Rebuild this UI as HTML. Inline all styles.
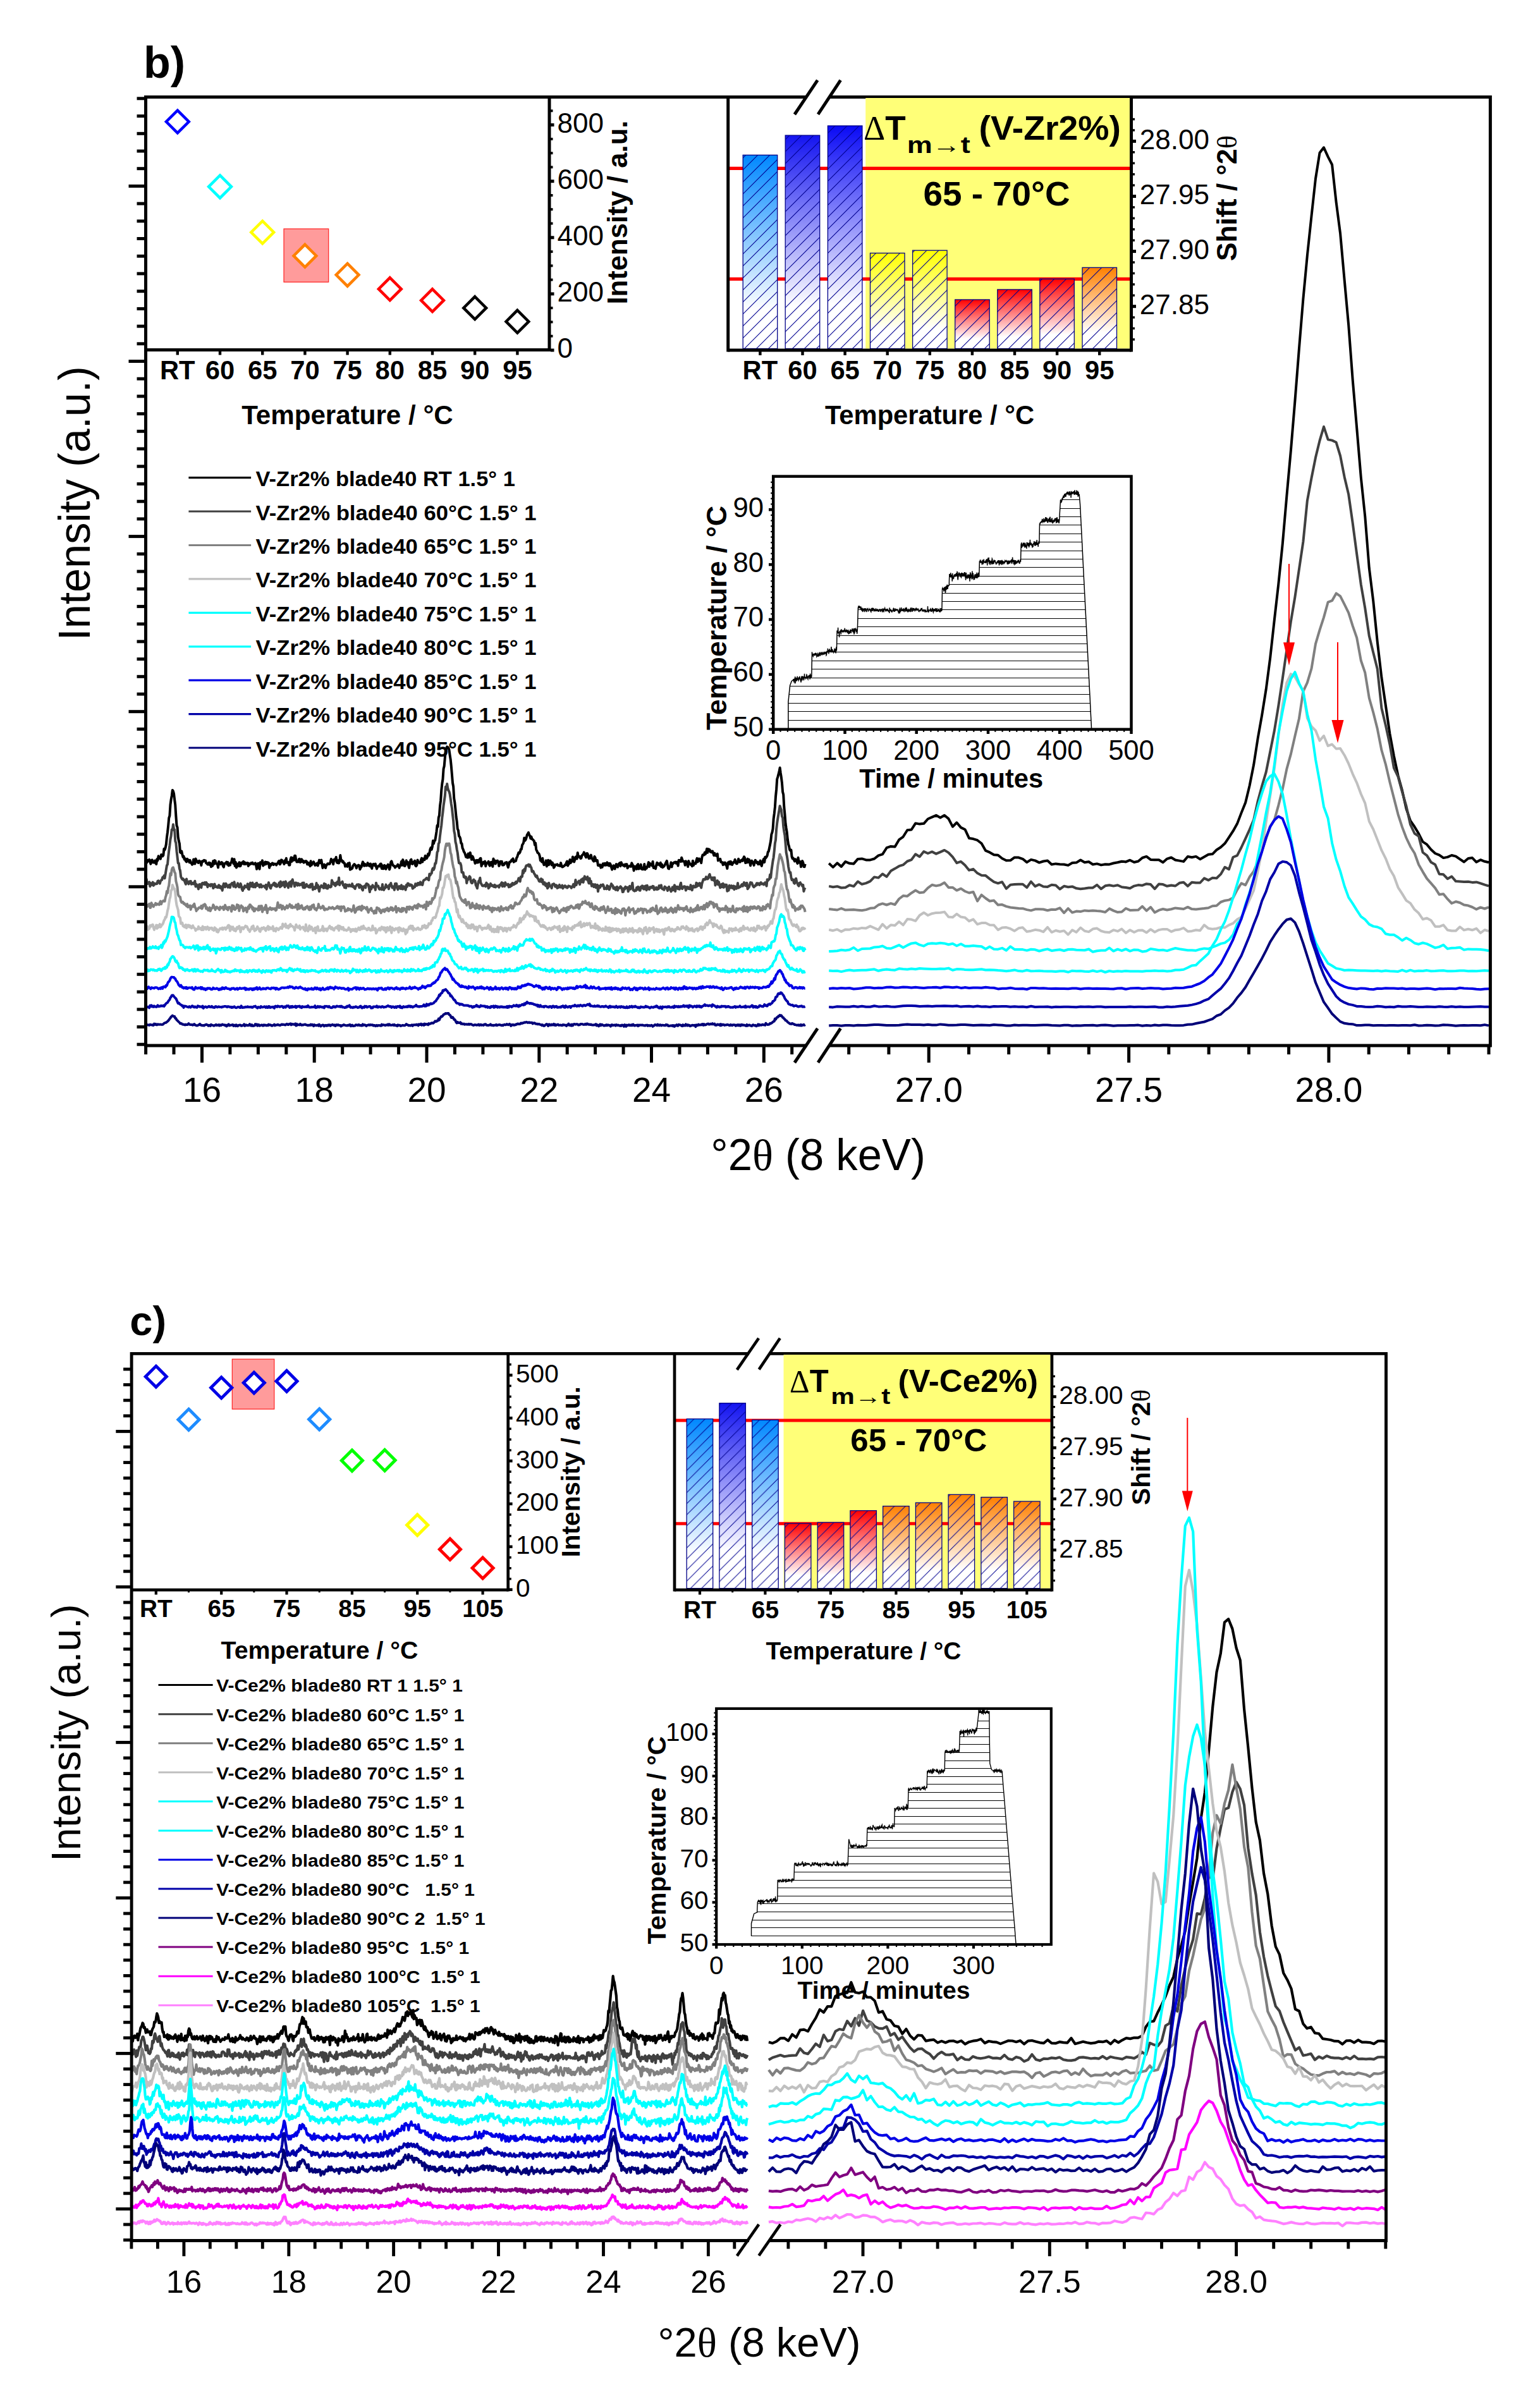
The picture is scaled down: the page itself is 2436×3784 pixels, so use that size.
<!DOCTYPE html>
<html><head><meta charset="utf-8"><title>XRD figure</title>
<style>html,body{margin:0;padding:0;background:#fff}svg text{white-space:pre}</style></head>
<body>
<svg width="2436" height="3784" viewBox="0 0 2436 3784" style="display:block">
<rect width="2436" height="3784" fill="#fff"/>
<path d="M0 13650l1 2 1-17 1-26 1 13 1-24 1 29 1 39 1-53 1-10 1 39 1 1 1 3 1-31 1 25 1 30 1-80 1 23 1-70 1 36 1-15 1 22 1-66 1 20 1 5 1-17 1-100 1 15 1-33 1-53 1-111 1-81 1-104 1-122 1-33 1-175 1-82 1-61 1-89 1 17 1 39 1 94 1 84 1 177 1 149 1 30 1 152 1 62 1 42 1 139 1 8 1-27 1 52 1 40 1-11 1 49 1-15 1 42 1 11 1-46 1 30 1-11 1 36 1-33 1 40 1 4 1 24 1-10 1-72 1 23 1 47 1-79 1 27 1 9 1 22 1 5 1-32 1 14 1-1 1 60 1-61 1-9 1 7 1-18 1 5 1 0 1 40 1 3 1 19 1-1 1-28 1 32 1-25 1 58 1-26 1 12 1-77 1 50 1-60 1 7 1 43 1 2 1 5 1 56 1-94 1 21 1 19 1-2 1-28 1 8 1 51 1 18 1-55 1-3 1-11 1-11 1 38 1-34 1 51 1-7 1 1 1-38 1-8 1-56 1 15 1 63 1-69 1 108 1-62 1 87 1-60 1 37 1-19 1-42 1 61 1-6 1-50 1 17 1-18 1-18 1 42 1-26 1 26 1-16 1 5 1-9 1 49 1-38 1 15 1-6 1-18 1 9 1-14 1 22 1 1 1 1 1-18 1 34 1 61 1-81 1-9 1 60 1 29 1-105 1 23 1-16 1-35 1 82 1-23 1 3 1-41 1 37 1-32 1 20 1-17 1 8 1 77 1-58 1 19 1-16 1-18 1 3 1 22 1-12 1-4 1 6 1 14 1-22 1-3 1-31 1-9 1 54 1-17 1-52 1 5 1 23 1 14 1 23 1-55 1 34 1-71 1 71 1-7 1 0 1 45 1-1 1-84 1-36 1 64 1-58 1 16 1 21 1-70 1-1 1 71 1 27 1-11 1 10 1-43 1-3 1 53 1-21 1-27 1 40 1-16 1 29 1-21 1 11 1-15 1 6 1 46 1-27 1 31 1-20 1 44 1-78 1 62 1-19 1-10 1-23 1 24 1 32 1-19 1 12 1-27 1 39 1-40 1-48 1 45 1-22 1-23 1 70 1 54 1-34 1-20 1 10 1 44 1-41 1-11 1-16 1 2 1 5 1-3 1-33 1-44 1 40 1-17 1 60 1-74 1 16 1-19 1-35 1 83 1 7 1-38 1 42 1-24 1-101 1 75 1 2 1 31 1-11 1 26 1 2 1 52 1-10 1-18 1 31 1-50 1 18 1-25 1 105 1-11 1 1 1-11 1-40 1-11 1-15 1 12 1 17 1 35 1-32 1-12 1-5 1 9 1 58 1-26 1-12 1-42 1-37 1 22 1 40 1-28 1 20 1 5 1-3 1-40 1 38 1-18 1 32 1-38 1 43 1 31 1-60 1-10 1 17 1 6 1-26 1 42 1 36 1-32 1-8 1-11 1 12 1-39 1-2 1 76 1-49 1 52 1-2 1-52 1 10 1 49 1-42 1-13 1-17 1 40 1 38 1-39 1-78 1-13 1 38 1 25 1 10 1 2 1 25 1-19 1 0 1-11 1-18 1 19 1 34 1-37 1-3 1-61 1 60 1-89 1 31 1 68 1 2 1-19 1-68 1 47 1-22 1 55 1 36 1-77 1-43 1-12 1 67 1 4 1-29 1 6 1-28 1 75 1 9 1-17 1-79 1 32 1 5 1 10 1 1 1-52 1-24 1 58 1-50 1 12 1 5 1-65 1 23 1 19 1-20 1-50 1 23 1-38 1-58 1-25 1 28 1-42 1-97 1 45 1-42 1-9 1-66 1-71 1-99 1 20 1-144 1-36 1-150 1-81 1-167 1-104 1-70 1-163 1-43 1-130 1-119 1-27 1-30 1 6 1 10 1 32 1 81 1 70 1 108 1 130 1 134 1 58 1 187 1 68 1 106 1 117 1 74 1 119 1 23 1 87 1 14 1 30 1 71 1 4 1 73 1 23 1 35 1 15 1 30 1 39 1-15 1 23 1-61 1 60 1-59 1-17 1 59 1 50 1-53 1 16 1 42 1 7 1 47 1-36 1-12 1 37 1-37 1 32 1-36 1-24 1-3 1 124 1-54 1 19 1-29 1 3 1-15 1 76 1-50 1 3 1-3 1-24 1 52 1 17 1-53 1-5 1 28 1 41 1-124 1 73 1-43 1 50 1-44 1 17 1-20 1 20 1 62 1-24 1-47 1 6 1-6 1 58 1-1 1-4 1-23 1-13 1 9 1-13 1 46 1 35 1-43 1-43 1 0 1-9 1-24 1 10 1-30 1 54 1-11 1-3 1-4 1-46 1-19 1-35 1-32 1 12 1-20 1-45 1 1 1-67 1-16 1-24 1-74 1 43 1-14 1-34 1-42 1-16 1-21 1 36 1 19 1 39 1-28 1 37 1 7 1 12 1 13 1 61 1-29 1 104 1 20 1 28 1 8 1 11 1 36 1 70 1 2 1 17 1-55 1 67 1 38 1-5 1-11 1-53 1 90 1-30 1-67 1 75 1-53 1-12 1 21 1 46 1-38 1 27 1 53 1-15 1-30 1 4 1-8 1-5 1 20 1-2 1-1 1 10 1-48 1 44 1 20 1-2 1-11 1-4 1-18 1 3 1-38 1-19 1 69 1-27 1-6 1-63 1 51 1-21 1-1 1-72 1 61 1 17 1-35 1-43 1-3 1 32 1-95 1 63 1 3 1-8 1 31 1-1 1-41 1-16 1-7 1-31 1 30 1 29 1 21 1-64 1 5 1 33 1 43 1-33 1 30 1-51 1 49 1 14 1 25 1 11 1-76 1 19 1 51 1-9 1-1 1 82 1 1 1 2 1-14 1 46 1-35 1 27 1-56 1 0 1 25 1-29 1 30 1-12 1-33 1 43 1-25 1 36 1-39 1 23 1 39 1 36 1-19 1-45 1 11 1 42 1-48 1-26 1 34 1 12 1-44 1-9 1-12 1 49 1-59 1 28 1 10 1 13 1-13 1 23 1-30 1 16 1-17 1 61 1-21 1-10 1 4 1-12 1 14 1-56 1 25 1 19 1 77 1-42 1-26 1 26 1 18 1-67 1-10 1 74 1-17 1 5 1-58 1 71 1 4 1-25 1 24 1-80 1 86 1-40 1 21 1-19 1-33 1-44 1 69 1-50 1 20 1-9 1 23 1-65 1 100 1-19 1 14 1 18 1-56 1-39 1 31 1-17 1 11 1 19 1-43 1 64 1-38 1 47 1-6 1-13 1-15 1-25 1-22 1-21 1 59 1 59 1 7 1-36 1-9 1-55 1 71 1-53 1-1 1-17 1 1 1-10 1 22 1-20 1 4 1 54 1-87 1 1 1 3 1 19 1-64 1 35 1 24 1-2 1 10 1 53 1-65 1 36 1-8 1 60 1-89 1 31 1 10 1 15 1-4 1 30 1-86 1 73 1-35 1 2 1 5 1-49 1-34 1 55 1-37 1-13 1 33 1-20 1 54 1-87 1-39 1-4 1 4 1-40 1 27 1-33 1-52 1 61 1-56 1 4 1 7 1 33 1-9 1 15 1-17 1 29 1 39 1-36 1 34 1 4 1 6 1-34 1 108 1-23 1 8 1-12 1 50 1 0 1 5 1 39 1-35 1 25 1-25 1 29 1 20 1 43 1-94 1 12 1-23 1 37 1-42 1 22 1 29 1-25 1-16 1 4 1-46 1 34 1 31 1 0 1-26 1-49 1 29 1 21 1-10 1-17 1-9 1 18 1-41 1-25 1 19 1 79 1-44 1 37 1-58 1 53 1-42 1 24 1 72 1-36 1-41 1 30 1-3 1 46 1-53 1-28 1 21 1 21 1-15 1 36 1-23 1 20 1-53 1 55 1 29 1-51 1-35 1-25 1 53 1-83 1 14 1-17 1-22 1-54 1-13 1-52 1-54 1-58 1-103 1-30 1-57 1-160 1-83 1-100 1-169 1-110 1-165 1-35 1-43 1-42 1-60 1 83 1 71 1 89 1 140 1 41 1 199 1 111 1 145 1 77 1 65 1 113 1 75 1 34 1 56 1 10 1-7 1 105 1 30 1-7 1 26 1 23 1-32 1 11 1 21 1 36 1-92 1 78 1-15 1 0 1 81 1-63 1-29 1 27 1 64 1 1 1-44" transform="translate(230.60,0) scale(1.1108,0.1)" vector-effect="non-scaling-stroke" fill="none" stroke="#000000" stroke-width="4.0" stroke-linejoin="round"/>
<path d="M0 13974l1-68 1 76 1-5 1-3 1-21 1 70 1-52 1 11 1 15 1-41 1 53 1-34 1 13 1-11 1 5 1-2 1-42 1-5 1 22 1 22 1-38 1-15 1-5 1-40 1 5 1-30 1 40 1-68 1-68 1-67 1-17 1-118 1-100 1-79 1-98 1-52 1-105 1 10 1-90 1 77 1 4 1 182 1 31 1 128 1 96 1 95 1 0 1 86 1 33 1 94 1 24 1 19 1-11 1 24 1-4 1 42 1 26 1-84 1 57 1 1 1 23 1-41 1 26 1-30 1 48 1-6 1-14 1 15 1-22 1-22 1 85 1-36 1 18 1 21 1 37 1-72 1-2 1 44 1 7 1-67 1-6 1 17 1 4 1-28 1 34 1-35 1 16 1 56 1-41 1 5 1 8 1 13 1-28 1 11 1-8 1 59 1-13 1-53 1 42 1 5 1-9 1 17 1-2 1-36 1 41 1-24 1 33 1-23 1 58 1-69 1-41 1 41 1 14 1-54 1 14 1 23 1 22 1-14 1-25 1 43 1-49 1-12 1-12 1 8 1 49 1-72 1 57 1 25 1-21 1-6 1-34 1 48 1 13 1-18 1-38 1 34 1 53 1 24 1-53 1 18 1-44 1 19 1-4 1 11 1-55 1 83 1 5 1-79 1-24 1 56 1-12 1-46 1 68 1-22 1-20 1 43 1-61 1-4 1 41 1-17 1 7 1 35 1-40 1-3 1 42 1-13 1-4 1-1 1 8 1 16 1-41 1 68 1-68 1 7 1-45 1 41 1 41 1 11 1-51 1 5 1-10 1-24 1-7 1 47 1-36 1 47 1-2 1-23 1-3 1-32 1 67 1-86 1 72 1-15 1-35 1-15 1 52 1 28 1-89 1 25 1 40 1 2 1 32 1-81 1 43 1-58 1 79 1-90 1-22 1 55 1 8 1 46 1-57 1-1 1 16 1 26 1-34 1 26 1 5 1-18 1 11 1-3 1-27 1 73 1-74 1 77 1-7 1-30 1-17 1 31 1 5 1 8 1-24 1 29 1-51 1 36 1-39 1 90 1-29 1-11 1 27 1-11 1-80 1 73 1-42 1 55 1 45 1-71 1 4 1-26 1 11 1 10 1 19 1-71 1 68 1-58 1 46 1 23 1 0 1-54 1 30 1-8 1 11 1-8 1-102 1 33 1 3 1 34 1-19 1 38 1-49 1 27 1-45 1 37 1-99 1 116 1-34 1-1 1-8 1-12 1 59 1-2 1 39 1-52 1 57 1-49 1 1 1 9 1 12 1-23 1 10 1 14 1-3 1-37 1 48 1-10 1 28 1 13 1-40 1-12 1-15 1 10 1-13 1 52 1-45 1 32 1-12 1 50 1 16 1-58 1-5 1-8 1 32 1-64 1 0 1 9 1 7 1 56 1 59 1-87 1 41 1-29 1-33 1 29 1 4 1-13 1 56 1-111 1 45 1 9 1-7 1 41 1 12 1-15 1 4 1 15 1-82 1 76 1 12 1-36 1 6 1-54 1 37 1-5 1-6 1 42 1-65 1 13 1-40 1 46 1 27 1-19 1 4 1 49 1-97 1-2 1 0 1 71 1 23 1-23 1-29 1 14 1 25 1-56 1 58 1 4 1-43 1 12 1 17 1 25 1-75 1 27 1-53 1 2 1 27 1 6 1-16 1 5 1 4 1 53 1-6 1-24 1 6 1-51 1 19 1 8 1-34 1-4 1 27 1-13 1-31 1 41 1-21 1 25 1-55 1-20 1-4 1-6 1-14 1-11 1 20 1-10 1 24 1-97 1 23 1-25 1-7 1-60 1-21 1 23 1-29 1-71 1 1 1-74 1-105 1-17 1-118 1-18 1-108 1-87 1-77 1-120 1-84 1-106 1-76 1-76 1-147 1 45 1-92 1 68 1 36 1 20 1 40 1 72 1 85 1 65 1 105 1 95 1 159 1 52 1 121 1 43 1 76 1 56 1 90 1 70 1 5 1-1 1 35 1 109 1-3 1 6 1 71 1-10 1 25 1-16 1 97 1-57 1 2 1-29 1-23 1 12 1 71 1 23 1 0 1-38 1-16 1 24 1-3 1 68 1 20 1 29 1-67 1-46 1-11 1-42 1 82 1 16 1 24 1 6 1 0 1-13 1-3 1 24 1-59 1 24 1-1 1 65 1-12 1-28 1-34 1 35 1-13 1 18 1-9 1 21 1-32 1 37 1-16 1-4 1 4 1-5 1 22 1-36 1 5 1-26 1-18 1 62 1-50 1 44 1 4 1-60 1 30 1 6 1 5 1-16 1 48 1-32 1 24 1-34 1 20 1-42 1 14 1 10 1-24 1 11 1-31 1 19 1-21 1-18 1-36 1 17 1 34 1-74 1 5 1-11 1-95 1 40 1-60 1 28 1-62 1-24 1 2 1-9 1-8 1 30 1-25 1 28 1 17 1 61 1-13 1 12 1 31 1 14 1 28 1 13 1-19 1 41 1 10 1 34 1 7 1-5 1-40 1 52 1-37 1 71 1 0 1-27 1 46 1 11 1-37 1 72 1-12 1-72 1 34 1 19 1-2 1 31 1-61 1 0 1-9 1 14 1 32 1-23 1 2 1 44 1-28 1 18 1-41 1 35 1 5 1-8 1-25 1 49 1-30 1 0 1-14 1 23 1-6 1 19 1-11 1-21 1 6 1 1 1 7 1 19 1-20 1-10 1-29 1 45 1-26 1-86 1 80 1-36 1-10 1 5 1-25 1 56 1-34 1-42 1 34 1-49 1 59 1-62 1-34 1 44 1-6 1 13 1-44 1 69 1 34 1-77 1 80 1-36 1 77 1-23 1-4 1 40 1-16 1-22 1 49 1-27 1-16 1 104 1-62 1-23 1 23 1-41 1 11 1 3 1-20 1 21 1 48 1-17 1 12 1 6 1-54 1 49 1-35 1 50 1-24 1-33 1-35 1 27 1 0 1 47 1 3 1-18 1 38 1-10 1-40 1 56 1-37 1-5 1 6 1-25 1 14 1 16 1 58 1-2 1-55 1 13 1-40 1 10 1 14 1-12 1 64 1-43 1-42 1 50 1-31 1-7 1-63 1 113 1 9 1 7 1-14 1 7 1-48 1 30 1-42 1 13 1 44 1 1 1-60 1 23 1-37 1 7 1 46 1-1 1-47 1-4 1 68 1-75 1 47 1 11 1 5 1-38 1 13 1-13 1 13 1-26 1 3 1 53 1-5 1-10 1-21 1 33 1-23 1 14 1-53 1 34 1-12 1-29 1 53 1 8 1 4 1 9 1-51 1 10 1 8 1 11 1 35 1-47 1-14 1 41 1-4 1 37 1-33 1-34 1 45 1-48 1-30 1 96 1-71 1 23 1-23 1 34 1-30 1 36 1-68 1-33 1 84 1 9 1-19 1-17 1-1 1 3 1 59 1-21 1-33 1 2 1 27 1 0 1 5 1-64 1 41 1 39 1-59 1-8 1 22 1-4 1 2 1-68 1 57 1-46 1 7 1 24 1-37 1 38 1 35 1-65 1-34 1-34 1 6 1-13 1 7 1-40 1 23 1 10 1-10 1-45 1-19 1 47 1 3 1 37 1 2 1-36 1 46 1-46 1 122 1-30 1-20 1-25 1 64 1-43 1 50 1 42 1-15 1-41 1 44 1-54 1 62 1-27 1-17 1 30 1-28 1 100 1-64 1 53 1-79 1 41 1-20 1-17 1 38 1 2 1-36 1 56 1-47 1 4 1 30 1-14 1-74 1 76 1-18 1 5 1-7 1-21 1-14 1 27 1-32 1-26 1 17 1 33 1-39 1-3 1 95 1-16 1-14 1-33 1-40 1 9 1-3 1 31 1 26 1 11 1-21 1 3 1-18 1-26 1 25 1-23 1 3 1 23 1-29 1-11 1 24 1 0 1-5 1 15 1-9 1-23 1 21 1 34 1-104 1 17 1-18 1-3 1-74 1 47 1-108 1-77 1-77 1-57 1-103 1-118 1-56 1-165 1-100 1-73 1-68 1-65 1-66 1 35 1 28 1 103 1 19 1 143 1 78 1 59 1 125 1 148 1 53 1 71 1 94 1 59 1 42 1-6 1 80 1 41 1-9 1 4 1 51 1 9 1-63 1-15 1 55 1 23 1 28 1 12 1-49 1-5 1 26 1 2 1 26 1-16 1 100 1-38 1-20" transform="translate(230.60,0) scale(1.1108,0.1)" vector-effect="non-scaling-stroke" fill="none" stroke="#404040" stroke-width="4.0" stroke-linejoin="round"/>
<path d="M0 14333l1-26 1 36 1-20 1-4 1-21 1 62 1-3 1-75 1 32 1 0 1 29 1-27 1-2 1-26 1 25 1-15 1 8 1-6 1 12 1-37 1-18 1 46 1-35 1-6 1-13 1 8 1 1 1-62 1-32 1-66 1 28 1-79 1-40 1-98 1-91 1 27 1-84 1-32 1-6 1 35 1 39 1 19 1 124 1 42 1 54 1 114 1 23 1 11 1 6 1 64 1 22 1-10 1 3 1 29 1-8 1 22 1 6 1 16 1-33 1 49 1-4 1-16 1-4 1 63 1-52 1 10 1-23 1 21 1-47 1 50 1 18 1 45 1-27 1 2 1-21 1-9 1 1 1 8 1-35 1 45 1-20 1-39 1 11 1-23 1 13 1 58 1-22 1 31 1 17 1-3 1-42 1 55 1-29 1-16 1-3 1-49 1 18 1 24 1 36 1-31 1-14 1 8 1 15 1 7 1 15 1-46 1 11 1 9 1-2 1-19 1 46 1-37 1-35 1 36 1 24 1-24 1 40 1-43 1-1 1 6 1 12 1 48 1-94 1 60 1-54 1 31 1 30 1-15 1-7 1-57 1 49 1-39 1 89 1-60 1 6 1-30 1 29 1-8 1 68 1-42 1 21 1-32 1 14 1 52 1-60 1-26 1 32 1-62 1 3 1 32 1-7 1 46 1-27 1 55 1-2 1-39 1 9 1-7 1 5 1 20 1-65 1 59 1-62 1 8 1-10 1 95 1-33 1 0 1-33 1 29 1-71 1 52 1 74 1-68 1 8 1 1 1-27 1 24 1 10 1-20 1 10 1-9 1 9 1-10 1 32 1-9 1-51 1-65 1 59 1 23 1-32 1-12 1 25 1 43 1-54 1 21 1 10 1 23 1-31 1 4 1-31 1 39 1-20 1-13 1-25 1 20 1 29 1-31 1 37 1-8 1-6 1 8 1-5 1-36 1 12 1 59 1-86 1 29 1 43 1-17 1-24 1-8 1 45 1 14 1 4 1-22 1 18 1-32 1 6 1-21 1 20 1 28 1 11 1-51 1 45 1-33 1-33 1 25 1-35 1 56 1 17 1-12 1 25 1-31 1-2 1-64 1 51 1-5 1 23 1-10 1-1 1-27 1 7 1 52 1 5 1-21 1 4 1 8 1-3 1-7 1-24 1 12 1-4 1 11 1-8 1-12 1 10 1 19 1-7 1-4 1-4 1-23 1-8 1 30 1 7 1-27 1 1 1 63 1-66 1 10 1 6 1-18 1 28 1 48 1-12 1 3 1-17 1-21 1 26 1-15 1 2 1 9 1 25 1-24 1-1 1-67 1 77 1 34 1-17 1-41 1-16 1 26 1-39 1 33 1-38 1 45 1 13 1-73 1 48 1-15 1-12 1 12 1 4 1 18 1-33 1 56 1 28 1-46 1 1 1-10 1-15 1 43 1 3 1 5 1 33 1-36 1-10 1 41 1-87 1 6 1 13 1-4 1 43 1-22 1 49 1-22 1-14 1-16 1 26 1 7 1-41 1 18 1-5 1-30 1 41 1 7 1-34 1 12 1-36 1 36 1-30 1 43 1-19 1 3 1-19 1-30 1 93 1-59 1 27 1-32 1 15 1 33 1-29 1 36 1-57 1 47 1-45 1 5 1 6 1 23 1 29 1-83 1 29 1-30 1 40 1-43 1 16 1-7 1 27 1 8 1-43 1 1 1-21 1 23 1 17 1-42 1 44 1-65 1 9 1 12 1 16 1-10 1 6 1-4 1 26 1-25 1-19 1 6 1 66 1-121 1 36 1 29 1-32 1-30 1 6 1 23 1-22 1-63 1 21 1-26 1-3 1-37 1-55 1-66 1 6 1-26 1-67 1-37 1-2 1-126 1-27 1-70 1-47 1-38 1-52 1-108 1-59 1-44 1 29 1-30 1 19 1-21 1 58 1 86 1 31 1 80 1 67 1 53 1 34 1 110 1 31 1 77 1-24 1 55 1 35 1 73 1 66 1 24 1 17 1 23 1 15 1-13 1 26 1 10 1-52 1 51 1 43 1-46 1 13 1-19 1 38 1 58 1-3 1-29 1-48 1 61 1-23 1 5 1 45 1-4 1-70 1 64 1-20 1-19 1 54 1-54 1 21 1-1 1 17 1 29 1-62 1 16 1 6 1 19 1-16 1 15 1-26 1-6 1 37 1 18 1-27 1 32 1 31 1-66 1 8 1 28 1-29 1 10 1-2 1 19 1-16 1-20 1 21 1 37 1-9 1-69 1 36 1 5 1 19 1-28 1 1 1 2 1-18 1 36 1-13 1 17 1-47 1 5 1-23 1-11 1 49 1-28 1 29 1-38 1-2 1-49 1 1 1 17 1 7 1-4 1-9 1 4 1-27 1-18 1-11 1-32 1-21 1 8 1-45 1 26 1 2 1-29 1-73 1-29 1 35 1 4 1 26 1-19 1 11 1 33 1-23 1 25 1 77 1 23 1-2 1 2 1-14 1 68 1-2 1 18 1-16 1 20 1 3 1 15 1 37 1-15 1-34 1 33 1-16 1 15 1 44 1-8 1-20 1 10 1-12 1-10 1-4 1 19 1 58 1-65 1 55 1-8 1-35 1 2 1-21 1 23 1 30 1 7 1 28 1-17 1-21 1-16 1-1 1 11 1-36 1 41 1-17 1-18 1 55 1-72 1-1 1 40 1-46 1 17 1-31 1-2 1 18 1 2 1 18 1-3 1 0 1-22 1-23 1 35 1-45 1 0 1 65 1-28 1-41 1 1 1 3 1-46 1 20 1-12 1 11 1-31 1 34 1 11 1-10 1 18 1-27 1 41 1 28 1-8 1-47 1 53 1 28 1 1 1 14 1-55 1 34 1-21 1 23 1 13 1 15 1-20 1 28 1-49 1-3 1 35 1-6 1-46 1 33 1 34 1 37 1-30 1-11 1-57 1 62 1 2 1-13 1-14 1-3 1 62 1 2 1-20 1-24 1 60 1-90 1 45 1 28 1-54 1 36 1-21 1 34 1-11 1 29 1-48 1-28 1 21 1-25 1 17 1 89 1-73 1-1 1-12 1-17 1-19 1 77 1-45 1 8 1-7 1-13 1-5 1 40 1 42 1-25 1 15 1-34 1 11 1-43 1 37 1-23 1 6 1-25 1 13 1-7 1 66 1-58 1-7 1 14 1-7 1 20 1 30 1-26 1-2 1-4 1 22 1-51 1 38 1-47 1-7 1 21 1 18 1 5 1 8 1-85 1 68 1 62 1-37 1 17 1-44 1-29 1-6 1 51 1 16 1-38 1 18 1 11 1-55 1 18 1 37 1 21 1-41 1 32 1-44 1-4 1-19 1 56 1-37 1 58 1-32 1-5 1-38 1 66 1-33 1-21 1-54 1 61 1 6 1-26 1 1 1 18 1 0 1-14 1 39 1-37 1-7 1 21 1-44 1 37 1 34 1-9 1-6 1 35 1-67 1 39 1 14 1 11 1-41 1 5 1 17 1-42 1 34 1-55 1-24 1 75 1 0 1-17 1-27 1-5 1 22 1 14 1-43 1-20 1 64 1-58 1-17 1-20 1 62 1-56 1 28 1-55 1 22 1-23 1 18 1 19 1-22 1 73 1-53 1 13 1 16 1-25 1 55 1 18 1-13 1 52 1-44 1 18 1-4 1-16 1 18 1-9 1-12 1 27 1-64 1 45 1-20 1 74 1-51 1 5 1-10 1 49 1-28 1-6 1-59 1 78 1 9 1 10 1 2 1-58 1 0 1 26 1-10 1-16 1 3 1 1 1 13 1 4 1-38 1 63 1-82 1 32 1 44 1-41 1-22 1 76 1-35 1-32 1 39 1-51 1-1 1 19 1 11 1-30 1 20 1-23 1 25 1-8 1 17 1-9 1-28 1 3 1 9 1 50 1-6 1-27 1 31 1-61 1 41 1-28 1 31 1-14 1-50 1 17 1-31 1 29 1-3 1 39 1-111 1-47 1-56 1 11 1-116 1-33 1-22 1-92 1-2 1-101 1-105 1-65 1-64 1-51 1 31 1 15 1 40 1 40 1 53 1 82 1 20 1 97 1 100 1 74 1 10 1 50 1 83 1 57 1-36 1 50 1 31 1 39 1-35 1 45 1-18 1 64 1-23 1-8 1-3 1 15 1-6 1-33 1 27 1-49 1 16 1-14 1 19 1 15 1 17 1 47" transform="translate(230.60,0) scale(1.1108,0.1)" vector-effect="non-scaling-stroke" fill="none" stroke="#808080" stroke-width="4.0" stroke-linejoin="round"/>
<path d="M0 14669l1 17 1-31 1 52 1-12 1-4 1-50 1 17 1-22 1 11 1-20 1 50 1 32 1-39 1-3 1-32 1 54 1-50 1 33 1-33 1-20 1 47 1-16 1-21 1-7 1-26 1-36 1-14 1-37 1 4 1-43 1-64 1-37 1-81 1-66 1-38 1-99 1-5 1-79 1 25 1 33 1 0 1 63 1 124 1 73 1 38 1 36 1 101 1 12 1 15 1 91 1-4 1-9 1 50 1-8 1 25 1 1 1-37 1 51 1-22 1-25 1 0 1 33 1-23 1 12 1 27 1-8 1-33 1 27 1 11 1 8 1 34 1-23 1-3 1 4 1-43 1 37 1-1 1-12 1 26 1 3 1-55 1 54 1-39 1 14 1-16 1 35 1-19 1-22 1 29 1 18 1-31 1 9 1-9 1-1 1 31 1-3 1 14 1-46 1 11 1 7 1 47 1-31 1 39 1-27 1-16 1-17 1 2 1 10 1-22 1 28 1-24 1-5 1 4 1 24 1-29 1 6 1-37 1-7 1 14 1 76 1-69 1 32 1 13 1-40 1 43 1 15 1-26 1 36 1-34 1-29 1 27 1-31 1-13 1 29 1 65 1-61 1-12 1 10 1 15 1-25 1-1 1-23 1 15 1-7 1 23 1 34 1-4 1 31 1-29 1-15 1-35 1 33 1-48 1 47 1 35 1-29 1 14 1-27 1-26 1 31 1-3 1 46 1 5 1-45 1-14 1 18 1-15 1-12 1 14 1 25 1 14 1-45 1 2 1-28 1 55 1-39 1 3 1 24 1-4 1 2 1-38 1 70 1-34 1 9 1 31 1-50 1 13 1-3 1 20 1-19 1-4 1-20 1 3 1 19 1-76 1 44 1-17 1 11 1-37 1 59 1-29 1 27 1 11 1-43 1 20 1-39 1 28 1-1 1 5 1 13 1 6 1 46 1-50 1-41 1 22 1 20 1 8 1-12 1-21 1 58 1-29 1 1 1-2 1-9 1 41 1-5 1 28 1-102 1 69 1 16 1 20 1-46 1-40 1 61 1-24 1-17 1 24 1 37 1-4 1-16 1-26 1 81 1-87 1 8 1-26 1 69 1-4 1 4 1-6 1-16 1 11 1-62 1 76 1 0 1-33 1 6 1-7 1 35 1-28 1-15 1-19 1-17 1 32 1 15 1-26 1 16 1 25 1 5 1-31 1-6 1-12 1-5 1 28 1-46 1 75 1-72 1 40 1-24 1 36 1-16 1-15 1 46 1-14 1 14 1-3 1 11 1-15 1 1 1-33 1 25 1-3 1 44 1-28 1-13 1 22 1-22 1 17 1 13 1-36 1 41 1-21 1-14 1-25 1 31 1 4 1-37 1-14 1 37 1-36 1-13 1 44 1-11 1 8 1 8 1 17 1-4 1-29 1 3 1 19 1 15 1-2 1-1 1-70 1 52 1 12 1-4 1-18 1 78 1-17 1-33 1-1 1-17 1-12 1 33 1-26 1-28 1 20 1 20 1-31 1 46 1-42 1 71 1-17 1-60 1 34 1 12 1-28 1-30 1 54 1 45 1-82 1 29 1-5 1 19 1-19 1-13 1 14 1 3 1-20 1 65 1-75 1 32 1-20 1 39 1-8 1 12 1-37 1 23 1-3 1 66 1-69 1 45 1-46 1-10 1-34 1 27 1-44 1 2 1 47 1-46 1 71 1-37 1 13 1 1 1 10 1-16 1-14 1 1 1 27 1-6 1 9 1-14 1 1 1-47 1 23 1-11 1-25 1 41 1 8 1-33 1 20 1-25 1-39 1 15 1-12 1 4 1-51 1-1 1-41 1-5 1-5 1 9 1-14 1-51 1-28 1-41 1-41 1-20 1-125 1 15 1-34 1-39 1-96 1-1 1-45 1-73 1-67 1 12 1-27 1 1 1-11 1 69 1 4 1 18 1 63 1 63 1 87 1 68 1 0 1 60 1 5 1 78 1 80 1-43 1 91 1 33 1-22 1 41 1 18 1 36 1-41 1 18 1 39 1 0 1 11 1-10 1 51 1-29 1 57 1-38 1 1 1 41 1-1 1-59 1 47 1-43 1 30 1 41 1-36 1 30 1-29 1 67 1-50 1-19 1-15 1 2 1 29 1 2 1 28 1-27 1 6 1 1 1-13 1 12 1 2 1-5 1-34 1-18 1 47 1 25 1-46 1 47 1 32 1-22 1-20 1 49 1-13 1-30 1 39 1-7 1-71 1 84 1-72 1 16 1-22 1 27 1-20 1 32 1 23 1-29 1-19 1 36 1-35 1 52 1-46 1 2 1-10 1 24 1 8 1-30 1-11 1-2 1-2 1-33 1 22 1-4 1 21 1-27 1-22 1-23 1 10 1-37 1-50 1 65 1-44 1 3 1-31 1 22 1-58 1 25 1-32 1-20 1-36 1 46 1-15 1 29 1 17 1-19 1 12 1-1 1 13 1-8 1 10 1 64 1-66 1 56 1 25 1 7 1-21 1 45 1 9 1 23 1 13 1-13 1-9 1 26 1-22 1 29 1-8 1 25 1 1 1 23 1-21 1-4 1-7 1 8 1 24 1-9 1-29 1 23 1-30 1-11 1 15 1 7 1-3 1-9 1 42 1-34 1-22 1 92 1-42 1 2 1 20 1-45 1 43 1-68 1 11 1 41 1-3 1 40 1-80 1 15 1 9 1 7 1-1 1-11 1 32 1-54 1 6 1 11 1-37 1 10 1-12 1 5 1-18 1 15 1-37 1 33 1-52 1 85 1-5 1-9 1-31 1-17 1 44 1-29 1 8 1-23 1 29 1-23 1 11 1-19 1 33 1 41 1-23 1-5 1 23 1-17 1 24 1-70 1 80 1-3 1-41 1 8 1 63 1-45 1 15 1 18 1-5 1 23 1-34 1 23 1 8 1 2 1-60 1 56 1-25 1-13 1 56 1-60 1 69 1-61 1 52 1-26 1-24 1 31 1-6 1-15 1 15 1-20 1 40 1-5 1-30 1 5 1 9 1 44 1-6 1-36 1-18 1 52 1-53 1 38 1-10 1-32 1 43 1-22 1 41 1-10 1-52 1 28 1 17 1-24 1-25 1 68 1-39 1 20 1-15 1 2 1 1 1 27 1-3 1-47 1-13 1 46 1-34 1 13 1 36 1 31 1-58 1-38 1 39 1-53 1 42 1 57 1-17 1-46 1-25 1 51 1-22 1-18 1 10 1-10 1-18 1 82 1-40 1-6 1-10 1 38 1-33 1 34 1-31 1 39 1-21 1 2 1-17 1-3 1 42 1 37 1-85 1-7 1 21 1 3 1-30 1 16 1-34 1 35 1 24 1 2 1-33 1 1 1 24 1 10 1 2 1-32 1 7 1-2 1-35 1 1 1 23 1 3 1 9 1-8 1-38 1 8 1-13 1 25 1 3 1-6 1 27 1-51 1 40 1-19 1 52 1-30 1-4 1 23 1-19 1-12 1 42 1-10 1 19 1-26 1-11 1-2 1-9 1 40 1-23 1 3 1-33 1-16 1-1 1 45 1 4 1-45 1 4 1 12 1-57 1 6 1-31 1 38 1-22 1-14 1-40 1 28 1 12 1 9 1 6 1 51 1-53 1 20 1 12 1-17 1 8 1 32 1 3 1 13 1 6 1-17 1-25 1 12 1 46 1 29 1 24 1-46 1 38 1-6 1-17 1 5 1 2 1 19 1-65 1 23 1-16 1-3 1 39 1-10 1-24 1 17 1 3 1-38 1 34 1-2 1-1 1 5 1 24 1-47 1-7 1 41 1-46 1-1 1-29 1 57 1-29 1 16 1-6 1 8 1-21 1 20 1 20 1 0 1 5 1-37 1 2 1 3 1 33 1-48 1 32 1 29 1-38 1 15 1-64 1 29 1-28 1 40 1-9 1-5 1 26 1-7 1-25 1 6 1-21 1 21 1 45 1-54 1 19 1-39 1 7 1-22 1-16 1-37 1 14 1 19 1-65 1-18 1-74 1-55 1-12 1-49 1-85 1-36 1-26 1-63 1-15 1-62 1-60 1 48 1 24 1 34 1 75 1 41 1 89 1 77 1 29 1-14 1 60 1 78 1 21 1 4 1 35 1 27 1 20 1 9 1-21 1 14 1 5 1 18 1-35 1 44 1-12 1 52 1 20 1 0 1-15 1-33 1 18 1-24 1 16 1-5 1 20" transform="translate(230.60,0) scale(1.1108,0.1)" vector-effect="non-scaling-stroke" fill="none" stroke="#c0c0c0" stroke-width="4.0" stroke-linejoin="round"/>
<path d="M0 14993l1 19 1 2 1-15 1 0 1 5 1-23 1 23 1-3 1-16 1-13 1 15 1 8 1-5 1-18 1 28 1-12 1 5 1 17 1-31 1 6 1-18 1-18 1 45 1-29 1-57 1 17 1-44 1 13 1-28 1-26 1-28 1-47 1-45 1-61 1-48 1-36 1-71 1 3 1 0 1 15 1 60 1 13 1 81 1 39 1 67 1 17 1 39 1 34 1 10 1 67 1-5 1 5 1 2 1 29 1 3 1 14 1-15 1 3 1-1 1 0 1 7 1-9 1 0 1 18 1-10 1-4 1-6 1-20 1 30 1 27 1-13 1-44 1 35 1-37 1 76 1-27 1-21 1 29 1-21 1 16 1-10 1-18 1 35 1-34 1 28 1-13 1-31 1-14 1 55 1 12 1-33 1 54 1-18 1-5 1 5 1-16 1 24 1-7 1-14 1 71 1-34 1-40 1 5 1-2 1 8 1 8 1-1 1-24 1 0 1 5 1-8 1 37 1-43 1 32 1-17 1-11 1 27 1-18 1-24 1 20 1 17 1-25 1 37 1-5 1-14 1 31 1-3 1-23 1-25 1 41 1-11 1-31 1 11 1 0 1 17 1-21 1 53 1-17 1-1 1 6 1-33 1 11 1 12 1-21 1-1 1 11 1-17 1 21 1-34 1 32 1-9 1 23 1-19 1 28 1-2 1-3 1 17 1-17 1-7 1-6 1-14 1 5 1-16 1-1 1 19 1-21 1 54 1-53 1-11 1 20 1-36 1 56 1-7 1-16 1-23 1 15 1-24 1 67 1-13 1-12 1-12 1 29 1 18 1-38 1 3 1-14 1 43 1-10 1 31 1-52 1-14 1-11 1 31 1-39 1 41 1-10 1-17 1-19 1 37 1 18 1-36 1 13 1 19 1-36 1-8 1-26 1 13 1 22 1-4 1-3 1-30 1 7 1 12 1 23 1-32 1-3 1 40 1 13 1-19 1 9 1 14 1-10 1-18 1 28 1-5 1 20 1-30 1 25 1-16 1-30 1 46 1-8 1-24 1 44 1-42 1-11 1 19 1 25 1 12 1-2 1 19 1-22 1 10 1 29 1-48 1-42 1 35 1-1 1 16 1 2 1-34 1-4 1 4 1 3 1-40 1 74 1-22 1 19 1-1 1-8 1 2 1 4 1-10 1-9 1-14 1-4 1 21 1-4 1-21 1-37 1 26 1-24 1 62 1-14 1 9 1 16 1 51 1-43 1-49 1 21 1-9 1-2 1 38 1 30 1 0 1-41 1-2 1-1 1 27 1-54 1-17 1 63 1-20 1 23 1-29 1 25 1-24 1 23 1 11 1-20 1-7 1 30 1-23 1-22 1 45 1 23 1-24 1-51 1 28 1 3 1-27 1-35 1 57 1 7 1-4 1-42 1-7 1 41 1 8 1 8 1-11 1-12 1-22 1 0 1 8 1 15 1-10 1 22 1 20 1-21 1 50 1-69 1 23 1 14 1 1 1-61 1 61 1 12 1 5 1-63 1 24 1 3 1-25 1 26 1-30 1 46 1-1 1-39 1 1 1 7 1 21 1 17 1-23 1 20 1-39 1-29 1 27 1 20 1-10 1 1 1 15 1 15 1-38 1-9 1 12 1 43 1-27 1 5 1 25 1-18 1-34 1 34 1 4 1-18 1-1 1-26 1 9 1-15 1 20 1-23 1 31 1-36 1 11 1-14 1 20 1 9 1-2 1-10 1-34 1 61 1-32 1 13 1-28 1 19 1-55 1 31 1 19 1 26 1-1 1-14 1-42 1 34 1 4 1-15 1-6 1-31 1-16 1 20 1-11 1-58 1 19 1-24 1-2 1-36 1-6 1-27 1-26 1-71 1 17 1-46 1-54 1-15 1-81 1-4 1 0 1-69 1 11 1-30 1-7 1-38 1 39 1 17 1 37 1 20 1 69 1 34 1 48 1 41 1-1 1 51 1 19 1 36 1 4 1 42 1 31 1-12 1 29 1 5 1-6 1 42 1 34 1-27 1-20 1 51 1-19 1 59 1-40 1 16 1-18 1 15 1-19 1-9 1 18 1-14 1 53 1-35 1 10 1-23 1-16 1 77 1-55 1 64 1-46 1 32 1 47 1-81 1 14 1 28 1-20 1-25 1 28 1-1 1 30 1 8 1-47 1 7 1 28 1 21 1-39 1-1 1-13 1-10 1 17 1-4 1-17 1-10 1 6 1 17 1 33 1-14 1 5 1 7 1 2 1-17 1 12 1 26 1-35 1-13 1-20 1 32 1-15 1 35 1-41 1 26 1 2 1 14 1-55 1 47 1-16 1-2 1-8 1-15 1 3 1-35 1 48 1-17 1-19 1 14 1 41 1-50 1-28 1 11 1-36 1 16 1 7 1-7 1 7 1-20 1-34 1-15 1-10 1-19 1 14 1-2 1-3 1 10 1-25 1 28 1-17 1-11 1 10 1 20 1 19 1 22 1 5 1 2 1 45 1 5 1-19 1 28 1-7 1 1 1 1 1 51 1-24 1 19 1-21 1 24 1 26 1-28 1 15 1-1 1-14 1 18 1-15 1 5 1-22 1 55 1-46 1-11 1 30 1-30 1 18 1-28 1 19 1-13 1 42 1-18 1-9 1-6 1 16 1-14 1 21 1-6 1-4 1-21 1 21 1-30 1 19 1-3 1-13 1 10 1 2 1 50 1-49 1 2 1 31 1-18 1 12 1-49 1 3 1 71 1-61 1 2 1 2 1 10 1-52 1 30 1-2 1 17 1-21 1-15 1-13 1-22 1 58 1-52 1 23 1 36 1-31 1 18 1-4 1 25 1-5 1-17 1 32 1-34 1-17 1 32 1 27 1-28 1 33 1-4 1 25 1-49 1 19 1-44 1 28 1 5 1 18 1-24 1 11 1-13 1 10 1 1 1 5 1 4 1 14 1 4 1-45 1 23 1 9 1-21 1 36 1-3 1 7 1 7 1 18 1-34 1-10 1 25 1-19 1 19 1-18 1 11 1-11 1-21 1 16 1-56 1 59 1-3 1-6 1-3 1 28 1-32 1 11 1 35 1-18 1 7 1-13 1-4 1 4 1-2 1 19 1-42 1 12 1 14 1-33 1 21 1-11 1 18 1 4 1 16 1-15 1-27 1 15 1 14 1 20 1-63 1 32 1-37 1 49 1 5 1 3 1-1 1-23 1-16 1 21 1 30 1-12 1 2 1-22 1 22 1-23 1-5 1 19 1-10 1 8 1 27 1-16 1 12 1-2 1-41 1 13 1 14 1 18 1-53 1 1 1 27 1-15 1-8 1 25 1-23 1-39 1 45 1 15 1 7 1 5 1-20 1-2 1-15 1-29 1 19 1 26 1 3 1 28 1-35 1-32 1 35 1 5 1-33 1-7 1 31 1 4 1-26 1 14 1-24 1-16 1-8 1 39 1-4 1 1 1-27 1 73 1-57 1 16 1 1 1 19 1-36 1 15 1-4 1 15 1-42 1 13 1 16 1 50 1-56 1 22 1-21 1 14 1-8 1-18 1-4 1-2 1-21 1 2 1-18 1 15 1-25 1-2 1 17 1-10 1-1 1 11 1-55 1 64 1 0 1 7 1-27 1 47 1 18 1-6 1-28 1 13 1 11 1 20 1-4 1-11 1-1 1 8 1-4 1-3 1 20 1-13 1-18 1 30 1-26 1 15 1-36 1 55 1-10 1-19 1 11 1-1 1 1 1 47 1-42 1 22 1 11 1-48 1 20 1-17 1 42 1-35 1-1 1 29 1-5 1-39 1 37 1-19 1 36 1-17 1-43 1 14 1-10 1 11 1-7 1 12 1-8 1-16 1 15 1 49 1-16 1-26 1 2 1-4 1 8 1-34 1 49 1-28 1 7 1-42 1 39 1 17 1-54 1 66 1-24 1-24 1-17 1 37 1-23 1 13 1 5 1-1 1 19 1-34 1 10 1-48 1 11 1-10 1 36 1-86 1-11 1 2 1-15 1 3 1-28 1-68 1-24 1-96 1-24 1-34 1-35 1-67 1-36 1-13 1 38 1-15 1 8 1 19 1 76 1 29 1 64 1 14 1 86 1 40 1 30 1 29 1 21 1 49 1-2 1 7 1 12 1 27 1 12 1 10 1 17 1-2 1-40 1 18 1-20 1 23 1-30 1 17 1 7 1-17 1 50 1 1 1-38 1 29" transform="translate(230.60,0) scale(1.1108,0.1)" vector-effect="non-scaling-stroke" fill="none" stroke="#00ffff" stroke-width="4.0" stroke-linejoin="round"/>
<path d="M0 15359l1-7 1 11 1-22 1 20 1-12 1 3 1-16 1 2 1 0 1 10 1-10 1 6 1 12 1-3 1-3 1 7 1-12 1-15 1 11 1-14 1 9 1 21 1-13 1-20 1-4 1 6 1-23 1 19 1-27 1 10 1-46 1 10 1-39 1-14 1-49 1-5 1-23 1-11 1 3 1 13 1 19 1 40 1 13 1-16 1 34 1 5 1 46 1 29 1-8 1-4 1 15 1-4 1 25 1-6 1 16 1 9 1-19 1 6 1-10 1 15 1-2 1 13 1-11 1 0 1-1 1-13 1 16 1 16 1-35 1 0 1 35 1-27 1 15 1-18 1 16 1 8 1-3 1 11 1-5 1-2 1 11 1-16 1-14 1 1 1 8 1-4 1 3 1-8 1 19 1-7 1 9 1-4 1 0 1-23 1 23 1-3 1 7 1 7 1 3 1-14 1-13 1-7 1-11 1 22 1-3 1 2 1 35 1-38 1 21 1 8 1-7 1 2 1-28 1 7 1 18 1-7 1 14 1-5 1 3 1 8 1-14 1 5 1-11 1 3 1-11 1 9 1-25 1 4 1 19 1-2 1-7 1 2 1 1 1 23 1-32 1 27 1-15 1 15 1 2 1-7 1 12 1-7 1-15 1-6 1 30 1-6 1-20 1-6 1 9 1 1 1 13 1-24 1 8 1-13 1 19 1 8 1-17 1 13 1 6 1-24 1-8 1 23 1 1 1-1 1 24 1-10 1-26 1 17 1-3 1 14 1-22 1-7 1 14 1 6 1-17 1 14 1-11 1 23 1 5 1-32 1-3 1 1 1-2 1 1 1 6 1 5 1-19 1-3 1-5 1 16 1-7 1-26 1 11 1 22 1 10 1-13 1 0 1 6 1 3 1-9 1 29 1-18 1-18 1-5 1-19 1 12 1 21 1-21 1 31 1 5 1-10 1-17 1 7 1 0 1-7 1-10 1 13 1 0 1 14 1-20 1 36 1-2 1-4 1-15 1 22 1-18 1 25 1-9 1-16 1 0 1 20 1-12 1-5 1 7 1-2 1-15 1 9 1-3 1 5 1 2 1-8 1 18 1-3 1 6 1 1 1 12 1-15 1 5 1-14 1 4 1-18 1 6 1 13 1-11 1-1 1-10 1 25 1-14 1 12 1-4 1 8 1-22 1-7 1-4 1 17 1-14 1 17 1 11 1-35 1 13 1 12 1 10 1-23 1 4 1 3 1 12 1 8 1-9 1-19 1 13 1 13 1-12 1 3 1-9 1-8 1 23 1-9 1-1 1 0 1 7 1 29 1-23 1 6 1-24 1-26 1 25 1-6 1-2 1 6 1 27 1-32 1 11 1 23 1-6 1-29 1 13 1 1 1 7 1 10 1-24 1 1 1 18 1-34 1 17 1 13 1-15 1 1 1-13 1 16 1-3 1 24 1 1 1-14 1-7 1 2 1 4 1-11 1 35 1-10 1 4 1-29 1 26 1 1 1-17 1-23 1 25 1-2 1 5 1-3 1 11 1-14 1 2 1-9 1 13 1 15 1-17 1 4 1-24 1 10 1 6 1 19 1-23 1 21 1-29 1 8 1 7 1-1 1-13 1-1 1 19 1-19 1 19 1-9 1-1 1 22 1-14 1-8 1-23 1 25 1-5 1 0 1 13 1-28 1 24 1-2 1-14 1 22 1-38 1 23 1 2 1-19 1 8 1 4 1 16 1-4 1-4 1 0 1-25 1 29 1-13 1 12 1-4 1 7 1-22 1 2 1-16 1 15 1-19 1 17 1-23 1 10 1-3 1-4 1 5 1-20 1 6 1-21 1 11 1-32 1 11 1 9 1-60 1 1 1-11 1 4 1-36 1-10 1-32 1-13 1-40 1-9 1-62 1-9 1 25 1-19 1-10 1 36 1-8 1 6 1-1 1 29 1 21 1-3 1 41 1 10 1 40 1 20 1 5 1 13 1 29 1 10 1-1 1 11 1 23 1 9 1 20 1-4 1-4 1-14 1 37 1-6 1 7 1-8 1-13 1 12 1-14 1 26 1-4 1 29 1-13 1-2 1 3 1 0 1-17 1 3 1 6 1 33 1-24 1-24 1 25 1 12 1-32 1 55 1-30 1 4 1-19 1 7 1-10 1 0 1-11 1 36 1-21 1 16 1-1 1-11 1 3 1 6 1-10 1 12 1-4 1-4 1-1 1 8 1 5 1 12 1-3 1-10 1 5 1-5 1 10 1-10 1-3 1-5 1 5 1 20 1-30 1 12 1-4 1 20 1 5 1-18 1-33 1 41 1-5 1-25 1 6 1 7 1-26 1 35 1-5 1 0 1-6 1 5 1 2 1 4 1-20 1 17 1-14 1-32 1 41 1-19 1-17 1 8 1-21 1 17 1-36 1 11 1 26 1-10 1-31 1-10 1 26 1-14 1-3 1-6 1-15 1 21 1-26 1 40 1-22 1 14 1 7 1 16 1 6 1 1 1 7 1 0 1 2 1-15 1 5 1 1 1 23 1-7 1 4 1 7 1 5 1-5 1-6 1-9 1 34 1-1 1-16 1 12 1 6 1 9 1-25 1 10 1 3 1-34 1 8 1 16 1-2 1 35 1-10 1-11 1-8 1 17 1-2 1-11 1-5 1-12 1 9 1 16 1 5 1-12 1 1 1-15 1 17 1 23 1-8 1-26 1 10 1-1 1 2 1-7 1-4 1 9 1 10 1-18 1-5 1 12 1-17 1 6 1-8 1 15 1-5 1 13 1 11 1-35 1-6 1 15 1 0 1 0 1-18 1 9 1-12 1-14 1 19 1 7 1 12 1-11 1-1 1 23 1-24 1 12 1-1 1 10 1-9 1-12 1 23 1-18 1 5 1 26 1-4 1-23 1 6 1 1 1 1 1-16 1 28 1-2 1-3 1-10 1 7 1 7 1-17 1 11 1-2 1 12 1-18 1-17 1 7 1 38 1-21 1 12 1-7 1 18 1-10 1-8 1-9 1 8 1 3 1-6 1-18 1 35 1-19 1-5 1 10 1-2 1-5 1 4 1-1 1-3 1-16 1 22 1-11 1 21 1 1 1 2 1-8 1 7 1-26 1-8 1 21 1-19 1 31 1 3 1-10 1 17 1-13 1-11 1-3 1 26 1-15 1-2 1 7 1-5 1 14 1-29 1-16 1 29 1 12 1-10 1 22 1 1 1-30 1-5 1-2 1 17 1 7 1-3 1-15 1 4 1-13 1 1 1 4 1 6 1 5 1 8 1-5 1-3 1-9 1 7 1 9 1-7 1-1 1-10 1-6 1 8 1-13 1 24 1-23 1 20 1-23 1 28 1-2 1-16 1 8 1-9 1 14 1 4 1 18 1-42 1 22 1-15 1 14 1 7 1-2 1-14 1-8 1-7 1 15 1 11 1-22 1-3 1-5 1 3 1 9 1 11 1 10 1-4 1-13 1 15 1-21 1 12 1 11 1-4 1 5 1-15 1-16 1 0 1 19 1 16 1 4 1-14 1-9 1 1 1 5 1-16 1-18 1 23 1-4 1-7 1-28 1 10 1-11 1 3 1 13 1-2 1 6 1 10 1-19 1 23 1-22 1 19 1-26 1 13 1-9 1 4 1 10 1-21 1 28 1-5 1 17 1 3 1-4 1-1 1-3 1 17 1-9 1 9 1-25 1 23 1-18 1 29 1-10 1 3 1-9 1 17 1-11 1 15 1-16 1 0 1 6 1-28 1 24 1-11 1-11 1 17 1-5 1 22 1-16 1-1 1-13 1-24 1 31 1-8 1 26 1-1 1-16 1-24 1 20 1-2 1 8 1-8 1-7 1 8 1-10 1 31 1-23 1-3 1 4 1-10 1 10 1 5 1-4 1 9 1 11 1-9 1-19 1 20 1 13 1-22 1-5 1 2 1 6 1-7 1-4 1-4 1 16 1-9 1 24 1-22 1-13 1 5 1-12 1-1 1-8 1-19 1-14 1-10 1 2 1-43 1-16 1-20 1-9 1-17 1-58 1-13 1-27 1-24 1 6 1-19 1 38 1 7 1 10 1 45 1 17 1 22 1 2 1 36 1 21 1 28 1 21 1-21 1 32 1 14 1 21 1-10 1-14 1 23 1-3 1 12 1 4 1 2 1 5 1-22 1 38 1-3 1 1 1-17 1-17 1 15 1 6 1 29 1-1 1-19 1 16 1-9" transform="translate(230.60,0) scale(1.1108,0.1)" vector-effect="non-scaling-stroke" fill="none" stroke="#00ffff" stroke-width="4.0" stroke-linejoin="round"/>
<path d="M0 15620l1 29 1-7 1-17 1-14 1 15 1 6 1 11 1-20 1 1 1 6 1-1 1 5 1-11 1 0 1-1 1 4 1 6 1 12 1-6 1-8 1 12 1-20 1-1 1 17 1-29 1 2 1-4 1 10 1-29 1 3 1-33 1-23 1-7 1-16 1-30 1-18 1-8 1 2 1 1 1 0 1 17 1 5 1 29 1 11 1 14 1 24 1 24 1 11 1 11 1-20 1 19 1 18 1-4 1 16 1-7 1-6 1 14 1-16 1 21 1-6 1-8 1 0 1-2 1 2 1 6 1-13 1 27 1 7 1 2 1-22 1-16 1 15 1 4 1 0 1-10 1 3 1 4 1-14 1 26 1-24 1 17 1 10 1-13 1 8 1 17 1-20 1 8 1-15 1-1 1 7 1-6 1 7 1 12 1-3 1 0 1-22 1 8 1 7 1 1 1-2 1-9 1 5 1 11 1 11 1-15 1 10 1-15 1 9 1-24 1 16 1-12 1 15 1-8 1-15 1 13 1 6 1 0 1 3 1 1 1 12 1-2 1-17 1-2 1 6 1-8 1 8 1 11 1-3 1-11 1-5 1 21 1-13 1 0 1-11 1 7 1 4 1-4 1 0 1 2 1-9 1-2 1 29 1-20 1 18 1-7 1-2 1 10 1-15 1-1 1-1 1 15 1 7 1-21 1 15 1-19 1 8 1-15 1-8 1 32 1-5 1-5 1-19 1 20 1 9 1-8 1 2 1-13 1 11 1-7 1 7 1 1 1-16 1 1 1-2 1 6 1 6 1 1 1 4 1-18 1 1 1 5 1-8 1 9 1-4 1 21 1-20 1 4 1 13 1 5 1-7 1-1 1-9 1-9 1-3 1 0 1 1 1 6 1-6 1-1 1 2 1-2 1-10 1 10 1-10 1-11 1 13 1-6 1 2 1 3 1 17 1-4 1 9 1-11 1-10 1 9 1 2 1 6 1-12 1 2 1-12 1 15 1-1 1 12 1 4 1 4 1 2 1-12 1 23 1-5 1 10 1-24 1 2 1 6 1-2 1 0 1-12 1 18 1-9 1 9 1-15 1-12 1 17 1 6 1-20 1 8 1 13 1 4 1-17 1 28 1-9 1-8 1-18 1 21 1 7 1-3 1-3 1-14 1 6 1-19 1 24 1-13 1-18 1-2 1 17 1-6 1 1 1 11 1 11 1-18 1-19 1 15 1-3 1 2 1 13 1-9 1-5 1 8 1-2 1 9 1-6 1 2 1-3 1 12 1 4 1 2 1-4 1-2 1-13 1 37 1-25 1 4 1 1 1 1 1 1 1-13 1-3 1-10 1 1 1-4 1 30 1-24 1-2 1 15 1 13 1-21 1-2 1 12 1 0 1-11 1-2 1 15 1 10 1-4 1-1 1-7 1-6 1 8 1-6 1 8 1-7 1 3 1 8 1-8 1-4 1 9 1-2 1-3 1-3 1 15 1 11 1-30 1-5 1 7 1-1 1-8 1 2 1 21 1 3 1 2 1-11 1-10 1 19 1-19 1-1 1-11 1 20 1 4 1-19 1 4 1-5 1 5 1 10 1 0 1 7 1-17 1 3 1-15 1 23 1 1 1-8 1 7 1 10 1-10 1-15 1 12 1-13 1 10 1-3 1 7 1 6 1-17 1 7 1-1 1-2 1-1 1-21 1 19 1 12 1-3 1-16 1 5 1-2 1-14 1 15 1 0 1 4 1 5 1 14 1-16 1-5 1 9 1-18 1 2 1-27 1 19 1 2 1-9 1 22 1-19 1-5 1-12 1-6 1 9 1-9 1 7 1-3 1-18 1-14 1 1 1-18 1 6 1-9 1-19 1-12 1-6 1-9 1-33 1-10 1-32 1-35 1-1 1-24 1-14 1-11 1-8 1-12 1 27 1-9 1 0 1 18 1 21 1 9 1 25 1 10 1 31 1 14 1 38 1-14 1 20 1 20 1 8 1 18 1 2 1 6 1 19 1-1 1 27 1-1 1 10 1-20 1 18 1-8 1 8 1 8 1-8 1 3 1 16 1-1 1 9 1-33 1 20 1-5 1-5 1 9 1-10 1-4 1 14 1 7 1 19 1-21 1-1 1-9 1 16 1-11 1 6 1-16 1 15 1-20 1 26 1-11 1 1 1 21 1-8 1-5 1 0 1-16 1 17 1-5 1 25 1-13 1-22 1 27 1 8 1-17 1 14 1-14 1-3 1-21 1 35 1-14 1 9 1-10 1 1 1 19 1-16 1-6 1-7 1 16 1 9 1-13 1 2 1-10 1 19 1-19 1 5 1 22 1-20 1-16 1 4 1 6 1 19 1-12 1-2 1 13 1 1 1-15 1 15 1 0 1-11 1-29 1 16 1 5 1-18 1 16 1-20 1-16 1 10 1-9 1 5 1-14 1 10 1-16 1 4 1-14 1 0 1 10 1-4 1 7 1 1 1 6 1 10 1 4 1 11 1-7 1-3 1-14 1 14 1-1 1-4 1 26 1-22 1 24 1 9 1-7 1 26 1-21 1-5 1 22 1-29 1-4 1 6 1 12 1 9 1-3 1-24 1 16 1 22 1-21 1-1 1 8 1 6 1-13 1 2 1 7 1 17 1-7 1-33 1 0 1 6 1-2 1 12 1 5 1 18 1-9 1-13 1 13 1-10 1-5 1 8 1 5 1-21 1 17 1-6 1-12 1 7 1-6 1 2 1 10 1-10 1 15 1 0 1-5 1-26 1-10 1 25 1-12 1-4 1-6 1-1 1 15 1-3 1-3 1 3 1-18 1 14 1-27 1 43 1-27 1 23 1 8 1-1 1 4 1-9 1-19 1 19 1 8 1-14 1-9 1 13 1 12 1 0 1 1 1-7 1 0 1-14 1 36 1-14 1 10 1-6 1 0 1-4 1 4 1-6 1-6 1 19 1-16 1 9 1-13 1 12 1-14 1 15 1 5 1-26 1 33 1-9 1-7 1-9 1 16 1-20 1 16 1-7 1 17 1-14 1 13 1 3 1 7 1-21 1 12 1-26 1 5 1 6 1 5 1-13 1 8 1 11 1-13 1-4 1-3 1 23 1 11 1-12 1-1 1 13 1-17 1-10 1-10 1 11 1 22 1-23 1 29 1-20 1-8 1 8 1-17 1 11 1-7 1 1 1 11 1 10 1-7 1-18 1 21 1-5 1 2 1-5 1-15 1 36 1-20 1 1 1 5 1 2 1-2 1-5 1 8 1 4 1-5 1-18 1 11 1 1 1 3 1-5 1 11 1-9 1 5 1-9 1-6 1-7 1 13 1 3 1 9 1-20 1-2 1-3 1 25 1-9 1-1 1 2 1-22 1 10 1 0 1 6 1-10 1 22 1 3 1-26 1 14 1 1 1 14 1-23 1-3 1 7 1 13 1-18 1 3 1 13 1-39 1-1 1 28 1 6 1-19 1 22 1-8 1-1 1-11 1 4 1 1 1 6 1-5 1 18 1-6 1-13 1 11 1 7 1-14 1 10 1-11 1 6 1-20 1 13 1-18 1 24 1-28 1-5 1 24 1-7 1-4 1 2 1-4 1-8 1 3 1-1 1-1 1 17 1-20 1 12 1 7 1-10 1-9 1 6 1 15 1-10 1 6 1-9 1 13 1-1 1 2 1 9 1-2 1 10 1-22 1 19 1 20 1-8 1-17 1-10 1 5 1 10 1-4 1-1 1 1 1-9 1-2 1-6 1-1 1 16 1 11 1 13 1-21 1-7 1 15 1-19 1 8 1 7 1-3 1-6 1-11 1-9 1 11 1-3 1 11 1-4 1 7 1-19 1 22 1-18 1-5 1-2 1 7 1 14 1-3 1-18 1 11 1-1 1-8 1 7 1-3 1 11 1-16 1 9 1-3 1 2 1-1 1 21 1-18 1 7 1 1 1 0 1-3 1-12 1-4 1 5 1 1 1 3 1-12 1 3 1-14 1 13 1-16 1-25 1 0 1-42 1 25 1-24 1-16 1-34 1 17 1-55 1-25 1-9 1-25 1-19 1 4 1-19 1 15 1 9 1 30 1 9 1 41 1 16 1 39 1-5 1 40 1 0 1 19 1 0 1 26 1 10 1-11 1 2 1 10 1 30 1-3 1 9 1-9 1-7 1 1 1 2 1 14 1-6 1 0 1-12 1 14 1-11 1 4 1 12 1-15 1 5 1 9 1-1" transform="translate(230.60,0) scale(1.1108,0.1)" vector-effect="non-scaling-stroke" fill="none" stroke="#0000e6" stroke-width="4.0" stroke-linejoin="round"/>
<path d="M0 15932l1-6 1-1 1 8 1-4 1 14 1-36 1 13 1-16 1 21 1-8 1 12 1-15 1 11 1-1 1 5 1-10 1-16 1 20 1-5 1 3 1-8 1-5 1 8 1-1 1-8 1 13 1-17 1-17 1-12 1-8 1-6 1-19 1-17 1-11 1-31 1-10 1-24 1-3 1 1 1 16 1 13 1 13 1 8 1 25 1 27 1 24 1-7 1 15 1 7 1 9 1 4 1 17 1-6 1 28 1-24 1 2 1 0 1 5 1 6 1 2 1 4 1-12 1 9 1 5 1-14 1-10 1 4 1 15 1 3 1-10 1 9 1 2 1 3 1-26 1 5 1 3 1 7 1-2 1 1 1 7 1-18 1 35 1-18 1 1 1-9 1 4 1 10 1-6 1-8 1-6 1 12 1-3 1 5 1-14 1 12 1 7 1-3 1 5 1-16 1-2 1 8 1 5 1-7 1-4 1 8 1 0 1-2 1 6 1-10 1 2 1-3 1-4 1 0 1 0 1 7 1 5 1-11 1 4 1 0 1 8 1-6 1 12 1-9 1 7 1-6 1-8 1 10 1 8 1 1 1-5 1-6 1-1 1 3 1 7 1 0 1-26 1 22 1 4 1-3 1-5 1 5 1-9 1 2 1 3 1-10 1 7 1 2 1-3 1 3 1-5 1 10 1 1 1-10 1-7 1 2 1-7 1 16 1 6 1 9 1-16 1 2 1 3 1 5 1-20 1 10 1 3 1-2 1-4 1-6 1 8 1 10 1-16 1 15 1 1 1-21 1 2 1 19 1-4 1-3 1-5 1 6 1-6 1 21 1-28 1-5 1 7 1 6 1-16 1 9 1-1 1 9 1-8 1-1 1-4 1 8 1 15 1-16 1 0 1 13 1-20 1-6 1 7 1-7 1 18 1 11 1-16 1-4 1 17 1-18 1 10 1 1 1-6 1-8 1 23 1-19 1 7 1-9 1 4 1-7 1 20 1-8 1 14 1-20 1 3 1 6 1-1 1-4 1 5 1-10 1 10 1-21 1 15 1 10 1 0 1 2 1-6 1 3 1-2 1-1 1 3 1-22 1 31 1-4 1-2 1-18 1 12 1 5 1-14 1 3 1 9 1-5 1 8 1-7 1 15 1-27 1 4 1-2 1-1 1 8 1 5 1-12 1 13 1 7 1 1 1 3 1-9 1-13 1 10 1-7 1 10 1-8 1-11 1 4 1 3 1 0 1-4 1 11 1-13 1 2 1 16 1-2 1 2 1 7 1-1 1-12 1 7 1-20 1 7 1-2 1-16 1 27 1 8 1-7 1 4 1 5 1-10 1 4 1-2 1-10 1 7 1 3 1 8 1-7 1 1 1-15 1-5 1 21 1 11 1-14 1-4 1 9 1-21 1 10 1-9 1 17 1-4 1-6 1-3 1-3 1 9 1 19 1-8 1 6 1-20 1 1 1 0 1-2 1 6 1-16 1 21 1-1 1-11 1 5 1 0 1 7 1-10 1-4 1 7 1 8 1-6 1 0 1-1 1-9 1-4 1-8 1 8 1 9 1-5 1 3 1 16 1-15 1 1 1 3 1 12 1-6 1-11 1 15 1-14 1-5 1 2 1 10 1-17 1 26 1-9 1 13 1-14 1-9 1 11 1-1 1-7 1 6 1-10 1 10 1-17 1 10 1-10 1 15 1-11 1 5 1 13 1-10 1-1 1-9 1 1 1-17 1 18 1 3 1 5 1-6 1 7 1-7 1 2 1-1 1-4 1-8 1-14 1 22 1-9 1 10 1-34 1 22 1-13 1 10 1-19 1 3 1-13 1 10 1-6 1-4 1-6 1-15 1-9 1-6 1-21 1-13 1-15 1-19 1-32 1 11 1-29 1-7 1-7 1-36 1 7 1-17 1 1 1-9 1 14 1 10 1 15 1 19 1 2 1 14 1 33 1-8 1 18 1 16 1 18 1 15 1 3 1 20 1 21 1 10 1-1 1 5 1 3 1 15 1-11 1 8 1-4 1 4 1 10 1 6 1-1 1-1 1 2 1-1 1 2 1-2 1 8 1 7 1-2 1-2 1 4 1 17 1-2 1-15 1 7 1-10 1-2 1-15 1 21 1-7 1 10 1 7 1-6 1-19 1 7 1 3 1 0 1-2 1 5 1-4 1 16 1-4 1-6 1 17 1-7 1-1 1 13 1-6 1-18 1 8 1-6 1-7 1 24 1-6 1-18 1 12 1-8 1 19 1-9 1-3 1 11 1-10 1-3 1 9 1-6 1 9 1-5 1 4 1-4 1 5 1-13 1 18 1-21 1 16 1-19 1 5 1 0 1 11 1-15 1 0 1-13 1 6 1 6 1-5 1-13 1 19 1-8 1 15 1-21 1 11 1-11 1-4 1-10 1 5 1 5 1-22 1 14 1-22 1 4 1-23 1 17 1 1 1 2 1 7 1-7 1 3 1 6 1-3 1 8 1 9 1-5 1 11 1 3 1-6 1 22 1-16 1 22 1 1 1-22 1 16 1 6 1 1 1-6 1 12 1-15 1 1 1 0 1 6 1 7 1-3 1 6 1-12 1-2 1 6 1 14 1-20 1-6 1 11 1 10 1-15 1 8 1-9 1 19 1-4 1-1 1 1 1-4 1 6 1-17 1 2 1-9 1 20 1-10 1 16 1-28 1 18 1-2 1 9 1-10 1-5 1 1 1 19 1-19 1-4 1-5 1 2 1 1 1-16 1 9 1 7 1 5 1-13 1-3 1 13 1-11 1-7 1 8 1 6 1 4 1-14 1 2 1-4 1 10 1-6 1-5 1-12 1 5 1 6 1-18 1 34 1-5 1 3 1 4 1 2 1 2 1-11 1 11 1 0 1-4 1-8 1 11 1-9 1 11 1 4 1 2 1-7 1 1 1-2 1 8 1-7 1 4 1-12 1 11 1 2 1 5 1 11 1-22 1-5 1 19 1-12 1 5 1-1 1 4 1-5 1 11 1-2 1-17 1 10 1 12 1-7 1-9 1 4 1 10 1-16 1 5 1 6 1-6 1 14 1-6 1 8 1-2 1-16 1 19 1-6 1 2 1-19 1 12 1-4 1-11 1 18 1-9 1-4 1 8 1-13 1 10 1 1 1 8 1 6 1-8 1 10 1-4 1-15 1 6 1 2 1-2 1 5 1 0 1-6 1-15 1 15 1-6 1 4 1 7 1 2 1 9 1-10 1-7 1 7 1-1 1 3 1-9 1-5 1 4 1-16 1 4 1 18 1-2 1 15 1 0 1-20 1 14 1 16 1-32 1 8 1-3 1 0 1-3 1 2 1 6 1-11 1 8 1-12 1 13 1 2 1-1 1 2 1-9 1-3 1 16 1-26 1 15 1-4 1-6 1 9 1 4 1-14 1 13 1-2 1-10 1 7 1-3 1-11 1-7 1 20 1-7 1-6 1 10 1-12 1 17 1 12 1-34 1 18 1-13 1 10 1 0 1 14 1-10 1-6 1-3 1 9 1 8 1-20 1 14 1-2 1-14 1 20 1-12 1 17 1-8 1-12 1-2 1-11 1-10 1 18 1-7 1 4 1-1 1 6 1 0 1-8 1 2 1 2 1 16 1-32 1 6 1 10 1 1 1 12 1 7 1 8 1-19 1 11 1-5 1 10 1-8 1 5 1-14 1 6 1-4 1 3 1-1 1-3 1 16 1-10 1 6 1-9 1 0 1 12 1-1 1 7 1-2 1 0 1 1 1-7 1-3 1-7 1 18 1-11 1-1 1 4 1-2 1-3 1-12 1 17 1 2 1-1 1-1 1-3 1-5 1 13 1-22 1 22 1-8 1-2 1-1 1 3 1 6 1-10 1-2 1-15 1 1 1 29 1-14 1-3 1 15 1-15 1 16 1 4 1-12 1 2 1-22 1 1 1 6 1 6 1 0 1 4 1-13 1-20 1 16 1-5 1 14 1 0 1-24 1-1 1-11 1 12 1-12 1-6 1-9 1-26 1-1 1-11 1-9 1-44 1-6 1-3 1-35 1-14 1 7 1 0 1-21 1 3 1 10 1 18 1 11 1 22 1 27 1 17 1 15 1 11 1 8 1 32 1 11 1 2 1 5 1 6 1 1 1-3 1 14 1 5 1-6 1-1 1-5 1 8 1 7 1 4 1 0 1-4 1-3 1 2 1-7 1 13 1 3 1-6 1 6 1-5" transform="translate(230.60,0) scale(1.1108,0.1)" vector-effect="non-scaling-stroke" fill="none" stroke="#0000a8" stroke-width="4.0" stroke-linejoin="round"/>
<path d="M0 16212l1 0 1-1 1 2 1 3 1 3 1-12 1 4 1 3 1-3 1 8 1 1 1-24 1 11 1-9 1 14 1 0 1-10 1 4 1 2 1-2 1 0 1 3 1-2 1 1 1-8 1-12 1-5 1-5 1-1 1-11 1-9 1-10 1-14 1-16 1-13 1-18 1-9 1-12 1 8 1 8 1-2 1 30 1 1 1 25 1 9 1 11 1 12 1 8 1 17 1-2 1 2 1 11 1 4 1-1 1 4 1 5 1-9 1 5 1 0 1-9 1-10 1 13 1 3 1 3 1 0 1-1 1 7 1-8 1-9 1 15 1 0 1 8 1 1 1-2 1-9 1-4 1-11 1 18 1-1 1 7 1 0 1-3 1 6 1-10 1-2 1-7 1 4 1 5 1 13 1-11 1 7 1 5 1-21 1 9 1 0 1 5 1 5 1-6 1-5 1-7 1 11 1-3 1 2 1-9 1 15 1-11 1 8 1-6 1-11 1 6 1 3 1-1 1 11 1-9 1 20 1-9 1-13 1-10 1 21 1-3 1-3 1-2 1-3 1-3 1 20 1-5 1-9 1 16 1-19 1 17 1 2 1-12 1-2 1-4 1 3 1 11 1-3 1-4 1 0 1-18 1 25 1-8 1-7 1 9 1-3 1 3 1-4 1-17 1 21 1 4 1-15 1 17 1 1 1-5 1 1 1-23 1 11 1-10 1 23 1-16 1 0 1 18 1-5 1-4 1-5 1 3 1 10 1-13 1 5 1-5 1 7 1 3 1-8 1 6 1-15 1 9 1-3 1 2 1 10 1 2 1-9 1 0 1-11 1 17 1-9 1 0 1-1 1-7 1 8 1 1 1 4 1-4 1-8 1-4 1 7 1-4 1 2 1 4 1 2 1-12 1-5 1 9 1 3 1-10 1 2 1-9 1 20 1-15 1 8 1-4 1 3 1 4 1-15 1 31 1-26 1 17 1-7 1 1 1 4 1-16 1 12 1 7 1-5 1 3 1-6 1-1 1-3 1 7 1 4 1 1 1 6 1-7 1 2 1 2 1-15 1 12 1-10 1 8 1 17 1-21 1 9 1-1 1 4 1-4 1-4 1 13 1-21 1 11 1 17 1-7 1-10 1-4 1 3 1 16 1-10 1-5 1 9 1-9 1 7 1-11 1 5 1-6 1 14 1-10 1-4 1-6 1 10 1 4 1-7 1 16 1-13 1-7 1 8 1-7 1 8 1 0 1 0 1 16 1-12 1 2 1-8 1-7 1 5 1 6 1 1 1 0 1 3 1-8 1 5 1-12 1 1 1 21 1-7 1-9 1 14 1 1 1-4 1-1 1-13 1 2 1 0 1 6 1-10 1 1 1 10 1-3 1 5 1 1 1-21 1 15 1-7 1 0 1 9 1 10 1-11 1-2 1-3 1-5 1 8 1-8 1 4 1 0 1-2 1 14 1-6 1-1 1 13 1-4 1-10 1 11 1-8 1-2 1 4 1 3 1 2 1-21 1 12 1-7 1 1 1 5 1 5 1-9 1-2 1 6 1-14 1 14 1-14 1 11 1 3 1-1 1-1 1-6 1 10 1-11 1 12 1 1 1-2 1 11 1-18 1 9 1-4 1 2 1 10 1-6 1-1 1-5 1 4 1 1 1 0 1-9 1-14 1 11 1 1 1 11 1-4 1 4 1 1 1-5 1-5 1 14 1-14 1-2 1 2 1-3 1 3 1-8 1 7 1 10 1-20 1 6 1 0 1-12 1 21 1-14 1-1 1 15 1-23 1 14 1-8 1 5 1-6 1 13 1-21 1 8 1-6 1-4 1-7 1 0 1 4 1-7 1-12 1-14 1 5 1-1 1-12 1 1 1-31 1 20 1-30 1-15 1-14 1 4 1-14 1-16 1-6 1-4 1-10 1 4 1-3 1-3 1 1 1 21 1 5 1 12 1 31 1 2 1-9 1 14 1 21 1 3 1 16 1 25 1 12 1-15 1 9 1 3 1-1 1-6 1 23 1-5 1 9 1 1 1-6 1 13 1-6 1 2 1-1 1 3 1 1 1-9 1 10 1-6 1-2 1 6 1 7 1 4 1 3 1-8 1-1 1 2 1 4 1-1 1-4 1-7 1 15 1-5 1-8 1 11 1-3 1-1 1 5 1-13 1 0 1-3 1 14 1 1 1 3 1-1 1-6 1 2 1-12 1 14 1 3 1-4 1 8 1-8 1 2 1-2 1-8 1 13 1-4 1-5 1-1 1-2 1 5 1 4 1 3 1-6 1 5 1-10 1-3 1 5 1-1 1-11 1 5 1 6 1-6 1-7 1 13 1 17 1-19 1 6 1-7 1 9 1 0 1-9 1 3 1-13 1 3 1-8 1 7 1-1 1-1 1-13 1 0 1 4 1-8 1 0 1-9 1 1 1 0 1-7 1 5 1 7 1-5 1-1 1 6 1-2 1 0 1 1 1 16 1-8 1-3 1 2 1 11 1 2 1-2 1 6 1 0 1-4 1 8 1 3 1 1 1 12 1-11 1 12 1 6 1-4 1-11 1-8 1-6 1 9 1 21 1-25 1 1 1 12 1 0 1-12 1 9 1-1 1-15 1 19 1-13 1 17 1-10 1-1 1-5 1 12 1-2 1 2 1-4 1 6 1 3 1-13 1 2 1 3 1-1 1 6 1 9 1-16 1 3 1-20 1 21 1 4 1-11 1 16 1-19 1 16 1-17 1-6 1 3 1 4 1-4 1-2 1 3 1 11 1-4 1 2 1-14 1 0 1 1 1 3 1 4 1 2 1-5 1-6 1 11 1-15 1 0 1 12 1 1 1-3 1 7 1-5 1 6 1 3 1 0 1 0 1-4 1 2 1-12 1 24 1-13 1 10 1 12 1-19 1-11 1 19 1-16 1 3 1 7 1 8 1 1 1-9 1 6 1-11 1 9 1-9 1 6 1 0 1 6 1 12 1-21 1-4 1 11 1-4 1-2 1 0 1 10 1-16 1 6 1 4 1-4 1 7 1 5 1-8 1 10 1-15 1 3 1 5 1 16 1-29 1 14 1 14 1-22 1 7 1-4 1-8 1 11 1-6 1 6 1-10 1 10 1-17 1 13 1 8 1-5 1-1 1-1 1-4 1 16 1-16 1 7 1-8 1 2 1 1 1-2 1 3 1 4 1 0 1 4 1-9 1 2 1-3 1 13 1-7 1-2 1 8 1-3 1-8 1 7 1 14 1-13 1 1 1-15 1 1 1 2 1 9 1-16 1 7 1 9 1-11 1 0 1 12 1-5 1-3 1 3 1 0 1 3 1 1 1-15 1 10 1-5 1 17 1-2 1 1 1-3 1 0 1 1 1-6 1 12 1-12 1 18 1-16 1 0 1-11 1 15 1 0 1-18 1 4 1 1 1 2 1 12 1 4 1-20 1 14 1-6 1 6 1-23 1 11 1 11 1-13 1 11 1-6 1 15 1-3 1-5 1-6 1 0 1 5 1-5 1 2 1 22 1-28 1 3 1 5 1-16 1 10 1-1 1-4 1 3 1-12 1-1 1 17 1-16 1 12 1-1 1-4 1-10 1-2 1-3 1 11 1 1 1-8 1-1 1 6 1-11 1 10 1 0 1-6 1 22 1-2 1 1 1-12 1 2 1 6 1-8 1 18 1-21 1 18 1-12 1 0 1 2 1 9 1-5 1 2 1-3 1-5 1 5 1 0 1 8 1 1 1-13 1 7 1 7 1-10 1-1 1 1 1 2 1 13 1-12 1 7 1-13 1 13 1-11 1 13 1 2 1-18 1 9 1-8 1 8 1-2 1 4 1 3 1 7 1-21 1 18 1-6 1-6 1-1 1 10 1 3 1 4 1-15 1-4 1 8 1 3 1-4 1 13 1 0 1-11 1-17 1 20 1-15 1 5 1 4 1-3 1-7 1 2 1 4 1-2 1 6 1-31 1 13 1 6 1 4 1-5 1 0 1-17 1 3 1-4 1-11 1-9 1-8 1-3 1-41 1 11 1-18 1-16 1-1 1-18 1 2 1-17 1 11 1-5 1 15 1 16 1 4 1 19 1 5 1 19 1 2 1 9 1 16 1 8 1 5 1 13 1 0 1 5 1-10 1 1 1 9 1 1 1 10 1 0 1 3 1 3 1 1 1-5 1 9 1-6 1 8 1-15 1 15 1-9 1 2 1-8 1 9 1-8" transform="translate(230.60,0) scale(1.1108,0.1)" vector-effect="non-scaling-stroke" fill="none" stroke="#000078" stroke-width="4.0" stroke-linejoin="round"/>
<polyline points="1311.2,1365.8 1317.7,1371.9 1324.3,1365.4 1330.8,1370.9 1337.3,1363.1 1343.8,1365.8 1350.4,1366.4 1356.9,1358.9 1363.4,1358.4 1369.9,1360.4 1376.5,1360.4 1383.0,1358.5 1389.5,1353.4 1396.0,1351.4 1402.5,1341.2 1409.1,1338.9 1415.6,1339.6 1422.1,1328.4 1428.6,1323.8 1435.2,1313.3 1441.7,1312.5 1448.2,1302.4 1454.7,1303.6 1461.3,1302.8 1467.8,1295.5 1474.3,1292.7 1480.8,1289.8 1487.4,1293.5 1493.9,1289.8 1500.4,1295.1 1506.9,1307.7 1513.4,1301.3 1520.0,1309.1 1526.5,1312.2 1533.0,1326.1 1539.5,1327.1 1546.1,1329.2 1552.6,1334.3 1559.1,1345.7 1565.6,1348.4 1572.2,1352.2 1578.7,1352.8 1585.2,1358.0 1591.7,1361.2 1598.3,1361.1 1604.8,1356.4 1611.3,1356.6 1617.8,1358.8 1624.3,1364.1 1630.9,1359.9 1637.4,1361.4 1643.9,1364.6 1650.4,1362.5 1657.0,1361.6 1663.5,1367.5 1670.0,1366.4 1676.5,1367.2 1683.1,1367.5 1689.6,1368.9 1696.1,1365.0 1702.6,1364.6 1709.2,1360.5 1715.7,1364.3 1722.2,1363.3 1728.7,1367.5 1735.2,1366.4 1741.8,1368.4 1748.3,1367.3 1754.8,1367.4 1761.3,1365.5 1767.9,1364.3 1774.4,1362.7 1780.9,1363.4 1787.4,1360.7 1794.0,1364.0 1800.5,1362.5 1807.0,1357.0 1813.5,1354.9 1820.1,1359.9 1826.6,1360.2 1833.1,1360.3 1839.6,1364.2 1846.1,1358.6 1852.7,1356.5 1859.2,1360.5 1865.7,1361.6 1872.2,1362.9 1878.8,1355.0 1885.3,1356.3 1891.8,1354.9 1898.3,1359.2 1904.9,1355.5 1911.4,1351.7 1917.9,1351.1 1924.4,1344.5 1931.0,1340.2 1937.5,1334.3 1944.0,1324.6 1950.5,1314.7 1957.0,1303.1 1963.6,1285.9 1970.1,1269.7 1976.6,1242.9 1983.1,1210.2 1989.7,1167.8 1996.2,1131.1 2002.7,1090.4 2009.2,1040.8 2015.8,981.0 2022.3,924.1 2028.8,860.2 2035.3,785.3 2041.9,712.5 2048.4,634.5 2054.9,551.8 2061.4,472.9 2067.9,403.9 2074.5,341.9 2081.0,282.6 2087.5,241.8 2094.0,233.3 2100.6,247.8 2107.1,260.5 2113.6,319.8 2120.1,369.6 2126.7,443.3 2133.2,514.4 2139.7,600.9 2146.2,677.0 2152.8,755.4 2159.3,817.1 2165.8,898.8 2172.3,951.2 2178.8,1015.6 2185.4,1071.9 2191.9,1116.1 2198.4,1160.6 2204.9,1195.8 2211.5,1227.0 2218.0,1250.6 2224.5,1279.4 2231.0,1298.3 2237.6,1307.9 2244.1,1318.8 2250.6,1331.6 2257.1,1335.9 2263.7,1344.0 2270.2,1350.0 2276.7,1352.6 2283.2,1357.1 2289.7,1355.9 2296.3,1353.0 2302.8,1354.6 2309.3,1359.2 2315.8,1363.5 2322.4,1358.0 2328.9,1357.1 2335.4,1363.8 2341.9,1360.2 2348.5,1362.8 2355.0,1364.2" fill="none" stroke="#000000" stroke-width="4.0" stroke-linejoin="round"/>
<polyline points="1311.2,1401.9 1317.7,1403.2 1324.3,1402.2 1330.8,1404.5 1337.3,1404.1 1343.8,1400.3 1350.4,1402.1 1356.9,1394.5 1363.4,1398.8 1369.9,1397.1 1376.5,1394.1 1383.0,1387.4 1389.5,1388.6 1396.0,1382.5 1402.5,1386.9 1409.1,1377.8 1415.6,1374.1 1422.1,1370.2 1428.6,1368.2 1435.2,1362.5 1441.7,1360.1 1448.2,1351.3 1454.7,1355.3 1461.3,1347.1 1467.8,1350.0 1474.3,1347.4 1480.8,1350.7 1487.4,1347.8 1493.9,1344.9 1500.4,1348.9 1506.9,1355.7 1513.4,1365.1 1520.0,1362.9 1526.5,1368.7 1533.0,1376.7 1539.5,1374.8 1546.1,1381.3 1552.6,1384.7 1559.1,1385.1 1565.6,1390.4 1572.2,1395.2 1578.7,1397.3 1585.2,1395.2 1591.7,1405.7 1598.3,1399.8 1604.8,1399.1 1611.3,1398.7 1617.8,1398.7 1624.3,1404.0 1630.9,1394.7 1637.4,1402.1 1643.9,1399.2 1650.4,1402.5 1657.0,1402.9 1663.5,1399.8 1670.0,1400.6 1676.5,1406.5 1683.1,1401.8 1689.6,1403.2 1696.1,1402.4 1702.6,1405.3 1709.2,1406.3 1715.7,1405.5 1722.2,1404.5 1728.7,1404.4 1735.2,1399.9 1741.8,1406.2 1748.3,1401.3 1754.8,1400.3 1761.3,1401.6 1767.9,1400.3 1774.4,1403.3 1780.9,1404.0 1787.4,1405.3 1794.0,1401.6 1800.5,1400.1 1807.0,1400.7 1813.5,1398.2 1820.1,1399.1 1826.6,1406.1 1833.1,1398.6 1839.6,1399.1 1846.1,1401.8 1852.7,1400.5 1859.2,1401.5 1865.7,1396.8 1872.2,1395.8 1878.8,1401.8 1885.3,1395.8 1891.8,1396.6 1898.3,1396.5 1904.9,1389.4 1911.4,1392.4 1917.9,1388.8 1924.4,1389.3 1931.0,1382.9 1937.5,1371.8 1944.0,1375.1 1950.5,1356.0 1957.0,1353.4 1963.6,1340.5 1970.1,1326.6 1976.6,1312.3 1983.1,1297.1 1989.7,1267.2 1996.2,1243.2 2002.7,1221.4 2009.2,1189.1 2015.8,1156.0 2022.3,1116.7 2028.8,1073.2 2035.3,1028.6 2041.9,983.2 2048.4,944.6 2054.9,900.8 2061.4,857.0 2067.9,791.8 2074.5,756.4 2081.0,723.8 2087.5,697.1 2094.0,675.0 2100.6,695.2 2107.1,696.6 2113.6,699.8 2120.1,721.2 2126.7,754.7 2133.2,782.1 2139.7,827.5 2146.2,876.5 2152.8,924.6 2159.3,962.1 2165.8,1006.1 2172.3,1032.4 2178.8,1058.6 2185.4,1120.3 2191.9,1147.6 2198.4,1177.5 2204.9,1214.9 2211.5,1228.7 2218.0,1252.8 2224.5,1275.4 2231.0,1304.5 2237.6,1318.5 2244.1,1322.7 2250.6,1348.5 2257.1,1353.4 2263.7,1364.1 2270.2,1367.8 2276.7,1382.8 2283.2,1383.3 2289.7,1390.2 2296.3,1386.5 2302.8,1394.1 2309.3,1394.4 2315.8,1395.1 2322.4,1394.7 2328.9,1395.9 2335.4,1395.4 2341.9,1397.4 2348.5,1399.6 2355.0,1401.6" fill="none" stroke="#404040" stroke-width="4.0" stroke-linejoin="round"/>
<polyline points="1311.2,1437.9 1317.7,1438.8 1324.3,1439.5 1330.8,1437.0 1337.3,1439.6 1343.8,1439.3 1350.4,1439.0 1356.9,1439.7 1363.4,1440.3 1369.9,1439.1 1376.5,1436.8 1383.0,1436.3 1389.5,1431.5 1396.0,1429.4 1402.5,1431.5 1409.1,1429.1 1415.6,1431.0 1422.1,1422.0 1428.6,1417.1 1435.2,1417.7 1441.7,1412.7 1448.2,1408.5 1454.7,1412.2 1461.3,1411.4 1467.8,1404.6 1474.3,1399.8 1480.8,1401.4 1487.4,1400.0 1493.9,1396.2 1500.4,1403.9 1506.9,1403.9 1513.4,1408.6 1520.0,1405.7 1526.5,1410.0 1533.0,1412.5 1539.5,1410.9 1546.1,1425.5 1552.6,1415.7 1559.1,1421.0 1565.6,1425.5 1572.2,1424.6 1578.7,1431.6 1585.2,1431.1 1591.7,1433.9 1598.3,1435.5 1604.8,1436.2 1611.3,1437.1 1617.8,1437.2 1624.3,1439.1 1630.9,1440.4 1637.4,1438.3 1643.9,1438.2 1650.4,1438.5 1657.0,1440.2 1663.5,1438.8 1670.0,1438.9 1676.5,1436.4 1683.1,1444.1 1689.6,1437.1 1696.1,1443.6 1702.6,1441.6 1709.2,1442.1 1715.7,1440.4 1722.2,1440.9 1728.7,1440.4 1735.2,1441.1 1741.8,1441.6 1748.3,1443.0 1754.8,1437.4 1761.3,1440.6 1767.9,1443.1 1774.4,1442.5 1780.9,1437.0 1787.4,1439.9 1794.0,1439.7 1800.5,1439.6 1807.0,1433.8 1813.5,1440.7 1820.1,1435.0 1826.6,1443.5 1833.1,1439.9 1839.6,1438.0 1846.1,1439.5 1852.7,1438.2 1859.2,1436.4 1865.7,1437.2 1872.2,1438.0 1878.8,1434.9 1885.3,1438.1 1891.8,1438.5 1898.3,1437.7 1904.9,1437.1 1911.4,1436.2 1917.9,1433.2 1924.4,1432.8 1931.0,1427.0 1937.5,1424.7 1944.0,1423.6 1950.5,1420.3 1957.0,1407.7 1963.6,1397.3 1970.1,1400.1 1976.6,1387.3 1983.1,1378.5 1989.7,1362.7 1996.2,1345.9 2002.7,1326.5 2009.2,1307.2 2015.8,1297.3 2022.3,1274.1 2028.8,1248.1 2035.3,1216.8 2041.9,1192.9 2048.4,1164.4 2054.9,1136.9 2061.4,1093.8 2067.9,1079.9 2074.5,1057.8 2081.0,1018.6 2087.5,996.6 2094.0,976.6 2100.6,952.7 2107.1,950.2 2113.6,938.7 2120.1,943.2 2126.7,956.1 2133.2,969.3 2139.7,990.2 2146.2,1008.8 2152.8,1045.0 2159.3,1064.2 2165.8,1104.2 2172.3,1127.2 2178.8,1153.1 2185.4,1186.8 2191.9,1209.2 2198.4,1237.1 2204.9,1262.5 2211.5,1288.3 2218.0,1308.4 2224.5,1325.5 2231.0,1339.2 2237.6,1349.7 2244.1,1367.7 2250.6,1379.1 2257.1,1389.9 2263.7,1397.4 2270.2,1404.9 2276.7,1415.1 2283.2,1414.2 2289.7,1422.2 2296.3,1429.0 2302.8,1426.3 2309.3,1428.0 2315.8,1431.6 2322.4,1432.6 2328.9,1435.0 2335.4,1438.4 2341.9,1435.4 2348.5,1437.5 2355.0,1435.2" fill="none" stroke="#808080" stroke-width="4.0" stroke-linejoin="round"/>
<polyline points="1311.2,1470.8 1317.7,1472.2 1324.3,1470.2 1330.8,1473.7 1337.3,1470.4 1343.8,1470.7 1350.4,1468.7 1356.9,1469.5 1363.4,1467.9 1369.9,1468.4 1376.5,1465.1 1383.0,1468.0 1389.5,1470.8 1396.0,1462.0 1402.5,1468.6 1409.1,1463.2 1415.6,1463.9 1422.1,1458.0 1428.6,1463.3 1435.2,1454.1 1441.7,1454.6 1448.2,1456.8 1454.7,1448.0 1461.3,1443.7 1467.8,1448.0 1474.3,1445.2 1480.8,1443.9 1487.4,1443.8 1493.9,1442.6 1500.4,1450.6 1506.9,1451.1 1513.4,1445.8 1520.0,1450.6 1526.5,1451.5 1533.0,1457.2 1539.5,1454.4 1546.1,1462.2 1552.6,1460.1 1559.1,1460.0 1565.6,1463.2 1572.2,1463.5 1578.7,1471.0 1585.2,1467.5 1591.7,1467.1 1598.3,1469.2 1604.8,1472.7 1611.3,1468.3 1617.8,1467.3 1624.3,1473.8 1630.9,1472.7 1637.4,1470.8 1643.9,1471.7 1650.4,1474.2 1657.0,1466.8 1663.5,1474.8 1670.0,1472.0 1676.5,1473.7 1683.1,1472.4 1689.6,1478.5 1696.1,1471.3 1702.6,1474.7 1709.2,1467.5 1715.7,1472.7 1722.2,1474.1 1728.7,1469.6 1735.2,1468.6 1741.8,1472.8 1748.3,1474.6 1754.8,1474.9 1761.3,1471.2 1767.9,1473.2 1774.4,1469.6 1780.9,1475.9 1787.4,1471.2 1794.0,1474.8 1800.5,1471.7 1807.0,1471.5 1813.5,1475.3 1820.1,1470.2 1826.6,1474.5 1833.1,1471.1 1839.6,1469.9 1846.1,1469.9 1852.7,1473.8 1859.2,1471.2 1865.7,1470.5 1872.2,1468.0 1878.8,1473.4 1885.3,1472.9 1891.8,1471.3 1898.3,1472.0 1904.9,1463.3 1911.4,1468.6 1917.9,1469.7 1924.4,1469.0 1931.0,1466.8 1937.5,1467.4 1944.0,1463.4 1950.5,1460.6 1957.0,1454.5 1963.6,1450.7 1970.1,1437.7 1976.6,1423.2 1983.1,1408.8 1989.7,1377.9 1996.2,1345.3 2002.7,1300.1 2009.2,1258.8 2015.8,1215.8 2022.3,1163.0 2028.8,1114.7 2035.3,1080.2 2041.9,1066.2 2048.4,1070.7 2054.9,1082.5 2061.4,1092.6 2067.9,1136.2 2074.5,1149.2 2081.0,1155.6 2087.5,1171.8 2094.0,1164.0 2100.6,1179.9 2107.1,1177.5 2113.6,1184.5 2120.1,1184.1 2126.7,1194.7 2133.2,1208.0 2139.7,1224.3 2146.2,1238.3 2152.8,1256.0 2159.3,1270.6 2165.8,1299.4 2172.3,1312.0 2178.8,1328.4 2185.4,1345.2 2191.9,1358.1 2198.4,1374.7 2204.9,1385.8 2211.5,1403.8 2218.0,1413.9 2224.5,1424.6 2231.0,1428.9 2237.6,1438.8 2244.1,1444.6 2250.6,1454.2 2257.1,1452.4 2263.7,1456.1 2270.2,1465.7 2276.7,1465.8 2283.2,1463.3 2289.7,1471.2 2296.3,1472.5 2302.8,1472.5 2309.3,1466.3 2315.8,1471.4 2322.4,1469.7 2328.9,1471.3 2335.4,1468.8 2341.9,1475.8 2348.5,1471.0 2355.0,1473.1" fill="none" stroke="#c0c0c0" stroke-width="4.0" stroke-linejoin="round"/>
<polyline points="1311.2,1505.1 1317.7,1504.7 1324.3,1504.2 1330.8,1502.8 1337.3,1503.5 1343.8,1502.6 1350.4,1499.0 1356.9,1504.0 1363.4,1501.0 1369.9,1500.7 1376.5,1500.5 1383.0,1498.4 1389.5,1498.1 1396.0,1496.5 1402.5,1499.9 1409.1,1500.5 1415.6,1497.9 1422.1,1495.1 1428.6,1498.9 1435.2,1495.4 1441.7,1492.4 1448.2,1491.4 1454.7,1494.7 1461.3,1496.6 1467.8,1492.9 1474.3,1492.2 1480.8,1492.8 1487.4,1491.7 1493.9,1492.4 1500.4,1494.2 1506.9,1492.7 1513.4,1496.2 1520.0,1493.2 1526.5,1496.8 1533.0,1496.7 1539.5,1496.0 1546.1,1496.7 1552.6,1497.3 1559.1,1501.3 1565.6,1497.6 1572.2,1501.5 1578.7,1501.7 1585.2,1499.8 1591.7,1503.5 1598.3,1497.3 1604.8,1501.9 1611.3,1502.0 1617.8,1502.1 1624.3,1503.6 1630.9,1501.8 1637.4,1502.3 1643.9,1504.5 1650.4,1502.7 1657.0,1501.4 1663.5,1503.9 1670.0,1503.0 1676.5,1502.3 1683.1,1504.0 1689.6,1502.0 1696.1,1501.8 1702.6,1502.8 1709.2,1503.0 1715.7,1503.3 1722.2,1501.5 1728.7,1505.8 1735.2,1504.2 1741.8,1503.5 1748.3,1503.6 1754.8,1499.5 1761.3,1504.6 1767.9,1501.7 1774.4,1503.9 1780.9,1501.4 1787.4,1504.6 1794.0,1502.4 1800.5,1502.8 1807.0,1505.4 1813.5,1504.6 1820.1,1501.1 1826.6,1502.0 1833.1,1503.3 1839.6,1502.7 1846.1,1504.1 1852.7,1501.9 1859.2,1500.0 1865.7,1501.3 1872.2,1502.2 1878.8,1503.2 1885.3,1503.2 1891.8,1503.7 1898.3,1501.7 1904.9,1500.4 1911.4,1501.0 1917.9,1498.4 1924.4,1495.8 1931.0,1492.9 1937.5,1491.4 1944.0,1486.7 1950.5,1478.5 1957.0,1461.3 1963.6,1453.8 1970.1,1431.1 1976.6,1412.0 1983.1,1389.7 1989.7,1354.8 1996.2,1321.7 2002.7,1286.1 2009.2,1254.4 2015.8,1210.0 2022.3,1160.0 2028.8,1125.1 2035.3,1093.4 2041.9,1073.9 2048.4,1063.2 2054.9,1080.8 2061.4,1094.2 2067.9,1129.7 2074.5,1155.5 2081.0,1201.3 2087.5,1237.2 2094.0,1276.2 2100.6,1294.5 2107.1,1333.7 2113.6,1359.7 2120.1,1378.4 2126.7,1401.8 2133.2,1419.6 2139.7,1429.4 2146.2,1439.9 2152.8,1449.8 2159.3,1454.6 2165.8,1462.1 2172.3,1465.4 2178.8,1466.5 2185.4,1469.3 2191.9,1477.2 2198.4,1478.8 2204.9,1478.8 2211.5,1482.7 2218.0,1487.8 2224.5,1483.7 2231.0,1487.2 2237.6,1492.0 2244.1,1493.7 2250.6,1491.5 2257.1,1493.1 2263.7,1496.3 2270.2,1499.4 2276.7,1497.9 2283.2,1494.8 2289.7,1500.9 2296.3,1499.7 2302.8,1499.5 2309.3,1498.7 2315.8,1502.6 2322.4,1501.4 2328.9,1501.8 2335.4,1501.8 2341.9,1502.1 2348.5,1502.7 2355.0,1504.0" fill="none" stroke="#00ffff" stroke-width="4.0" stroke-linejoin="round"/>
<polyline points="1311.2,1535.6 1317.7,1536.1 1324.3,1535.8 1330.8,1537.1 1337.3,1535.6 1343.8,1534.6 1350.4,1535.5 1356.9,1534.9 1363.4,1534.7 1369.9,1534.7 1376.5,1534.0 1383.0,1533.3 1389.5,1535.8 1396.0,1534.2 1402.5,1533.4 1409.1,1534.3 1415.6,1534.7 1422.1,1532.3 1428.6,1533.1 1435.2,1533.4 1441.7,1532.5 1448.2,1533.3 1454.7,1532.0 1461.3,1532.4 1467.8,1532.7 1474.3,1533.1 1480.8,1532.9 1487.4,1532.4 1493.9,1532.7 1500.4,1531.6 1506.9,1534.8 1513.4,1533.1 1520.0,1533.3 1526.5,1533.9 1533.0,1534.3 1539.5,1534.3 1546.1,1533.8 1552.6,1533.3 1559.1,1534.5 1565.6,1534.2 1572.2,1534.5 1578.7,1535.1 1585.2,1535.4 1591.7,1536.2 1598.3,1535.4 1604.8,1534.4 1611.3,1536.1 1617.8,1536.4 1624.3,1534.8 1630.9,1536.3 1637.4,1536.1 1643.9,1535.7 1650.4,1536.2 1657.0,1536.4 1663.5,1536.6 1670.0,1537.0 1676.5,1536.3 1683.1,1536.3 1689.6,1537.8 1696.1,1535.7 1702.6,1536.2 1709.2,1536.1 1715.7,1536.8 1722.2,1537.1 1728.7,1535.5 1735.2,1537.1 1741.8,1535.6 1748.3,1538.0 1754.8,1536.0 1761.3,1537.1 1767.9,1536.2 1774.4,1536.8 1780.9,1535.9 1787.4,1536.4 1794.0,1536.4 1800.5,1536.4 1807.0,1536.8 1813.5,1536.0 1820.1,1536.1 1826.6,1535.4 1833.1,1536.1 1839.6,1535.8 1846.1,1536.4 1852.7,1536.0 1859.2,1534.5 1865.7,1534.4 1872.2,1533.8 1878.8,1530.8 1885.3,1527.4 1891.8,1526.7 1898.3,1520.4 1904.9,1514.4 1911.4,1508.5 1917.9,1496.0 1924.4,1485.9 1931.0,1470.4 1937.5,1457.9 1944.0,1440.5 1950.5,1419.8 1957.0,1398.3 1963.6,1376.0 1970.1,1351.3 1976.6,1328.4 1983.1,1300.1 1989.7,1276.0 1996.2,1254.8 2002.7,1236.0 2009.2,1227.9 2015.8,1224.1 2022.3,1236.6 2028.8,1256.0 2035.3,1289.5 2041.9,1327.1 2048.4,1359.3 2054.9,1393.4 2061.4,1426.5 2067.9,1449.5 2074.5,1472.7 2081.0,1490.8 2087.5,1503.5 2094.0,1513.6 2100.6,1524.0 2107.1,1527.7 2113.6,1531.9 2120.1,1533.1 2126.7,1535.0 2133.2,1534.5 2139.7,1534.8 2146.2,1535.2 2152.8,1535.5 2159.3,1535.5 2165.8,1535.7 2172.3,1536.1 2178.8,1535.5 2185.4,1536.4 2191.9,1535.4 2198.4,1536.2 2204.9,1536.6 2211.5,1536.9 2218.0,1534.6 2224.5,1536.8 2231.0,1534.7 2237.6,1536.6 2244.1,1535.7 2250.6,1535.9 2257.1,1535.1 2263.7,1536.3 2270.2,1536.1 2276.7,1535.4 2283.2,1535.3 2289.7,1536.2 2296.3,1536.3 2302.8,1536.1 2309.3,1535.4 2315.8,1535.6 2322.4,1536.2 2328.9,1536.1 2335.4,1536.3 2341.9,1535.7 2348.5,1535.2 2355.0,1535.8" fill="none" stroke="#00ffff" stroke-width="4.0" stroke-linejoin="round"/>
<polyline points="1311.2,1563.9 1317.7,1563.3 1324.3,1563.8 1330.8,1563.0 1337.3,1563.6 1343.8,1563.0 1350.4,1564.5 1356.9,1563.9 1363.4,1563.3 1369.9,1562.3 1376.5,1562.3 1383.0,1563.3 1389.5,1562.7 1396.0,1562.9 1402.5,1561.7 1409.1,1561.6 1415.6,1562.5 1422.1,1562.2 1428.6,1561.5 1435.2,1561.7 1441.7,1562.6 1448.2,1561.8 1454.7,1562.4 1461.3,1563.0 1467.8,1562.2 1474.3,1562.1 1480.8,1561.7 1487.4,1562.8 1493.9,1561.3 1500.4,1561.5 1506.9,1562.2 1513.4,1561.4 1520.0,1562.9 1526.5,1562.1 1533.0,1562.9 1539.5,1562.5 1546.1,1562.6 1552.6,1562.8 1559.1,1561.8 1565.6,1562.4 1572.2,1562.8 1578.7,1564.4 1585.2,1563.7 1591.7,1563.7 1598.3,1562.8 1604.8,1563.9 1611.3,1564.2 1617.8,1564.0 1624.3,1565.0 1630.9,1562.9 1637.4,1563.1 1643.9,1563.6 1650.4,1563.2 1657.0,1563.8 1663.5,1564.1 1670.0,1563.8 1676.5,1563.9 1683.1,1564.1 1689.6,1564.3 1696.1,1563.5 1702.6,1563.5 1709.2,1564.5 1715.7,1563.7 1722.2,1563.5 1728.7,1564.1 1735.2,1563.7 1741.8,1564.0 1748.3,1563.9 1754.8,1564.3 1761.3,1564.4 1767.9,1563.5 1774.4,1563.3 1780.9,1564.8 1787.4,1563.6 1794.0,1563.2 1800.5,1563.0 1807.0,1563.9 1813.5,1563.6 1820.1,1563.0 1826.6,1563.5 1833.1,1563.4 1839.6,1564.4 1846.1,1563.9 1852.7,1563.7 1859.2,1562.8 1865.7,1562.9 1872.2,1562.8 1878.8,1561.5 1885.3,1560.7 1891.8,1558.0 1898.3,1555.6 1904.9,1551.8 1911.4,1546.2 1917.9,1541.6 1924.4,1533.3 1931.0,1524.6 1937.5,1512.2 1944.0,1499.7 1950.5,1486.4 1957.0,1469.6 1963.6,1453.4 1970.1,1433.7 1976.6,1413.8 1983.1,1391.0 1989.7,1366.3 1996.2,1347.3 2002.7,1324.9 2009.2,1308.0 2015.8,1297.3 2022.3,1291.5 2028.8,1295.1 2035.3,1311.9 2041.9,1332.3 2048.4,1363.3 2054.9,1392.4 2061.4,1423.5 2067.9,1450.4 2074.5,1475.2 2081.0,1498.1 2087.5,1514.9 2094.0,1529.1 2100.6,1539.3 2107.1,1549.5 2113.6,1554.1 2120.1,1557.9 2126.7,1560.8 2133.2,1562.8 2139.7,1563.7 2146.2,1564.5 2152.8,1563.4 2159.3,1563.8 2165.8,1564.8 2172.3,1565.2 2178.8,1563.7 2185.4,1564.0 2191.9,1563.3 2198.4,1563.6 2204.9,1563.6 2211.5,1564.0 2218.0,1563.5 2224.5,1564.5 2231.0,1564.0 2237.6,1563.9 2244.1,1564.5 2250.6,1563.9 2257.1,1563.4 2263.7,1564.1 2270.2,1565.2 2276.7,1564.1 2283.2,1564.3 2289.7,1564.0 2296.3,1564.0 2302.8,1564.3 2309.3,1562.7 2315.8,1563.5 2322.4,1563.8 2328.9,1563.9 2335.4,1564.8 2341.9,1565.3 2348.5,1564.4 2355.0,1564.3" fill="none" stroke="#0000e6" stroke-width="4.0" stroke-linejoin="round"/>
<polyline points="1311.2,1593.1 1317.7,1593.4 1324.3,1592.3 1330.8,1592.5 1337.3,1592.7 1343.8,1592.7 1350.4,1591.7 1356.9,1592.7 1363.4,1591.7 1369.9,1592.7 1376.5,1592.7 1383.0,1591.2 1389.5,1592.4 1396.0,1592.2 1402.5,1591.7 1409.1,1592.4 1415.6,1592.8 1422.1,1592.0 1428.6,1591.3 1435.2,1591.0 1441.7,1591.1 1448.2,1591.2 1454.7,1592.1 1461.3,1591.7 1467.8,1591.5 1474.3,1592.0 1480.8,1591.6 1487.4,1591.6 1493.9,1591.2 1500.4,1591.4 1506.9,1591.7 1513.4,1591.2 1520.0,1592.6 1526.5,1592.0 1533.0,1591.7 1539.5,1592.5 1546.1,1591.6 1552.6,1592.6 1559.1,1592.3 1565.6,1593.1 1572.2,1592.1 1578.7,1592.2 1585.2,1592.1 1591.7,1592.0 1598.3,1592.7 1604.8,1592.2 1611.3,1592.8 1617.8,1592.4 1624.3,1593.2 1630.9,1591.7 1637.4,1593.0 1643.9,1592.8 1650.4,1592.8 1657.0,1592.6 1663.5,1593.6 1670.0,1592.7 1676.5,1593.1 1683.1,1592.8 1689.6,1592.8 1696.1,1593.0 1702.6,1593.2 1709.2,1592.5 1715.7,1592.7 1722.2,1592.4 1728.7,1593.1 1735.2,1592.6 1741.8,1592.6 1748.3,1593.2 1754.8,1592.9 1761.3,1593.1 1767.9,1592.9 1774.4,1593.1 1780.9,1593.0 1787.4,1592.5 1794.0,1593.0 1800.5,1592.8 1807.0,1592.8 1813.5,1593.0 1820.1,1592.7 1826.6,1592.5 1833.1,1593.4 1839.6,1593.6 1846.1,1592.6 1852.7,1593.1 1859.2,1592.6 1865.7,1591.8 1872.2,1591.3 1878.8,1590.8 1885.3,1589.6 1891.8,1588.1 1898.3,1586.1 1904.9,1582.8 1911.4,1580.4 1917.9,1574.8 1924.4,1569.3 1931.0,1563.9 1937.5,1556.0 1944.0,1547.4 1950.5,1536.0 1957.0,1523.5 1963.6,1511.7 1970.1,1496.1 1976.6,1480.2 1983.1,1462.5 1989.7,1445.9 1996.2,1425.0 2002.7,1410.2 2009.2,1390.9 2015.8,1380.0 2022.3,1366.6 2028.8,1362.9 2035.3,1364.0 2041.9,1369.0 2048.4,1385.3 2054.9,1411.9 2061.4,1435.3 2067.9,1460.6 2074.5,1487.2 2081.0,1505.6 2087.5,1525.9 2094.0,1542.4 2100.6,1556.2 2107.1,1566.1 2113.6,1576.1 2120.1,1582.3 2126.7,1585.9 2133.2,1588.6 2139.7,1589.9 2146.2,1591.9 2152.8,1591.9 2159.3,1592.8 2165.8,1593.0 2172.3,1592.7 2178.8,1591.8 2185.4,1592.3 2191.9,1593.2 2198.4,1592.8 2204.9,1593.3 2211.5,1591.8 2218.0,1592.6 2224.5,1592.6 2231.0,1592.0 2237.6,1592.4 2244.1,1593.1 2250.6,1592.9 2257.1,1592.4 2263.7,1592.8 2270.2,1593.1 2276.7,1592.2 2283.2,1592.8 2289.7,1593.1 2296.3,1592.3 2302.8,1593.1 2309.3,1592.6 2315.8,1593.1 2322.4,1593.0 2328.9,1592.7 2335.4,1592.5 2341.9,1592.3 2348.5,1592.7 2355.0,1592.7" fill="none" stroke="#0000a8" stroke-width="4.0" stroke-linejoin="round"/>
<polyline points="1311.2,1622.6 1317.7,1622.0 1324.3,1622.1 1330.8,1622.7 1337.3,1622.0 1343.8,1622.1 1350.4,1622.5 1356.9,1621.8 1363.4,1621.9 1369.9,1622.1 1376.5,1621.6 1383.0,1621.1 1389.5,1620.9 1396.0,1621.5 1402.5,1622.0 1409.1,1621.9 1415.6,1622.1 1422.1,1621.8 1428.6,1621.0 1435.2,1620.6 1441.7,1621.0 1448.2,1621.1 1454.7,1620.9 1461.3,1621.6 1467.8,1620.8 1474.3,1621.5 1480.8,1621.6 1487.4,1620.4 1493.9,1621.1 1500.4,1621.8 1506.9,1621.7 1513.4,1621.4 1520.0,1620.9 1526.5,1621.1 1533.0,1621.5 1539.5,1622.1 1546.1,1621.8 1552.6,1621.6 1559.1,1621.8 1565.6,1622.0 1572.2,1621.0 1578.7,1621.4 1585.2,1621.8 1591.7,1622.4 1598.3,1622.4 1604.8,1621.6 1611.3,1622.0 1617.8,1621.7 1624.3,1621.8 1630.9,1622.1 1637.4,1621.9 1643.9,1621.8 1650.4,1621.6 1657.0,1621.4 1663.5,1622.0 1670.0,1622.2 1676.5,1622.4 1683.1,1621.8 1689.6,1621.8 1696.1,1622.7 1702.6,1622.3 1709.2,1622.5 1715.7,1621.9 1722.2,1621.9 1728.7,1621.7 1735.2,1622.6 1741.8,1621.7 1748.3,1621.5 1754.8,1621.9 1761.3,1622.7 1767.9,1622.2 1774.4,1622.3 1780.9,1622.2 1787.4,1622.1 1794.0,1622.1 1800.5,1621.6 1807.0,1622.8 1813.5,1622.1 1820.1,1622.6 1826.6,1621.5 1833.1,1622.3 1839.6,1621.6 1846.1,1621.5 1852.7,1622.1 1859.2,1622.3 1865.7,1622.3 1872.2,1621.9 1878.8,1620.8 1885.3,1620.6 1891.8,1619.0 1898.3,1617.8 1904.9,1616.5 1911.4,1614.1 1917.9,1611.9 1924.4,1607.0 1931.0,1604.6 1937.5,1598.6 1944.0,1594.2 1950.5,1587.4 1957.0,1578.3 1963.6,1570.6 1970.1,1561.8 1976.6,1550.3 1983.1,1539.2 1989.7,1527.7 1996.2,1516.2 2002.7,1503.7 2009.2,1490.1 2015.8,1479.7 2022.3,1470.2 2028.8,1461.7 2035.3,1455.0 2041.9,1453.2 2048.4,1459.4 2054.9,1473.6 2061.4,1492.4 2067.9,1512.9 2074.5,1533.4 2081.0,1554.3 2087.5,1569.8 2094.0,1585.2 2100.6,1594.4 2107.1,1603.8 2113.6,1610.1 2120.1,1616.1 2126.7,1618.8 2133.2,1619.8 2139.7,1620.2 2146.2,1622.1 2152.8,1621.9 2159.3,1621.5 2165.8,1621.4 2172.3,1622.2 2178.8,1622.0 2185.4,1622.1 2191.9,1622.2 2198.4,1621.9 2204.9,1621.9 2211.5,1622.3 2218.0,1622.0 2224.5,1621.9 2231.0,1622.3 2237.6,1621.2 2244.1,1622.5 2250.6,1622.2 2257.1,1621.7 2263.7,1622.0 2270.2,1622.5 2276.7,1622.2 2283.2,1621.3 2289.7,1621.6 2296.3,1622.1 2302.8,1622.7 2309.3,1622.3 2315.8,1621.9 2322.4,1622.2 2328.9,1622.0 2335.4,1621.9 2341.9,1622.2 2348.5,1621.1 2355.0,1622.4" fill="none" stroke="#000078" stroke-width="4.0" stroke-linejoin="round"/>
<line x1="230.5" y1="151.0" x2="230.5" y2="1656.5" stroke="#000" stroke-width="5"/>
<line x1="2357.4" y1="151.0" x2="2357.4" y2="1656.5" stroke="#000" stroke-width="5"/>
<line x1="230.5" y1="153.5" x2="1276.5" y2="153.5" stroke="#000" stroke-width="5"/>
<line x1="1312.5" y1="153.5" x2="2357.4" y2="153.5" stroke="#000" stroke-width="5"/>
<line x1="230.5" y1="1654.0" x2="1276.5" y2="1654.0" stroke="#000" stroke-width="5"/>
<line x1="1312.5" y1="1654.0" x2="2357.4" y2="1654.0" stroke="#000" stroke-width="5"/>
<line x1="1256.9" y1="1681.0" x2="1293.2" y2="1626.8" stroke="#000" stroke-width="5.0"/>
<line x1="1294.0" y1="1680.8" x2="1329.6" y2="1626.8" stroke="#000" stroke-width="5.0"/>
<line x1="1256.9" y1="181.0" x2="1293.2" y2="126.8" stroke="#000" stroke-width="5.0"/>
<line x1="1294.0" y1="180.8" x2="1329.6" y2="126.8" stroke="#000" stroke-width="5.0"/>
<line x1="216.5" y1="155.8" x2="228.5" y2="155.8" stroke="#000" stroke-width="5"/>
<line x1="216.5" y1="183.6" x2="228.5" y2="183.6" stroke="#000" stroke-width="5"/>
<line x1="216.5" y1="211.3" x2="228.5" y2="211.3" stroke="#000" stroke-width="5"/>
<line x1="216.5" y1="239.0" x2="228.5" y2="239.0" stroke="#000" stroke-width="5"/>
<line x1="216.5" y1="266.7" x2="228.5" y2="266.7" stroke="#000" stroke-width="5"/>
<line x1="203.5" y1="294.4" x2="228.5" y2="294.4" stroke="#000" stroke-width="5"/>
<line x1="216.5" y1="322.1" x2="228.5" y2="322.1" stroke="#000" stroke-width="5"/>
<line x1="216.5" y1="349.8" x2="228.5" y2="349.8" stroke="#000" stroke-width="5"/>
<line x1="216.5" y1="377.5" x2="228.5" y2="377.5" stroke="#000" stroke-width="5"/>
<line x1="216.5" y1="405.2" x2="228.5" y2="405.2" stroke="#000" stroke-width="5"/>
<line x1="216.5" y1="432.9" x2="228.5" y2="432.9" stroke="#000" stroke-width="5"/>
<line x1="216.5" y1="460.7" x2="228.5" y2="460.7" stroke="#000" stroke-width="5"/>
<line x1="216.5" y1="488.4" x2="228.5" y2="488.4" stroke="#000" stroke-width="5"/>
<line x1="216.5" y1="516.1" x2="228.5" y2="516.1" stroke="#000" stroke-width="5"/>
<line x1="216.5" y1="543.8" x2="228.5" y2="543.8" stroke="#000" stroke-width="5"/>
<line x1="203.5" y1="571.5" x2="228.5" y2="571.5" stroke="#000" stroke-width="5"/>
<line x1="216.5" y1="599.2" x2="228.5" y2="599.2" stroke="#000" stroke-width="5"/>
<line x1="216.5" y1="626.9" x2="228.5" y2="626.9" stroke="#000" stroke-width="5"/>
<line x1="216.5" y1="654.6" x2="228.5" y2="654.6" stroke="#000" stroke-width="5"/>
<line x1="216.5" y1="682.3" x2="228.5" y2="682.3" stroke="#000" stroke-width="5"/>
<line x1="216.5" y1="710.0" x2="228.5" y2="710.0" stroke="#000" stroke-width="5"/>
<line x1="216.5" y1="737.8" x2="228.5" y2="737.8" stroke="#000" stroke-width="5"/>
<line x1="216.5" y1="765.5" x2="228.5" y2="765.5" stroke="#000" stroke-width="5"/>
<line x1="216.5" y1="793.2" x2="228.5" y2="793.2" stroke="#000" stroke-width="5"/>
<line x1="216.5" y1="820.9" x2="228.5" y2="820.9" stroke="#000" stroke-width="5"/>
<line x1="203.5" y1="848.6" x2="228.5" y2="848.6" stroke="#000" stroke-width="5"/>
<line x1="216.5" y1="876.3" x2="228.5" y2="876.3" stroke="#000" stroke-width="5"/>
<line x1="216.5" y1="904.0" x2="228.5" y2="904.0" stroke="#000" stroke-width="5"/>
<line x1="216.5" y1="931.7" x2="228.5" y2="931.7" stroke="#000" stroke-width="5"/>
<line x1="216.5" y1="959.4" x2="228.5" y2="959.4" stroke="#000" stroke-width="5"/>
<line x1="216.5" y1="987.1" x2="228.5" y2="987.1" stroke="#000" stroke-width="5"/>
<line x1="216.5" y1="1014.9" x2="228.5" y2="1014.9" stroke="#000" stroke-width="5"/>
<line x1="216.5" y1="1042.6" x2="228.5" y2="1042.6" stroke="#000" stroke-width="5"/>
<line x1="216.5" y1="1070.3" x2="228.5" y2="1070.3" stroke="#000" stroke-width="5"/>
<line x1="216.5" y1="1098.0" x2="228.5" y2="1098.0" stroke="#000" stroke-width="5"/>
<line x1="203.5" y1="1125.7" x2="228.5" y2="1125.7" stroke="#000" stroke-width="5"/>
<line x1="216.5" y1="1153.4" x2="228.5" y2="1153.4" stroke="#000" stroke-width="5"/>
<line x1="216.5" y1="1181.1" x2="228.5" y2="1181.1" stroke="#000" stroke-width="5"/>
<line x1="216.5" y1="1208.8" x2="228.5" y2="1208.8" stroke="#000" stroke-width="5"/>
<line x1="216.5" y1="1236.5" x2="228.5" y2="1236.5" stroke="#000" stroke-width="5"/>
<line x1="216.5" y1="1264.2" x2="228.5" y2="1264.2" stroke="#000" stroke-width="5"/>
<line x1="216.5" y1="1292.0" x2="228.5" y2="1292.0" stroke="#000" stroke-width="5"/>
<line x1="216.5" y1="1319.7" x2="228.5" y2="1319.7" stroke="#000" stroke-width="5"/>
<line x1="216.5" y1="1347.4" x2="228.5" y2="1347.4" stroke="#000" stroke-width="5"/>
<line x1="216.5" y1="1375.1" x2="228.5" y2="1375.1" stroke="#000" stroke-width="5"/>
<line x1="203.5" y1="1402.8" x2="228.5" y2="1402.8" stroke="#000" stroke-width="5"/>
<line x1="216.5" y1="1430.5" x2="228.5" y2="1430.5" stroke="#000" stroke-width="5"/>
<line x1="216.5" y1="1458.2" x2="228.5" y2="1458.2" stroke="#000" stroke-width="5"/>
<line x1="216.5" y1="1485.9" x2="228.5" y2="1485.9" stroke="#000" stroke-width="5"/>
<line x1="216.5" y1="1513.6" x2="228.5" y2="1513.6" stroke="#000" stroke-width="5"/>
<line x1="216.5" y1="1541.3" x2="228.5" y2="1541.3" stroke="#000" stroke-width="5"/>
<line x1="216.5" y1="1569.1" x2="228.5" y2="1569.1" stroke="#000" stroke-width="5"/>
<line x1="216.5" y1="1596.8" x2="228.5" y2="1596.8" stroke="#000" stroke-width="5"/>
<line x1="216.5" y1="1624.5" x2="228.5" y2="1624.5" stroke="#000" stroke-width="5"/>
<line x1="216.5" y1="1652.2" x2="228.5" y2="1652.2" stroke="#000" stroke-width="5"/>
<line x1="230.6" y1="1656.0" x2="230.6" y2="1668.0" stroke="#000" stroke-width="5"/>
<line x1="275.0" y1="1656.0" x2="275.0" y2="1668.0" stroke="#000" stroke-width="5"/>
<line x1="319.5" y1="1656.0" x2="319.5" y2="1681.0" stroke="#000" stroke-width="5"/>
<line x1="363.9" y1="1656.0" x2="363.9" y2="1668.0" stroke="#000" stroke-width="5"/>
<line x1="408.4" y1="1656.0" x2="408.4" y2="1668.0" stroke="#000" stroke-width="5"/>
<line x1="452.8" y1="1656.0" x2="452.8" y2="1668.0" stroke="#000" stroke-width="5"/>
<line x1="497.2" y1="1656.0" x2="497.2" y2="1681.0" stroke="#000" stroke-width="5"/>
<line x1="541.7" y1="1656.0" x2="541.7" y2="1668.0" stroke="#000" stroke-width="5"/>
<line x1="586.1" y1="1656.0" x2="586.1" y2="1668.0" stroke="#000" stroke-width="5"/>
<line x1="630.6" y1="1656.0" x2="630.6" y2="1668.0" stroke="#000" stroke-width="5"/>
<line x1="675.0" y1="1656.0" x2="675.0" y2="1681.0" stroke="#000" stroke-width="5"/>
<line x1="719.4" y1="1656.0" x2="719.4" y2="1668.0" stroke="#000" stroke-width="5"/>
<line x1="763.9" y1="1656.0" x2="763.9" y2="1668.0" stroke="#000" stroke-width="5"/>
<line x1="808.3" y1="1656.0" x2="808.3" y2="1668.0" stroke="#000" stroke-width="5"/>
<line x1="852.8" y1="1656.0" x2="852.8" y2="1681.0" stroke="#000" stroke-width="5"/>
<line x1="897.2" y1="1656.0" x2="897.2" y2="1668.0" stroke="#000" stroke-width="5"/>
<line x1="941.6" y1="1656.0" x2="941.6" y2="1668.0" stroke="#000" stroke-width="5"/>
<line x1="986.1" y1="1656.0" x2="986.1" y2="1668.0" stroke="#000" stroke-width="5"/>
<line x1="1030.5" y1="1656.0" x2="1030.5" y2="1681.0" stroke="#000" stroke-width="5"/>
<line x1="1075.0" y1="1656.0" x2="1075.0" y2="1668.0" stroke="#000" stroke-width="5"/>
<line x1="1119.4" y1="1656.0" x2="1119.4" y2="1668.0" stroke="#000" stroke-width="5"/>
<line x1="1163.8" y1="1656.0" x2="1163.8" y2="1668.0" stroke="#000" stroke-width="5"/>
<line x1="1208.3" y1="1656.0" x2="1208.3" y2="1681.0" stroke="#000" stroke-width="5"/>
<line x1="1252.7" y1="1656.0" x2="1252.7" y2="1668.0" stroke="#000" stroke-width="5"/>
<line x1="1342.7" y1="1656.0" x2="1342.7" y2="1668.0" stroke="#000" stroke-width="5"/>
<line x1="1405.9" y1="1656.0" x2="1405.9" y2="1668.0" stroke="#000" stroke-width="5"/>
<line x1="1469.2" y1="1656.0" x2="1469.2" y2="1681.0" stroke="#000" stroke-width="5"/>
<line x1="1532.5" y1="1656.0" x2="1532.5" y2="1668.0" stroke="#000" stroke-width="5"/>
<line x1="1595.7" y1="1656.0" x2="1595.7" y2="1668.0" stroke="#000" stroke-width="5"/>
<line x1="1659.0" y1="1656.0" x2="1659.0" y2="1668.0" stroke="#000" stroke-width="5"/>
<line x1="1722.3" y1="1656.0" x2="1722.3" y2="1668.0" stroke="#000" stroke-width="5"/>
<line x1="1785.6" y1="1656.0" x2="1785.6" y2="1681.0" stroke="#000" stroke-width="5"/>
<line x1="1848.8" y1="1656.0" x2="1848.8" y2="1668.0" stroke="#000" stroke-width="5"/>
<line x1="1912.1" y1="1656.0" x2="1912.1" y2="1668.0" stroke="#000" stroke-width="5"/>
<line x1="1975.4" y1="1656.0" x2="1975.4" y2="1668.0" stroke="#000" stroke-width="5"/>
<line x1="2038.6" y1="1656.0" x2="2038.6" y2="1668.0" stroke="#000" stroke-width="5"/>
<line x1="2101.9" y1="1656.0" x2="2101.9" y2="1681.0" stroke="#000" stroke-width="5"/>
<line x1="2165.2" y1="1656.0" x2="2165.2" y2="1668.0" stroke="#000" stroke-width="5"/>
<line x1="2228.4" y1="1656.0" x2="2228.4" y2="1668.0" stroke="#000" stroke-width="5"/>
<line x1="2291.7" y1="1656.0" x2="2291.7" y2="1668.0" stroke="#000" stroke-width="5"/>
<line x1="2355.0" y1="1656.0" x2="2355.0" y2="1668.0" stroke="#000" stroke-width="5"/>
<text x="319.5" y="1743.3" font-size="55.0" font-family='"Liberation Sans", sans-serif' text-anchor="middle">16</text>
<text x="497.2" y="1743.3" font-size="55.0" font-family='"Liberation Sans", sans-serif' text-anchor="middle">18</text>
<text x="675.0" y="1743.3" font-size="55.0" font-family='"Liberation Sans", sans-serif' text-anchor="middle">20</text>
<text x="852.8" y="1743.3" font-size="55.0" font-family='"Liberation Sans", sans-serif' text-anchor="middle">22</text>
<text x="1030.5" y="1743.3" font-size="55.0" font-family='"Liberation Sans", sans-serif' text-anchor="middle">24</text>
<text x="1208.3" y="1743.3" font-size="55.0" font-family='"Liberation Sans", sans-serif' text-anchor="middle">26</text>
<text x="1469.2" y="1743.3" font-size="55.0" font-family='"Liberation Sans", sans-serif' text-anchor="middle">27.0</text>
<text x="1785.6" y="1743.3" font-size="55.0" font-family='"Liberation Sans", sans-serif' text-anchor="middle">27.5</text>
<text x="2101.9" y="1743.3" font-size="55.0" font-family='"Liberation Sans", sans-serif' text-anchor="middle">28.0</text>
<text x="227.0" y="123.4" font-size="70.0" font-family='"Liberation Sans", sans-serif' font-weight="bold">b)</text>
<text x="142.3" y="1013.2" font-size="69.5" font-family='"Liberation Sans", sans-serif' transform="rotate(-90 142.3 1013.2)" textLength="434.0" lengthAdjust="spacingAndGlyphs">Intensity (a.u.)</text>
<text x="1124.2" y="1850.6" font-size="70.0" font-family='"Liberation Sans", sans-serif' textLength="339.6" lengthAdjust="spacingAndGlyphs">°2<tspan font-family='"Liberation Serif", serif' font-size="70.0">θ</tspan> (8 keV)</text>
<line x1="2039.0" y1="892.1" x2="2039.0" y2="1018.2" stroke="#ff0000" stroke-width="2.0"/>
<path d="M2030.0,1016.2 L2048.0,1016.2 L2039.0,1052.8 Z" fill="#ff0000"/>
<line x1="2116.0" y1="1015.9" x2="2116.0" y2="1141.0" stroke="#ff0000" stroke-width="2.0"/>
<path d="M2106.5,1139.0 L2125.5,1139.0 L2116.0,1175.5 Z" fill="#ff0000"/>
<line x1="298.4" y1="755.6" x2="397.1" y2="755.6" stroke="#000000" stroke-width="3.2"/>
<text x="404.5" y="769.1" font-size="32.5" font-family='"Liberation Sans", sans-serif' font-weight="bold" textLength="410.4" lengthAdjust="spacingAndGlyphs">V-Zr2% blade40 RT 1.5° 1</text>
<line x1="298.4" y1="809.0" x2="397.1" y2="809.0" stroke="#404040" stroke-width="3.2"/>
<text x="404.5" y="822.5" font-size="32.5" font-family='"Liberation Sans", sans-serif' font-weight="bold" textLength="444.0" lengthAdjust="spacingAndGlyphs">V-Zr2% blade40 60°C 1.5° 1</text>
<line x1="298.4" y1="862.5" x2="397.1" y2="862.5" stroke="#808080" stroke-width="3.2"/>
<text x="404.5" y="876.0" font-size="32.5" font-family='"Liberation Sans", sans-serif' font-weight="bold" textLength="444.0" lengthAdjust="spacingAndGlyphs">V-Zr2% blade40 65°C 1.5° 1</text>
<line x1="298.4" y1="915.9" x2="397.1" y2="915.9" stroke="#c0c0c0" stroke-width="3.2"/>
<text x="404.5" y="929.4" font-size="32.5" font-family='"Liberation Sans", sans-serif' font-weight="bold" textLength="444.0" lengthAdjust="spacingAndGlyphs">V-Zr2% blade40 70°C 1.5° 1</text>
<line x1="298.4" y1="969.3" x2="397.1" y2="969.3" stroke="#00ffff" stroke-width="3.2"/>
<text x="404.5" y="982.8" font-size="32.5" font-family='"Liberation Sans", sans-serif' font-weight="bold" textLength="444.0" lengthAdjust="spacingAndGlyphs">V-Zr2% blade40 75°C 1.5° 1</text>
<line x1="298.4" y1="1022.8" x2="397.1" y2="1022.8" stroke="#00ffff" stroke-width="3.2"/>
<text x="404.5" y="1036.2" font-size="32.5" font-family='"Liberation Sans", sans-serif' font-weight="bold" textLength="444.0" lengthAdjust="spacingAndGlyphs">V-Zr2% blade40 80°C 1.5° 1</text>
<line x1="298.4" y1="1076.2" x2="397.1" y2="1076.2" stroke="#0000e6" stroke-width="3.2"/>
<text x="404.5" y="1089.7" font-size="32.5" font-family='"Liberation Sans", sans-serif' font-weight="bold" textLength="444.0" lengthAdjust="spacingAndGlyphs">V-Zr2% blade40 85°C 1.5° 1</text>
<line x1="298.4" y1="1129.6" x2="397.1" y2="1129.6" stroke="#0000a8" stroke-width="3.2"/>
<text x="404.5" y="1143.1" font-size="32.5" font-family='"Liberation Sans", sans-serif' font-weight="bold" textLength="444.0" lengthAdjust="spacingAndGlyphs">V-Zr2% blade40 90°C 1.5° 1</text>
<line x1="298.4" y1="1183.0" x2="397.1" y2="1183.0" stroke="#000078" stroke-width="3.2"/>
<text x="404.5" y="1196.5" font-size="32.5" font-family='"Liberation Sans", sans-serif' font-weight="bold" textLength="444.0" lengthAdjust="spacingAndGlyphs">V-Zr2% blade40 95°C 1.5° 1</text>
<line x1="869.0" y1="153.5" x2="869.0" y2="556.0" stroke="#000" stroke-width="5"/>
<line x1="230.5" y1="553.5" x2="869.0" y2="553.5" stroke="#000" stroke-width="5"/>
<rect x="449.0" y="362.0" width="70.7" height="84.2" fill="#ff9b9b" stroke="#ff2020" stroke-width="1.2"/>
<path d="M280.8,174.6 L298.7,192.5 L280.8,210.4 L262.9,192.5 Z" fill="#fff" stroke="#0000ff" stroke-width="4.5" stroke-linejoin="miter"/>
<path d="M348.0,277.4 L365.9,295.3 L348.0,313.2 L330.1,295.3 Z" fill="#fff" stroke="#00ffff" stroke-width="4.5" stroke-linejoin="miter"/>
<path d="M415.2,349.6 L433.1,367.5 L415.2,385.4 L397.3,367.5 Z" fill="#fff" stroke="#ffff00" stroke-width="4.5" stroke-linejoin="miter"/>
<path d="M482.4,386.8 L500.3,404.7 L482.4,422.6 L464.5,404.7 Z" fill="#fff" stroke="#ff8000" stroke-width="4.5" stroke-linejoin="miter"/>
<path d="M549.6,416.9 L567.5,434.8 L549.6,452.7 L531.7,434.8 Z" fill="#fff" stroke="#ff8000" stroke-width="4.5" stroke-linejoin="miter"/>
<path d="M616.8,439.3 L634.7,457.2 L616.8,475.1 L598.9,457.2 Z" fill="#fff" stroke="#ff0000" stroke-width="4.5" stroke-linejoin="miter"/>
<path d="M684.0,457.3 L701.9,475.2 L684.0,493.1 L666.1,475.2 Z" fill="#fff" stroke="#ff0000" stroke-width="4.5" stroke-linejoin="miter"/>
<path d="M751.2,469.3 L769.1,487.2 L751.2,505.1 L733.3,487.2 Z" fill="#fff" stroke="#000000" stroke-width="4.5" stroke-linejoin="miter"/>
<path d="M818.4,490.8 L836.3,508.7 L818.4,526.6 L800.5,508.7 Z" fill="#fff" stroke="#000000" stroke-width="4.5" stroke-linejoin="miter"/>
<line x1="871.0" y1="554.0" x2="876.5" y2="554.0" stroke="#000" stroke-width="5"/>
<text x="881.6" y="566.4" font-size="44.0" font-family='"Liberation Sans", sans-serif'>0</text>
<line x1="871.0" y1="464.9" x2="876.5" y2="464.9" stroke="#000" stroke-width="5"/>
<text x="881.6" y="477.3" font-size="44.0" font-family='"Liberation Sans", sans-serif'>200</text>
<line x1="871.0" y1="375.8" x2="876.5" y2="375.8" stroke="#000" stroke-width="5"/>
<text x="881.6" y="388.2" font-size="44.0" font-family='"Liberation Sans", sans-serif'>400</text>
<line x1="871.0" y1="286.7" x2="876.5" y2="286.7" stroke="#000" stroke-width="5"/>
<text x="881.6" y="299.1" font-size="44.0" font-family='"Liberation Sans", sans-serif'>600</text>
<line x1="871.0" y1="197.6" x2="876.5" y2="197.6" stroke="#000" stroke-width="5"/>
<text x="881.6" y="210.0" font-size="44.0" font-family='"Liberation Sans", sans-serif'>800</text>
<line x1="871.0" y1="531.7" x2="874.5" y2="531.7" stroke="#000" stroke-width="4.0"/>
<line x1="871.0" y1="509.4" x2="874.5" y2="509.4" stroke="#000" stroke-width="4.0"/>
<line x1="871.0" y1="487.2" x2="874.5" y2="487.2" stroke="#000" stroke-width="4.0"/>
<line x1="871.0" y1="442.6" x2="874.5" y2="442.6" stroke="#000" stroke-width="4.0"/>
<line x1="871.0" y1="420.4" x2="874.5" y2="420.4" stroke="#000" stroke-width="4.0"/>
<line x1="871.0" y1="398.1" x2="874.5" y2="398.1" stroke="#000" stroke-width="4.0"/>
<line x1="871.0" y1="353.5" x2="874.5" y2="353.5" stroke="#000" stroke-width="4.0"/>
<line x1="871.0" y1="331.2" x2="874.5" y2="331.2" stroke="#000" stroke-width="4.0"/>
<line x1="871.0" y1="309.0" x2="874.5" y2="309.0" stroke="#000" stroke-width="4.0"/>
<line x1="871.0" y1="264.4" x2="874.5" y2="264.4" stroke="#000" stroke-width="4.0"/>
<line x1="871.0" y1="242.2" x2="874.5" y2="242.2" stroke="#000" stroke-width="4.0"/>
<line x1="871.0" y1="219.9" x2="874.5" y2="219.9" stroke="#000" stroke-width="4.0"/>
<line x1="871.0" y1="175.3" x2="874.5" y2="175.3" stroke="#000" stroke-width="4.0"/>
<line x1="280.8" y1="555.5" x2="280.8" y2="561.5" stroke="#000" stroke-width="4.4"/>
<text x="280.8" y="600.3" font-size="41.7" font-family='"Liberation Sans", sans-serif' font-weight="bold" text-anchor="middle">RT</text>
<line x1="348.0" y1="555.5" x2="348.0" y2="561.5" stroke="#000" stroke-width="4.4"/>
<text x="348.0" y="600.3" font-size="41.7" font-family='"Liberation Sans", sans-serif' font-weight="bold" text-anchor="middle">60</text>
<line x1="415.2" y1="555.5" x2="415.2" y2="561.5" stroke="#000" stroke-width="4.4"/>
<text x="415.2" y="600.3" font-size="41.7" font-family='"Liberation Sans", sans-serif' font-weight="bold" text-anchor="middle">65</text>
<line x1="482.4" y1="555.5" x2="482.4" y2="561.5" stroke="#000" stroke-width="4.4"/>
<text x="482.4" y="600.3" font-size="41.7" font-family='"Liberation Sans", sans-serif' font-weight="bold" text-anchor="middle">70</text>
<line x1="549.6" y1="555.5" x2="549.6" y2="561.5" stroke="#000" stroke-width="4.4"/>
<text x="549.6" y="600.3" font-size="41.7" font-family='"Liberation Sans", sans-serif' font-weight="bold" text-anchor="middle">75</text>
<line x1="616.8" y1="555.5" x2="616.8" y2="561.5" stroke="#000" stroke-width="4.4"/>
<text x="616.8" y="600.3" font-size="41.7" font-family='"Liberation Sans", sans-serif' font-weight="bold" text-anchor="middle">80</text>
<line x1="684.0" y1="555.5" x2="684.0" y2="561.5" stroke="#000" stroke-width="4.4"/>
<text x="684.0" y="600.3" font-size="41.7" font-family='"Liberation Sans", sans-serif' font-weight="bold" text-anchor="middle">85</text>
<line x1="751.2" y1="555.5" x2="751.2" y2="561.5" stroke="#000" stroke-width="4.4"/>
<text x="751.2" y="600.3" font-size="41.7" font-family='"Liberation Sans", sans-serif' font-weight="bold" text-anchor="middle">90</text>
<line x1="818.4" y1="555.5" x2="818.4" y2="561.5" stroke="#000" stroke-width="4.4"/>
<text x="818.4" y="600.3" font-size="41.7" font-family='"Liberation Sans", sans-serif' font-weight="bold" text-anchor="middle">95</text>
<text x="382.2" y="671.0" font-size="41.7" font-family='"Liberation Sans", sans-serif' font-weight="bold" textLength="334.5" lengthAdjust="spacingAndGlyphs">Temperature / °C</text>
<text x="992.4" y="481.5" font-size="44.5" font-family='"Liberation Sans", sans-serif' font-weight="bold" transform="rotate(-90 992.4 481.5)" textLength="291.0" lengthAdjust="spacingAndGlyphs">Intensity / a.u.</text>
<rect x="1369.2" y="155.0" width="417.8" height="396.5" fill="#ffff78"/>
<line x1="1151.7" y1="266.3" x2="1789.5" y2="266.3" stroke="#ff0000" stroke-width="5.2"/>
<line x1="1151.7" y1="441.4" x2="1789.5" y2="441.4" stroke="#ff0000" stroke-width="5.2"/>
<defs><pattern id="h1" width="19.0" height="19.0" patternUnits="userSpaceOnUse"><path d="M-4.75,4.75 L4.75,-4.75 M0,19.0 L19.0,0 M14.25,23.75 L23.75,14.25" stroke="#000090" stroke-width="1.1" fill="none"/></pattern></defs>
<defs><linearGradient id="g1_0" x1="0" y1="0" x2="0" y2="1"><stop offset="0" stop-color="#0088ff"/><stop offset="0.8" stop-color="#ffffff"/><stop offset="1" stop-color="#ffffff"/></linearGradient></defs>
<rect x="1175.2" y="245.3" width="54.5" height="306.2" fill="url(#g1_0)"/>
<rect x="1175.2" y="245.3" width="54.5" height="306.2" fill="url(#h1)" stroke="#000088" stroke-width="1.3"/>
<defs><linearGradient id="g1_1" x1="0" y1="0" x2="0" y2="1"><stop offset="0" stop-color="#1414f0"/><stop offset="0.8" stop-color="#ffffff"/><stop offset="1" stop-color="#ffffff"/></linearGradient></defs>
<rect x="1242.2" y="214.1" width="54.5" height="337.4" fill="url(#g1_1)"/>
<rect x="1242.2" y="214.1" width="54.5" height="337.4" fill="url(#h1)" stroke="#000088" stroke-width="1.3"/>
<defs><linearGradient id="g1_2" x1="0" y1="0" x2="0" y2="1"><stop offset="0" stop-color="#0a0af5"/><stop offset="0.8" stop-color="#ffffff"/><stop offset="1" stop-color="#ffffff"/></linearGradient></defs>
<rect x="1309.4" y="199.0" width="54.5" height="352.5" fill="url(#g1_2)"/>
<rect x="1309.4" y="199.0" width="54.5" height="352.5" fill="url(#h1)" stroke="#000088" stroke-width="1.3"/>
<defs><linearGradient id="g1_3" x1="0" y1="0" x2="0" y2="1"><stop offset="0" stop-color="#ffff00"/><stop offset="0.8" stop-color="#ffffff"/><stop offset="1" stop-color="#ffffff"/></linearGradient></defs>
<rect x="1376.5" y="400.4" width="54.5" height="151.1" fill="url(#g1_3)"/>
<rect x="1376.5" y="400.4" width="54.5" height="151.1" fill="url(#h1)" stroke="#000088" stroke-width="1.3"/>
<defs><linearGradient id="g1_4" x1="0" y1="0" x2="0" y2="1"><stop offset="0" stop-color="#ffff00"/><stop offset="0.8" stop-color="#ffffff"/><stop offset="1" stop-color="#ffffff"/></linearGradient></defs>
<rect x="1443.6" y="396.1" width="54.5" height="155.4" fill="url(#g1_4)"/>
<rect x="1443.6" y="396.1" width="54.5" height="155.4" fill="url(#h1)" stroke="#000088" stroke-width="1.3"/>
<defs><linearGradient id="g1_5" x1="0" y1="0" x2="0" y2="1"><stop offset="0" stop-color="#ff0000"/><stop offset="0.8" stop-color="#ffffff"/><stop offset="1" stop-color="#ffffff"/></linearGradient></defs>
<rect x="1510.7" y="474.0" width="54.5" height="77.5" fill="url(#g1_5)"/>
<rect x="1510.7" y="474.0" width="54.5" height="77.5" fill="url(#h1)" stroke="#000088" stroke-width="1.3"/>
<defs><linearGradient id="g1_6" x1="0" y1="0" x2="0" y2="1"><stop offset="0" stop-color="#ff0000"/><stop offset="0.8" stop-color="#ffffff"/><stop offset="1" stop-color="#ffffff"/></linearGradient></defs>
<rect x="1577.8" y="458.0" width="54.5" height="93.5" fill="url(#g1_6)"/>
<rect x="1577.8" y="458.0" width="54.5" height="93.5" fill="url(#h1)" stroke="#000088" stroke-width="1.3"/>
<defs><linearGradient id="g1_7" x1="0" y1="0" x2="0" y2="1"><stop offset="0" stop-color="#ff0000"/><stop offset="0.8" stop-color="#ffffff"/><stop offset="1" stop-color="#ffffff"/></linearGradient></defs>
<rect x="1644.8" y="441.3" width="54.5" height="110.2" fill="url(#g1_7)"/>
<rect x="1644.8" y="441.3" width="54.5" height="110.2" fill="url(#h1)" stroke="#000088" stroke-width="1.3"/>
<defs><linearGradient id="g1_8" x1="0" y1="0" x2="0" y2="1"><stop offset="0" stop-color="#ff8000"/><stop offset="0.8" stop-color="#ffffff"/><stop offset="1" stop-color="#ffffff"/></linearGradient></defs>
<rect x="1712.0" y="423.3" width="54.5" height="128.2" fill="url(#g1_8)"/>
<rect x="1712.0" y="423.3" width="54.5" height="128.2" fill="url(#h1)" stroke="#000088" stroke-width="1.3"/>
<line x1="1151.7" y1="153.5" x2="1151.7" y2="556.5" stroke="#000" stroke-width="5"/>
<line x1="1789.5" y1="153.5" x2="1789.5" y2="556.5" stroke="#000" stroke-width="5"/>
<line x1="1151.7" y1="554.0" x2="1789.5" y2="554.0" stroke="#000" stroke-width="5"/>
<line x1="1791.5" y1="223.4" x2="1797.0" y2="223.4" stroke="#000" stroke-width="5"/>
<text x="1802.8" y="236.1" font-size="44.0" font-family='"Liberation Sans", sans-serif'>28.00</text>
<line x1="1791.5" y1="310.5" x2="1797.0" y2="310.5" stroke="#000" stroke-width="5"/>
<text x="1802.8" y="323.2" font-size="44.0" font-family='"Liberation Sans", sans-serif'>27.95</text>
<line x1="1791.5" y1="397.6" x2="1797.0" y2="397.6" stroke="#000" stroke-width="5"/>
<text x="1802.8" y="410.3" font-size="44.0" font-family='"Liberation Sans", sans-serif'>27.90</text>
<line x1="1791.5" y1="484.7" x2="1797.0" y2="484.7" stroke="#000" stroke-width="5"/>
<text x="1802.8" y="497.4" font-size="44.0" font-family='"Liberation Sans", sans-serif'>27.85</text>
<line x1="1791.5" y1="188.6" x2="1795.0" y2="188.6" stroke="#000" stroke-width="3.5"/>
<line x1="1791.5" y1="206.0" x2="1795.0" y2="206.0" stroke="#000" stroke-width="3.5"/>
<line x1="1791.5" y1="223.4" x2="1795.0" y2="223.4" stroke="#000" stroke-width="3.5"/>
<line x1="1791.5" y1="240.8" x2="1795.0" y2="240.8" stroke="#000" stroke-width="3.5"/>
<line x1="1791.5" y1="258.2" x2="1795.0" y2="258.2" stroke="#000" stroke-width="3.5"/>
<line x1="1791.5" y1="275.7" x2="1795.0" y2="275.7" stroke="#000" stroke-width="3.5"/>
<line x1="1791.5" y1="293.1" x2="1795.0" y2="293.1" stroke="#000" stroke-width="3.5"/>
<line x1="1791.5" y1="310.5" x2="1795.0" y2="310.5" stroke="#000" stroke-width="3.5"/>
<line x1="1791.5" y1="327.9" x2="1795.0" y2="327.9" stroke="#000" stroke-width="3.5"/>
<line x1="1791.5" y1="345.3" x2="1795.0" y2="345.3" stroke="#000" stroke-width="3.5"/>
<line x1="1791.5" y1="362.8" x2="1795.0" y2="362.8" stroke="#000" stroke-width="3.5"/>
<line x1="1791.5" y1="380.2" x2="1795.0" y2="380.2" stroke="#000" stroke-width="3.5"/>
<line x1="1791.5" y1="397.6" x2="1795.0" y2="397.6" stroke="#000" stroke-width="3.5"/>
<line x1="1791.5" y1="415.0" x2="1795.0" y2="415.0" stroke="#000" stroke-width="3.5"/>
<line x1="1791.5" y1="432.4" x2="1795.0" y2="432.4" stroke="#000" stroke-width="3.5"/>
<line x1="1791.5" y1="449.9" x2="1795.0" y2="449.9" stroke="#000" stroke-width="3.5"/>
<line x1="1791.5" y1="467.3" x2="1795.0" y2="467.3" stroke="#000" stroke-width="3.5"/>
<line x1="1791.5" y1="484.7" x2="1795.0" y2="484.7" stroke="#000" stroke-width="3.5"/>
<line x1="1791.5" y1="502.1" x2="1795.0" y2="502.1" stroke="#000" stroke-width="3.5"/>
<line x1="1791.5" y1="519.5" x2="1795.0" y2="519.5" stroke="#000" stroke-width="3.5"/>
<line x1="1791.5" y1="537.0" x2="1795.0" y2="537.0" stroke="#000" stroke-width="3.5"/>
<line x1="1202.4" y1="556.0" x2="1202.4" y2="562.0" stroke="#000" stroke-width="4.4"/>
<text x="1202.4" y="600.3" font-size="41.7" font-family='"Liberation Sans", sans-serif' font-weight="bold" text-anchor="middle">RT</text>
<line x1="1269.5" y1="556.0" x2="1269.5" y2="562.0" stroke="#000" stroke-width="4.4"/>
<text x="1269.5" y="600.3" font-size="41.7" font-family='"Liberation Sans", sans-serif' font-weight="bold" text-anchor="middle">60</text>
<line x1="1336.6" y1="556.0" x2="1336.6" y2="562.0" stroke="#000" stroke-width="4.4"/>
<text x="1336.6" y="600.3" font-size="41.7" font-family='"Liberation Sans", sans-serif' font-weight="bold" text-anchor="middle">65</text>
<line x1="1403.7" y1="556.0" x2="1403.7" y2="562.0" stroke="#000" stroke-width="4.4"/>
<text x="1403.7" y="600.3" font-size="41.7" font-family='"Liberation Sans", sans-serif' font-weight="bold" text-anchor="middle">70</text>
<line x1="1470.8" y1="556.0" x2="1470.8" y2="562.0" stroke="#000" stroke-width="4.4"/>
<text x="1470.8" y="600.3" font-size="41.7" font-family='"Liberation Sans", sans-serif' font-weight="bold" text-anchor="middle">75</text>
<line x1="1537.9" y1="556.0" x2="1537.9" y2="562.0" stroke="#000" stroke-width="4.4"/>
<text x="1537.9" y="600.3" font-size="41.7" font-family='"Liberation Sans", sans-serif' font-weight="bold" text-anchor="middle">80</text>
<line x1="1605.0" y1="556.0" x2="1605.0" y2="562.0" stroke="#000" stroke-width="4.4"/>
<text x="1605.0" y="600.3" font-size="41.7" font-family='"Liberation Sans", sans-serif' font-weight="bold" text-anchor="middle">85</text>
<line x1="1672.1" y1="556.0" x2="1672.1" y2="562.0" stroke="#000" stroke-width="4.4"/>
<text x="1672.1" y="600.3" font-size="41.7" font-family='"Liberation Sans", sans-serif' font-weight="bold" text-anchor="middle">90</text>
<line x1="1739.2" y1="556.0" x2="1739.2" y2="562.0" stroke="#000" stroke-width="4.4"/>
<text x="1739.2" y="600.3" font-size="41.7" font-family='"Liberation Sans", sans-serif' font-weight="bold" text-anchor="middle">95</text>
<text x="1305.0" y="671.0" font-size="41.7" font-family='"Liberation Sans", sans-serif' font-weight="bold" textLength="331.0" lengthAdjust="spacingAndGlyphs">Temperature / °C</text>
<text x="1955.6" y="413.0" font-size="44.5" font-family='"Liberation Sans", sans-serif' font-weight="bold" transform="rotate(-90 1955.6 413.0)" textLength="199.0" lengthAdjust="spacingAndGlyphs">Shift / °2<tspan font-family='"Liberation Serif", serif' font-weight="normal">θ</tspan></text>
<text x="1366.1" y="221.4" font-size="54.0" font-family='"Liberation Sans", sans-serif' font-weight="bold" textLength="66.6" lengthAdjust="spacingAndGlyphs"><tspan font-family='"Liberation Serif", serif' font-weight="normal">Δ</tspan>T</text>
<text x="1434.7" y="241.8" font-size="36.7" font-family='"Liberation Sans", sans-serif' font-weight="bold" textLength="100.0" lengthAdjust="spacingAndGlyphs">m→t</text>
<text x="1548.5" y="221.4" font-size="54.0" font-family='"Liberation Sans", sans-serif' font-weight="bold" textLength="224.5" lengthAdjust="spacingAndGlyphs">(V-Zr2%)</text>
<text x="1460.5" y="325.1" font-size="54.0" font-family='"Liberation Sans", sans-serif' font-weight="bold" textLength="232.0" lengthAdjust="spacingAndGlyphs">65 - 70°C</text>
<defs><clipPath id="c2"><path d="M1246.9,1153.8 L1246.9,1142.9 L1246.9,1132.1 L1246.9,1121.2 L1246.9,1110.3 L1246.9,1110.3 L1249.6,1084.3 L1252.2,1077.4 L1254.9,1075.6 L1254.9,1074.1 L1255.3,1076.8 L1255.7,1077.9 L1256.1,1078.8 L1256.5,1074.5 L1256.9,1074.8 L1257.3,1074.6 L1257.7,1070.2 L1258.1,1081.3 L1258.5,1077.0 L1258.9,1077.1 L1259.3,1072.1 L1259.7,1075.4 L1260.1,1077.3 L1260.5,1074.0 L1260.9,1073.3 L1261.3,1069.8 L1261.7,1073.6 L1262.1,1075.5 L1262.5,1075.6 L1262.9,1076.4 L1263.3,1072.7 L1263.7,1071.6 L1264.1,1074.5 L1264.5,1074.2 L1264.9,1069.8 L1265.3,1073.4 L1265.7,1072.2 L1266.1,1076.6 L1266.5,1075.2 L1266.9,1079.5 L1267.3,1077.2 L1267.7,1072.2 L1268.1,1069.6 L1268.5,1073.9 L1268.9,1076.4 L1269.3,1072.7 L1269.7,1069.6 L1270.1,1073.3 L1270.5,1070.1 L1270.9,1072.8 L1271.3,1076.1 L1271.7,1075.1 L1272.1,1073.2 L1272.5,1065.9 L1272.9,1070.6 L1273.3,1072.9 L1273.7,1071.3 L1274.1,1071.5 L1274.5,1073.2 L1274.9,1072.2 L1275.3,1072.6 L1275.7,1069.7 L1276.0,1067.3 L1276.4,1067.8 L1276.8,1072.5 L1277.2,1069.9 L1277.6,1073.5 L1278.0,1074.4 L1278.4,1071.0 L1278.8,1069.4 L1279.2,1071.3 L1279.6,1068.7 L1280.0,1068.6 L1280.4,1068.7 L1280.8,1071.2 L1281.2,1074.6 L1281.6,1065.5 L1282.0,1071.9 L1282.4,1068.4 L1282.8,1069.1 L1283.2,1071.4 L1283.8,1070.4 L1284.0,1059.1 L1284.2,1047.8 L1284.4,1036.5 L1284.4,1031.4 L1284.8,1034.0 L1285.2,1035.6 L1285.5,1036.5 L1285.9,1037.7 L1286.3,1038.3 L1286.7,1034.0 L1287.1,1036.3 L1287.5,1036.3 L1287.9,1034.0 L1288.3,1036.0 L1288.7,1033.6 L1289.1,1036.6 L1289.5,1036.3 L1289.9,1032.9 L1290.3,1036.5 L1290.7,1033.5 L1291.1,1033.7 L1291.5,1034.8 L1291.9,1038.6 L1292.3,1037.8 L1292.7,1037.2 L1293.1,1037.6 L1293.5,1032.6 L1293.9,1036.6 L1294.3,1037.4 L1294.7,1035.7 L1295.1,1034.7 L1295.5,1038.3 L1295.9,1033.0 L1296.3,1032.6 L1296.6,1035.6 L1297.0,1032.4 L1297.4,1037.8 L1297.8,1035.4 L1298.2,1034.5 L1298.6,1033.9 L1299.0,1031.3 L1299.4,1034.7 L1299.8,1036.3 L1300.2,1033.4 L1300.6,1033.5 L1301.0,1032.8 L1301.4,1034.5 L1301.8,1033.3 L1302.2,1035.0 L1302.6,1032.3 L1303.0,1035.1 L1303.4,1035.0 L1303.8,1030.8 L1304.2,1035.2 L1304.6,1033.4 L1305.0,1032.0 L1305.4,1034.1 L1305.8,1031.2 L1306.2,1034.6 L1306.6,1030.8 L1307.0,1036.7 L1307.4,1036.2 L1307.7,1032.9 L1308.1,1029.7 L1308.1,1033.0 L1309.3,1029.5 L1309.3,1025.8 L1309.7,1031.5 L1310.1,1029.6 L1310.5,1030.7 L1310.9,1034.5 L1311.3,1027.9 L1311.7,1030.4 L1312.1,1026.4 L1312.5,1028.9 L1312.9,1030.8 L1313.3,1031.1 L1313.7,1030.0 L1314.1,1028.5 L1314.5,1030.7 L1314.9,1023.1 L1315.3,1029.1 L1315.7,1032.2 L1316.1,1029.4 L1316.5,1026.9 L1316.9,1028.5 L1317.3,1030.3 L1317.7,1031.1 L1318.1,1031.4 L1318.5,1032.3 L1318.9,1030.7 L1319.3,1028.9 L1319.7,1030.8 L1320.1,1025.8 L1320.5,1028.7 L1320.9,1030.6 L1321.3,1029.6 L1321.7,1026.2 L1322.1,1033.5 L1322.5,1029.0 L1322.9,1023.4 L1323.4,1029.5 L1323.6,1020.0 L1323.8,1010.4 L1324.0,1000.9 L1324.0,997.4 L1324.4,1002.3 L1324.8,999.6 L1325.2,1000.5 L1325.6,992.7 L1326.0,1001.5 L1326.4,1000.4 L1326.8,1000.5 L1327.2,1003.3 L1327.6,1008.1 L1328.0,1000.2 L1328.4,998.2 L1328.8,1000.6 L1329.2,998.2 L1329.6,997.5 L1329.9,997.6 L1330.3,1003.7 L1330.7,995.4 L1331.1,997.0 L1331.5,997.1 L1331.9,999.1 L1332.3,999.1 L1332.7,1000.4 L1333.1,997.9 L1333.5,996.6 L1333.9,1000.4 L1334.3,996.8 L1334.7,1000.0 L1335.1,997.3 L1335.5,999.1 L1335.9,996.5 L1336.3,993.7 L1336.7,998.0 L1337.1,999.8 L1337.5,999.6 L1337.9,996.9 L1338.3,999.7 L1338.7,995.9 L1339.1,997.6 L1339.5,996.0 L1339.9,999.7 L1340.3,1000.7 L1340.7,1000.1 L1341.0,997.1 L1341.4,1000.1 L1341.8,996.2 L1342.2,1003.3 L1342.6,999.7 L1343.0,998.3 L1343.4,1002.6 L1343.8,999.4 L1344.2,1001.6 L1344.6,997.9 L1345.0,998.3 L1345.4,995.7 L1345.8,999.8 L1346.2,1001.7 L1346.6,998.9 L1347.0,997.1 L1347.4,997.2 L1347.8,996.9 L1348.2,994.2 L1348.6,998.2 L1349.0,997.8 L1349.4,999.4 L1349.8,998.7 L1350.2,994.4 L1350.6,996.1 L1351.0,1003.7 L1351.4,993.9 L1351.8,1002.0 L1352.1,997.9 L1352.5,994.4 L1352.9,996.5 L1353.3,995.3 L1353.7,994.5 L1354.1,995.9 L1354.5,999.9 L1354.9,995.6 L1355.3,998.3 L1355.7,1002.7 L1356.3,996.5 L1356.7,984.6 L1357.0,972.8 L1357.4,960.9 L1357.4,961.4 L1357.8,960.0 L1358.2,961.1 L1358.6,961.5 L1359.0,958.3 L1359.4,961.4 L1359.8,960.3 L1360.2,961.7 L1360.6,959.4 L1361.1,963.4 L1361.5,960.7 L1361.9,959.6 L1362.3,964.1 L1362.7,961.5 L1363.1,966.4 L1363.5,963.4 L1363.9,962.8 L1364.3,966.0 L1364.7,968.0 L1365.1,964.7 L1365.5,965.6 L1365.9,964.8 L1365.9,964.6 L1366.3,963.6 L1366.7,962.2 L1367.1,964.4 L1367.5,968.1 L1367.9,963.9 L1368.3,964.4 L1368.7,964.9 L1369.1,962.1 L1369.5,964.7 L1369.9,965.9 L1370.3,964.3 L1370.7,968.3 L1371.1,963.3 L1371.5,965.1 L1371.9,961.9 L1372.3,963.9 L1372.7,964.5 L1373.1,964.8 L1373.4,967.5 L1373.8,965.3 L1374.2,964.6 L1374.6,963.3 L1375.0,964.3 L1375.4,963.8 L1375.8,963.8 L1376.2,966.2 L1376.6,964.6 L1377.0,965.6 L1377.4,967.6 L1377.8,968.1 L1378.2,963.6 L1378.6,962.4 L1379.0,962.4 L1379.4,966.8 L1379.8,962.3 L1380.2,962.2 L1380.6,966.6 L1381.0,964.2 L1381.4,961.9 L1381.8,965.0 L1382.2,962.9 L1382.6,966.3 L1383.0,965.8 L1383.4,963.5 L1383.8,965.5 L1384.2,964.9 L1384.6,965.0 L1385.0,967.1 L1385.4,962.3 L1385.8,965.4 L1386.2,965.8 L1386.5,966.0 L1386.9,965.0 L1387.3,966.9 L1387.7,963.5 L1388.1,965.8 L1388.5,963.6 L1388.9,966.8 L1389.3,967.1 L1389.7,966.9 L1390.1,964.7 L1390.5,967.7 L1390.9,963.5 L1391.3,965.8 L1391.7,963.4 L1392.1,965.9 L1392.5,963.6 L1392.9,967.1 L1393.3,967.3 L1393.7,964.0 L1394.1,966.2 L1394.5,963.1 L1394.9,966.5 L1395.3,964.2 L1395.7,966.7 L1396.1,968.5 L1396.5,962.4 L1396.9,965.6 L1397.3,963.3 L1397.7,964.8 L1398.1,968.5 L1398.5,964.4 L1398.9,963.1 L1399.3,962.7 L1399.6,962.0 L1400.0,964.4 L1400.4,965.4 L1400.8,965.0 L1401.2,967.4 L1401.6,963.8 L1402.0,963.8 L1402.4,964.5 L1402.8,966.7 L1403.2,963.9 L1403.6,966.2 L1404.0,962.8 L1404.4,966.3 L1404.8,966.2 L1405.2,965.8 L1405.6,967.2 L1406.0,966.9 L1406.4,965.7 L1406.8,969.9 L1407.2,961.3 L1407.6,964.5 L1408.0,964.6 L1408.4,966.9 L1408.8,964.8 L1409.2,965.2 L1409.6,965.0 L1410.0,968.0 L1410.4,965.4 L1410.8,968.8 L1411.2,965.6 L1411.6,966.9 L1412.0,966.4 L1412.4,965.8 L1412.7,963.6 L1413.1,962.8 L1413.5,965.1 L1413.9,967.3 L1414.3,962.3 L1414.7,967.9 L1415.1,966.3 L1415.5,965.6 L1415.9,966.6 L1416.3,962.6 L1416.7,964.4 L1417.1,963.1 L1417.5,965.8 L1417.9,963.5 L1418.3,965.5 L1418.7,965.5 L1419.1,964.6 L1419.5,964.5 L1419.9,964.1 L1420.3,965.6 L1420.7,968.1 L1421.1,965.8 L1421.5,970.4 L1421.9,965.8 L1422.3,966.8 L1422.7,963.6 L1423.1,970.5 L1423.5,961.3 L1423.9,965.9 L1424.3,968.3 L1424.7,964.4 L1425.1,964.3 L1425.5,964.4 L1425.8,961.0 L1426.2,966.8 L1426.6,964.7 L1427.0,964.9 L1427.4,966.5 L1427.8,964.7 L1428.2,962.8 L1428.6,966.9 L1429.0,964.4 L1429.4,963.3 L1429.8,964.0 L1430.2,968.3 L1430.6,964.7 L1431.0,966.0 L1431.4,962.8 L1431.8,965.5 L1432.2,961.4 L1432.6,967.6 L1433.0,964.3 L1433.4,966.9 L1433.8,961.8 L1434.2,962.2 L1434.6,967.0 L1435.0,963.8 L1435.4,965.3 L1435.8,968.4 L1436.2,967.2 L1436.6,965.0 L1437.0,964.2 L1437.4,966.0 L1437.8,964.7 L1438.2,964.6 L1438.6,964.7 L1438.9,967.5 L1439.3,965.0 L1439.7,964.2 L1440.1,968.1 L1440.5,962.2 L1440.9,962.4 L1441.3,964.9 L1441.7,961.2 L1442.1,966.8 L1442.5,967.1 L1442.9,966.4 L1443.3,966.6 L1443.7,961.6 L1444.1,965.1 L1444.5,965.3 L1444.9,964.5 L1445.3,962.1 L1445.7,964.9 L1446.1,966.0 L1446.5,964.7 L1446.9,962.8 L1447.3,965.6 L1447.7,962.5 L1448.1,964.6 L1448.5,965.6 L1448.9,964.3 L1449.3,961.4 L1449.7,965.7 L1450.1,962.6 L1450.5,964.1 L1450.9,964.9 L1451.3,965.1 L1451.7,963.6 L1452.0,964.0 L1452.4,964.5 L1452.8,963.9 L1453.2,966.9 L1453.6,966.5 L1454.0,967.2 L1454.4,965.9 L1454.8,965.6 L1455.2,965.9 L1455.6,964.2 L1456.0,967.0 L1456.4,965.7 L1456.8,963.5 L1457.2,962.0 L1457.6,965.1 L1458.0,962.9 L1458.4,962.6 L1458.8,967.2 L1459.2,964.7 L1459.6,967.2 L1460.0,966.0 L1460.4,964.4 L1460.8,967.7 L1461.2,964.2 L1461.6,965.5 L1462.0,965.7 L1462.4,964.2 L1462.8,966.8 L1463.2,968.5 L1463.6,965.2 L1464.0,966.6 L1464.4,965.6 L1464.7,967.3 L1465.1,967.0 L1465.5,967.2 L1465.9,967.7 L1466.3,966.8 L1466.7,966.7 L1467.1,965.2 L1467.5,959.1 L1467.9,966.4 L1468.3,968.3 L1468.7,964.1 L1469.1,967.6 L1469.5,966.9 L1469.9,965.9 L1470.3,965.2 L1470.7,965.1 L1471.1,964.8 L1471.5,965.5 L1471.9,963.1 L1472.3,963.6 L1472.7,966.3 L1473.1,965.7 L1473.5,967.8 L1473.9,964.0 L1474.3,965.6 L1474.7,961.6 L1475.1,966.6 L1475.5,962.3 L1475.9,967.0 L1476.3,968.5 L1476.7,966.9 L1477.1,964.6 L1477.5,963.3 L1477.8,966.9 L1478.2,963.4 L1478.6,966.3 L1479.0,966.2 L1479.4,965.8 L1479.8,962.1 L1480.2,964.9 L1480.6,964.7 L1481.0,968.1 L1481.4,964.9 L1481.8,964.7 L1482.2,962.1 L1482.6,966.9 L1483.0,966.6 L1483.4,967.0 L1483.8,966.5 L1484.2,964.0 L1484.6,966.8 L1485.0,962.8 L1485.4,965.2 L1485.8,967.0 L1486.2,966.5 L1486.6,967.9 L1487.0,968.0 L1487.4,963.1 L1487.8,963.6 L1488.2,967.1 L1488.6,966.1 L1489.0,962.2 L1489.4,966.7 L1489.9,965.2 L1490.1,954.5 L1490.3,943.8 L1490.5,933.1 L1490.5,931.6 L1490.9,930.4 L1491.3,932.4 L1491.7,932.2 L1492.1,932.4 L1492.5,930.7 L1492.9,935.8 L1493.3,930.4 L1493.8,929.8 L1494.2,934.3 L1494.6,928.4 L1495.0,932.6 L1495.4,937.8 L1495.8,935.3 L1496.2,928.6 L1496.6,926.9 L1497.0,929.8 L1497.4,932.8 L1497.8,928.5 L1498.2,924.8 L1498.6,927.6 L1499.1,931.9 L1499.5,925.5 L1499.9,927.4 L1500.3,927.0 L1500.7,926.1 L1501.3,926.1 L1501.5,918.3 L1501.8,910.5 L1501.8,907.9 L1502.2,910.1 L1502.6,912.8 L1503.0,910.1 L1503.4,909.4 L1503.8,906.0 L1504.2,913.7 L1504.6,910.3 L1505.0,912.7 L1505.4,909.0 L1505.8,911.6 L1506.2,919.7 L1506.6,906.9 L1507.0,912.1 L1507.4,913.4 L1507.8,914.8 L1508.2,913.4 L1508.6,914.1 L1509.0,910.5 L1509.4,909.6 L1509.8,910.3 L1510.2,908.9 L1510.6,912.7 L1510.9,908.2 L1511.3,910.4 L1511.7,908.7 L1512.1,908.2 L1512.5,911.3 L1512.9,906.2 L1513.3,907.6 L1513.7,911.5 L1514.1,904.6 L1514.5,904.9 L1514.9,915.1 L1515.3,917.4 L1515.7,912.2 L1516.1,908.8 L1516.5,907.3 L1516.9,908.2 L1517.3,910.4 L1517.7,907.2 L1518.1,908.1 L1518.5,911.7 L1518.9,909.8 L1519.3,907.0 L1519.7,912.4 L1520.1,912.4 L1520.5,913.1 L1520.9,905.8 L1521.3,908.3 L1521.7,907.8 L1522.1,911.7 L1522.5,910.6 L1522.9,906.6 L1523.3,911.4 L1523.6,906.8 L1524.0,910.6 L1524.4,910.6 L1524.8,908.8 L1525.2,907.8 L1525.6,905.0 L1526.0,911.7 L1526.4,905.3 L1526.8,913.0 L1527.2,913.4 L1527.6,917.8 L1528.0,908.0 L1528.4,906.0 L1528.8,914.5 L1529.2,911.7 L1529.6,911.5 L1530.0,915.7 L1530.4,910.5 L1530.8,909.8 L1531.2,912.4 L1531.6,914.0 L1532.0,910.4 L1532.4,908.9 L1532.8,915.3 L1533.2,911.2 L1533.6,909.1 L1534.0,919.8 L1534.4,909.9 L1534.8,905.4 L1535.2,915.0 L1535.6,906.8 L1536.0,911.9 L1536.3,909.0 L1536.7,911.5 L1537.1,914.6 L1537.5,916.5 L1537.9,903.4 L1538.3,915.3 L1538.7,911.9 L1539.1,906.5 L1539.5,910.1 L1539.9,910.5 L1540.3,917.5 L1540.7,913.1 L1541.1,915.4 L1541.5,916.9 L1541.9,910.0 L1542.3,908.5 L1542.7,913.6 L1543.1,913.3 L1543.5,909.9 L1543.9,908.4 L1544.3,914.6 L1544.7,907.5 L1545.1,908.3 L1545.5,911.3 L1545.9,914.8 L1546.3,909.5 L1546.7,909.1 L1547.1,905.7 L1547.5,913.3 L1547.9,906.3 L1548.3,912.5 L1548.8,911.3 L1549.1,900.1 L1549.4,888.8 L1549.4,887.6 L1549.8,889.0 L1550.2,888.6 L1550.6,885.4 L1551.0,890.4 L1551.4,886.9 L1551.8,889.4 L1552.2,888.9 L1552.6,890.4 L1553.0,888.3 L1553.4,893.4 L1553.8,889.4 L1554.2,886.5 L1554.6,886.9 L1555.0,892.5 L1555.4,891.4 L1555.8,889.7 L1556.2,884.5 L1556.6,889.8 L1557.0,888.8 L1557.4,889.3 L1557.8,888.1 L1558.2,890.9 L1558.6,888.2 L1559.0,887.7 L1559.4,886.4 L1559.7,890.8 L1560.1,886.7 L1560.5,884.3 L1560.9,887.0 L1561.3,887.2 L1561.7,894.4 L1562.1,885.7 L1562.5,884.4 L1562.9,886.0 L1563.3,887.6 L1563.7,886.9 L1564.1,881.8 L1564.5,890.4 L1564.9,889.7 L1565.3,886.2 L1565.7,888.2 L1566.1,893.8 L1566.5,888.3 L1566.9,888.0 L1567.3,890.9 L1567.7,887.9 L1568.1,888.2 L1568.5,892.9 L1568.9,887.6 L1569.3,883.8 L1569.7,884.7 L1570.1,891.4 L1570.5,891.8 L1570.9,888.6 L1571.3,888.1 L1571.7,891.9 L1572.1,890.5 L1572.5,885.6 L1572.9,888.2 L1573.3,886.4 L1573.7,888.8 L1574.1,886.4 L1574.5,890.0 L1574.9,890.0 L1575.3,891.0 L1575.7,893.2 L1576.1,889.7 L1576.5,891.9 L1576.9,889.9 L1577.3,888.4 L1577.7,888.4 L1578.1,887.9 L1578.5,889.7 L1578.9,888.9 L1579.3,886.1 L1579.7,889.1 L1580.1,888.7 L1580.5,894.5 L1580.9,891.3 L1581.3,886.2 L1581.7,890.8 L1582.1,891.3 L1582.5,886.5 L1582.9,891.6 L1583.3,886.5 L1583.7,889.0 L1584.1,890.3 L1584.5,893.6 L1584.9,885.7 L1585.3,893.0 L1585.7,891.7 L1586.1,887.0 L1586.4,891.7 L1586.8,887.6 L1587.2,888.9 L1587.6,889.4 L1588.0,891.3 L1588.4,890.3 L1588.8,888.2 L1589.2,891.1 L1589.6,887.3 L1590.0,888.2 L1590.4,887.5 L1590.8,888.3 L1591.2,887.5 L1591.6,887.9 L1592.0,886.9 L1592.4,887.9 L1592.8,888.1 L1593.2,890.9 L1593.6,892.8 L1594.0,888.7 L1594.4,886.6 L1594.8,891.0 L1595.2,892.5 L1595.6,890.1 L1596.0,888.0 L1596.4,886.8 L1596.8,889.6 L1597.2,891.6 L1597.6,889.0 L1598.0,887.2 L1598.4,888.9 L1598.8,886.4 L1599.2,890.0 L1599.6,886.8 L1600.0,885.0 L1600.4,891.1 L1600.8,890.8 L1601.2,887.3 L1601.6,881.5 L1602.0,887.6 L1602.4,888.9 L1602.8,885.8 L1603.2,889.1 L1603.6,892.6 L1604.0,891.0 L1604.4,885.7 L1604.8,892.7 L1605.2,892.1 L1605.6,886.9 L1606.0,888.5 L1606.4,886.0 L1606.8,891.3 L1607.2,890.5 L1607.6,889.6 L1608.0,891.7 L1608.4,889.4 L1608.8,889.2 L1609.2,886.8 L1609.6,889.0 L1610.0,889.7 L1610.4,887.6 L1610.8,886.2 L1611.2,886.4 L1611.6,888.2 L1612.0,889.7 L1612.4,889.9 L1612.8,891.9 L1613.1,888.6 L1613.5,888.9 L1613.9,885.0 L1614.5,888.8 L1614.7,880.1 L1614.9,871.4 L1615.1,862.7 L1615.1,861.3 L1615.5,859.9 L1615.9,858.4 L1616.3,866.7 L1616.7,863.5 L1617.1,862.4 L1617.5,861.4 L1617.9,864.6 L1618.3,859.4 L1618.7,859.3 L1619.1,860.3 L1619.5,859.8 L1619.9,864.4 L1620.3,858.6 L1620.7,863.1 L1621.1,866.4 L1621.5,861.2 L1621.9,860.4 L1622.3,863.2 L1622.7,865.7 L1623.1,864.4 L1623.5,861.8 L1623.9,867.9 L1624.3,858.6 L1624.7,858.7 L1625.0,861.7 L1625.4,858.5 L1625.8,861.6 L1626.2,864.1 L1626.6,859.5 L1627.0,859.7 L1627.4,863.5 L1627.8,864.8 L1628.2,863.6 L1628.6,858.0 L1629.0,861.8 L1629.4,853.7 L1629.8,862.7 L1630.2,859.4 L1630.6,860.1 L1631.0,861.5 L1631.4,858.7 L1631.8,863.1 L1632.2,861.0 L1632.6,863.8 L1633.0,866.4 L1633.4,860.6 L1633.8,863.7 L1634.2,864.1 L1634.6,859.2 L1635.0,861.1 L1635.4,859.6 L1635.8,856.1 L1636.2,860.1 L1636.6,859.4 L1637.0,863.6 L1637.4,858.3 L1637.8,858.3 L1638.2,863.2 L1638.6,858.7 L1639.0,859.6 L1639.4,860.9 L1639.8,860.1 L1640.2,854.0 L1640.6,862.0 L1641.0,861.1 L1641.4,860.0 L1641.8,860.7 L1642.2,865.0 L1642.6,858.5 L1643.0,857.8 L1643.4,855.6 L1644.0,860.1 L1644.1,849.4 L1644.3,838.6 L1644.5,827.9 L1644.5,828.7 L1644.9,829.2 L1645.4,826.3 L1645.8,828.1 L1646.2,826.4 L1646.6,826.5 L1647.0,825.3 L1647.4,825.8 L1647.8,823.9 L1648.2,825.6 L1648.6,820.9 L1649.1,822.6 L1649.1,825.3 L1649.5,826.1 L1649.9,824.1 L1650.3,824.8 L1650.7,825.8 L1651.1,820.0 L1651.5,821.1 L1651.9,826.4 L1652.3,822.2 L1652.7,823.6 L1653.1,821.6 L1653.5,825.3 L1653.9,818.1 L1654.3,823.4 L1654.7,818.4 L1655.1,824.9 L1655.5,820.1 L1655.9,823.9 L1656.3,819.3 L1656.7,824.1 L1657.1,826.4 L1657.5,826.4 L1657.9,825.3 L1658.3,822.0 L1658.7,822.6 L1659.1,823.3 L1659.5,820.8 L1659.9,819.3 L1660.3,826.2 L1660.7,821.0 L1661.1,817.6 L1661.5,825.2 L1661.9,825.1 L1662.3,822.5 L1662.7,823.0 L1663.1,825.0 L1663.5,823.8 L1663.9,819.4 L1664.3,821.2 L1664.7,825.7 L1665.1,828.1 L1665.5,826.5 L1665.9,823.1 L1666.3,825.6 L1666.7,825.8 L1667.1,821.7 L1667.5,824.3 L1667.9,824.6 L1668.3,823.0 L1668.7,819.8 L1669.1,822.8 L1669.5,821.8 L1669.9,823.4 L1670.3,819.6 L1670.7,826.8 L1671.1,826.5 L1671.5,824.9 L1671.9,818.3 L1672.3,819.6 L1672.7,826.5 L1673.1,824.8 L1673.5,822.2 L1673.9,823.4 L1674.3,821.3 L1674.7,824.9 L1675.1,827.9 L1675.7,823.6 L1676.2,813.4 L1676.8,803.3 L1677.4,793.2 L1677.4,792.0 L1677.8,790.2 L1678.2,795.0 L1678.6,795.1 L1679.0,791.8 L1679.4,794.0 L1679.8,788.9 L1680.1,791.5 L1680.5,787.2 L1680.9,788.8 L1681.3,787.3 L1681.7,785.7 L1682.1,786.8 L1682.5,787.8 L1682.9,783.5 L1683.3,787.6 L1683.7,781.4 L1684.1,784.8 L1684.5,784.0 L1684.9,781.7 L1685.3,781.1 L1685.3,780.4 L1685.7,786.1 L1686.1,784.4 L1686.5,780.8 L1686.9,780.7 L1687.3,782.1 L1687.7,778.1 L1688.1,782.3 L1688.5,779.0 L1688.9,778.6 L1689.3,780.7 L1689.7,782.2 L1690.1,779.6 L1690.5,780.4 L1690.9,779.9 L1691.3,784.1 L1691.7,780.3 L1692.1,777.0 L1692.5,782.4 L1692.9,781.2 L1693.3,782.2 L1693.7,779.0 L1694.1,787.4 L1694.5,776.9 L1694.9,780.0 L1695.3,782.1 L1695.7,780.6 L1696.1,778.2 L1696.5,780.3 L1696.9,779.5 L1697.3,777.9 L1697.7,780.9 L1698.1,779.2 L1698.5,777.1 L1698.9,779.7 L1699.2,783.0 L1699.6,779.0 L1700.0,775.4 L1700.4,782.1 L1700.8,779.9 L1701.2,780.0 L1701.6,778.6 L1702.0,782.3 L1702.4,781.2 L1702.8,775.5 L1703.2,779.1 L1703.6,782.8 L1704.0,778.8 L1704.4,780.9 L1704.8,776.6 L1705.2,785.6 L1705.6,780.7 L1706.0,778.2 L1706.4,784.6 L1706.8,783.1 L1707.2,781.9 L1707.8,789.7 L1708.5,797.5 L1708.5,797.5 L1709.2,810.2 L1709.8,823.0 L1710.5,835.7 L1711.1,848.4 L1711.8,861.1 L1712.4,873.9 L1713.0,886.6 L1713.7,899.3 L1714.3,912.0 L1715.0,924.8 L1715.6,937.5 L1716.3,950.2 L1716.9,962.9 L1717.6,975.7 L1718.2,988.4 L1718.9,1001.1 L1719.5,1013.8 L1720.2,1026.6 L1720.8,1039.3 L1721.5,1052.0 L1722.1,1064.7 L1722.8,1077.5 L1723.4,1090.2 L1724.1,1102.9 L1724.7,1115.6 L1725.3,1128.4 L1726.0,1141.1 L1726.6,1153.8 L1726.6,1153.8 L1246.9,1153.8 Z"/></clipPath></defs>
<g clip-path="url(#c2)" stroke="#000" stroke-width="1">
<line x1="1223.2" y1="1139.5" x2="1789.5" y2="1139.5"/>
<line x1="1223.2" y1="1125.5" x2="1789.5" y2="1125.5"/>
<line x1="1223.2" y1="1112.5" x2="1789.5" y2="1112.5"/>
<line x1="1223.2" y1="1098.5" x2="1789.5" y2="1098.5"/>
<line x1="1223.2" y1="1085.5" x2="1789.5" y2="1085.5"/>
<line x1="1223.2" y1="1072.5" x2="1789.5" y2="1072.5"/>
<line x1="1223.2" y1="1058.5" x2="1789.5" y2="1058.5"/>
<line x1="1223.2" y1="1045.5" x2="1789.5" y2="1045.5"/>
<line x1="1223.2" y1="1031.5" x2="1789.5" y2="1031.5"/>
<line x1="1223.2" y1="1018.5" x2="1789.5" y2="1018.5"/>
<line x1="1223.2" y1="1005.5" x2="1789.5" y2="1005.5"/>
<line x1="1223.2" y1="991.5" x2="1789.5" y2="991.5"/>
<line x1="1223.2" y1="978.5" x2="1789.5" y2="978.5"/>
<line x1="1223.2" y1="964.5" x2="1789.5" y2="964.5"/>
<line x1="1223.2" y1="951.5" x2="1789.5" y2="951.5"/>
<line x1="1223.2" y1="938.5" x2="1789.5" y2="938.5"/>
<line x1="1223.2" y1="924.5" x2="1789.5" y2="924.5"/>
<line x1="1223.2" y1="911.5" x2="1789.5" y2="911.5"/>
<line x1="1223.2" y1="897.5" x2="1789.5" y2="897.5"/>
<line x1="1223.2" y1="884.5" x2="1789.5" y2="884.5"/>
<line x1="1223.2" y1="871.5" x2="1789.5" y2="871.5"/>
<line x1="1223.2" y1="857.5" x2="1789.5" y2="857.5"/>
<line x1="1223.2" y1="844.5" x2="1789.5" y2="844.5"/>
<line x1="1223.2" y1="830.5" x2="1789.5" y2="830.5"/>
<line x1="1223.2" y1="817.5" x2="1789.5" y2="817.5"/>
<line x1="1223.2" y1="804.5" x2="1789.5" y2="804.5"/>
<line x1="1223.2" y1="790.5" x2="1789.5" y2="790.5"/>
<line x1="1223.2" y1="777.5" x2="1789.5" y2="777.5"/>
<line x1="1223.2" y1="763.5" x2="1789.5" y2="763.5"/>
</g>
<polyline points="1246.9,1153.8 1246.9,1142.9 1246.9,1132.1 1246.9,1121.2 1246.9,1110.3 1246.9,1110.3 1249.6,1084.3 1252.2,1077.4 1254.9,1075.6 1254.9,1074.1 1255.3,1076.8 1255.7,1077.9 1256.1,1078.8 1256.5,1074.5 1256.9,1074.8 1257.3,1074.6 1257.7,1070.2 1258.1,1081.3 1258.5,1077.0 1258.9,1077.1 1259.3,1072.1 1259.7,1075.4 1260.1,1077.3 1260.5,1074.0 1260.9,1073.3 1261.3,1069.8 1261.7,1073.6 1262.1,1075.5 1262.5,1075.6 1262.9,1076.4 1263.3,1072.7 1263.7,1071.6 1264.1,1074.5 1264.5,1074.2 1264.9,1069.8 1265.3,1073.4 1265.7,1072.2 1266.1,1076.6 1266.5,1075.2 1266.9,1079.5 1267.3,1077.2 1267.7,1072.2 1268.1,1069.6 1268.5,1073.9 1268.9,1076.4 1269.3,1072.7 1269.7,1069.6 1270.1,1073.3 1270.5,1070.1 1270.9,1072.8 1271.3,1076.1 1271.7,1075.1 1272.1,1073.2 1272.5,1065.9 1272.9,1070.6 1273.3,1072.9 1273.7,1071.3 1274.1,1071.5 1274.5,1073.2 1274.9,1072.2 1275.3,1072.6 1275.7,1069.7 1276.0,1067.3 1276.4,1067.8 1276.8,1072.5 1277.2,1069.9 1277.6,1073.5 1278.0,1074.4 1278.4,1071.0 1278.8,1069.4 1279.2,1071.3 1279.6,1068.7 1280.0,1068.6 1280.4,1068.7 1280.8,1071.2 1281.2,1074.6 1281.6,1065.5 1282.0,1071.9 1282.4,1068.4 1282.8,1069.1 1283.2,1071.4 1283.8,1070.4 1284.0,1059.1 1284.2,1047.8 1284.4,1036.5 1284.4,1031.4 1284.8,1034.0 1285.2,1035.6 1285.5,1036.5 1285.9,1037.7 1286.3,1038.3 1286.7,1034.0 1287.1,1036.3 1287.5,1036.3 1287.9,1034.0 1288.3,1036.0 1288.7,1033.6 1289.1,1036.6 1289.5,1036.3 1289.9,1032.9 1290.3,1036.5 1290.7,1033.5 1291.1,1033.7 1291.5,1034.8 1291.9,1038.6 1292.3,1037.8 1292.7,1037.2 1293.1,1037.6 1293.5,1032.6 1293.9,1036.6 1294.3,1037.4 1294.7,1035.7 1295.1,1034.7 1295.5,1038.3 1295.9,1033.0 1296.3,1032.6 1296.6,1035.6 1297.0,1032.4 1297.4,1037.8 1297.8,1035.4 1298.2,1034.5 1298.6,1033.9 1299.0,1031.3 1299.4,1034.7 1299.8,1036.3 1300.2,1033.4 1300.6,1033.5 1301.0,1032.8 1301.4,1034.5 1301.8,1033.3 1302.2,1035.0 1302.6,1032.3 1303.0,1035.1 1303.4,1035.0 1303.8,1030.8 1304.2,1035.2 1304.6,1033.4 1305.0,1032.0 1305.4,1034.1 1305.8,1031.2 1306.2,1034.6 1306.6,1030.8 1307.0,1036.7 1307.4,1036.2 1307.7,1032.9 1308.1,1029.7 1308.1,1033.0 1309.3,1029.5 1309.3,1025.8 1309.7,1031.5 1310.1,1029.6 1310.5,1030.7 1310.9,1034.5 1311.3,1027.9 1311.7,1030.4 1312.1,1026.4 1312.5,1028.9 1312.9,1030.8 1313.3,1031.1 1313.7,1030.0 1314.1,1028.5 1314.5,1030.7 1314.9,1023.1 1315.3,1029.1 1315.7,1032.2 1316.1,1029.4 1316.5,1026.9 1316.9,1028.5 1317.3,1030.3 1317.7,1031.1 1318.1,1031.4 1318.5,1032.3 1318.9,1030.7 1319.3,1028.9 1319.7,1030.8 1320.1,1025.8 1320.5,1028.7 1320.9,1030.6 1321.3,1029.6 1321.7,1026.2 1322.1,1033.5 1322.5,1029.0 1322.9,1023.4 1323.4,1029.5 1323.6,1020.0 1323.8,1010.4 1324.0,1000.9 1324.0,997.4 1324.4,1002.3 1324.8,999.6 1325.2,1000.5 1325.6,992.7 1326.0,1001.5 1326.4,1000.4 1326.8,1000.5 1327.2,1003.3 1327.6,1008.1 1328.0,1000.2 1328.4,998.2 1328.8,1000.6 1329.2,998.2 1329.6,997.5 1329.9,997.6 1330.3,1003.7 1330.7,995.4 1331.1,997.0 1331.5,997.1 1331.9,999.1 1332.3,999.1 1332.7,1000.4 1333.1,997.9 1333.5,996.6 1333.9,1000.4 1334.3,996.8 1334.7,1000.0 1335.1,997.3 1335.5,999.1 1335.9,996.5 1336.3,993.7 1336.7,998.0 1337.1,999.8 1337.5,999.6 1337.9,996.9 1338.3,999.7 1338.7,995.9 1339.1,997.6 1339.5,996.0 1339.9,999.7 1340.3,1000.7 1340.7,1000.1 1341.0,997.1 1341.4,1000.1 1341.8,996.2 1342.2,1003.3 1342.6,999.7 1343.0,998.3 1343.4,1002.6 1343.8,999.4 1344.2,1001.6 1344.6,997.9 1345.0,998.3 1345.4,995.7 1345.8,999.8 1346.2,1001.7 1346.6,998.9 1347.0,997.1 1347.4,997.2 1347.8,996.9 1348.2,994.2 1348.6,998.2 1349.0,997.8 1349.4,999.4 1349.8,998.7 1350.2,994.4 1350.6,996.1 1351.0,1003.7 1351.4,993.9 1351.8,1002.0 1352.1,997.9 1352.5,994.4 1352.9,996.5 1353.3,995.3 1353.7,994.5 1354.1,995.9 1354.5,999.9 1354.9,995.6 1355.3,998.3 1355.7,1002.7 1356.3,996.5 1356.7,984.6 1357.0,972.8 1357.4,960.9 1357.4,961.4 1357.8,960.0 1358.2,961.1 1358.6,961.5 1359.0,958.3 1359.4,961.4 1359.8,960.3 1360.2,961.7 1360.6,959.4 1361.1,963.4 1361.5,960.7 1361.9,959.6 1362.3,964.1 1362.7,961.5 1363.1,966.4 1363.5,963.4 1363.9,962.8 1364.3,966.0 1364.7,968.0 1365.1,964.7 1365.5,965.6 1365.9,964.8 1365.9,964.6 1366.3,963.6 1366.7,962.2 1367.1,964.4 1367.5,968.1 1367.9,963.9 1368.3,964.4 1368.7,964.9 1369.1,962.1 1369.5,964.7 1369.9,965.9 1370.3,964.3 1370.7,968.3 1371.1,963.3 1371.5,965.1 1371.9,961.9 1372.3,963.9 1372.7,964.5 1373.1,964.8 1373.4,967.5 1373.8,965.3 1374.2,964.6 1374.6,963.3 1375.0,964.3 1375.4,963.8 1375.8,963.8 1376.2,966.2 1376.6,964.6 1377.0,965.6 1377.4,967.6 1377.8,968.1 1378.2,963.6 1378.6,962.4 1379.0,962.4 1379.4,966.8 1379.8,962.3 1380.2,962.2 1380.6,966.6 1381.0,964.2 1381.4,961.9 1381.8,965.0 1382.2,962.9 1382.6,966.3 1383.0,965.8 1383.4,963.5 1383.8,965.5 1384.2,964.9 1384.6,965.0 1385.0,967.1 1385.4,962.3 1385.8,965.4 1386.2,965.8 1386.5,966.0 1386.9,965.0 1387.3,966.9 1387.7,963.5 1388.1,965.8 1388.5,963.6 1388.9,966.8 1389.3,967.1 1389.7,966.9 1390.1,964.7 1390.5,967.7 1390.9,963.5 1391.3,965.8 1391.7,963.4 1392.1,965.9 1392.5,963.6 1392.9,967.1 1393.3,967.3 1393.7,964.0 1394.1,966.2 1394.5,963.1 1394.9,966.5 1395.3,964.2 1395.7,966.7 1396.1,968.5 1396.5,962.4 1396.9,965.6 1397.3,963.3 1397.7,964.8 1398.1,968.5 1398.5,964.4 1398.9,963.1 1399.3,962.7 1399.6,962.0 1400.0,964.4 1400.4,965.4 1400.8,965.0 1401.2,967.4 1401.6,963.8 1402.0,963.8 1402.4,964.5 1402.8,966.7 1403.2,963.9 1403.6,966.2 1404.0,962.8 1404.4,966.3 1404.8,966.2 1405.2,965.8 1405.6,967.2 1406.0,966.9 1406.4,965.7 1406.8,969.9 1407.2,961.3 1407.6,964.5 1408.0,964.6 1408.4,966.9 1408.8,964.8 1409.2,965.2 1409.6,965.0 1410.0,968.0 1410.4,965.4 1410.8,968.8 1411.2,965.6 1411.6,966.9 1412.0,966.4 1412.4,965.8 1412.7,963.6 1413.1,962.8 1413.5,965.1 1413.9,967.3 1414.3,962.3 1414.7,967.9 1415.1,966.3 1415.5,965.6 1415.9,966.6 1416.3,962.6 1416.7,964.4 1417.1,963.1 1417.5,965.8 1417.9,963.5 1418.3,965.5 1418.7,965.5 1419.1,964.6 1419.5,964.5 1419.9,964.1 1420.3,965.6 1420.7,968.1 1421.1,965.8 1421.5,970.4 1421.9,965.8 1422.3,966.8 1422.7,963.6 1423.1,970.5 1423.5,961.3 1423.9,965.9 1424.3,968.3 1424.7,964.4 1425.1,964.3 1425.5,964.4 1425.8,961.0 1426.2,966.8 1426.6,964.7 1427.0,964.9 1427.4,966.5 1427.8,964.7 1428.2,962.8 1428.6,966.9 1429.0,964.4 1429.4,963.3 1429.8,964.0 1430.2,968.3 1430.6,964.7 1431.0,966.0 1431.4,962.8 1431.8,965.5 1432.2,961.4 1432.6,967.6 1433.0,964.3 1433.4,966.9 1433.8,961.8 1434.2,962.2 1434.6,967.0 1435.0,963.8 1435.4,965.3 1435.8,968.4 1436.2,967.2 1436.6,965.0 1437.0,964.2 1437.4,966.0 1437.8,964.7 1438.2,964.6 1438.6,964.7 1438.9,967.5 1439.3,965.0 1439.7,964.2 1440.1,968.1 1440.5,962.2 1440.9,962.4 1441.3,964.9 1441.7,961.2 1442.1,966.8 1442.5,967.1 1442.9,966.4 1443.3,966.6 1443.7,961.6 1444.1,965.1 1444.5,965.3 1444.9,964.5 1445.3,962.1 1445.7,964.9 1446.1,966.0 1446.5,964.7 1446.9,962.8 1447.3,965.6 1447.7,962.5 1448.1,964.6 1448.5,965.6 1448.9,964.3 1449.3,961.4 1449.7,965.7 1450.1,962.6 1450.5,964.1 1450.9,964.9 1451.3,965.1 1451.7,963.6 1452.0,964.0 1452.4,964.5 1452.8,963.9 1453.2,966.9 1453.6,966.5 1454.0,967.2 1454.4,965.9 1454.8,965.6 1455.2,965.9 1455.6,964.2 1456.0,967.0 1456.4,965.7 1456.8,963.5 1457.2,962.0 1457.6,965.1 1458.0,962.9 1458.4,962.6 1458.8,967.2 1459.2,964.7 1459.6,967.2 1460.0,966.0 1460.4,964.4 1460.8,967.7 1461.2,964.2 1461.6,965.5 1462.0,965.7 1462.4,964.2 1462.8,966.8 1463.2,968.5 1463.6,965.2 1464.0,966.6 1464.4,965.6 1464.7,967.3 1465.1,967.0 1465.5,967.2 1465.9,967.7 1466.3,966.8 1466.7,966.7 1467.1,965.2 1467.5,959.1 1467.9,966.4 1468.3,968.3 1468.7,964.1 1469.1,967.6 1469.5,966.9 1469.9,965.9 1470.3,965.2 1470.7,965.1 1471.1,964.8 1471.5,965.5 1471.9,963.1 1472.3,963.6 1472.7,966.3 1473.1,965.7 1473.5,967.8 1473.9,964.0 1474.3,965.6 1474.7,961.6 1475.1,966.6 1475.5,962.3 1475.9,967.0 1476.3,968.5 1476.7,966.9 1477.1,964.6 1477.5,963.3 1477.8,966.9 1478.2,963.4 1478.6,966.3 1479.0,966.2 1479.4,965.8 1479.8,962.1 1480.2,964.9 1480.6,964.7 1481.0,968.1 1481.4,964.9 1481.8,964.7 1482.2,962.1 1482.6,966.9 1483.0,966.6 1483.4,967.0 1483.8,966.5 1484.2,964.0 1484.6,966.8 1485.0,962.8 1485.4,965.2 1485.8,967.0 1486.2,966.5 1486.6,967.9 1487.0,968.0 1487.4,963.1 1487.8,963.6 1488.2,967.1 1488.6,966.1 1489.0,962.2 1489.4,966.7 1489.9,965.2 1490.1,954.5 1490.3,943.8 1490.5,933.1 1490.5,931.6 1490.9,930.4 1491.3,932.4 1491.7,932.2 1492.1,932.4 1492.5,930.7 1492.9,935.8 1493.3,930.4 1493.8,929.8 1494.2,934.3 1494.6,928.4 1495.0,932.6 1495.4,937.8 1495.8,935.3 1496.2,928.6 1496.6,926.9 1497.0,929.8 1497.4,932.8 1497.8,928.5 1498.2,924.8 1498.6,927.6 1499.1,931.9 1499.5,925.5 1499.9,927.4 1500.3,927.0 1500.7,926.1 1501.3,926.1 1501.5,918.3 1501.8,910.5 1501.8,907.9 1502.2,910.1 1502.6,912.8 1503.0,910.1 1503.4,909.4 1503.8,906.0 1504.2,913.7 1504.6,910.3 1505.0,912.7 1505.4,909.0 1505.8,911.6 1506.2,919.7 1506.6,906.9 1507.0,912.1 1507.4,913.4 1507.8,914.8 1508.2,913.4 1508.6,914.1 1509.0,910.5 1509.4,909.6 1509.8,910.3 1510.2,908.9 1510.6,912.7 1510.9,908.2 1511.3,910.4 1511.7,908.7 1512.1,908.2 1512.5,911.3 1512.9,906.2 1513.3,907.6 1513.7,911.5 1514.1,904.6 1514.5,904.9 1514.9,915.1 1515.3,917.4 1515.7,912.2 1516.1,908.8 1516.5,907.3 1516.9,908.2 1517.3,910.4 1517.7,907.2 1518.1,908.1 1518.5,911.7 1518.9,909.8 1519.3,907.0 1519.7,912.4 1520.1,912.4 1520.5,913.1 1520.9,905.8 1521.3,908.3 1521.7,907.8 1522.1,911.7 1522.5,910.6 1522.9,906.6 1523.3,911.4 1523.6,906.8 1524.0,910.6 1524.4,910.6 1524.8,908.8 1525.2,907.8 1525.6,905.0 1526.0,911.7 1526.4,905.3 1526.8,913.0 1527.2,913.4 1527.6,917.8 1528.0,908.0 1528.4,906.0 1528.8,914.5 1529.2,911.7 1529.6,911.5 1530.0,915.7 1530.4,910.5 1530.8,909.8 1531.2,912.4 1531.6,914.0 1532.0,910.4 1532.4,908.9 1532.8,915.3 1533.2,911.2 1533.6,909.1 1534.0,919.8 1534.4,909.9 1534.8,905.4 1535.2,915.0 1535.6,906.8 1536.0,911.9 1536.3,909.0 1536.7,911.5 1537.1,914.6 1537.5,916.5 1537.9,903.4 1538.3,915.3 1538.7,911.9 1539.1,906.5 1539.5,910.1 1539.9,910.5 1540.3,917.5 1540.7,913.1 1541.1,915.4 1541.5,916.9 1541.9,910.0 1542.3,908.5 1542.7,913.6 1543.1,913.3 1543.5,909.9 1543.9,908.4 1544.3,914.6 1544.7,907.5 1545.1,908.3 1545.5,911.3 1545.9,914.8 1546.3,909.5 1546.7,909.1 1547.1,905.7 1547.5,913.3 1547.9,906.3 1548.3,912.5 1548.8,911.3 1549.1,900.1 1549.4,888.8 1549.4,887.6 1549.8,889.0 1550.2,888.6 1550.6,885.4 1551.0,890.4 1551.4,886.9 1551.8,889.4 1552.2,888.9 1552.6,890.4 1553.0,888.3 1553.4,893.4 1553.8,889.4 1554.2,886.5 1554.6,886.9 1555.0,892.5 1555.4,891.4 1555.8,889.7 1556.2,884.5 1556.6,889.8 1557.0,888.8 1557.4,889.3 1557.8,888.1 1558.2,890.9 1558.6,888.2 1559.0,887.7 1559.4,886.4 1559.7,890.8 1560.1,886.7 1560.5,884.3 1560.9,887.0 1561.3,887.2 1561.7,894.4 1562.1,885.7 1562.5,884.4 1562.9,886.0 1563.3,887.6 1563.7,886.9 1564.1,881.8 1564.5,890.4 1564.9,889.7 1565.3,886.2 1565.7,888.2 1566.1,893.8 1566.5,888.3 1566.9,888.0 1567.3,890.9 1567.7,887.9 1568.1,888.2 1568.5,892.9 1568.9,887.6 1569.3,883.8 1569.7,884.7 1570.1,891.4 1570.5,891.8 1570.9,888.6 1571.3,888.1 1571.7,891.9 1572.1,890.5 1572.5,885.6 1572.9,888.2 1573.3,886.4 1573.7,888.8 1574.1,886.4 1574.5,890.0 1574.9,890.0 1575.3,891.0 1575.7,893.2 1576.1,889.7 1576.5,891.9 1576.9,889.9 1577.3,888.4 1577.7,888.4 1578.1,887.9 1578.5,889.7 1578.9,888.9 1579.3,886.1 1579.7,889.1 1580.1,888.7 1580.5,894.5 1580.9,891.3 1581.3,886.2 1581.7,890.8 1582.1,891.3 1582.5,886.5 1582.9,891.6 1583.3,886.5 1583.7,889.0 1584.1,890.3 1584.5,893.6 1584.9,885.7 1585.3,893.0 1585.7,891.7 1586.1,887.0 1586.4,891.7 1586.8,887.6 1587.2,888.9 1587.6,889.4 1588.0,891.3 1588.4,890.3 1588.8,888.2 1589.2,891.1 1589.6,887.3 1590.0,888.2 1590.4,887.5 1590.8,888.3 1591.2,887.5 1591.6,887.9 1592.0,886.9 1592.4,887.9 1592.8,888.1 1593.2,890.9 1593.6,892.8 1594.0,888.7 1594.4,886.6 1594.8,891.0 1595.2,892.5 1595.6,890.1 1596.0,888.0 1596.4,886.8 1596.8,889.6 1597.2,891.6 1597.6,889.0 1598.0,887.2 1598.4,888.9 1598.8,886.4 1599.2,890.0 1599.6,886.8 1600.0,885.0 1600.4,891.1 1600.8,890.8 1601.2,887.3 1601.6,881.5 1602.0,887.6 1602.4,888.9 1602.8,885.8 1603.2,889.1 1603.6,892.6 1604.0,891.0 1604.4,885.7 1604.8,892.7 1605.2,892.1 1605.6,886.9 1606.0,888.5 1606.4,886.0 1606.8,891.3 1607.2,890.5 1607.6,889.6 1608.0,891.7 1608.4,889.4 1608.8,889.2 1609.2,886.8 1609.6,889.0 1610.0,889.7 1610.4,887.6 1610.8,886.2 1611.2,886.4 1611.6,888.2 1612.0,889.7 1612.4,889.9 1612.8,891.9 1613.1,888.6 1613.5,888.9 1613.9,885.0 1614.5,888.8 1614.7,880.1 1614.9,871.4 1615.1,862.7 1615.1,861.3 1615.5,859.9 1615.9,858.4 1616.3,866.7 1616.7,863.5 1617.1,862.4 1617.5,861.4 1617.9,864.6 1618.3,859.4 1618.7,859.3 1619.1,860.3 1619.5,859.8 1619.9,864.4 1620.3,858.6 1620.7,863.1 1621.1,866.4 1621.5,861.2 1621.9,860.4 1622.3,863.2 1622.7,865.7 1623.1,864.4 1623.5,861.8 1623.9,867.9 1624.3,858.6 1624.7,858.7 1625.0,861.7 1625.4,858.5 1625.8,861.6 1626.2,864.1 1626.6,859.5 1627.0,859.7 1627.4,863.5 1627.8,864.8 1628.2,863.6 1628.6,858.0 1629.0,861.8 1629.4,853.7 1629.8,862.7 1630.2,859.4 1630.6,860.1 1631.0,861.5 1631.4,858.7 1631.8,863.1 1632.2,861.0 1632.6,863.8 1633.0,866.4 1633.4,860.6 1633.8,863.7 1634.2,864.1 1634.6,859.2 1635.0,861.1 1635.4,859.6 1635.8,856.1 1636.2,860.1 1636.6,859.4 1637.0,863.6 1637.4,858.3 1637.8,858.3 1638.2,863.2 1638.6,858.7 1639.0,859.6 1639.4,860.9 1639.8,860.1 1640.2,854.0 1640.6,862.0 1641.0,861.1 1641.4,860.0 1641.8,860.7 1642.2,865.0 1642.6,858.5 1643.0,857.8 1643.4,855.6 1644.0,860.1 1644.1,849.4 1644.3,838.6 1644.5,827.9 1644.5,828.7 1644.9,829.2 1645.4,826.3 1645.8,828.1 1646.2,826.4 1646.6,826.5 1647.0,825.3 1647.4,825.8 1647.8,823.9 1648.2,825.6 1648.6,820.9 1649.1,822.6 1649.1,825.3 1649.5,826.1 1649.9,824.1 1650.3,824.8 1650.7,825.8 1651.1,820.0 1651.5,821.1 1651.9,826.4 1652.3,822.2 1652.7,823.6 1653.1,821.6 1653.5,825.3 1653.9,818.1 1654.3,823.4 1654.7,818.4 1655.1,824.9 1655.5,820.1 1655.9,823.9 1656.3,819.3 1656.7,824.1 1657.1,826.4 1657.5,826.4 1657.9,825.3 1658.3,822.0 1658.7,822.6 1659.1,823.3 1659.5,820.8 1659.9,819.3 1660.3,826.2 1660.7,821.0 1661.1,817.6 1661.5,825.2 1661.9,825.1 1662.3,822.5 1662.7,823.0 1663.1,825.0 1663.5,823.8 1663.9,819.4 1664.3,821.2 1664.7,825.7 1665.1,828.1 1665.5,826.5 1665.9,823.1 1666.3,825.6 1666.7,825.8 1667.1,821.7 1667.5,824.3 1667.9,824.6 1668.3,823.0 1668.7,819.8 1669.1,822.8 1669.5,821.8 1669.9,823.4 1670.3,819.6 1670.7,826.8 1671.1,826.5 1671.5,824.9 1671.9,818.3 1672.3,819.6 1672.7,826.5 1673.1,824.8 1673.5,822.2 1673.9,823.4 1674.3,821.3 1674.7,824.9 1675.1,827.9 1675.7,823.6 1676.2,813.4 1676.8,803.3 1677.4,793.2 1677.4,792.0 1677.8,790.2 1678.2,795.0 1678.6,795.1 1679.0,791.8 1679.4,794.0 1679.8,788.9 1680.1,791.5 1680.5,787.2 1680.9,788.8 1681.3,787.3 1681.7,785.7 1682.1,786.8 1682.5,787.8 1682.9,783.5 1683.3,787.6 1683.7,781.4 1684.1,784.8 1684.5,784.0 1684.9,781.7 1685.3,781.1 1685.3,780.4 1685.7,786.1 1686.1,784.4 1686.5,780.8 1686.9,780.7 1687.3,782.1 1687.7,778.1 1688.1,782.3 1688.5,779.0 1688.9,778.6 1689.3,780.7 1689.7,782.2 1690.1,779.6 1690.5,780.4 1690.9,779.9 1691.3,784.1 1691.7,780.3 1692.1,777.0 1692.5,782.4 1692.9,781.2 1693.3,782.2 1693.7,779.0 1694.1,787.4 1694.5,776.9 1694.9,780.0 1695.3,782.1 1695.7,780.6 1696.1,778.2 1696.5,780.3 1696.9,779.5 1697.3,777.9 1697.7,780.9 1698.1,779.2 1698.5,777.1 1698.9,779.7 1699.2,783.0 1699.6,779.0 1700.0,775.4 1700.4,782.1 1700.8,779.9 1701.2,780.0 1701.6,778.6 1702.0,782.3 1702.4,781.2 1702.8,775.5 1703.2,779.1 1703.6,782.8 1704.0,778.8 1704.4,780.9 1704.8,776.6 1705.2,785.6 1705.6,780.7 1706.0,778.2 1706.4,784.6 1706.8,783.1 1707.2,781.9 1707.8,789.7 1708.5,797.5 1708.5,797.5 1709.2,810.2 1709.8,823.0 1710.5,835.7 1711.1,848.4 1711.8,861.1 1712.4,873.9 1713.0,886.6 1713.7,899.3 1714.3,912.0 1715.0,924.8 1715.6,937.5 1716.3,950.2 1716.9,962.9 1717.6,975.7 1718.2,988.4 1718.9,1001.1 1719.5,1013.8 1720.2,1026.6 1720.8,1039.3 1721.5,1052.0 1722.1,1064.7 1722.8,1077.5 1723.4,1090.2 1724.1,1102.9 1724.7,1115.6 1725.3,1128.4 1726.0,1141.1 1726.6,1153.8" fill="none" stroke="#000" stroke-width="1.5" stroke-linejoin="miter"/>
<rect x="1223.2" y="753.6" width="566.3" height="400.2" fill="none" stroke="#000" stroke-width="4.5"/>
<line x1="1216.0" y1="1153.8" x2="1221.5" y2="1153.8" stroke="#000" stroke-width="4.5"/>
<text x="1208.0" y="1165.2" font-size="43.6" font-family='"Liberation Sans", sans-serif' text-anchor="end">50</text>
<line x1="1216.0" y1="1066.9" x2="1221.5" y2="1066.9" stroke="#000" stroke-width="4.5"/>
<text x="1208.0" y="1078.3" font-size="43.6" font-family='"Liberation Sans", sans-serif' text-anchor="end">60</text>
<line x1="1216.0" y1="980.0" x2="1221.5" y2="980.0" stroke="#000" stroke-width="4.5"/>
<text x="1208.0" y="991.4" font-size="43.6" font-family='"Liberation Sans", sans-serif' text-anchor="end">70</text>
<line x1="1216.0" y1="893.1" x2="1221.5" y2="893.1" stroke="#000" stroke-width="4.5"/>
<text x="1208.0" y="904.5" font-size="43.6" font-family='"Liberation Sans", sans-serif' text-anchor="end">80</text>
<line x1="1216.0" y1="806.2" x2="1221.5" y2="806.2" stroke="#000" stroke-width="4.5"/>
<text x="1208.0" y="817.6" font-size="43.6" font-family='"Liberation Sans", sans-serif' text-anchor="end">90</text>
<line x1="1219.2" y1="1145.1" x2="1221.5" y2="1145.1" stroke="#000" stroke-width="2.2"/>
<line x1="1219.2" y1="1136.4" x2="1221.5" y2="1136.4" stroke="#000" stroke-width="2.2"/>
<line x1="1219.2" y1="1127.7" x2="1221.5" y2="1127.7" stroke="#000" stroke-width="2.2"/>
<line x1="1219.2" y1="1119.0" x2="1221.5" y2="1119.0" stroke="#000" stroke-width="2.2"/>
<line x1="1219.2" y1="1110.3" x2="1221.5" y2="1110.3" stroke="#000" stroke-width="2.2"/>
<line x1="1219.2" y1="1101.7" x2="1221.5" y2="1101.7" stroke="#000" stroke-width="2.2"/>
<line x1="1219.2" y1="1093.0" x2="1221.5" y2="1093.0" stroke="#000" stroke-width="2.2"/>
<line x1="1219.2" y1="1084.3" x2="1221.5" y2="1084.3" stroke="#000" stroke-width="2.2"/>
<line x1="1219.2" y1="1075.6" x2="1221.5" y2="1075.6" stroke="#000" stroke-width="2.2"/>
<line x1="1219.2" y1="1058.2" x2="1221.5" y2="1058.2" stroke="#000" stroke-width="2.2"/>
<line x1="1219.2" y1="1049.5" x2="1221.5" y2="1049.5" stroke="#000" stroke-width="2.2"/>
<line x1="1219.2" y1="1040.8" x2="1221.5" y2="1040.8" stroke="#000" stroke-width="2.2"/>
<line x1="1219.2" y1="1032.1" x2="1221.5" y2="1032.1" stroke="#000" stroke-width="2.2"/>
<line x1="1219.2" y1="1023.4" x2="1221.5" y2="1023.4" stroke="#000" stroke-width="2.2"/>
<line x1="1219.2" y1="1014.8" x2="1221.5" y2="1014.8" stroke="#000" stroke-width="2.2"/>
<line x1="1219.2" y1="1006.1" x2="1221.5" y2="1006.1" stroke="#000" stroke-width="2.2"/>
<line x1="1219.2" y1="997.4" x2="1221.5" y2="997.4" stroke="#000" stroke-width="2.2"/>
<line x1="1219.2" y1="988.7" x2="1221.5" y2="988.7" stroke="#000" stroke-width="2.2"/>
<line x1="1219.2" y1="971.3" x2="1221.5" y2="971.3" stroke="#000" stroke-width="2.2"/>
<line x1="1219.2" y1="962.6" x2="1221.5" y2="962.6" stroke="#000" stroke-width="2.2"/>
<line x1="1219.2" y1="953.9" x2="1221.5" y2="953.9" stroke="#000" stroke-width="2.2"/>
<line x1="1219.2" y1="945.2" x2="1221.5" y2="945.2" stroke="#000" stroke-width="2.2"/>
<line x1="1219.2" y1="936.5" x2="1221.5" y2="936.5" stroke="#000" stroke-width="2.2"/>
<line x1="1219.2" y1="927.9" x2="1221.5" y2="927.9" stroke="#000" stroke-width="2.2"/>
<line x1="1219.2" y1="919.2" x2="1221.5" y2="919.2" stroke="#000" stroke-width="2.2"/>
<line x1="1219.2" y1="910.5" x2="1221.5" y2="910.5" stroke="#000" stroke-width="2.2"/>
<line x1="1219.2" y1="901.8" x2="1221.5" y2="901.8" stroke="#000" stroke-width="2.2"/>
<line x1="1219.2" y1="884.4" x2="1221.5" y2="884.4" stroke="#000" stroke-width="2.2"/>
<line x1="1219.2" y1="875.7" x2="1221.5" y2="875.7" stroke="#000" stroke-width="2.2"/>
<line x1="1219.2" y1="867.0" x2="1221.5" y2="867.0" stroke="#000" stroke-width="2.2"/>
<line x1="1219.2" y1="858.3" x2="1221.5" y2="858.3" stroke="#000" stroke-width="2.2"/>
<line x1="1219.2" y1="849.6" x2="1221.5" y2="849.6" stroke="#000" stroke-width="2.2"/>
<line x1="1219.2" y1="841.0" x2="1221.5" y2="841.0" stroke="#000" stroke-width="2.2"/>
<line x1="1219.2" y1="832.3" x2="1221.5" y2="832.3" stroke="#000" stroke-width="2.2"/>
<line x1="1219.2" y1="823.6" x2="1221.5" y2="823.6" stroke="#000" stroke-width="2.2"/>
<line x1="1219.2" y1="814.9" x2="1221.5" y2="814.9" stroke="#000" stroke-width="2.2"/>
<line x1="1219.2" y1="797.5" x2="1221.5" y2="797.5" stroke="#000" stroke-width="2.2"/>
<line x1="1219.2" y1="788.8" x2="1221.5" y2="788.8" stroke="#000" stroke-width="2.2"/>
<line x1="1219.2" y1="780.1" x2="1221.5" y2="780.1" stroke="#000" stroke-width="2.2"/>
<line x1="1219.2" y1="771.4" x2="1221.5" y2="771.4" stroke="#000" stroke-width="2.2"/>
<line x1="1219.2" y1="762.8" x2="1221.5" y2="762.8" stroke="#000" stroke-width="2.2"/>
<line x1="1223.2" y1="1155.5" x2="1223.2" y2="1161.0" stroke="#000" stroke-width="4.5"/>
<text x="1223.2" y="1201.6" font-size="43.6" font-family='"Liberation Sans", sans-serif' text-anchor="middle">0</text>
<line x1="1336.5" y1="1155.5" x2="1336.5" y2="1161.0" stroke="#000" stroke-width="4.5"/>
<text x="1336.5" y="1201.6" font-size="43.6" font-family='"Liberation Sans", sans-serif' text-anchor="middle">100</text>
<line x1="1449.7" y1="1155.5" x2="1449.7" y2="1161.0" stroke="#000" stroke-width="4.5"/>
<text x="1449.7" y="1201.6" font-size="43.6" font-family='"Liberation Sans", sans-serif' text-anchor="middle">200</text>
<line x1="1563.0" y1="1155.5" x2="1563.0" y2="1161.0" stroke="#000" stroke-width="4.5"/>
<text x="1563.0" y="1201.6" font-size="43.6" font-family='"Liberation Sans", sans-serif' text-anchor="middle">300</text>
<line x1="1676.2" y1="1155.5" x2="1676.2" y2="1161.0" stroke="#000" stroke-width="4.5"/>
<text x="1676.2" y="1201.6" font-size="43.6" font-family='"Liberation Sans", sans-serif' text-anchor="middle">400</text>
<line x1="1789.5" y1="1155.5" x2="1789.5" y2="1161.0" stroke="#000" stroke-width="4.5"/>
<text x="1789.5" y="1201.6" font-size="43.6" font-family='"Liberation Sans", sans-serif' text-anchor="middle">500</text>
<line x1="1234.5" y1="1155.5" x2="1234.5" y2="1157.8" stroke="#000" stroke-width="2.2"/>
<line x1="1245.9" y1="1155.5" x2="1245.9" y2="1157.8" stroke="#000" stroke-width="2.2"/>
<line x1="1257.2" y1="1155.5" x2="1257.2" y2="1157.8" stroke="#000" stroke-width="2.2"/>
<line x1="1268.5" y1="1155.5" x2="1268.5" y2="1157.8" stroke="#000" stroke-width="2.2"/>
<line x1="1279.8" y1="1155.5" x2="1279.8" y2="1157.8" stroke="#000" stroke-width="2.2"/>
<line x1="1291.2" y1="1155.5" x2="1291.2" y2="1157.8" stroke="#000" stroke-width="2.2"/>
<line x1="1302.5" y1="1155.5" x2="1302.5" y2="1157.8" stroke="#000" stroke-width="2.2"/>
<line x1="1313.8" y1="1155.5" x2="1313.8" y2="1157.8" stroke="#000" stroke-width="2.2"/>
<line x1="1325.1" y1="1155.5" x2="1325.1" y2="1157.8" stroke="#000" stroke-width="2.2"/>
<line x1="1347.8" y1="1155.5" x2="1347.8" y2="1157.8" stroke="#000" stroke-width="2.2"/>
<line x1="1359.1" y1="1155.5" x2="1359.1" y2="1157.8" stroke="#000" stroke-width="2.2"/>
<line x1="1370.4" y1="1155.5" x2="1370.4" y2="1157.8" stroke="#000" stroke-width="2.2"/>
<line x1="1381.8" y1="1155.5" x2="1381.8" y2="1157.8" stroke="#000" stroke-width="2.2"/>
<line x1="1393.1" y1="1155.5" x2="1393.1" y2="1157.8" stroke="#000" stroke-width="2.2"/>
<line x1="1404.4" y1="1155.5" x2="1404.4" y2="1157.8" stroke="#000" stroke-width="2.2"/>
<line x1="1415.7" y1="1155.5" x2="1415.7" y2="1157.8" stroke="#000" stroke-width="2.2"/>
<line x1="1427.1" y1="1155.5" x2="1427.1" y2="1157.8" stroke="#000" stroke-width="2.2"/>
<line x1="1438.4" y1="1155.5" x2="1438.4" y2="1157.8" stroke="#000" stroke-width="2.2"/>
<line x1="1461.0" y1="1155.5" x2="1461.0" y2="1157.8" stroke="#000" stroke-width="2.2"/>
<line x1="1472.4" y1="1155.5" x2="1472.4" y2="1157.8" stroke="#000" stroke-width="2.2"/>
<line x1="1483.7" y1="1155.5" x2="1483.7" y2="1157.8" stroke="#000" stroke-width="2.2"/>
<line x1="1495.0" y1="1155.5" x2="1495.0" y2="1157.8" stroke="#000" stroke-width="2.2"/>
<line x1="1506.4" y1="1155.5" x2="1506.4" y2="1157.8" stroke="#000" stroke-width="2.2"/>
<line x1="1517.7" y1="1155.5" x2="1517.7" y2="1157.8" stroke="#000" stroke-width="2.2"/>
<line x1="1529.0" y1="1155.5" x2="1529.0" y2="1157.8" stroke="#000" stroke-width="2.2"/>
<line x1="1540.3" y1="1155.5" x2="1540.3" y2="1157.8" stroke="#000" stroke-width="2.2"/>
<line x1="1551.7" y1="1155.5" x2="1551.7" y2="1157.8" stroke="#000" stroke-width="2.2"/>
<line x1="1574.3" y1="1155.5" x2="1574.3" y2="1157.8" stroke="#000" stroke-width="2.2"/>
<line x1="1585.6" y1="1155.5" x2="1585.6" y2="1157.8" stroke="#000" stroke-width="2.2"/>
<line x1="1597.0" y1="1155.5" x2="1597.0" y2="1157.8" stroke="#000" stroke-width="2.2"/>
<line x1="1608.3" y1="1155.5" x2="1608.3" y2="1157.8" stroke="#000" stroke-width="2.2"/>
<line x1="1619.6" y1="1155.5" x2="1619.6" y2="1157.8" stroke="#000" stroke-width="2.2"/>
<line x1="1630.9" y1="1155.5" x2="1630.9" y2="1157.8" stroke="#000" stroke-width="2.2"/>
<line x1="1642.3" y1="1155.5" x2="1642.3" y2="1157.8" stroke="#000" stroke-width="2.2"/>
<line x1="1653.6" y1="1155.5" x2="1653.6" y2="1157.8" stroke="#000" stroke-width="2.2"/>
<line x1="1664.9" y1="1155.5" x2="1664.9" y2="1157.8" stroke="#000" stroke-width="2.2"/>
<line x1="1687.6" y1="1155.5" x2="1687.6" y2="1157.8" stroke="#000" stroke-width="2.2"/>
<line x1="1698.9" y1="1155.5" x2="1698.9" y2="1157.8" stroke="#000" stroke-width="2.2"/>
<line x1="1710.2" y1="1155.5" x2="1710.2" y2="1157.8" stroke="#000" stroke-width="2.2"/>
<line x1="1721.5" y1="1155.5" x2="1721.5" y2="1157.8" stroke="#000" stroke-width="2.2"/>
<line x1="1732.9" y1="1155.5" x2="1732.9" y2="1157.8" stroke="#000" stroke-width="2.2"/>
<line x1="1744.2" y1="1155.5" x2="1744.2" y2="1157.8" stroke="#000" stroke-width="2.2"/>
<line x1="1755.5" y1="1155.5" x2="1755.5" y2="1157.8" stroke="#000" stroke-width="2.2"/>
<line x1="1766.8" y1="1155.5" x2="1766.8" y2="1157.8" stroke="#000" stroke-width="2.2"/>
<line x1="1778.2" y1="1155.5" x2="1778.2" y2="1157.8" stroke="#000" stroke-width="2.2"/>
<text x="1359.2" y="1245.5" font-size="41.7" font-family='"Liberation Sans", sans-serif' font-weight="bold" textLength="291.0" lengthAdjust="spacingAndGlyphs">Time / minutes</text>
<text x="1149.4" y="1155.0" font-size="44.3" font-family='"Liberation Sans", sans-serif' font-weight="bold" transform="rotate(-90 1149.4 1155.0)" textLength="355.0" lengthAdjust="spacingAndGlyphs">Temperature / °C</text>
<path d="M0 32247l1 48 1-5 1-70 1-11 1-5 1 33 1-16 1 12 1-59 1 99 1-60 1-18 1-62 1-53 1-18 1-18 1-42 1 14 1 63 1-13 1 32 1 58 1-10 1-40 1 42 1-8 1 5 1-8 1 54 1 0 1-53 1-37 1-20 1-20 1-76 1 10 1-16 1-72 1-55 1 29 1 38 1 80 1-24 1 27 1-2 1-5 1 101 1 56 1-8 1 78 1-11 1-9 1 3 1 33 1-53 1 78 1-1 1-63 1 30 1-17 1 34 1-18 1 15 1 9 1-38 1 26 1-54 1 38 1-2 1 76 1-51 1-42 1 37 1 8 1 24 1-98 1 96 1-2 1-25 1-4 1 46 1-82 1 30 1 41 1-77 1 22 1-98 1-31 1 17 1 82 1-22 1 58 1 26 1 4 1-28 1-15 1 46 1-19 1-9 1-19 1 46 1-4 1-13 1 2 1-28 1 26 1 35 1-36 1-37 1 63 1-21 1 42 1-27 1-21 1-25 1 70 1 36 1-97 1-14 1 52 1-50 1 29 1-13 1 33 1 34 1-29 1 33 1-39 1 41 1-89 1 18 1 32 1-34 1 33 1 16 1 20 1-23 1-2 1-19 1 9 1 2 1 4 1-39 1 8 1 9 1 0 1-18 1-44 1 62 1 4 1 42 1-6 1-20 1-24 1 59 1-46 1 38 1 15 1-81 1 40 1 9 1-5 1-13 1-19 1 11 1-54 1 42 1-11 1 35 1-23 1 18 1 6 1-1 1 14 1-9 1-31 1 13 1-5 1 41 1-21 1 3 1-59 1 61 1-27 1 5 1-17 1-22 1 26 1 18 1-5 1 26 1 61 1-29 1-48 1 6 1-48 1 90 1-84 1 53 1 0 1-55 1 42 1 13 1-8 1-9 1 27 1-42 1 6 1-34 1 34 1-36 1 64 1-33 1-21 1 55 1 27 1-13 1-71 1 39 1-40 1 15 1 11 1-64 1 65 1-40 1-6 1-39 1-18 1-16 1 43 1-33 1-75 1-4 1 14 1-11 1 121 1 35 1 1 1 43 1 23 1-50 1-42 1-7 1-1 1 14 1 65 1 22 1-77 1 15 1-5 1-11 1-16 1-50 1-6 1 30 1-79 1-63 1-3 1-15 1-51 1-44 1 102 1-80 1 81 1-20 1-12 1 87 1 6 1-4 1 86 1-8 1-42 1 63 1 42 1 35 1-2 1-9 1 20 1-25 1 52 1-29 1 7 1-7 1-45 1 4 1 68 1-50 1 3 1 25 1-34 1 21 1-4 1 65 1-64 1 63 1-64 1-15 1 38 1-19 1 13 1-31 1 42 1 80 1-141 1 58 1-10 1 20 1-51 1 12 1 25 1-14 1 62 1-35 1 19 1 62 1-109 1 10 1 26 1-8 1 2 1-20 1-43 1 30 1 59 1-38 1-139 1 67 1-14 1 63 1-17 1 64 1-18 1 14 1-29 1-10 1 1 1 29 1-35 1-22 1 47 1 5 1-7 1-14 1-18 1 17 1-67 1 109 1-38 1-14 1 36 1 1 1-15 1-80 1 68 1 30 1 28 1-18 1-32 1-73 1-10 1 99 1-33 1 17 1-26 1 36 1-43 1 51 1-32 1-4 1 15 1-19 1 39 1-11 1 16 1-21 1-50 1-20 1 65 1-45 1 39 1-11 1-31 1 7 1 7 1-17 1 10 1-45 1 32 1-2 1 36 1-122 1 76 1-52 1 31 1-44 1 35 1 17 1-27 1-20 1 5 1-40 1 53 1-33 1-45 1-29 1-28 1 39 1 8 1-38 1 34 1-38 1-18 1-41 1-46 1 14 1-9 1 51 1-54 1-73 1 44 1-62 1 69 1-53 1 0 1 23 1-13 1-41 1 81 1 29 1-114 1 138 1-61 1 29 1 29 1-11 1 108 1-16 1-57 1 27 1-35 1 66 1 29 1-89 1 42 1 41 1 44 1 23 1-50 1 21 1 51 1-10 1 17 1 50 1 33 1-59 1 0 1 24 1-54 1 53 1-37 1 101 1-44 1 7 1 6 1-71 1 93 1 16 1-49 1 32 1-6 1-58 1 82 1 17 1-60 1-16 1 26 1-51 1 60 1 54 1-65 1 73 1-43 1-48 1 28 1-27 1 48 1-4 1 70 1-49 1 25 1-51 1 3 1 24 1-1 1-13 1-52 1 65 1-26 1 7 1-2 1-25 1-2 1 12 1 21 1 5 1-28 1 51 1-7 1-27 1 42 1-44 1 12 1 0 1-28 1 7 1-63 1 87 1-42 1 17 1-52 1 45 1 20 1 11 1-14 1-95 1 20 1-6 1-2 1 28 1-18 1-26 1 37 1-39 1 16 1-28 1 8 1-30 1 21 1 23 1-67 1 18 1 21 1-43 1 38 1 40 1-1 1-36 1-43 1-14 1 50 1-24 1 43 1 43 1-53 1-17 1 29 1 23 1 12 1-2 1 27 1-55 1 25 1 33 1-16 1-8 1 15 1-4 1 22 1-33 1 32 1 50 1-51 1 48 1-14 1-33 1 42 1-27 1 61 1-70 1 72 1-3 1-59 1 90 1-1 1-65 1 31 1-88 1 54 1-34 1 65 1-69 1-35 1 88 1 44 1-91 1 42 1-25 1-8 1 21 1 36 1-69 1 53 1 3 1-61 1 82 1 15 1-68 1 79 1-49 1-8 1 53 1-24 1-3 1 36 1-17 1-9 1-79 1-3 1 80 1-45 1 23 1-36 1 16 1-28 1 64 1-66 1 8 1 12 1 46 1-61 1 37 1-7 1 21 1-1 1-35 1 37 1-7 1 31 1-41 1-16 1 1 1 26 1 37 1-46 1 1 1 55 1-110 1 9 1 1 1 36 1 99 1-71 1 4 1-61 1-57 1 3 1 121 1-12 1-38 1 47 1-69 1 83 1 3 1-54 1-27 1 61 1-64 1 81 1-58 1 54 1-24 1-6 1-5 1 29 1-63 1 40 1-5 1 27 1-45 1 56 1-66 1-25 1 94 1 10 1-63 1-13 1 25 1-16 1-1 1 56 1-41 1 4 1-5 1-14 1 20 1-1 1-47 1 11 1 77 1-44 1-22 1 53 1-30 1-44 1 55 1-89 1 16 1 40 1-1 1-11 1-16 1 13 1 44 1-66 1-10 1 65 1-63 1 46 1-7 1-59 1-62 1 20 1-8 1-13 1-46 1-26 1-71 1-162 1 22 1-115 1-109 1-119 1-11 1-99 1-119 1 69 1 27 1 63 1 76 1 75 1 175 1 49 1 95 1 64 1 27 1 101 1 14 1-12 1-6 1 49 1 61 1 9 1 5 1-13 1-7 1 36 1-50 1 92 1-80 1 27 1 74 1-48 1-28 1-43 1-33 1 58 1 23 1-49 1 63 1-45 1 7 1 44 1-8 1 25 1-21 1-16 1-13 1 11 1 6 1-8 1 61 1 6 1-50 1 119 1-124 1-9 1 70 1-9 1-57 1 1 1 2 1 63 1-48 1-4 1 25 1 34 1-67 1 34 1-44 1 110 1-24 1-23 1-38 1 21 1-60 1 54 1-45 1-12 1 46 1 1 1 39 1-29 1 1 1-46 1 65 1-34 1 18 1-80 1-35 1 84 1 79 1-54 1-32 1 29 1-36 1 12 1-9 1 11 1-17 1-52 1-6 1-22 1-27 1-83 1-68 1-84 1-34 1-149 1-67 1-11 1-71 1 77 1 111 1 122 1 28 1 100 1 75 1 37 1 87 1-27 1-15 1 76 1-41 1 13 1 30 1-16 1 52 1-60 1 60 1 18 1 0 1-25 1-17 1 20 1-1 1 45 1-58 1 30 1-55 1-4 1-22 1 93 1-66 1 53 1 1 1-6 1 3 1 0 1 23 1-100 1 24 1-31 1 45 1-18 1 4 1 24 1 29 1-50 1-37 1 1 1-104 1-60 1 14 1-14 1 3 1-38 1-173 1 79 1-88 1-90 1-83 1 36 1-98 1-20 1 39 1-3 1 115 1 38 1 72 1 68 1 23 1 130 1-31 1 98 1-35 1 86 1-20 1 42 1 0 1-14 1 31 1 39 1 29 1-46 1-7 1 40 1 20 1-15 1-17 1 60 1-1 1-7 1-57 1 31 1 2 1-28 1 56 1-31 1-17 1 71" transform="translate(207.90,0) scale(1.0364,0.1)" vector-effect="non-scaling-stroke" fill="none" stroke="#000000" stroke-width="4.2" stroke-linejoin="round"/>
<path d="M0 32477l1 29 1-8 1-13 1-62 1 65 1 7 1 42 1-98 1 79 1-60 1-30 1-46 1-1 1-5 1-98 1-13 1-45 1 0 1 36 1 49 1 61 1 66 1-52 1-17 1 59 1 56 1-1 1 12 1-21 1-62 1 6 1-123 1 30 1-21 1-96 1-31 1 40 1 45 1 4 1 38 1-5 1-75 1-5 1 89 1 65 1-42 1 58 1 28 1 17 1 9 1 15 1 23 1-10 1 27 1 38 1-94 1-5 1 61 1 47 1-27 1 11 1-48 1 43 1-34 1 50 1-10 1-10 1 27 1-15 1-25 1 46 1-74 1 68 1 39 1-69 1 4 1-37 1 41 1-45 1 55 1-39 1 1 1 11 1-9 1-68 1 86 1-77 1-91 1 60 1 7 1 71 1 66 1-54 1-63 1 74 1 15 1 19 1-69 1 2 1 5 1 9 1 5 1 27 1-47 1 76 1-63 1 18 1-24 1 1 1 34 1 23 1-12 1-22 1-24 1 51 1-68 1 44 1 0 1 22 1-62 1-2 1 83 1-61 1-31 1 6 1 39 1 30 1-25 1 43 1-29 1-4 1 16 1-22 1 28 1-16 1-4 1 14 1-61 1-10 1-2 1 11 1 9 1 44 1-20 1-5 1 34 1-106 1 41 1-39 1 75 1 27 1 5 1-6 1-30 1 70 1-54 1-12 1-26 1 52 1-30 1 14 1 5 1 0 1-36 1 69 1-53 1-2 1 43 1 3 1 3 1-31 1-19 1-18 1-24 1 82 1-56 1 37 1 35 1-28 1 66 1-128 1 16 1 27 1 36 1-28 1-16 1 85 1-51 1-7 1 7 1-41 1 7 1 37 1-34 1 17 1-12 1 23 1-30 1-33 1 97 1-44 1-5 1-61 1 35 1 4 1-37 1 48 1-32 1 22 1-43 1 68 1-2 1 4 1-44 1 3 1 50 1-23 1 3 1 3 1-48 1 90 1-99 1 57 1-20 1-53 1 65 1 0 1-40 1-65 1 9 1-2 1-70 1 22 1-16 1 47 1 58 1-29 1 30 1 52 1 10 1 20 1-16 1-34 1 20 1 4 1 6 1 0 1 19 1-50 1-31 1 12 1-32 1 8 1-71 1 60 1-53 1-13 1-17 1-78 1 120 1-81 1-4 1-42 1 103 1 17 1-27 1 27 1 58 1-11 1 29 1 74 1-26 1-29 1 82 1-60 1-11 1 25 1-12 1 42 1-14 1-20 1 7 1 5 1-12 1 7 1 25 1-19 1-5 1-36 1 17 1 57 1-79 1 89 1 62 1-142 1 90 1-80 1 79 1 39 1-3 1-68 1-45 1-21 1 54 1-14 1 25 1-1 1 13 1 15 1-2 1-51 1 72 1-115 1 106 1-61 1 4 1-11 1-6 1 8 1-10 1-9 1 45 1-39 1 55 1-47 1-21 1 33 1 25 1-63 1 3 1 45 1-67 1 40 1 24 1-34 1-50 1 28 1 45 1 1 1-5 1 11 1-59 1 55 1 17 1-38 1 44 1-42 1 8 1 17 1-48 1 80 1-61 1 16 1 3 1 13 1 8 1-17 1 48 1-30 1-15 1-69 1 70 1-17 1-19 1-22 1 32 1 10 1 41 1 13 1-45 1 39 1-63 1 56 1-11 1-21 1 13 1-16 1-26 1 43 1 35 1-55 1 11 1-21 1-18 1 68 1-60 1 33 1-8 1 0 1-55 1 29 1-48 1 32 1 29 1-97 1 11 1 41 1-23 1 6 1-81 1 62 1-37 1-36 1 33 1 4 1-90 1 26 1 6 1 5 1-62 1 109 1-92 1-32 1-29 1 97 1-49 1-100 1 29 1 73 1-81 1-1 1 37 1-58 1 7 1-37 1 13 1 61 1-35 1 13 1 31 1 82 1-58 1-14 1 16 1 41 1-6 1-24 1 47 1 4 1 34 1-50 1 68 1-49 1-6 1 122 1-36 1 20 1-26 1 28 1-11 1 10 1 12 1-56 1 18 1 69 1-15 1 23 1-11 1-43 1 20 1-17 1 30 1 41 1 47 1 19 1-60 1 22 1 51 1-20 1-7 1-75 1 31 1 27 1-47 1 79 1-63 1 33 1-41 1 9 1 13 1 5 1 7 1 22 1-9 1 33 1-87 1 52 1-3 1 42 1-57 1 24 1-21 1 31 1-41 1-24 1 15 1 45 1 34 1-51 1 54 1-60 1 63 1-14 1-40 1-1 1 81 1-64 1 5 1-31 1 19 1 29 1 9 1-47 1 56 1-31 1-41 1 40 1-28 1 33 1-24 1 10 1-69 1 36 1-52 1 43 1-69 1 70 1 17 1-48 1-3 1-47 1 103 1 16 1-104 1 13 1-17 1-2 1-17 1-62 1 115 1-7 1-26 1 38 1-36 1 42 1-5 1-33 1 44 1-16 1-42 1-38 1 44 1 42 1 0 1 43 1-28 1-8 1 25 1-53 1 19 1-25 1-29 1 26 1 98 1-32 1 10 1-46 1 18 1 57 1-14 1-11 1 58 1-45 1 11 1 29 1-68 1 60 1-48 1 7 1-6 1 43 1-19 1 6 1-19 1 42 1 20 1-19 1-16 1-58 1-29 1 79 1-9 1 19 1-74 1 136 1-93 1 19 1 38 1-71 1 13 1-65 1 11 1 2 1 75 1 7 1-21 1 58 1 11 1-38 1-26 1-14 1 5 1 58 1-24 1-11 1-9 1 30 1-42 1 15 1-26 1 48 1-1 1-60 1 23 1 16 1-36 1 50 1 0 1 7 1-20 1 24 1 14 1-40 1 3 1 9 1 52 1-32 1-21 1 1 1-33 1-13 1 29 1-20 1 77 1-14 1-12 1-39 1-6 1-4 1 64 1 16 1-99 1 35 1 28 1-34 1 11 1-11 1-49 1 95 1-14 1-22 1-2 1-8 1 51 1-47 1 25 1-24 1 8 1-9 1 28 1-7 1 4 1 4 1 5 1-15 1-7 1 26 1-90 1 83 1-32 1 30 1 32 1-37 1 26 1-37 1 19 1-37 1-5 1 47 1-46 1 24 1-3 1 28 1 53 1-83 1-65 1 43 1-49 1 37 1 17 1-13 1 1 1-45 1 58 1-10 1 71 1-8 1-65 1-10 1 7 1 25 1-51 1 38 1 50 1-66 1 20 1-33 1-44 1 51 1-12 1-5 1-1 1-22 1-106 1 50 1-85 1-32 1-95 1-53 1-1 1-121 1-84 1-104 1-39 1-47 1-64 1 84 1 79 1 104 1 103 1-10 1 154 1 5 1 94 1 40 1 69 1 89 1-44 1-3 1 57 1 37 1-98 1 37 1 9 1 54 1 11 1-60 1 5 1 25 1-13 1-23 1 13 1-93 1-115 1-31 1 34 1 13 1-57 1 60 1 99 1-58 1 155 1 38 1-86 1 115 1-14 1 51 1-41 1-25 1 5 1 25 1-24 1 10 1-35 1 75 1-37 1 47 1-73 1 2 1-17 1 41 1-27 1 6 1 72 1 3 1-85 1-15 1 73 1-56 1 104 1-101 1 32 1-56 1 24 1 34 1-25 1-5 1 79 1-66 1-46 1-16 1 18 1 59 1-49 1 20 1-17 1 43 1-43 1 22 1 3 1-40 1 17 1 13 1-46 1 92 1 79 1-108 1 3 1-77 1 29 1-66 1 21 1-65 1-78 1 23 1-96 1-85 1-46 1-92 1 4 1-33 1 7 1 112 1 31 1 140 1-22 1 165 1 28 1 16 1 2 1 39 1-27 1 5 1 37 1-26 1 30 1 17 1 23 1-46 1 17 1 2 1 17 1 37 1-82 1 18 1-3 1 8 1 24 1-53 1 20 1 35 1-86 1 0 1 16 1 35 1 9 1-26 1 61 1-54 1 3 1 46 1-25 1-6 1 2 1 0 1-48 1 5 1-38 1 5 1-76 1-2 1-15 1 39 1-103 1-17 1-83 1-14 1-50 1-61 1-26 1-126 1 54 1 93 1-122 1 15 1-21 1 90 1 22 1 114 1 10 1-6 1 82 1 37 1 77 1 36 1-10 1 0 1 42 1 48 1-58 1 98 1-5 1-84 1 119 1-74 1 45 1 29 1-78 1 4 1 21 1-1 1 17 1-20 1-2 1 15 1 23 1-24 1 35 1-12 1-30" transform="translate(207.90,0) scale(1.0364,0.1)" vector-effect="non-scaling-stroke" fill="none" stroke="#404040" stroke-width="4.2" stroke-linejoin="round"/>
<path d="M0 32751l1 10 1-11 1-46 1-12 1 19 1 66 1-34 1 66 1-76 1-52 1-6 1-14 1-42 1-56 1-54 1-100 1 21 1 59 1 14 1 58 1 82 1 51 1 3 1 42 1-48 1 26 1 21 1 13 1 10 1-21 1-138 1 78 1-48 1-54 1 32 1-32 1-28 1-18 1-10 1 38 1-36 1 65 1 23 1 12 1 38 1 29 1-31 1 4 1 41 1 38 1-26 1-24 1 33 1-39 1 42 1 9 1 16 1-33 1 0 1-25 1 37 1 33 1-47 1-6 1 23 1 40 1-12 1 25 1-12 1-36 1 8 1-19 1 53 1 2 1-5 1 26 1-18 1-15 1-13 1 22 1-61 1-9 1 31 1 32 1-36 1-43 1-23 1-153 1-177 1 3 1 113 1 165 1 74 1 45 1 76 1-67 1 6 1-8 1-88 1 85 1-9 1 30 1-35 1-12 1 54 1-30 1-19 1 0 1 12 1 43 1 23 1-64 1 55 1-15 1 13 1-9 1-66 1 53 1-44 1 43 1-18 1 66 1-13 1-9 1-2 1-28 1 37 1-9 1-17 1-15 1 2 1 8 1 56 1-76 1 11 1 25 1-9 1 28 1-26 1-8 1 27 1-32 1 4 1 10 1-44 1 64 1-75 1 1 1 55 1-52 1-23 1 18 1 27 1 30 1 5 1 11 1-33 1 15 1-21 1-18 1 58 1 3 1 33 1-61 1-42 1 54 1-41 1 45 1-92 1 51 1 10 1 21 1-23 1-37 1-24 1 57 1 36 1 3 1-43 1 25 1-39 1-7 1 88 1-7 1-25 1-14 1 25 1-37 1-25 1 9 1 5 1-9 1 15 1 49 1-29 1-26 1 90 1-23 1-12 1-30 1 11 1-57 1 47 1 10 1-13 1 2 1-50 1 32 1-36 1 56 1 1 1-8 1 20 1-10 1-43 1 46 1-37 1 53 1-16 1-44 1 34 1-78 1 55 1 7 1 6 1-74 1 4 1 16 1-1 1-50 1-89 1-96 1-50 1 1 1 109 1 109 1 86 1-4 1 52 1-60 1 52 1-68 1 29 1-31 1 1 1 3 1 28 1-51 1 46 1-5 1 11 1-23 1-9 1-104 1 17 1-4 1-55 1-14 1-66 1 37 1-50 1-21 1 41 1 33 1-15 1 23 1 58 1-77 1 149 1 33 1-40 1 110 1-14 1 23 1-80 1 59 1 3 1 7 1 19 1 7 1-84 1 69 1-17 1 21 1-16 1 29 1-4 1 39 1-97 1 88 1-41 1 5 1-26 1 54 1-71 1 72 1-13 1-30 1-1 1 28 1-7 1 0 1-23 1-30 1 42 1-51 1 73 1-9 1-37 1-9 1 10 1-17 1 103 1-11 1-71 1 15 1 48 1-31 1-36 1-42 1-8 1 67 1-26 1-45 1 65 1-43 1-3 1 3 1 23 1 67 1-63 1 5 1 43 1 7 1-70 1 93 1-51 1-52 1 101 1-82 1 35 1-55 1-8 1 100 1 3 1-15 1-5 1-27 1-10 1-33 1 40 1-14 1-11 1-13 1 20 1-26 1 53 1-21 1 70 1-63 1 2 1 4 1 13 1-8 1-4 1 62 1-67 1 18 1 65 1-104 1 51 1-23 1-47 1 23 1 50 1-53 1 18 1 25 1-49 1 9 1-27 1-3 1 10 1 12 1 28 1-34 1 78 1-44 1 8 1 12 1-78 1-27 1 24 1-46 1 29 1 22 1-20 1-37 1 16 1 15 1 14 1-52 1 2 1 29 1-67 1-31 1 8 1-36 1 10 1 11 1-29 1-5 1 4 1-32 1 44 1-82 1 26 1 61 1-102 1 14 1-76 1 55 1-24 1 10 1 10 1 24 1-24 1 7 1-29 1 32 1-55 1 51 1-67 1 104 1 36 1-13 1 76 1-87 1 35 1 5 1 13 1 15 1-32 1 35 1 103 1-39 1 40 1-74 1 30 1 44 1-6 1 20 1-13 1 31 1 17 1 46 1-91 1-14 1 59 1 30 1 10 1 1 1-46 1 87 1-50 1-76 1 80 1-26 1 15 1-52 1 37 1 13 1 3 1 42 1 1 1-8 1-2 1-38 1 56 1-38 1 27 1-32 1-35 1-6 1 78 1-43 1-10 1 20 1-73 1 8 1 68 1-5 1-18 1-12 1-11 1 48 1-17 1 48 1 36 1-44 1 9 1-41 1 0 1 38 1-12 1 17 1-3 1-24 1 17 1 17 1 4 1-13 1 5 1-96 1 32 1-48 1 32 1-15 1 88 1-22 1-85 1 39 1 31 1 36 1-19 1-29 1-19 1 19 1-19 1 2 1-41 1 66 1-78 1 12 1 34 1-25 1 45 1-69 1 69 1-74 1 1 1 8 1 31 1-12 1-18 1 83 1-89 1 11 1 6 1-15 1 17 1 13 1-27 1 64 1-37 1 11 1 47 1-33 1 46 1-29 1-5 1 5 1 0 1-90 1 93 1 12 1-1 1-38 1-18 1 26 1 35 1-59 1 30 1 5 1-67 1 77 1 42 1-55 1 13 1-9 1 31 1 14 1 4 1-25 1 15 1-6 1-25 1 61 1-52 1 29 1 91 1-50 1-49 1 11 1-2 1 22 1-42 1 27 1-65 1 62 1-7 1 13 1 36 1-91 1 26 1 8 1 0 1 11 1-42 1-9 1 12 1 31 1 14 1-11 1-53 1 29 1 40 1-7 1-59 1 43 1-3 1-15 1-36 1-6 1 70 1-30 1-11 1 51 1 2 1 6 1 11 1-31 1-41 1 79 1-8 1 6 1 14 1-39 1 6 1-28 1-9 1 2 1 8 1-27 1 43 1-14 1-24 1-61 1 16 1 79 1-15 1 63 1-72 1 10 1-59 1 54 1 17 1 47 1 10 1-36 1-79 1 32 1-4 1-23 1 45 1 23 1-69 1 58 1 16 1-51 1 71 1 7 1-43 1 29 1-30 1 43 1-4 1-41 1 2 1-18 1-27 1-19 1 12 1-4 1 86 1-107 1 49 1-20 1-4 1 60 1-41 1 71 1-39 1 33 1-24 1 21 1-9 1-42 1 6 1 53 1-86 1 53 1-55 1 21 1-12 1 6 1-31 1 18 1 28 1-35 1 2 1-6 1 19 1-33 1-5 1 75 1-42 1-32 1 48 1 5 1-68 1 14 1-53 1-39 1 45 1 31 1-173 1-72 1 3 1-87 1-100 1-23 1-169 1-65 1-21 1-19 1 83 1 28 1 116 1 59 1-2 1 137 1 20 1 74 1-3 1 149 1 5 1 39 1 18 1-8 1-15 1-23 1 104 1-28 1 3 1 39 1-35 1 11 1-1 1-16 1-57 1 66 1-30 1 16 1-103 1-12 1 9 1 5 1 11 1 46 1 25 1 7 1-5 1 30 1 13 1-12 1 68 1 56 1-23 1-126 1 5 1 56 1-27 1 4 1-1 1 23 1-26 1 46 1-38 1 45 1 46 1-36 1-48 1 16 1-4 1 8 1 10 1 52 1-38 1 21 1-20 1-18 1 0 1 41 1-9 1-10 1-13 1-31 1 60 1-9 1-51 1 24 1 7 1-59 1 36 1-3 1 17 1 14 1-67 1 56 1-46 1 37 1 18 1-3 1-28 1 53 1-90 1-45 1 66 1-79 1 81 1-61 1-16 1-46 1-46 1-113 1-41 1-32 1-95 1 0 1-47 1 57 1 78 1 79 1 15 1 35 1 41 1 150 1-49 1 23 1 21 1 59 1-44 1 67 1-49 1-13 1 27 1-10 1 14 1 14 1-18 1-17 1 28 1-7 1 0 1-74 1 26 1 78 1-23 1-10 1 11 1 4 1-5 1-1 1 25 1-24 1 0 1-57 1 62 1-46 1-4 1-3 1-3 1 39 1-7 1-25 1-47 1-10 1-21 1 51 1-45 1-62 1-12 1 13 1-82 1-16 1-18 1-17 1-132 1-20 1-59 1 11 1 1 1-57 1 9 1 61 1-30 1 88 1 11 1 43 1 36 1 74 1 126 1 35 1-25 1 53 1-22 1 11 1-3 1 77 1 10 1 16 1-48 1 21 1-19 1 68 1-6 1-10 1-1 1-11 1 10 1 33 1-46 1 22 1-12 1-31 1-2 1 18 1 19 1-43" transform="translate(207.90,0) scale(1.0364,0.1)" vector-effect="non-scaling-stroke" fill="none" stroke="#808080" stroke-width="4.2" stroke-linejoin="round"/>
<path d="M0 33065l1 21 1-55 1-18 1-12 1 4 1-12 1-46 1 76 1-19 1-55 1-24 1-18 1-56 1-97 1-89 1-8 1 10 1 86 1-63 1 87 1 28 1 61 1 155 1-89 1 30 1-18 1 53 1-27 1-50 1 56 1-30 1-50 1-24 1-49 1-35 1-14 1-95 1-18 1-13 1 49 1 57 1-24 1 80 1-25 1 8 1 6 1 83 1-15 1 88 1-38 1 21 1-4 1-15 1 61 1 7 1 18 1 35 1-90 1 54 1 20 1 2 1-26 1-17 1 61 1 0 1 30 1 0 1-64 1 35 1-45 1-45 1 51 1 42 1-111 1 101 1-74 1 54 1-8 1 0 1 65 1-60 1 71 1-108 1 8 1-30 1 18 1-141 1-138 1-193 1-27 1 156 1 217 1 83 1 55 1-3 1 49 1-38 1-26 1-2 1 13 1 37 1 14 1-22 1 36 1-87 1 53 1 35 1-19 1 24 1-28 1 21 1-8 1-17 1 18 1 14 1-72 1 18 1-43 1 12 1 10 1 44 1 31 1 28 1-4 1-72 1 11 1 28 1-43 1 10 1-30 1 88 1-23 1-47 1-15 1 10 1 35 1-31 1-33 1 47 1 25 1 10 1-17 1-20 1 7 1 27 1 16 1-16 1-59 1 3 1 21 1 28 1-37 1-1 1 50 1 15 1-66 1 23 1 21 1-33 1 32 1-42 1 48 1 47 1 8 1-32 1-92 1 12 1 6 1 41 1-8 1 10 1 11 1-28 1 17 1-28 1 40 1-53 1 39 1 7 1 37 1-56 1 30 1-60 1 69 1-42 1-1 1-20 1 26 1 18 1-18 1 42 1-80 1 48 1-4 1-52 1-22 1 92 1-82 1 24 1 20 1 32 1-25 1-20 1 62 1-22 1 35 1-100 1 40 1 28 1 32 1-33 1-12 1 57 1-51 1 18 1-7 1-14 1 35 1-82 1 62 1-86 1 37 1 39 1-15 1-3 1 25 1 10 1-70 1-64 1-88 1-102 1-19 1-35 1 70 1 54 1 103 1-12 1 50 1-10 1 55 1-1 1 49 1-63 1 19 1 3 1 3 1-84 1 71 1-15 1 62 1-47 1-16 1-82 1 21 1 16 1-34 1-37 1-42 1-28 1-53 1 4 1-86 1 67 1 69 1 34 1-23 1 42 1 79 1 33 1-12 1 7 1 30 1 52 1-46 1-27 1 78 1-65 1 55 1-34 1 9 1 72 1-38 1-51 1 41 1-10 1-1 1 23 1-20 1 13 1 4 1-13 1-10 1-27 1-35 1 109 1-57 1 33 1 4 1 5 1-22 1-7 1 43 1 41 1 6 1-100 1 53 1-73 1 39 1 12 1-30 1 73 1-27 1-8 1-67 1 44 1 38 1-71 1-26 1 51 1 70 1-33 1-26 1-16 1 38 1-110 1 31 1 89 1-33 1-32 1 2 1-50 1 61 1 3 1 16 1 72 1-4 1-64 1 29 1-34 1 26 1-30 1 89 1-95 1 39 1 11 1-34 1-66 1 54 1 34 1-8 1-20 1 7 1-6 1 34 1-77 1 72 1-25 1 5 1-44 1 88 1-104 1 104 1-35 1 16 1 52 1-79 1 24 1 13 1-55 1 85 1-17 1-35 1-10 1-43 1 34 1 26 1 4 1-32 1-25 1-4 1-15 1 25 1 31 1-43 1-21 1-14 1 42 1-18 1-47 1 73 1-31 1-42 1-3 1 29 1-9 1 51 1 5 1-26 1-35 1 12 1-8 1 23 1-107 1 34 1-26 1-28 1 31 1 33 1-73 1 54 1-40 1 3 1-2 1-68 1 41 1-69 1 21 1-61 1 72 1-15 1-29 1-6 1 6 1 30 1-20 1-29 1-19 1-24 1 24 1-20 1 45 1 86 1-48 1 10 1-22 1 54 1-13 1 27 1-44 1 10 1 35 1-28 1 58 1 18 1 26 1 40 1 14 1-15 1-31 1 27 1 27 1-6 1-16 1-27 1 41 1-39 1 27 1 36 1 44 1-30 1 16 1-19 1-11 1 67 1-32 1 35 1-26 1-71 1-17 1-48 1 127 1 10 1-18 1-9 1 20 1-3 1 9 1-9 1-31 1 79 1-5 1-29 1 64 1-1 1-49 1 19 1-28 1 23 1-72 1 3 1 25 1-37 1-31 1 106 1 23 1 0 1-84 1 63 1-54 1 7 1 29 1 11 1-45 1 8 1-24 1 35 1-20 1 21 1 43 1-38 1 5 1 9 1 25 1-11 1-81 1-17 1 88 1-3 1 26 1-14 1 24 1-36 1-61 1 34 1-67 1 32 1 30 1-25 1 22 1-39 1 51 1-114 1 61 1-37 1 76 1-65 1 38 1-118 1 41 1 78 1-61 1 20 1 26 1 57 1-100 1 22 1-28 1 16 1-23 1-19 1 14 1 61 1-1 1 15 1-94 1 35 1 19 1 50 1-25 1-8 1-24 1 46 1-16 1 68 1 26 1-54 1-54 1 102 1-43 1 31 1-11 1 14 1-16 1-8 1-45 1 19 1 22 1 5 1 19 1 21 1-70 1 7 1 6 1 37 1-1 1 70 1-71 1-26 1-38 1 95 1-18 1-21 1-28 1 25 1 7 1 56 1-74 1 9 1 7 1 44 1 3 1 13 1-5 1-18 1-30 1 10 1 6 1 14 1-57 1 8 1-18 1-8 1 103 1 9 1-19 1-11 1 18 1-88 1 83 1-92 1 73 1-18 1 8 1-20 1 22 1-25 1 2 1-14 1 11 1-19 1-43 1 78 1-39 1 19 1-11 1 3 1 57 1-32 1-37 1-7 1-13 1-9 1 78 1-1 1-75 1 91 1 21 1-92 1 67 1-13 1 37 1-120 1 100 1-34 1 14 1-9 1-92 1 78 1 5 1 27 1 9 1-10 1-29 1 38 1-47 1 14 1-31 1 10 1 23 1-38 1 29 1-22 1 61 1 2 1-77 1-23 1 79 1-16 1-14 1 85 1-77 1-1 1 17 1 5 1 28 1-19 1-33 1 25 1 41 1-104 1 18 1 43 1-44 1 7 1-27 1 41 1-10 1 26 1 16 1-9 1-2 1-34 1 34 1-22 1 52 1-33 1-22 1-20 1 35 1-85 1 64 1 38 1-31 1 5 1-23 1 39 1-42 1-62 1-54 1 46 1 35 1 3 1-39 1-32 1-61 1-28 1-60 1-35 1-79 1-29 1-147 1-65 1-38 1-38 1-92 1-54 1 51 1 103 1 106 1 69 1 103 1 83 1-5 1 159 1 68 1-41 1 18 1 18 1 17 1 48 1 16 1 5 1 14 1 62 1-74 1 24 1-47 1 39 1-36 1-51 1 22 1 49 1-43 1 20 1-56 1-58 1 1 1 36 1-9 1 43 1 35 1 17 1 46 1-70 1 88 1-16 1 26 1-17 1-5 1 1 1 15 1-15 1-1 1 12 1 9 1 24 1-18 1-7 1-101 1 29 1 44 1 43 1 4 1-23 1-42 1 44 1 7 1 3 1-39 1-32 1-4 1-1 1 75 1-16 1 47 1-31 1-23 1-24 1 42 1 3 1-73 1 14 1 3 1 66 1-60 1-31 1 56 1 32 1-58 1 80 1-89 1 76 1-38 1-43 1-3 1 6 1-26 1 50 1-21 1-55 1 0 1-48 1 13 1-9 1-88 1-30 1-99 1-83 1 32 1-52 1-18 1 11 1 48 1 108 1 47 1 138 1 13 1-53 1 58 1 53 1-21 1-33 1 96 1-38 1 39 1-14 1 30 1-30 1 77 1-92 1 67 1-5 1-31 1-35 1 89 1-1 1-78 1-37 1 50 1 25 1 41 1-29 1-11 1-34 1 16 1-53 1-2 1 12 1 83 1-38 1-55 1 22 1-11 1 19 1-101 1 42 1 31 1-21 1 9 1 34 1-105 1-15 1 24 1 1 1-61 1-48 1-69 1 10 1-59 1-98 1-32 1-75 1 25 1-30 1 51 1 35 1-18 1 91 1 47 1 72 1-31 1 67 1 73 1-6 1 6 1 32 1 104 1-80 1 39 1 43 1 0 1-41 1-12 1 64 1-9 1 87 1-87 1-23 1 24 1-19 1 97 1-64 1 81 1-34 1 48 1-57 1 9 1-91 1 30 1 10" transform="translate(207.90,0) scale(1.0364,0.1)" vector-effect="non-scaling-stroke" fill="none" stroke="#c0c0c0" stroke-width="4.2" stroke-linejoin="round"/>
<path d="M0 33253l1 42 1 20 1-85 1 64 1-17 1-40 1 65 1-42 1-18 1-54 1-31 1-49 1-25 1-107 1-61 1-33 1-2 1 5 1 75 1 63 1 127 1 60 1-25 1 22 1-37 1 32 1-8 1 96 1-19 1-90 1 30 1-54 1-60 1 55 1-65 1-15 1-31 1-60 1 47 1-33 1 1 1 26 1 136 1-68 1 37 1 27 1 46 1-53 1-6 1 105 1-10 1 52 1 57 1-86 1 28 1-36 1 119 1-94 1 11 1-13 1 5 1 37 1-43 1-35 1 32 1 23 1 17 1-12 1-32 1-2 1 77 1-73 1 57 1-56 1 30 1-34 1-30 1 40 1 38 1 6 1-13 1-37 1 8 1-28 1 29 1-14 1-78 1-141 1-111 1-47 1 125 1 117 1 128 1-2 1 2 1-59 1 82 1 7 1-40 1 71 1-9 1-2 1-46 1 6 1 53 1 18 1 19 1-92 1 34 1-39 1 59 1 17 1-25 1 58 1-55 1-20 1-32 1 33 1 30 1-67 1 24 1 40 1-28 1 27 1-44 1 27 1 8 1 0 1 28 1-105 1-29 1 16 1 44 1 30 1 11 1 3 1 1 1-65 1 38 1 20 1-54 1-1 1 0 1 54 1-11 1-16 1 29 1 0 1 25 1-35 1 4 1-10 1 24 1 75 1-126 1 61 1-56 1 15 1-35 1 65 1-27 1 7 1 16 1-73 1 16 1 61 1 43 1-76 1-52 1 3 1 69 1 28 1-58 1-45 1 65 1-63 1 22 1 0 1-11 1 60 1-23 1 53 1 10 1-1 1-4 1-51 1-41 1 52 1 6 1-12 1-34 1 34 1-28 1 64 1 19 1-55 1 7 1 21 1-13 1-6 1-8 1-3 1 47 1-88 1 77 1-56 1 43 1-46 1 1 1 1 1 21 1 40 1-44 1-31 1 3 1 33 1 28 1 26 1-49 1-35 1 21 1 25 1-3 1-53 1 11 1 3 1-40 1-52 1 14 1-94 1-90 1-110 1-88 1 36 1 122 1 137 1 72 1 74 1 17 1 39 1-43 1-15 1 27 1-3 1-20 1-8 1 34 1-23 1-45 1 77 1 4 1-38 1-97 1 48 1 7 1-20 1 13 1-40 1-158 1 73 1-79 1 8 1-47 1 29 1 39 1 93 1 53 1 2 1 39 1-55 1 19 1 96 1-11 1-5 1 28 1-66 1 71 1-56 1 30 1 5 1-14 1-6 1 50 1 0 1-18 1 28 1-13 1 41 1-58 1-21 1 12 1 27 1 28 1 31 1 36 1-93 1-4 1 42 1 30 1-13 1-38 1 5 1-20 1 42 1-80 1 40 1-32 1 60 1-52 1 2 1 6 1 23 1 73 1-52 1-19 1-34 1-2 1-18 1 35 1-3 1-12 1-59 1 39 1-33 1 33 1-30 1 2 1-10 1-13 1 25 1-1 1 26 1-41 1 23 1 42 1 38 1-49 1 23 1 4 1 15 1 8 1-74 1 38 1 15 1-4 1-43 1-2 1 43 1 51 1-23 1 18 1-58 1 24 1-15 1 58 1-34 1-22 1 1 1 25 1 5 1-21 1 36 1-53 1-43 1 71 1-44 1 7 1 45 1-32 1 21 1-7 1-5 1-38 1 57 1-3 1-70 1 64 1 4 1 15 1-26 1-82 1 53 1-28 1 37 1-23 1 98 1-25 1-46 1-9 1-4 1-12 1 29 1-64 1-24 1 64 1-28 1-25 1-14 1-23 1 48 1-48 1 17 1-8 1-20 1 63 1-32 1-41 1-34 1 11 1-28 1-25 1 51 1 8 1-85 1 38 1-11 1-4 1 13 1-4 1-65 1 32 1-47 1-69 1 154 1-59 1-24 1 58 1-27 1-3 1 28 1 13 1-12 1-82 1 100 1-11 1 26 1 22 1 62 1-103 1 77 1-57 1-3 1 23 1 45 1 7 1 16 1 46 1-25 1-12 1-6 1 31 1 28 1-12 1 1 1-21 1 5 1 2 1 11 1 79 1-34 1-1 1-54 1-8 1 48 1-22 1 61 1-31 1 11 1-32 1 63 1-28 1 8 1-22 1 0 1 24 1-56 1 84 1-27 1 17 1-48 1 6 1 2 1 19 1-48 1 54 1 0 1 19 1-43 1 18 1-19 1 5 1 49 1 9 1-51 1 20 1-9 1-17 1-2 1-35 1 31 1-35 1 91 1-75 1 82 1 3 1-52 1-41 1 27 1-26 1 75 1-15 1-28 1-12 1 22 1-11 1 34 1-9 1-34 1 23 1 11 1 5 1-1 1 6 1-63 1-21 1 4 1-26 1 39 1-71 1 42 1-27 1 42 1-46 1 62 1-33 1 39 1 24 1-30 1-6 1-5 1-25 1-80 1 55 1-33 1 14 1 34 1 24 1 25 1-84 1-3 1 51 1 19 1 20 1-6 1-31 1 82 1 8 1-63 1 38 1 3 1 36 1-43 1-5 1-3 1-15 1 13 1-19 1 69 1-14 1-3 1-47 1 36 1 1 1 21 1-45 1 14 1-15 1 77 1-68 1 75 1 5 1-72 1 55 1-21 1-73 1 28 1 57 1-2 1-3 1-8 1 28 1-19 1-43 1-1 1 14 1 0 1 21 1-8 1-15 1 13 1-9 1 30 1-10 1 1 1-53 1 24 1 0 1-52 1 89 1-79 1 74 1 29 1-3 1-48 1-65 1 90 1-10 1 18 1-31 1 44 1-20 1-14 1 58 1-73 1-41 1 67 1-4 1-12 1-31 1 40 1-31 1 10 1 18 1-22 1 37 1-32 1 22 1 1 1 39 1-33 1-36 1 29 1 27 1-49 1-37 1-1 1 7 1 69 1-18 1 19 1-10 1-39 1 33 1-15 1 30 1-58 1 54 1-18 1-18 1 21 1-42 1 38 1-85 1 53 1-35 1 80 1-41 1 22 1-109 1 84 1-25 1 87 1-21 1 1 1-20 1-2 1-5 1 33 1-16 1-49 1-22 1 87 1-26 1-1 1 83 1-66 1-3 1-49 1 6 1 52 1-39 1 41 1-43 1 50 1-16 1-12 1-28 1 76 1-46 1-13 1 25 1-50 1 77 1-18 1-8 1-8 1-36 1-3 1 16 1-31 1 62 1-12 1 22 1-83 1 70 1-85 1-24 1 12 1 59 1-21 1-11 1 14 1-35 1-37 1-45 1-67 1-49 1-133 1-17 1-117 1-9 1-72 1-118 1-72 1-3 1-66 1 62 1 113 1 27 1 97 1 99 1 102 1 91 1 11 1 72 1 34 1 17 1 39 1-61 1-40 1 98 1 80 1-48 1 52 1-33 1-25 1 30 1-47 1 97 1-37 1 14 1-18 1-58 1-8 1 16 1-56 1-52 1 0 1 68 1 20 1 78 1-32 1 17 1 44 1-30 1-7 1 32 1-3 1 26 1 22 1-17 1-46 1 59 1-43 1 70 1-13 1-47 1 10 1-35 1 9 1 24 1 16 1 8 1-64 1 1 1 3 1 12 1 17 1-30 1 52 1-68 1 101 1-61 1 26 1-55 1 74 1-76 1 88 1-54 1 25 1-16 1 12 1 11 1 9 1-21 1-48 1-27 1 55 1 4 1-20 1 2 1 11 1-11 1-49 1-19 1-16 1 47 1 19 1-22 1 75 1-8 1-104 1-5 1-79 1-45 1-64 1-49 1 8 1-57 1-85 1 7 1 8 1 79 1 82 1 57 1 5 1 117 1-23 1 66 1 41 1-42 1 25 1 52 1-17 1-67 1 88 1-40 1 10 1 40 1-21 1 16 1-4 1 59 1-49 1-8 1-6 1-12 1 2 1-37 1 48 1-29 1 7 1 14 1 16 1-12 1-111 1 128 1-37 1-14 1 32 1-59 1-3 1-28 1 29 1 51 1-48 1-20 1 37 1-49 1 6 1-15 1 11 1-60 1-10 1-19 1-82 1 12 1-82 1-22 1-50 1-46 1-62 1 35 1-67 1-17 1-44 1 37 1 116 1-59 1 136 1-6 1 82 1-23 1 102 1 25 1-48 1 61 1 70 1 50 1-5 1-26 1 17 1-11 1 21 1 51 1-19 1 40 1-19 1 5 1-24 1 14 1 67 1-106 1 35 1-20 1 36 1 10 1-17 1 37 1 1" transform="translate(207.90,0) scale(1.0364,0.1)" vector-effect="non-scaling-stroke" fill="none" stroke="#00ffff" stroke-width="4.2" stroke-linejoin="round"/>
<path d="M0 33532l1-55 1 18 1-35 1 63 1 13 1-43 1 23 1-14 1 7 1-42 1-74 1 64 1-21 1-70 1-20 1-42 1 3 1-22 1 134 1-62 1 67 1 14 1 54 1 3 1 14 1-68 1 15 1 35 1-32 1-28 1 29 1-46 1 11 1-3 1-45 1-7 1 6 1-87 1 7 1-20 1 47 1 6 1-15 1 60 1 65 1-57 1 98 1 19 1-55 1-5 1 24 1 69 1-55 1 24 1 10 1 4 1 58 1-51 1-47 1 38 1 14 1-26 1 35 1-35 1-18 1 2 1 51 1-36 1-39 1 63 1-19 1-55 1 55 1-23 1 39 1 75 1-28 1-49 1-42 1-8 1 29 1 26 1 31 1-50 1 28 1-48 1-83 1-21 1-146 1-166 1 23 1 114 1 171 1 107 1 30 1 15 1 6 1-17 1-21 1 1 1 2 1 13 1 5 1 45 1-11 1-7 1-6 1-14 1-34 1 2 1 45 1-38 1 37 1-79 1 90 1-23 1-19 1 9 1-10 1 38 1-1 1-15 1 0 1 29 1-11 1-1 1-26 1-17 1-9 1 20 1-34 1 25 1 73 1-28 1 4 1-31 1 30 1-17 1 27 1 7 1-11 1 16 1-49 1 7 1 34 1-36 1 25 1 37 1-55 1 9 1-25 1-6 1-38 1 59 1 34 1-16 1 27 1-58 1 24 1 5 1 14 1-9 1 10 1 13 1-88 1 47 1 26 1-24 1 6 1-55 1 23 1 30 1-43 1 110 1-14 1-14 1-25 1 2 1-24 1-7 1-43 1 77 1-6 1-45 1 16 1 16 1-63 1 25 1-40 1 50 1 9 1-51 1 49 1 36 1-11 1 20 1-11 1-6 1-31 1-10 1 32 1-2 1 3 1 2 1-27 1-12 1 48 1 45 1-13 1 2 1-42 1-2 1 8 1-45 1 62 1-16 1 24 1-23 1-26 1 2 1 13 1-55 1 27 1-7 1-7 1-10 1-13 1-22 1-63 1-8 1-110 1-83 1-12 1 24 1 102 1 132 1 41 1-13 1-15 1 33 1 51 1-50 1 34 1 0 1-59 1 57 1-32 1-4 1 7 1 12 1-7 1-17 1-19 1-22 1 35 1-33 1-110 1 14 1 24 1-36 1 8 1 2 1-40 1 66 1-23 1 57 1 6 1 7 1 44 1-22 1 43 1 2 1 70 1-61 1 24 1-29 1 7 1 40 1-35 1 24 1 37 1-21 1-10 1 9 1 38 1 16 1-43 1-14 1 4 1-27 1 37 1 3 1 37 1-56 1 25 1-13 1-19 1-5 1 16 1-47 1 27 1-5 1 31 1-9 1-4 1 28 1 29 1-13 1-54 1 20 1-33 1 57 1-5 1-30 1 29 1 34 1 17 1-55 1-21 1-29 1 41 1-5 1-1 1 2 1-51 1 2 1 9 1-24 1 33 1 4 1 7 1 15 1-19 1-11 1 25 1-6 1 24 1-65 1 49 1-33 1 8 1 24 1 6 1 4 1-10 1 43 1 2 1-36 1 23 1-16 1-27 1 40 1-5 1-30 1-16 1 3 1 23 1-7 1-60 1 34 1 27 1 14 1 34 1-2 1-29 1-23 1 55 1-77 1 43 1 58 1-38 1-26 1-9 1 39 1 41 1-80 1-22 1 23 1 26 1-29 1-15 1 27 1-23 1 42 1-25 1-6 1-20 1 7 1-55 1 58 1-4 1-13 1-33 1 64 1-60 1 12 1-26 1 23 1-4 1-32 1 4 1 34 1-60 1 31 1-51 1 31 1-88 1-10 1 46 1 27 1-56 1 1 1 3 1-32 1-33 1 14 1 14 1 48 1-18 1-81 1 75 1-24 1-24 1-2 1 23 1-37 1-3 1 28 1 25 1-39 1-2 1-6 1 32 1-44 1 50 1 20 1 86 1-23 1 28 1-88 1 3 1 49 1-20 1 48 1 40 1-2 1 24 1-40 1 6 1 10 1 43 1-12 1 8 1-30 1 15 1-2 1 9 1-48 1 18 1 10 1 42 1 19 1-49 1 54 1-25 1-1 1 33 1-14 1-14 1 13 1-26 1 58 1-22 1 33 1-54 1-13 1 73 1-1 1-47 1 45 1-49 1 40 1-27 1-37 1 6 1 19 1-64 1 103 1-28 1 30 1-87 1 81 1-19 1-34 1 79 1-35 1-40 1 14 1 59 1 30 1-35 1-50 1 53 1-51 1 75 1-11 1-16 1-15 1 15 1 5 1 14 1-54 1-17 1 55 1-11 1-43 1 28 1-40 1 57 1-51 1-4 1 0 1 15 1-12 1-31 1-8 1-11 1 16 1 72 1-53 1-13 1-13 1-19 1 6 1-5 1 75 1-40 1 0 1 30 1-51 1 33 1-31 1 31 1 47 1-92 1 43 1-68 1 33 1-33 1 39 1-32 1-6 1 66 1-1 1 13 1-18 1-3 1-3 1-20 1 18 1-24 1 70 1 22 1-37 1 41 1-22 1 3 1 77 1-67 1 27 1-50 1 36 1 18 1-90 1-9 1 23 1 22 1 25 1 0 1 7 1-12 1-15 1 51 1-44 1-26 1-4 1 28 1-31 1 38 1-6 1-19 1 23 1 13 1 11 1-42 1 11 1-10 1-8 1 7 1 92 1-41 1-4 1-1 1-63 1 10 1 62 1-2 1 31 1-31 1 9 1-23 1-3 1-6 1 5 1-20 1-2 1 7 1 7 1 21 1-13 1-60 1 28 1 11 1 19 1-16 1-1 1 11 1 3 1 22 1-73 1 28 1-18 1 79 1-34 1-14 1-26 1 30 1 8 1 25 1-57 1 48 1-28 1 43 1 21 1-51 1 2 1-70 1 60 1-30 1 34 1 39 1-86 1 85 1-54 1 46 1-20 1 36 1-49 1 6 1-69 1 97 1-9 1-40 1-9 1 4 1 24 1 39 1-21 1 9 1 0 1-6 1-4 1-6 1-28 1 36 1-41 1 11 1 19 1-42 1 35 1-38 1 22 1 128 1-120 1 45 1-53 1-2 1-8 1 30 1-50 1 13 1 45 1-69 1-20 1 52 1 38 1-15 1 27 1-13 1-37 1-17 1 24 1 19 1-3 1-18 1 10 1-15 1 24 1-7 1 44 1-38 1-3 1-52 1-6 1 44 1-17 1 53 1-95 1 11 1 31 1-87 1 14 1-28 1-40 1 4 1-12 1-23 1-54 1-65 1-64 1-27 1-80 1-22 1-91 1-73 1 19 1 9 1 57 1 81 1 108 1 27 1 61 1 46 1 61 1 123 1-34 1 21 1 67 1-56 1 6 1 16 1-48 1 21 1 146 1-92 1-41 1 41 1 22 1 0 1-33 1-31 1 20 1 6 1-69 1-35 1-2 1-35 1 100 1-4 1 4 1 31 1 47 1-25 1-1 1 61 1-75 1 46 1 46 1 14 1-23 1-5 1-28 1-32 1 18 1 72 1 0 1 33 1-47 1-35 1 0 1 73 1-61 1 36 1-57 1 19 1-18 1 0 1-2 1-12 1 29 1 31 1-31 1-36 1 47 1-57 1 66 1 54 1-128 1 28 1 29 1 19 1 15 1-46 1 61 1-10 1-54 1-3 1-22 1 35 1 38 1-77 1 60 1-15 1-1 1-38 1 36 1-31 1-31 1-50 1 36 1 4 1 45 1-14 1-21 1-60 1-77 1-64 1 3 1-90 1-17 1 55 1 52 1 1 1 34 1 121 1 5 1-4 1 30 1 44 1-29 1 54 1-30 1 26 1-7 1-70 1 82 1-2 1-10 1 19 1-18 1 44 1-49 1 10 1-66 1 95 1-35 1 3 1-31 1 13 1 40 1-89 1 123 1-60 1-8 1 10 1 46 1-52 1 12 1-56 1 29 1 42 1-60 1-57 1 39 1 0 1 11 1 17 1 18 1-28 1 35 1-47 1-3 1-45 1 51 1-56 1 27 1-125 1 50 1-99 1 20 1-80 1-51 1-18 1-143 1 46 1 32 1-29 1-44 1 103 1 9 1 55 1 22 1 71 1 54 1 12 1 80 1-39 1 108 1-71 1 17 1 21 1 42 1 22 1-65 1 67 1 6 1 69 1-86 1-19 1-22 1 59 1 31 1 8 1-13 1-30 1 29 1-8 1 51 1-79 1-29" transform="translate(207.90,0) scale(1.0364,0.1)" vector-effect="non-scaling-stroke" fill="none" stroke="#00ffff" stroke-width="4.2" stroke-linejoin="round"/>
<path d="M0 33824l1-9 1-23 1 27 1-46 1 8 1 6 1-2 1 12 1-23 1-42 1-42 1 13 1 9 1-30 1-68 1-52 1-12 1-13 1 64 1 62 1 31 1 41 1 29 1-4 1 61 1-59 1 14 1-16 1-2 1-44 1 12 1-38 1-7 1 17 1-17 1-25 1-49 1 46 1-54 1 43 1-52 1 32 1 57 1-34 1 23 1 71 1 31 1-6 1 3 1 1 1 41 1 12 1-51 1-29 1 83 1-32 1-6 1 6 1 39 1-57 1 29 1 35 1-28 1-11 1-21 1-5 1 62 1-45 1 18 1 2 1-35 1 10 1 23 1-10 1 38 1 15 1 2 1-61 1 43 1-30 1-8 1-51 1 50 1 32 1-1 1-46 1-9 1-21 1-49 1-127 1-81 1 33 1 148 1 111 1 19 1 17 1 3 1-45 1 42 1 30 1-20 1-23 1-13 1 2 1 39 1-41 1 33 1 12 1-9 1-32 1 16 1-34 1 10 1 42 1 2 1-56 1 5 1 36 1-22 1 48 1 6 1-9 1 21 1-59 1 9 1-18 1 0 1 30 1 5 1-23 1 1 1-14 1 11 1-26 1 64 1-22 1-5 1 9 1 19 1-19 1 7 1-25 1 33 1-15 1-21 1 13 1 14 1 41 1-37 1 11 1-52 1 23 1-29 1 15 1 22 1-26 1 81 1-79 1 13 1 39 1-16 1-61 1 67 1 11 1-54 1 10 1-8 1 3 1 60 1-28 1-38 1-17 1 43 1-13 1-10 1 24 1-30 1 14 1 1 1 40 1-26 1-31 1 11 1 45 1-1 1-33 1-10 1 17 1-9 1 9 1-3 1-51 1 68 1-38 1 23 1 36 1-55 1 22 1-13 1-6 1-1 1 16 1-5 1 50 1-43 1-22 1 26 1-23 1 30 1-6 1-18 1 37 1-4 1-26 1-54 1-4 1 50 1 5 1-18 1 29 1-15 1 19 1-8 1 20 1-53 1-6 1 22 1-15 1-73 1-25 1-19 1-59 1-64 1 22 1 53 1 71 1 73 1 28 1-11 1 56 1-33 1-20 1 52 1-34 1-26 1-2 1 17 1 1 1-40 1 3 1-24 1 50 1-20 1-53 1 15 1-60 1-49 1 36 1 23 1-44 1-31 1 17 1 0 1 49 1 7 1-7 1 50 1 44 1-15 1 32 1-7 1-4 1 7 1 50 1-3 1 23 1-63 1 24 1-53 1 88 1-32 1 9 1-31 1 16 1-19 1 8 1 28 1 0 1-9 1 1 1 31 1-4 1 23 1-61 1 0 1 18 1 15 1-63 1 39 1-20 1 20 1 3 1-1 1 0 1 23 1 14 1-57 1 29 1 6 1-14 1 13 1 6 1 1 1 29 1-45 1 34 1-97 1 70 1-19 1-13 1 2 1 6 1 14 1-13 1 30 1-35 1 29 1-4 1 5 1-22 1 29 1-34 1 1 1 4 1-4 1 1 1-9 1-21 1 9 1 19 1-37 1 62 1 32 1-6 1-49 1-17 1 23 1-25 1 28 1-11 1 21 1 4 1 35 1-13 1 43 1-50 1-24 1-5 1-21 1-11 1 37 1 22 1 23 1-33 1 14 1-9 1-19 1 6 1 1 1-15 1 7 1 14 1-44 1 53 1-40 1 88 1-73 1-2 1-13 1-38 1 79 1-29 1 47 1-22 1-27 1-92 1 50 1 30 1-15 1 34 1 22 1-7 1-48 1-30 1 32 1-9 1-29 1-34 1 52 1 8 1 15 1-16 1-39 1-5 1-27 1 51 1-71 1 4 1 28 1-9 1 7 1-37 1-42 1 42 1 1 1 24 1-98 1 15 1-24 1 24 1 10 1-7 1 79 1-66 1-3 1-29 1-35 1 43 1 18 1-2 1-4 1 5 1-9 1 61 1 2 1-19 1 19 1-69 1 53 1 71 1-34 1 39 1-21 1-10 1 6 1-3 1 5 1-3 1 54 1-3 1 15 1-41 1 30 1 37 1-26 1-2 1 3 1 54 1-12 1 17 1 14 1-67 1 19 1-55 1 64 1-23 1 16 1 14 1-50 1 57 1-29 1-7 1 21 1 28 1-28 1 47 1-17 1-14 1-16 1 15 1 39 1-27 1-5 1-3 1 25 1 6 1-12 1-5 1-17 1 7 1-29 1 24 1 38 1-66 1 17 1 26 1-37 1 30 1-2 1-7 1-6 1 7 1 2 1 9 1-12 1 2 1-3 1 3 1-11 1-7 1 8 1-2 1 21 1-2 1-35 1 29 1-5 1 1 1-10 1 0 1-11 1-1 1 4 1-30 1-54 1 72 1-5 1 13 1 20 1-18 1-79 1 63 1-17 1 50 1-69 1 18 1 17 1-79 1 35 1-14 1-8 1 27 1-22 1 11 1 8 1 10 1-4 1 18 1-20 1 42 1-23 1 28 1-5 1 2 1 4 1-36 1-4 1 23 1 0 1 24 1-26 1-21 1 9 1 40 1 49 1-49 1-43 1 58 1-31 1-4 1 86 1-4 1-68 1-2 1 28 1 48 1-7 1-17 1-61 1 13 1 24 1-3 1-29 1 42 1 22 1-72 1 77 1-42 1 36 1-8 1-9 1-4 1-15 1-14 1 18 1 16 1-52 1 22 1-39 1 22 1 11 1 28 1-20 1 9 1-15 1 7 1 29 1-3 1-47 1 35 1 15 1-27 1 1 1 34 1-14 1 20 1-37 1 17 1-5 1 39 1-58 1 12 1-19 1 41 1 14 1 18 1-30 1 25 1-12 1 24 1-35 1-6 1 25 1-29 1-3 1-31 1 28 1 11 1-26 1 42 1-31 1 7 1-9 1-34 1-11 1 42 1 11 1 22 1-57 1 57 1-16 1-19 1 6 1 15 1 27 1-7 1-6 1-52 1 40 1 26 1-3 1-23 1 5 1 9 1-62 1 53 1-44 1 3 1-12 1 44 1 2 1 23 1-35 1-17 1 66 1-39 1-79 1 32 1 20 1 40 1 18 1-69 1 49 1-16 1 4 1-14 1-33 1 11 1 14 1 46 1-39 1 75 1-67 1 18 1-53 1-17 1 54 1-13 1-41 1 55 1-37 1 52 1 16 1-30 1-7 1-16 1 5 1-17 1 37 1-21 1-34 1 46 1 39 1-16 1-39 1-19 1-4 1 44 1-24 1-37 1 16 1 14 1-66 1-30 1-34 1-51 1 43 1-52 1-40 1-50 1-73 1-63 1-29 1-104 1-73 1 30 1 21 1 69 1 82 1 49 1 5 1 33 1 74 1 82 1 48 1 38 1 31 1 56 1-61 1 49 1-19 1 19 1 6 1 39 1-6 1 2 1 10 1-69 1 38 1 39 1-2 1-18 1-33 1 63 1-65 1 16 1-40 1 2 1 48 1-45 1 44 1-11 1 5 1 22 1 9 1 2 1 3 1-50 1 29 1 2 1-8 1 74 1-57 1-16 1-21 1-7 1 44 1-19 1-13 1 16 1 30 1-1 1 2 1 7 1-33 1-9 1 10 1 1 1-16 1 18 1-28 1 40 1 6 1-23 1 36 1 9 1-101 1 50 1 23 1 24 1-56 1 21 1 9 1-5 1-19 1 13 1-7 1 17 1-16 1-2 1-75 1 29 1 22 1 18 1 28 1-18 1 36 1-7 1-48 1 3 1-42 1-28 1 16 1-6 1-23 1-69 1-58 1-14 1 0 1-64 1 79 1-29 1 59 1 34 1 90 1-61 1 82 1 12 1 41 1-6 1-37 1-23 1-14 1 58 1 35 1-7 1-31 1 13 1-40 1 66 1 23 1 1 1 4 1-1 1-74 1-19 1 20 1 2 1-6 1 35 1-27 1 66 1-26 1-61 1 40 1-16 1-1 1 43 1-35 1-17 1 35 1 28 1-68 1 49 1-16 1 32 1-44 1 13 1-83 1 41 1-16 1 44 1 20 1-23 1-45 1-75 1-3 1-2 1-22 1-27 1-37 1-13 1 17 1-103 1-6 1-1 1 42 1-47 1-3 1 48 1 11 1 60 1-23 1 71 1 15 1 101 1-73 1 38 1 26 1 1 1 4 1 16 1 28 1 31 1-10 1 4 1-42 1 31 1 38 1-27 1-12 1-2 1 34 1-20 1 17 1-35 1 21 1-6 1 2 1-19" transform="translate(207.90,0) scale(1.0364,0.1)" vector-effect="non-scaling-stroke" fill="none" stroke="#0000e6" stroke-width="4.2" stroke-linejoin="round"/>
<path d="M0 34065l1-14 1-4 1-23 1 54 1-6 1-5 1 17 1 9 1-26 1 8 1-9 1-80 1 5 1-11 1-70 1 78 1-37 1 43 1-44 1 38 1 42 1-30 1 84 1-56 1 25 1-18 1-20 1 20 1 3 1-40 1 6 1 10 1-28 1-38 1-33 1-4 1-57 1-22 1 2 1 22 1-20 1 43 1 19 1 63 1-16 1 75 1-13 1-12 1 60 1 1 1 5 1-18 1 50 1-26 1-9 1 9 1 27 1-13 1-6 1-35 1 43 1-2 1 23 1 46 1-57 1-20 1-22 1 8 1-6 1 38 1 29 1-36 1 1 1 16 1-28 1 2 1 17 1-1 1-30 1-4 1 9 1 2 1 30 1-17 1-6 1 42 1-20 1-10 1-17 1-16 1-11 1 46 1-15 1 9 1 29 1-66 1 7 1-1 1 26 1 9 1 11 1-27 1 44 1-23 1 27 1 6 1-19 1-31 1 23 1 18 1 9 1-45 1-12 1 11 1 5 1-12 1-9 1-16 1-12 1 24 1-16 1 58 1-23 1 16 1 15 1-2 1-14 1 35 1-33 1 10 1-23 1 5 1-6 1-2 1 1 1 30 1-26 1 9 1 12 1-62 1 7 1 59 1-11 1-18 1-15 1 46 1-11 1-18 1-30 1 37 1-22 1 12 1-22 1 34 1-37 1 24 1 44 1-69 1 19 1-25 1 70 1-6 1-14 1-8 1 11 1 1 1 7 1 16 1-4 1 22 1-74 1 10 1 20 1 13 1-30 1 42 1-16 1 17 1-36 1 43 1-35 1 5 1 0 1-14 1 0 1 40 1-57 1 33 1 24 1-5 1-27 1-35 1 50 1-48 1 24 1-14 1-3 1-3 1 8 1-27 1 75 1-40 1 32 1 2 1-21 1 18 1-25 1 2 1-10 1 10 1-6 1-6 1-6 1-20 1 44 1-19 1 20 1-25 1 18 1-12 1 35 1-11 1-1 1 22 1-56 1-22 1-6 1-2 1-47 1-60 1-104 1-72 1-6 1 34 1 104 1 57 1 82 1 73 1-61 1 39 1 6 1 14 1-30 1 8 1-40 1 15 1-28 1 65 1-20 1-14 1 50 1-42 1-35 1 14 1-6 1-41 1 21 1 0 1-74 1 2 1 25 1-10 1 33 1-13 1 31 1-19 1-8 1 28 1 9 1 22 1-2 1-3 1 11 1 5 1 51 1-13 1-43 1 21 1 18 1-25 1 30 1-29 1 12 1-12 1 28 1 2 1 38 1-6 1-17 1-9 1-5 1-13 1-38 1 43 1 23 1-22 1-19 1-16 1-6 1 58 1-15 1 24 1-28 1-7 1-13 1 41 1-31 1-1 1 27 1 9 1-28 1 30 1-13 1 8 1-41 1 30 1-3 1-9 1-7 1 2 1 24 1-27 1 9 1-27 1 18 1-20 1-18 1 20 1 10 1 37 1-43 1 28 1 10 1 34 1-27 1-42 1-4 1 39 1 22 1-16 1 32 1-70 1-13 1-2 1 36 1 14 1-9 1 24 1-23 1-3 1 35 1-16 1-24 1 12 1-25 1 35 1-21 1-30 1 76 1-30 1-21 1 2 1 19 1-12 1 8 1 0 1-30 1-2 1 56 1-49 1-6 1 11 1 24 1-36 1 18 1-15 1 54 1-7 1-17 1 14 1-58 1 20 1 24 1 16 1-62 1 28 1-18 1-14 1 7 1-23 1 79 1-48 1 7 1-54 1 4 1-12 1 62 1 28 1-63 1 1 1 27 1-54 1 8 1-23 1 24 1 10 1 4 1-3 1-69 1 8 1 5 1 10 1-18 1 4 1-18 1-40 1 15 1 5 1-9 1 39 1 7 1-62 1 45 1 7 1-40 1 9 1-15 1 31 1 13 1-22 1-14 1 21 1 23 1-23 1 9 1-34 1 55 1-18 1 34 1 18 1-2 1-30 1 28 1-1 1 33 1-38 1 15 1 63 1-10 1-49 1 6 1 11 1 50 1-7 1 22 1-38 1-19 1 20 1-33 1 15 1 33 1-30 1 16 1-14 1 25 1-22 1 17 1 32 1-21 1 46 1-13 1-5 1-42 1 18 1-28 1 20 1 5 1 23 1 17 1-62 1 61 1-84 1 5 1 78 1 9 1-4 1 2 1-15 1-48 1 48 1-25 1-39 1 58 1 7 1 5 1-10 1-19 1 31 1-20 1-5 1 30 1-32 1-39 1 38 1-22 1-6 1 36 1-21 1-24 1 34 1 19 1-2 1 26 1-41 1 23 1-9 1-40 1 13 1-6 1 24 1-58 1 61 1-10 1 7 1-28 1 7 1-17 1 36 1-45 1 49 1-24 1 10 1-42 1-16 1 21 1 9 1 29 1-65 1-26 1 31 1-36 1-9 1 3 1 30 1 34 1 13 1-57 1 66 1-41 1 10 1 20 1-1 1 11 1 16 1-15 1 12 1 4 1-18 1-22 1 2 1 23 1-11 1 10 1 4 1 29 1-43 1 24 1 1 1 33 1-50 1 30 1-9 1 7 1-4 1 7 1 15 1-34 1-11 1 17 1 25 1 6 1-11 1 4 1-33 1 23 1 27 1-16 1-12 1 10 1-1 1-6 1 14 1-49 1 18 1 2 1-13 1-13 1 10 1 53 1-52 1 48 1-27 1 6 1 42 1-5 1-57 1 38 1-4 1-18 1 7 1-9 1 36 1 23 1-82 1 20 1 6 1-16 1 44 1-10 1 5 1-39 1-8 1 19 1-33 1 58 1-33 1 14 1 0 1 9 1 11 1-26 1 12 1-20 1-7 1-2 1 5 1 37 1-33 1-14 1 16 1 11 1 26 1-14 1-14 1-1 1 6 1-21 1 69 1-38 1 12 1 5 1-39 1-12 1-16 1 40 1 0 1-36 1 36 1-32 1 28 1 40 1-2 1-63 1 38 1 10 1 19 1 1 1-45 1 5 1 30 1-5 1-67 1 32 1-17 1 39 1-11 1 10 1 26 1-15 1-15 1-2 1-57 1 72 1-5 1 2 1 5 1-30 1 34 1-3 1-7 1-40 1-2 1 24 1 0 1-3 1-32 1 27 1 47 1-24 1-14 1-34 1 15 1 37 1-4 1-24 1-49 1 17 1 43 1-28 1 25 1-17 1-16 1 61 1-88 1 37 1-29 1 6 1 6 1 15 1-4 1-16 1 19 1-46 1 11 1-7 1-19 1 1 1-50 1-16 1-65 1-61 1-56 1-56 1 4 1-24 1 15 1-13 1 35 1 79 1 48 1 42 1 20 1 25 1 44 1 44 1 15 1-5 1-14 1 49 1-6 1-18 1-19 1 46 1 37 1-49 1-3 1 36 1-6 1 6 1-17 1-4 1 3 1 18 1-38 1 44 1-2 1-31 1 1 1 24 1 10 1-47 1 36 1 10 1-24 1 15 1 13 1 16 1-72 1 50 1-28 1 20 1 39 1-28 1 12 1-25 1 15 1-26 1 62 1-47 1 0 1 0 1 40 1-17 1-23 1 24 1-41 1 23 1 9 1-15 1 11 1 13 1-13 1 5 1-39 1 36 1-26 1 2 1-5 1 13 1-2 1 24 1 11 1-16 1-40 1 39 1-16 1 4 1-6 1-36 1 28 1 29 1-6 1 30 1-23 1-67 1 81 1-60 1 8 1 58 1-24 1-21 1-44 1 27 1-1 1-65 1 2 1-66 1 63 1-49 1-10 1 37 1 6 1 32 1-35 1 30 1 12 1-14 1 43 1 21 1 2 1 3 1-31 1 42 1 18 1-49 1-5 1 32 1-20 1 10 1 15 1-13 1-4 1 41 1-45 1 23 1-33 1 39 1 0 1-22 1 31 1-22 1-6 1 53 1-28 1-62 1 17 1 8 1-8 1 25 1 9 1 1 1-50 1 33 1 17 1-54 1 35 1-21 1 22 1-63 1 35 1-17 1-28 1 13 1-40 1 10 1-19 1 32 1-4 1-63 1-23 1-56 1-30 1-7 1-9 1-43 1-29 1 8 1 19 1 38 1-2 1 34 1 40 1 24 1 37 1 45 1-7 1-12 1 91 1 21 1-87 1 24 1 40 1 10 1-36 1 75 1 11 1-19 1-6 1-40 1 39 1-29 1 22 1-6 1-1 1 65 1-5 1-80 1 33 1-19 1 27" transform="translate(207.90,0) scale(1.0364,0.1)" vector-effect="non-scaling-stroke" fill="none" stroke="#0000a8" stroke-width="4.2" stroke-linejoin="round"/>
<path d="M0 34268l1 31 1 32 1-15 1 4 1-16 1-5 1 13 1-8 1 38 1-46 1-16 1-11 1-37 1-21 1-31 1-13 1-24 1-42 1 105 1 12 1 55 1-68 1 88 1-42 1 42 1-26 1 7 1-90 1 65 1-76 1-1 1-42 1-15 1-59 1-36 1-62 1-16 1-35 1 34 1-4 1 26 1 59 1 16 1 67 1 1 1 56 1 10 1 65 1 43 1 5 1-61 1 14 1-1 1 80 1 6 1-40 1-16 1 14 1 3 1 24 1 9 1 33 1 6 1-57 1 7 1 30 1-11 1-21 1 19 1 20 1-7 1-4 1-48 1 19 1 43 1-20 1 54 1-5 1-60 1-13 1 15 1 8 1 17 1 12 1-84 1-3 1-13 1-49 1 42 1-8 1 62 1 3 1 10 1-25 1 4 1 4 1-26 1-14 1 27 1 50 1-9 1-1 1-25 1 37 1-41 1 18 1 24 1-9 1-2 1 20 1-43 1-2 1-2 1 35 1 22 1-69 1 61 1-30 1 22 1-13 1-15 1-9 1 21 1 43 1-45 1-16 1 18 1-14 1 8 1 6 1 3 1-12 1 19 1-51 1-8 1 44 1-15 1 18 1-11 1-4 1-18 1 24 1-6 1-11 1 28 1 34 1-67 1 52 1-50 1 2 1 23 1 10 1-5 1 14 1-38 1 6 1 0 1 14 1-26 1-6 1 54 1-20 1-11 1 51 1 4 1-7 1-79 1 20 1-9 1 36 1 29 1 1 1-32 1 33 1 43 1-31 1 9 1-26 1-69 1 36 1-2 1 23 1 24 1-37 1-19 1-5 1 24 1 15 1 9 1 12 1-58 1 83 1-59 1 35 1-35 1 27 1-34 1 18 1-16 1-30 1 30 1-18 1 44 1-22 1 36 1-5 1-4 1-31 1 28 1-33 1 3 1 40 1-19 1 29 1-22 1-25 1-13 1-18 1 18 1-35 1 46 1-28 1 46 1-28 1 33 1-48 1 9 1-41 1-30 1-86 1-16 1-125 1 23 1 38 1 96 1 41 1-10 1 61 1 17 1 11 1 10 1 42 1 1 1-2 1-46 1 11 1 23 1 5 1-42 1 18 1-6 1 38 1-56 1-71 1 48 1 20 1-88 1 38 1-17 1-29 1-18 1 5 1 3 1 24 1 35 1 10 1 5 1 48 1-26 1-28 1 65 1 49 1-33 1 18 1-34 1 42 1 16 1-10 1-12 1-29 1 53 1-35 1-3 1 32 1-4 1-31 1-2 1 7 1 83 1-30 1-23 1-9 1 10 1 35 1-32 1-23 1-17 1 18 1 4 1-1 1-70 1 36 1-22 1 44 1-56 1 51 1-14 1 20 1-6 1 26 1-16 1-2 1-23 1 21 1-14 1 27 1 37 1-78 1 33 1-34 1-4 1 27 1 4 1-19 1 26 1-3 1-12 1 42 1-36 1-18 1 38 1 5 1-21 1 10 1-55 1 8 1 30 1-37 1 64 1-26 1 26 1-1 1-1 1 12 1 6 1-31 1-54 1 76 1-47 1 0 1-9 1-7 1-28 1 54 1-7 1 16 1 11 1-18 1-2 1 31 1-11 1-9 1-18 1-5 1-9 1-24 1 10 1 8 1 18 1 17 1-22 1-14 1 19 1 23 1-61 1 25 1 13 1-6 1-29 1 28 1 37 1-46 1 24 1 8 1-18 1-57 1 40 1-12 1 41 1-12 1-2 1-16 1-61 1 46 1-11 1 22 1 9 1-34 1-8 1 20 1 18 1 5 1-12 1-41 1-15 1-16 1 26 1-57 1 15 1 40 1-16 1-37 1-12 1 28 1-39 1-41 1 12 1-46 1 45 1-14 1 20 1 30 1-90 1 29 1 11 1 14 1-2 1-26 1 62 1-22 1 59 1-68 1 13 1 15 1-26 1 6 1 25 1-10 1 49 1-22 1 16 1-15 1 20 1 55 1-23 1 11 1-40 1 116 1-86 1 44 1-28 1 5 1 9 1 66 1-64 1-6 1 36 1 12 1-13 1-23 1 24 1 22 1-46 1 65 1-38 1 42 1-23 1-15 1 19 1-43 1 23 1-33 1 35 1-42 1 62 1-26 1 31 1-39 1 56 1-21 1 11 1-7 1 0 1-16 1 23 1-47 1 26 1-16 1-7 1-5 1 24 1 17 1 6 1 29 1-40 1 15 1-3 1 13 1-11 1 63 1-96 1 17 1 20 1-15 1 21 1 7 1-18 1-19 1 1 1-28 1-7 1-32 1 53 1 28 1-33 1 11 1 47 1-70 1 9 1 22 1-6 1 9 1-29 1 45 1-39 1 37 1-20 1-35 1 44 1-17 1 2 1-7 1-31 1 9 1-20 1 45 1-56 1 64 1-16 1-36 1 14 1 5 1-23 1 14 1 48 1-46 1-20 1 6 1 7 1 64 1-58 1 58 1-65 1 14 1-8 1 3 1 25 1 15 1 1 1-19 1 34 1-10 1 12 1-36 1 52 1-13 1-45 1 39 1-45 1 21 1 23 1 26 1 38 1-55 1 4 1 12 1-23 1-24 1 23 1-41 1 58 1-44 1 41 1 10 1-23 1 14 1 13 1-54 1-37 1 43 1 25 1-8 1 24 1 12 1 21 1-11 1-13 1-32 1 31 1-49 1 46 1 13 1-72 1 35 1 3 1 60 1-15 1-48 1 10 1-4 1-61 1 62 1-12 1 53 1-50 1 12 1 9 1-1 1-43 1 28 1 3 1 10 1-8 1 31 1-47 1-8 1 26 1-38 1-8 1 76 1-42 1 12 1 14 1 4 1 1 1 2 1-10 1 6 1-10 1-20 1-6 1 61 1-9 1-28 1 6 1-28 1-5 1 8 1 13 1-1 1-21 1 24 1 2 1-24 1 7 1 20 1-12 1-22 1 7 1-19 1-20 1 38 1 5 1 12 1-13 1 17 1 0 1 12 1-30 1 20 1-39 1-35 1 50 1-47 1 51 1-45 1 55 1-38 1 34 1 14 1-17 1 51 1-32 1-31 1 7 1-8 1 26 1 19 1 16 1-48 1 3 1-6 1-7 1 24 1 10 1 2 1-1 1-28 1-7 1-26 1-45 1 87 1 8 1-31 1 8 1 27 1-55 1 42 1-21 1 26 1-4 1-2 1 30 1-33 1-6 1-27 1 45 1-39 1-12 1-28 1 8 1 28 1-63 1-20 1 42 1-73 1 10 1-23 1-124 1-43 1 20 1-57 1-38 1-96 1-19 1-22 1 41 1 35 1 34 1 24 1 81 1 93 1 83 1-6 1 39 1 39 1-42 1 119 1-36 1-30 1 41 1 17 1-25 1 41 1-11 1 37 1-54 1-1 1-8 1-11 1 36 1 33 1-67 1-14 1 21 1-10 1 26 1-21 1-4 1 22 1 25 1 37 1-84 1 82 1-30 1 19 1-6 1-12 1-28 1-2 1 38 1-5 1 28 1-125 1 60 1-50 1 96 1-51 1-20 1 47 1-11 1-18 1 12 1 15 1 18 1-35 1 14 1 37 1-25 1 4 1 4 1 26 1-47 1 15 1-44 1 21 1 1 1 37 1-38 1-18 1 44 1 15 1 25 1-74 1 4 1 50 1-19 1-24 1 20 1 27 1-30 1-53 1 29 1 25 1 14 1 2 1-38 1-1 1-33 1-2 1 19 1-37 1-48 1 15 1 26 1-25 1-42 1 6 1-50 1-28 1 23 1-10 1-10 1 67 1 20 1 17 1 11 1 30 1 29 1 5 1 2 1 8 1-5 1-14 1 10 1 37 1-32 1 60 1-14 1-8 1-31 1 17 1-13 1 16 1 19 1-8 1-15 1 7 1 25 1-15 1-17 1-40 1 15 1 30 1-31 1 81 1-48 1-1 1-63 1 49 1-35 1 24 1-20 1 13 1-34 1 64 1-46 1-13 1-31 1 28 1 37 1-32 1-41 1 12 1-35 1-4 1-38 1 11 1-1 1-97 1-44 1-11 1-18 1 9 1-58 1-5 1 29 1 29 1 42 1 24 1 34 1-12 1 79 1 15 1-30 1 70 1 0 1 26 1-13 1 43 1-3 1 22 1 4 1 7 1 2 1 36 1-3 1 14 1-59 1 22 1-14 1 47 1-21 1-46 1 16 1-13 1 34 1-10 1-5 1 9" transform="translate(207.90,0) scale(1.0364,0.1)" vector-effect="non-scaling-stroke" fill="none" stroke="#000078" stroke-width="4.2" stroke-linejoin="round"/>
<path d="M0 34630l1 5 1 21 1-30 1 7 1-33 1 54 1-3 1-7 1-23 1 1 1-39 1 21 1-31 1-8 1-9 1-20 1-24 1 30 1 15 1 10 1 1 1 36 1-17 1 45 1-8 1 49 1-22 1-36 1-12 1-12 1-19 1 24 1-28 1-31 1 23 1-48 1 30 1-9 1-16 1-26 1 34 1 27 1 1 1-18 1 26 1 27 1 13 1 20 1-8 1-35 1 38 1 32 1-7 1-38 1 13 1 6 1 40 1-26 1-34 1 5 1 28 1-13 1 0 1-14 1-4 1 59 1-41 1 7 1 15 1 45 1-11 1-12 1-25 1 6 1 13 1-8 1 8 1 9 1 7 1-16 1-34 1 46 1-23 1-23 1 10 1 1 1 2 1-13 1 10 1 1 1 2 1-42 1 68 1-23 1 6 1-3 1 1 1 19 1-13 1 5 1-19 1 22 1-21 1 10 1-25 1 24 1 10 1 3 1-31 1 14 1 8 1 26 1-26 1 12 1-13 1-20 1-13 1-2 1 43 1-34 1 36 1-25 1 12 1-20 1 22 1-12 1-18 1 24 1-25 1 26 1-11 1-13 1 36 1-18 1 40 1-24 1-28 1 17 1 22 1-28 1-8 1 9 1 19 1-17 1-15 1-11 1 29 1 27 1-31 1 35 1-6 1-14 1-31 1 24 1 0 1-7 1 1 1 19 1-3 1-18 1-9 1 16 1 10 1 8 1-3 1 15 1-11 1 6 1-11 1-35 1 10 1 14 1 19 1-15 1 43 1-67 1 19 1 9 1-43 1 27 1 16 1-8 1 15 1-39 1 13 1 38 1-24 1-4 1-20 1 20 1 12 1-30 1 5 1 33 1-36 1 4 1-11 1-11 1 24 1-2 1-29 1 49 1-23 1 3 1 14 1 9 1 3 1-41 1 25 1 4 1-21 1-10 1 19 1 23 1 15 1-11 1-22 1-19 1 8 1-13 1 44 1-17 1 2 1-13 1-1 1-48 1 41 1-24 1-56 1-42 1-29 1-87 1-18 1 13 1 49 1 74 1 64 1 22 1 16 1-28 1 62 1 1 1-9 1 2 1 0 1-7 1 22 1-30 1 19 1 2 1 3 1-27 1-1 1 12 1-39 1 3 1 19 1-11 1 4 1-30 1-8 1-8 1-3 1 6 1 43 1 6 1-21 1 33 1-19 1 14 1 27 1-12 1 4 1 1 1 14 1 10 1-17 1-28 1 31 1 30 1-49 1 41 1-35 1 1 1 9 1-43 1 37 1 10 1 19 1-5 1-1 1-32 1 34 1 0 1 33 1-23 1-39 1 31 1-41 1 28 1-30 1 48 1-8 1 20 1-15 1-20 1-11 1 2 1 11 1 10 1 2 1-13 1 6 1-20 1 21 1-25 1 30 1-7 1 26 1-39 1-6 1-17 1 36 1-38 1 41 1-41 1 18 1-20 1 32 1 1 1 16 1-15 1-3 1-7 1 10 1 32 1-14 1-14 1-34 1 33 1 7 1-24 1 19 1-4 1-7 1-6 1 26 1-23 1 13 1 9 1-22 1 23 1 5 1-16 1-19 1 22 1-6 1-1 1 6 1 3 1-6 1-4 1-11 1 27 1-9 1 23 1-13 1 4 1-10 1 29 1-46 1 22 1-2 1-21 1 4 1 4 1 34 1-14 1-4 1 28 1-2 1-29 1-2 1-12 1-2 1 1 1-11 1 26 1-32 1 23 1-35 1 20 1-9 1 19 1-29 1 10 1 14 1-47 1 36 1-12 1 5 1-15 1 13 1 16 1-25 1-8 1-58 1 30 1 18 1-11 1 28 1-7 1-12 1-5 1 10 1-2 1-15 1 7 1-23 1 23 1 11 1-10 1-16 1-2 1-1 1-5 1 43 1-31 1-8 1-7 1 21 1-8 1 5 1 1 1-26 1 28 1 15 1 3 1 1 1-30 1 24 1 45 1-22 1 5 1-72 1 46 1 11 1 8 1 19 1 8 1 1 1-19 1-16 1 20 1-26 1 34 1 21 1-43 1 15 1 2 1-6 1 13 1-13 1 18 1 4 1-22 1-2 1 10 1 23 1 22 1-46 1-14 1 12 1 3 1 16 1 17 1-10 1 0 1-38 1 11 1 13 1 17 1 5 1-12 1-22 1 25 1 17 1-12 1 3 1-23 1-19 1 14 1-14 1 21 1-33 1 39 1 17 1-3 1-16 1 5 1-13 1 24 1 10 1-14 1-31 1 2 1 31 1-30 1-1 1 35 1-37 1 21 1 7 1 5 1-37 1 23 1 13 1-45 1 11 1 21 1-3 1-5 1 10 1-15 1-2 1-12 1 25 1 8 1-22 1 31 1-37 1 2 1 1 1-2 1-4 1 33 1-28 1 1 1 27 1 4 1-49 1 21 1-5 1 15 1-4 1 0 1-6 1 1 1 9 1 18 1-29 1 5 1-1 1 45 1-38 1-30 1 24 1-18 1 27 1 3 1-5 1-12 1 1 1 36 1-31 1-1 1 13 1-8 1 23 1-15 1-6 1 21 1-9 1-10 1-1 1-5 1 18 1-22 1 27 1-19 1-12 1 18 1-2 1-4 1-5 1-20 1 35 1-31 1 46 1-15 1 3 1-28 1 28 1-28 1 39 1-11 1-24 1 49 1-32 1-3 1-13 1 61 1-23 1-5 1-7 1-15 1 28 1-18 1 29 1 4 1-34 1 13 1 14 1-43 1 38 1-5 1-14 1-7 1-4 1 13 1 14 1-27 1 9 1-23 1 24 1-6 1-8 1 15 1 24 1-15 1-1 1 16 1-24 1 9 1 22 1-44 1-14 1 33 1-3 1-2 1-21 1 28 1-6 1 13 1-11 1-46 1 23 1 26 1-5 1-13 1-12 1 14 1 21 1-2 1 1 1 17 1-40 1-3 1 9 1 20 1-33 1 21 1 7 1 8 1-30 1 63 1-38 1-2 1-23 1 8 1 26 1-34 1 24 1-11 1 4 1-17 1 1 1 7 1 5 1-4 1-10 1 16 1-3 1-7 1 20 1 3 1-7 1-18 1-6 1-9 1 32 1-18 1 37 1-30 1-27 1 64 1-34 1 10 1-11 1-18 1 22 1-12 1 7 1-7 1 12 1 0 1 5 1-10 1 3 1-9 1 10 1-20 1 19 1-16 1-38 1 21 1 38 1-33 1 11 1-7 1 14 1-16 1-2 1-8 1-40 1-9 1-2 1-31 1 6 1-7 1-44 1-12 1-61 1-14 1-21 1 34 1-15 1 37 1-3 1 58 1 9 1 42 1 6 1 11 1-3 1 31 1 0 1 65 1-12 1 10 1-40 1 24 1-14 1 23 1 1 1 14 1 3 1-22 1 20 1 25 1-51 1 9 1-15 1 8 1-9 1-15 1 21 1-18 1 17 1-8 1 12 1-1 1-31 1 31 1-1 1 7 1 26 1-43 1 23 1 4 1 2 1 1 1-14 1-13 1 33 1-16 1 11 1-4 1 3 1 19 1 0 1-6 1 7 1-22 1-4 1-4 1 21 1-27 1 7 1 27 1-24 1-13 1 16 1-6 1 1 1 10 1-5 1-7 1 20 1 0 1-10 1-9 1-17 1 15 1-1 1 27 1-6 1-35 1 23 1 12 1-9 1-27 1 7 1 18 1-6 1-6 1 1 1 6 1 11 1-28 1 6 1-22 1 5 1-51 1 31 1-40 1-10 1-67 1 26 1-18 1 27 1-7 1 1 1 59 1 10 1 1 1 37 1-29 1 17 1 28 1-24 1 23 1 27 1-4 1-6 1-7 1-3 1 11 1-23 1 22 1-36 1 7 1 11 1 28 1-17 1 15 1-50 1 45 1-5 1-19 1 5 1 23 1 0 1-36 1-7 1 29 1 0 1-15 1-11 1-14 1 33 1-3 1-23 1 21 1 11 1-11 1 22 1-24 1-5 1 22 1-18 1 7 1-25 1-14 1 22 1-46 1-1 1-48 1-2 1-9 1-1 1-61 1 19 1 22 1 1 1-17 1 36 1-9 1 29 1 16 1-11 1 22 1-4 1 33 1 0 1 45 1-25 1 15 1 35 1-19 1 3 1-26 1 37 1-26 1 28 1-30 1 43 1-13 1-33 1 1 1 20 1-11 1 11 1 3 1-14 1 25 1-2 1 6 1-27 1 25" transform="translate(207.90,0) scale(1.0364,0.1)" vector-effect="non-scaling-stroke" fill="none" stroke="#800080" stroke-width="4.2" stroke-linejoin="round"/>
<path d="M0 34903l1-3 1 0 1 14 1 8 1-3 1-25 1-15 1 46 1-32 1 4 1-25 1 3 1-20 1-26 1 19 1-18 1-17 1-4 1 18 1 11 1 22 1 4 1-2 1 35 1 3 1-15 1-19 1 15 1-1 1 20 1-24 1 17 1-9 1-34 1 19 1 0 1-40 1 15 1-27 1 10 1-52 1 49 1 48 1 2 1 0 1 39 1-55 1-2 1-29 1 50 1-1 1 44 1-24 1-20 1 15 1 8 1-1 1 22 1-27 1 14 1 13 1-23 1 3 1-8 1 21 1-5 1-38 1 37 1-6 1-5 1-19 1 55 1-29 1 9 1-23 1 17 1-5 1 9 1 6 1-10 1-9 1 27 1-50 1 41 1 8 1-28 1-1 1-38 1 21 1 13 1-16 1-8 1 51 1-41 1 39 1-8 1 6 1 19 1-22 1-4 1 6 1-9 1-21 1 22 1 27 1-41 1 15 1-10 1-2 1 49 1-15 1 3 1-6 1 10 1-4 1-10 1-13 1-38 1 17 1 21 1-8 1-18 1 11 1 17 1 23 1-22 1 7 1-20 1 7 1-31 1-5 1 34 1-36 1 40 1-7 1 5 1-3 1 11 1 3 1-7 1-2 1-10 1 11 1-6 1-3 1-7 1 16 1 23 1-18 1-26 1-2 1 9 1 6 1 32 1-38 1-16 1 41 1-8 1 27 1-24 1 6 1-5 1-1 1-17 1 18 1 25 1-16 1-23 1-1 1 2 1-19 1 21 1 0 1 7 1-3 1 31 1-21 1-22 1-9 1 15 1-2 1 7 1 21 1-28 1-14 1 12 1 8 1 21 1-22 1 22 1-26 1 28 1-11 1 15 1-8 1-28 1-20 1 56 1-30 1-14 1 28 1 10 1 2 1-23 1 26 1-25 1 2 1 23 1-34 1-21 1 13 1 15 1-8 1 0 1 13 1-36 1 65 1-53 1 34 1-41 1 36 1 10 1 9 1-11 1-8 1-51 1 10 1-29 1-23 1-4 1-86 1 13 1-27 1 6 1 52 1 44 1 17 1 40 1 4 1-5 1 18 1-12 1 22 1-4 1 17 1 4 1-7 1-11 1-21 1 9 1-12 1 35 1-49 1 30 1-15 1-26 1 1 1-9 1 2 1-9 1-15 1 51 1-17 1-2 1 14 1-26 1 4 1 9 1 14 1 29 1-15 1-3 1 11 1-10 1-5 1 30 1-9 1 14 1 4 1 29 1-17 1 5 1-32 1 26 1-31 1 25 1-12 1 20 1-23 1-26 1 23 1 15 1 8 1 0 1-19 1 10 1-43 1 16 1-10 1 12 1-7 1 9 1 21 1-18 1 23 1-12 1 16 1 10 1-31 1 3 1 24 1 2 1-13 1 41 1-68 1 29 1-3 1-10 1-2 1 1 1 1 1 6 1-5 1 12 1-29 1 13 1-18 1 30 1 14 1-30 1-4 1-11 1 9 1 6 1 13 1 12 1-20 1-5 1 57 1-37 1 3 1-24 1 22 1-5 1 14 1-19 1-23 1 4 1 25 1 8 1-13 1 25 1-3 1-40 1 16 1 14 1 3 1-16 1 23 1-15 1-21 1-9 1 0 1 8 1 8 1-16 1-10 1 18 1 23 1-7 1-2 1-7 1-17 1 14 1 4 1 17 1 15 1-13 1-18 1-21 1 17 1 5 1-21 1 17 1-4 1 3 1 6 1-14 1 13 1-11 1-7 1 1 1 32 1-41 1 41 1-31 1-17 1 6 1-2 1 21 1-8 1 1 1 0 1-28 1-32 1 33 1-15 1 1 1 33 1 9 1-6 1-30 1 36 1-17 1-43 1 22 1-2 1-14 1 11 1-13 1-38 1-15 1 35 1 4 1-14 1 10 1 25 1-10 1-7 1-6 1 12 1-11 1 12 1 13 1-31 1 22 1 19 1-5 1 7 1-2 1 8 1 31 1-23 1 15 1-12 1-26 1 23 1 7 1-15 1 17 1-13 1-26 1 27 1-4 1 12 1-35 1 39 1 5 1-8 1 40 1-16 1-8 1 1 1 10 1-8 1 9 1 17 1-26 1-6 1 23 1-21 1 14 1-12 1 16 1-7 1-4 1 10 1 5 1-5 1 24 1-11 1-4 1 7 1-4 1-5 1-22 1-11 1 19 1-4 1 32 1-55 1 40 1-10 1 5 1-27 1 24 1 29 1-25 1 33 1-16 1-6 1-6 1-26 1 0 1 17 1-23 1 22 1 8 1 5 1 5 1-16 1-18 1 51 1-38 1 24 1-47 1 24 1 44 1-61 1 45 1-39 1-9 1 12 1 7 1 22 1-10 1-1 1-4 1-3 1 20 1-14 1-12 1 11 1 0 1 11 1-31 1 3 1 2 1 7 1-21 1 1 1 21 1-5 1-10 1 4 1-10 1 13 1-25 1 3 1-4 1 23 1-10 1 29 1 6 1-6 1-14 1 18 1-8 1 25 1-34 1 18 1 3 1 2 1-49 1 31 1-3 1-5 1-20 1 31 1 6 1 6 1-35 1 19 1-11 1 27 1 15 1-24 1-8 1 0 1 23 1-18 1-13 1 15 1 14 1 20 1-13 1-5 1-4 1 5 1-4 1-19 1 21 1-13 1-14 1 12 1-6 1 18 1-13 1-19 1 3 1 9 1-6 1 10 1 15 1-30 1 28 1 1 1 12 1-7 1-10 1 14 1-31 1 13 1 4 1-11 1-17 1 31 1 14 1-17 1 21 1-20 1 8 1 10 1-28 1 17 1 27 1-21 1-10 1 12 1 6 1-11 1 15 1 7 1 0 1-31 1-3 1 1 1-8 1 6 1 43 1-50 1 12 1 20 1 10 1-37 1-4 1 0 1-11 1 23 1-12 1-4 1-13 1 36 1 2 1-14 1-8 1-10 1-5 1 22 1 4 1 1 1-25 1 29 1-9 1-11 1 17 1-3 1 24 1-21 1 11 1 16 1-28 1 1 1 8 1-6 1-3 1 21 1-35 1 21 1-22 1-5 1 39 1-44 1-4 1 22 1-1 1 32 1-30 1-23 1 2 1 19 1 24 1-13 1 11 1-11 1-6 1 2 1-31 1 21 1-5 1-12 1-12 1 31 1 31 1-16 1-6 1-16 1 18 1-6 1-10 1 34 1-21 1-16 1 15 1-4 1 21 1-41 1 20 1-7 1 5 1-15 1 3 1-7 1 5 1-7 1-20 1-17 1-3 1-39 1-2 1-22 1-19 1-10 1-39 1 13 1 14 1 17 1-18 1 74 1-2 1 3 1 2 1 48 1-6 1 2 1 5 1 27 1 4 1 19 1-46 1 14 1 18 1 10 1-43 1 45 1 18 1-12 1 4 1-19 1 14 1-26 1 5 1 10 1-39 1 42 1-10 1 21 1-2 1 4 1 2 1-21 1-6 1 4 1 16 1-16 1-19 1 25 1 10 1 1 1-25 1-5 1 13 1 5 1-3 1 15 1-19 1 18 1 5 1-44 1 25 1-6 1-4 1 11 1 18 1-1 1-16 1 10 1 24 1-21 1-8 1 15 1-1 1-24 1-22 1-1 1 27 1-8 1-8 1 3 1 40 1 7 1-23 1 22 1-8 1-34 1 16 1-5 1 2 1-4 1-21 1 39 1 5 1-22 1-3 1-12 1 33 1-14 1-10 1 7 1 4 1 2 1-13 1-29 1-18 1-9 1 22 1-13 1 9 1-43 1-38 1 29 1 2 1 33 1-15 1 27 1 4 1-1 1-12 1 37 1-3 1-4 1 15 1 6 1 5 1-4 1 8 1 2 1-6 1-3 1 3 1 11 1-18 1 7 1 5 1 21 1-22 1-8 1 0 1-22 1 39 1-12 1-3 1-12 1-9 1 11 1-7 1 3 1 7 1 10 1-4 1 7 1-16 1 10 1 0 1 6 1-8 1 12 1-21 1 26 1-3 1-7 1-19 1 3 1 6 1-25 1-8 1 0 1-12 1-22 1 13 1 2 1-34 1-32 1 11 1-12 1-28 1 35 1-12 1-2 1 9 1 33 1-22 1 29 1 16 1 11 1 12 1 26 1 10 1-26 1 5 1 2 1 5 1 17 1 14 1-14 1-39 1 51 1-2 1-3 1 6 1-12 1 1 1-29 1 53 1-25 1 14 1-8 1-11 1 14 1 11" transform="translate(207.90,0) scale(1.0364,0.1)" vector-effect="non-scaling-stroke" fill="none" stroke="#ff00ff" stroke-width="4.2" stroke-linejoin="round"/>
<path d="M0 35185l1-1 1-25 1 5 1 6 1-8 1 11 1 8 1-5 1-7 1-21 1-6 1 23 1-17 1-15 1 3 1 14 1-22 1 2 1 12 1-2 1 9 1 22 1-12 1-12 1 17 1 18 1-3 1-31 1 31 1-32 1 12 1-1 1-18 1 6 1-29 1 24 1-6 1-12 1-16 1 15 1-2 1 7 1 11 1-1 1 20 1 22 1 0 1-14 1-12 1 19 1-18 1 10 1 24 1-11 1-3 1-21 1 6 1 10 1 14 1-4 1-9 1-6 1-1 1 24 1-15 1-1 1 10 1-7 1 1 1 7 1-27 1 21 1-1 1 6 1-14 1-6 1 25 1-19 1 3 1-11 1 19 1-5 1-12 1 17 1 1 1-16 1 4 1-21 1 24 1-6 1 8 1 3 1-7 1 1 1-2 1 4 1 7 1-4 1-10 1 8 1 4 1 19 1-15 1-20 1 11 1 2 1 17 1-19 1 19 1-20 1 12 1 0 1 2 1 14 1-10 1 4 1-5 1 1 1-26 1-7 1 22 1-5 1 9 1 10 1-9 1-15 1 5 1 13 1-3 1-30 1 19 1-17 1 23 1-16 1-3 1 27 1-16 1 15 1-9 1 0 1 2 1-6 1-6 1 28 1-11 1 11 1-1 1-22 1 23 1-16 1-8 1 14 1-7 1-15 1 12 1-4 1 1 1 0 1 7 1 5 1-4 1-7 1 11 1-2 1 5 1-5 1 2 1-7 1-18 1 17 1 1 1 7 1-20 1 24 1-25 1 11 1 19 1-12 1 4 1 3 1-7 1-11 1-4 1-2 1 10 1 8 1 2 1 15 1-17 1-1 1 23 1-19 1 3 1-2 1-2 1-22 1 1 1 11 1-3 1-8 1 9 1-6 1 5 1-1 1 5 1 13 1 3 1-25 1 23 1 0 1-16 1 9 1-11 1 7 1 12 1 3 1-18 1 29 1-20 1-30 1 24 1 15 1-22 1 7 1-15 1 4 1 7 1-23 1-5 1-11 1-22 1-24 1-17 1 17 1-16 1 44 1 27 1 26 1-20 1 19 1-19 1 36 1 13 1-29 1 7 1-8 1 10 1-18 1 18 1-4 1-22 1 23 1 2 1-13 1 3 1-13 1-10 1 9 1-23 1-2 1-9 1-3 1 11 1 35 1-30 1 23 1-7 1-1 1 5 1 8 1 4 1 6 1 2 1 15 1-1 1 8 1 6 1-38 1 26 1-22 1 22 1-10 1 0 1-3 1-10 1 3 1 11 1 0 1 5 1-2 1 12 1-21 1 15 1 1 1-19 1 6 1-10 1-14 1 9 1 25 1 1 1 7 1-15 1 8 1-31 1 16 1 20 1 5 1-12 1 9 1-9 1-16 1 25 1-8 1 2 1 0 1 6 1 4 1-20 1-9 1 17 1 10 1-17 1-12 1 11 1 10 1-8 1 1 1-16 1 2 1 14 1 2 1 20 1-13 1-5 1-6 1 6 1 1 1-2 1 3 1 0 1-6 1 9 1-15 1 9 1-11 1-12 1 20 1-1 1 2 1-18 1 6 1-4 1 20 1 6 1-16 1 15 1 9 1-18 1 3 1 0 1-7 1-2 1-12 1 14 1-5 1 9 1-2 1-1 1 13 1-23 1 0 1 1 1 8 1-20 1 20 1-10 1 14 1-18 1-1 1 2 1 0 1 2 1-11 1-1 1-21 1 37 1-11 1-3 1 4 1 2 1 11 1 1 1-5 1-18 1 11 1-1 1-3 1-2 1 0 1-9 1 34 1-42 1 0 1 11 1 1 1 4 1-3 1-20 1-2 1 26 1-6 1-15 1 1 1-14 1 2 1 8 1 10 1-3 1-34 1 20 1 6 1-9 1 8 1-8 1 0 1-20 1 25 1-10 1-5 1 10 1 4 1 3 1 3 1 11 1 8 1 15 1-17 1-12 1 10 1 6 1-16 1-2 1 3 1 25 1-6 1-16 1-2 1 24 1-23 1 1 1 4 1 20 1 3 1-20 1 9 1 7 1 1 1-8 1 17 1-4 1 13 1-17 1 7 1 4 1-7 1-3 1-2 1 7 1-28 1 11 1 13 1 13 1 15 1-8 1-8 1-11 1-5 1 18 1-32 1 36 1-19 1 13 1-3 1 7 1-2 1-3 1-2 1-24 1 5 1 5 1 18 1 7 1-22 1 22 1-11 1-4 1-1 1 17 1-10 1-6 1-10 1 10 1 15 1-24 1 1 1 13 1 4 1 9 1-16 1 3 1 1 1-8 1 31 1-4 1-15 1 1 1-15 1 13 1-5 1-3 1-6 1-7 1 9 1 3 1-7 1 15 1-12 1-5 1 19 1-12 1-5 1-5 1 1 1 3 1-14 1 9 1 7 1 21 1-22 1 0 1-4 1-3 1 0 1 25 1-24 1 21 1-15 1-20 1 42 1-21 1 17 1-27 1 2 1 12 1 2 1-27 1 17 1 28 1 2 1-17 1 3 1-21 1 20 1-4 1 4 1 7 1-12 1 8 1-14 1 11 1-5 1 15 1-21 1 9 1 8 1-17 1-18 1 26 1 15 1-5 1-6 1-5 1 10 1 4 1-5 1-6 1 10 1-9 1 13 1-18 1 20 1-8 1 14 1-18 1-2 1-4 1 8 1-21 1 15 1 1 1-6 1-4 1 29 1-21 1-5 1 1 1 9 1 1 1-2 1-20 1 14 1-13 1 12 1-3 1-17 1 14 1 6 1-6 1 13 1 5 1 0 1 12 1-20 1-12 1-4 1 20 1-3 1 0 1 10 1-22 1 6 1 0 1-16 1 4 1 8 1 6 1-3 1-4 1-1 1 8 1 15 1-35 1-1 1 20 1 1 1-9 1 4 1-8 1 7 1 3 1-9 1 14 1 8 1 4 1-14 1 17 1-36 1 10 1 3 1 1 1 0 1-9 1 18 1 0 1 12 1-8 1-4 1 6 1-29 1 14 1-24 1 32 1-12 1 8 1-2 1 14 1-1 1 0 1-5 1-18 1 16 1-1 1 11 1-27 1 17 1-11 1-6 1-5 1 28 1-20 1 11 1-9 1-16 1 26 1 11 1-15 1-9 1 1 1 19 1-7 1 25 1-24 1 14 1-36 1 12 1-17 1 27 1-1 1-7 1-3 1-1 1-4 1 7 1-8 1 20 1-17 1-8 1 18 1-6 1 5 1-11 1-3 1-25 1 22 1-4 1 13 1-23 1-14 1-23 1 4 1 3 1-33 1-8 1 13 1-14 1 26 1-7 1 22 1 5 1 2 1 21 1-20 1 28 1-7 1 10 1 23 1-20 1 17 1-1 1 9 1-8 1 0 1 4 1-17 1 6 1 9 1 7 1-4 1 7 1-23 1-3 1 5 1 29 1 12 1-35 1 9 1 7 1 4 1-14 1-5 1-21 1 25 1-10 1 6 1-8 1-14 1 7 1 23 1 12 1-6 1 7 1-19 1 20 1-16 1 8 1-6 1 1 1-3 1-1 1 6 1-17 1 17 1-14 1 14 1 1 1-7 1-4 1-5 1 4 1-16 1 22 1-2 1-17 1 20 1 0 1 3 1-10 1 11 1-10 1 0 1 10 1 8 1-13 1 6 1-12 1 20 1-22 1 10 1 24 1-8 1-22 1 6 1-11 1 20 1-29 1 6 1 6 1 1 1-4 1-2 1 4 1-4 1 12 1-31 1-28 1 16 1-28 1-2 1 1 1 9 1 19 1 11 1-4 1 5 1 12 1 13 1 2 1-15 1 19 1-22 1 25 1-24 1 25 1 3 1 3 1 3 1-23 1-11 1 14 1 11 1-23 1 19 1 1 1 8 1-28 1 17 1 7 1-15 1 25 1-10 1-8 1 18 1-14 1 2 1-8 1 4 1-13 1 3 1 13 1-11 1-7 1 17 1 15 1-6 1-4 1-16 1 8 1-32 1 9 1 7 1 19 1-17 1 0 1-7 1 2 1-11 1 12 1-37 1 6 1 1 1-23 1 35 1 7 1-12 1-12 1 22 1-6 1 1 1 6 1 7 1 6 1-3 1-14 1 13 1-12 1 16 1 21 1 3 1-12 1 17 1-21 1 8 1-22 1 31 1-20 1 17 1-13 1 25 1-24 1 10 1-23 1 10 1 2 1-1 1-2 1 7 1 3 1-18 1 33" transform="translate(207.90,0) scale(1.0364,0.1)" vector-effect="non-scaling-stroke" fill="none" stroke="#ff80ff" stroke-width="4.2" stroke-linejoin="round"/>
<polyline points="1215.9,3230.5 1222.1,3232.2 1228.3,3229.4 1234.5,3224.4 1240.7,3224.2 1247.0,3228.4 1253.2,3218.3 1259.4,3223.2 1265.6,3211.4 1271.8,3210.6 1278.0,3213.4 1284.3,3202.0 1290.5,3192.1 1296.7,3178.9 1302.9,3183.5 1309.1,3174.0 1315.3,3174.1 1321.6,3157.6 1327.8,3155.2 1334.0,3153.2 1340.2,3152.3 1346.4,3135.9 1352.6,3151.8 1358.8,3153.0 1365.1,3150.6 1371.3,3159.5 1377.5,3159.7 1383.7,3165.2 1389.9,3183.7 1396.1,3181.7 1402.4,3194.2 1408.6,3196.3 1414.8,3204.8 1421.0,3206.1 1427.2,3217.3 1433.4,3209.8 1439.7,3220.5 1445.9,3226.1 1452.1,3219.5 1458.3,3220.1 1464.5,3228.6 1470.7,3227.4 1477.0,3226.7 1483.2,3231.4 1489.4,3228.9 1495.6,3231.3 1501.8,3228.8 1508.0,3228.5 1514.3,3230.7 1520.5,3228.4 1526.7,3233.7 1532.9,3230.2 1539.1,3228.7 1545.3,3227.9 1551.6,3225.6 1557.8,3232.0 1564.0,3229.0 1570.2,3230.1 1576.4,3230.6 1582.6,3233.1 1588.9,3230.6 1595.1,3228.3 1601.3,3228.5 1607.5,3230.2 1613.7,3228.2 1619.9,3233.5 1626.2,3228.6 1632.4,3228.0 1638.6,3229.7 1644.8,3231.3 1651.0,3232.1 1657.2,3227.0 1663.5,3232.1 1669.7,3232.4 1675.9,3230.2 1682.1,3231.1 1688.3,3231.7 1694.5,3224.2 1700.7,3233.2 1707.0,3231.4 1713.2,3229.7 1719.4,3231.3 1725.6,3232.4 1731.8,3231.7 1738.0,3229.6 1744.3,3230.2 1750.5,3228.6 1756.7,3233.4 1762.9,3227.4 1769.1,3231.1 1775.3,3227.3 1781.6,3224.1 1787.8,3225.1 1794.0,3223.5 1800.2,3223.6 1806.4,3220.6 1812.6,3206.3 1818.9,3198.0 1825.1,3197.3 1831.3,3183.5 1837.5,3171.7 1843.7,3158.0 1849.9,3141.0 1856.2,3127.3 1862.4,3098.8 1868.6,3077.5 1874.8,3054.4 1881.0,3012.9 1887.2,2977.4 1893.5,2939.3 1899.7,2876.7 1905.9,2835.3 1912.1,2769.3 1918.3,2699.7 1924.5,2645.3 1930.8,2615.9 1937.0,2566.3 1943.2,2561.2 1949.4,2576.6 1955.6,2607.0 1961.8,2626.4 1968.1,2704.1 1974.3,2764.1 1980.5,2828.4 1986.7,2882.4 1992.9,2911.3 1999.1,2963.7 2005.3,2996.0 2011.6,3046.3 2017.8,3079.4 2024.0,3092.2 2030.2,3121.3 2036.4,3132.2 2042.6,3146.0 2048.9,3178.4 2055.1,3181.5 2061.3,3201.3 2067.5,3208.8 2073.7,3206.7 2079.9,3216.2 2086.2,3217.0 2092.4,3225.2 2098.6,3226.0 2104.8,3227.0 2111.0,3228.9 2117.2,3229.1 2123.5,3233.8 2129.7,3228.3 2135.9,3228.0 2142.1,3231.3 2148.3,3227.2 2154.5,3230.7 2160.8,3230.6 2167.0,3231.1 2173.2,3233.2 2179.4,3228.9 2185.6,3228.5 2191.8,3229.6" fill="none" stroke="#000000" stroke-width="4.2" stroke-linejoin="round"/>
<polyline points="1215.9,3258.6 1222.1,3255.0 1228.3,3253.1 1234.5,3251.0 1240.7,3253.2 1247.0,3252.2 1253.2,3251.7 1259.4,3251.5 1265.6,3240.6 1271.8,3247.5 1278.0,3249.1 1284.3,3241.5 1290.5,3233.1 1296.7,3237.9 1302.9,3219.2 1309.1,3229.0 1315.3,3227.1 1321.6,3213.4 1327.8,3210.0 1334.0,3211.2 1340.2,3197.2 1346.4,3205.3 1352.6,3192.7 1358.8,3204.4 1365.1,3180.9 1371.3,3196.3 1377.5,3199.1 1383.7,3205.7 1389.9,3208.6 1396.1,3209.1 1402.4,3205.9 1408.6,3219.9 1414.8,3216.4 1421.0,3226.7 1427.2,3222.1 1433.4,3231.0 1439.7,3239.5 1445.9,3245.5 1452.1,3241.3 1458.3,3240.8 1464.5,3245.8 1470.7,3249.3 1477.0,3256.6 1483.2,3250.1 1489.4,3246.1 1495.6,3250.3 1501.8,3250.6 1508.0,3249.3 1514.3,3258.9 1520.5,3254.1 1526.7,3258.0 1532.9,3258.5 1539.1,3253.2 1545.3,3255.5 1551.6,3256.3 1557.8,3255.2 1564.0,3253.5 1570.2,3255.8 1576.4,3255.6 1582.6,3256.6 1588.9,3250.9 1595.1,3256.9 1601.3,3258.3 1607.5,3254.1 1613.7,3255.7 1619.9,3261.0 1626.2,3258.4 1632.4,3250.0 1638.6,3257.9 1644.8,3259.8 1651.0,3256.7 1657.2,3257.0 1663.5,3255.4 1669.7,3256.2 1675.9,3254.5 1682.1,3258.3 1688.3,3259.4 1694.5,3259.6 1700.7,3258.6 1707.0,3254.9 1713.2,3254.4 1719.4,3255.3 1725.6,3256.5 1731.8,3255.8 1738.0,3256.7 1744.3,3252.9 1750.5,3257.1 1756.7,3253.7 1762.9,3255.2 1769.1,3256.3 1775.3,3257.4 1781.6,3254.2 1787.8,3254.8 1794.0,3256.1 1800.2,3252.7 1806.4,3246.2 1812.6,3250.4 1818.9,3231.9 1825.1,3234.6 1831.3,3236.6 1837.5,3229.0 1843.7,3204.5 1849.9,3200.7 1856.2,3172.9 1862.4,3181.8 1868.6,3141.5 1874.8,3113.1 1881.0,3088.1 1887.2,3068.1 1893.5,3027.1 1899.7,3028.3 1905.9,3002.7 1912.1,2967.2 1918.3,2972.7 1924.5,2924.1 1930.8,2892.0 1937.0,2862.2 1943.2,2859.9 1949.4,2834.7 1955.6,2819.1 1961.8,2830.0 1968.1,2855.5 1974.3,2923.3 1980.5,2964.0 1986.7,2997.9 1992.9,3056.3 1999.1,3095.6 2005.3,3125.7 2011.6,3150.2 2017.8,3173.7 2024.0,3181.4 2030.2,3199.0 2036.4,3213.9 2042.6,3228.5 2048.9,3243.2 2055.1,3238.9 2061.3,3251.7 2067.5,3250.5 2073.7,3248.8 2079.9,3258.5 2086.2,3253.5 2092.4,3256.3 2098.6,3252.3 2104.8,3254.8 2111.0,3255.6 2117.2,3255.5 2123.5,3257.1 2129.7,3254.3 2135.9,3257.2 2142.1,3252.4 2148.3,3257.1 2154.5,3256.8 2160.8,3257.4 2167.0,3256.8 2173.2,3257.6 2179.4,3254.3 2185.6,3254.0 2191.8,3254.7" fill="none" stroke="#404040" stroke-width="4.2" stroke-linejoin="round"/>
<polyline points="1215.9,3274.6 1222.1,3282.8 1228.3,3274.4 1234.5,3279.9 1240.7,3271.8 1247.0,3271.4 1253.2,3273.4 1259.4,3275.1 1265.6,3275.7 1271.8,3270.9 1278.0,3262.6 1284.3,3265.3 1290.5,3263.4 1296.7,3256.4 1302.9,3255.4 1309.1,3245.6 1315.3,3236.9 1321.6,3238.3 1327.8,3228.3 1334.0,3217.1 1340.2,3221.7 1346.4,3224.3 1352.6,3200.9 1358.8,3187.9 1365.1,3199.6 1371.3,3207.6 1377.5,3199.5 1383.7,3213.7 1389.9,3218.2 1396.1,3230.6 1402.4,3229.5 1408.6,3226.7 1414.8,3244.3 1421.0,3235.9 1427.2,3248.6 1433.4,3258.5 1439.7,3260.3 1445.9,3263.1 1452.1,3268.3 1458.3,3267.3 1464.5,3272.9 1470.7,3274.9 1477.0,3277.4 1483.2,3274.9 1489.4,3271.5 1495.6,3281.1 1501.8,3277.0 1508.0,3273.7 1514.3,3279.0 1520.5,3278.1 1526.7,3278.5 1532.9,3275.4 1539.1,3276.1 1545.3,3275.7 1551.6,3280.1 1557.8,3275.9 1564.0,3276.3 1570.2,3276.9 1576.4,3279.5 1582.6,3276.9 1588.9,3280.4 1595.1,3278.9 1601.3,3277.3 1607.5,3277.3 1613.7,3278.1 1619.9,3277.3 1626.2,3281.1 1632.4,3287.1 1638.6,3279.7 1644.8,3278.2 1651.0,3284.8 1657.2,3281.9 1663.5,3278.4 1669.7,3277.5 1675.9,3279.2 1682.1,3276.4 1688.3,3275.7 1694.5,3282.1 1700.7,3278.6 1707.0,3281.9 1713.2,3272.8 1719.4,3279.6 1725.6,3284.2 1731.8,3282.4 1738.0,3282.6 1744.3,3282.6 1750.5,3279.1 1756.7,3283.9 1762.9,3278.8 1769.1,3281.7 1775.3,3277.1 1781.6,3275.1 1787.8,3279.6 1794.0,3279.0 1800.2,3279.5 1806.4,3277.2 1812.6,3275.9 1818.9,3267.7 1825.1,3275.6 1831.3,3274.3 1837.5,3260.0 1843.7,3244.2 1849.9,3239.5 1856.2,3234.0 1862.4,3209.2 1868.6,3169.9 1874.8,3157.9 1881.0,3117.6 1887.2,3093.8 1893.5,3064.2 1899.7,3036.4 1905.9,3019.5 1912.1,2964.9 1918.3,2899.3 1924.5,2871.7 1930.8,2884.7 1937.0,2853.0 1943.2,2831.9 1949.4,2791.7 1955.6,2827.9 1961.8,2861.6 1968.1,2921.6 1974.3,2954.1 1980.5,3025.0 1986.7,3078.0 1992.9,3098.7 1999.1,3140.6 2005.3,3181.8 2011.6,3195.0 2017.8,3206.8 2024.0,3226.4 2030.2,3253.9 2036.4,3249.8 2042.6,3250.3 2048.9,3264.9 2055.1,3269.4 2061.3,3272.3 2067.5,3277.5 2073.7,3281.8 2079.9,3282.9 2086.2,3283.3 2092.4,3280.3 2098.6,3278.0 2104.8,3277.9 2111.0,3276.4 2117.2,3281.7 2123.5,3277.9 2129.7,3281.0 2135.9,3280.2 2142.1,3282.1 2148.3,3279.0 2154.5,3280.5 2160.8,3282.0 2167.0,3285.1 2173.2,3280.2 2179.4,3280.7 2185.6,3279.7 2191.8,3276.3" fill="none" stroke="#808080" stroke-width="4.2" stroke-linejoin="round"/>
<polyline points="1215.9,3307.7 1222.1,3308.1 1228.3,3301.8 1234.5,3307.7 1240.7,3299.6 1247.0,3304.3 1253.2,3301.2 1259.4,3304.0 1265.6,3298.2 1271.8,3309.7 1278.0,3298.6 1284.3,3303.5 1290.5,3302.8 1296.7,3293.4 1302.9,3292.0 1309.1,3293.5 1315.3,3284.5 1321.6,3280.6 1327.8,3270.5 1334.0,3268.7 1340.2,3262.9 1346.4,3263.9 1352.6,3258.8 1358.8,3245.6 1365.1,3243.5 1371.3,3241.3 1377.5,3242.1 1383.7,3238.2 1389.9,3236.8 1396.1,3247.3 1402.4,3250.8 1408.6,3251.4 1414.8,3253.1 1421.0,3261.5 1427.2,3269.3 1433.4,3270.1 1439.7,3273.0 1445.9,3273.4 1452.1,3286.5 1458.3,3293.1 1464.5,3303.3 1470.7,3294.3 1477.0,3296.3 1483.2,3297.3 1489.4,3295.6 1495.6,3289.6 1501.8,3301.6 1508.0,3300.0 1514.3,3299.7 1520.5,3304.7 1526.7,3307.9 1532.9,3298.5 1539.1,3303.0 1545.3,3303.4 1551.6,3305.9 1557.8,3299.3 1564.0,3300.3 1570.2,3299.7 1576.4,3301.0 1582.6,3305.2 1588.9,3296.7 1595.1,3297.3 1601.3,3307.5 1607.5,3300.4 1613.7,3298.6 1619.9,3304.0 1626.2,3302.0 1632.4,3300.1 1638.6,3301.4 1644.8,3302.9 1651.0,3300.8 1657.2,3301.8 1663.5,3300.9 1669.7,3296.5 1675.9,3303.4 1682.1,3304.7 1688.3,3300.7 1694.5,3301.9 1700.7,3302.7 1707.0,3298.8 1713.2,3301.4 1719.4,3298.4 1725.6,3299.9 1731.8,3302.1 1738.0,3293.1 1744.3,3295.0 1750.5,3294.9 1756.7,3295.7 1762.9,3300.5 1769.1,3291.5 1775.3,3295.5 1781.6,3297.2 1787.8,3292.5 1794.0,3291.3 1800.2,3269.0 1806.4,3227.3 1812.6,3146.6 1818.9,3048.2 1825.1,2963.4 1831.3,2976.9 1837.5,3012.2 1843.7,3008.6 1849.9,2942.2 1856.2,2872.5 1862.4,2767.6 1868.6,2635.1 1874.8,2509.5 1881.0,2483.7 1887.2,2518.0 1893.5,2570.7 1899.7,2654.3 1905.9,2739.2 1912.1,2797.4 1918.3,2853.0 1924.5,2896.8 1930.8,2921.8 1937.0,2960.7 1943.2,3010.3 1949.4,3045.3 1955.6,3072.9 1961.8,3105.0 1968.1,3125.0 1974.3,3146.5 1980.5,3177.2 1986.7,3190.1 1992.9,3202.5 1999.1,3216.9 2005.3,3228.9 2011.6,3242.5 2017.8,3244.3 2024.0,3249.6 2030.2,3256.7 2036.4,3269.2 2042.6,3271.3 2048.9,3280.5 2055.1,3269.9 2061.3,3284.7 2067.5,3285.2 2073.7,3290.7 2079.9,3282.8 2086.2,3294.3 2092.4,3290.1 2098.6,3297.7 2104.8,3303.7 2111.0,3298.0 2117.2,3294.4 2123.5,3300.3 2129.7,3296.6 2135.9,3300.0 2142.1,3300.1 2148.3,3300.0 2154.5,3299.9 2160.8,3306.5 2167.0,3301.9 2173.2,3297.8 2179.4,3304.4 2185.6,3298.9 2191.8,3302.3" fill="none" stroke="#c0c0c0" stroke-width="4.2" stroke-linejoin="round"/>
<polyline points="1215.9,3333.2 1222.1,3331.2 1228.3,3331.8 1234.5,3327.4 1240.7,3327.9 1247.0,3327.9 1253.2,3326.0 1259.4,3329.1 1265.6,3324.1 1271.8,3320.5 1278.0,3316.0 1284.3,3313.2 1290.5,3311.8 1296.7,3312.1 1302.9,3306.1 1309.1,3298.4 1315.3,3298.2 1321.6,3294.1 1327.8,3292.8 1334.0,3287.7 1340.2,3280.1 1346.4,3290.1 1352.6,3294.1 1358.8,3283.9 1365.1,3288.8 1371.3,3284.0 1377.5,3295.0 1383.7,3295.7 1389.9,3296.8 1396.1,3295.4 1402.4,3301.2 1408.6,3303.6 1414.8,3309.1 1421.0,3316.7 1427.2,3320.9 1433.4,3314.7 1439.7,3323.3 1445.9,3311.5 1452.1,3327.5 1458.3,3326.1 1464.5,3322.1 1470.7,3322.8 1477.0,3320.5 1483.2,3329.7 1489.4,3330.3 1495.6,3325.1 1501.8,3330.9 1508.0,3324.2 1514.3,3330.8 1520.5,3329.2 1526.7,3325.5 1532.9,3329.7 1539.1,3327.5 1545.3,3323.3 1551.6,3330.8 1557.8,3327.7 1564.0,3324.7 1570.2,3329.5 1576.4,3330.9 1582.6,3326.4 1588.9,3329.0 1595.1,3332.8 1601.3,3329.7 1607.5,3328.4 1613.7,3326.4 1619.9,3331.7 1626.2,3329.2 1632.4,3329.6 1638.6,3328.5 1644.8,3328.3 1651.0,3327.7 1657.2,3325.8 1663.5,3329.4 1669.7,3330.0 1675.9,3330.7 1682.1,3329.1 1688.3,3329.1 1694.5,3330.6 1700.7,3327.1 1707.0,3325.4 1713.2,3328.0 1719.4,3327.3 1725.6,3327.8 1731.8,3328.8 1738.0,3327.1 1744.3,3327.9 1750.5,3327.8 1756.7,3326.7 1762.9,3328.4 1769.1,3328.0 1775.3,3327.2 1781.6,3320.4 1787.8,3317.6 1794.0,3299.2 1800.2,3288.7 1806.4,3270.6 1812.6,3246.5 1818.9,3199.2 1825.1,3158.5 1831.3,3107.8 1837.5,3042.4 1843.7,2961.9 1849.9,2857.9 1856.2,2741.4 1862.4,2600.7 1868.6,2498.4 1874.8,2413.8 1881.0,2401.0 1887.2,2423.0 1893.5,2577.5 1899.7,2659.9 1905.9,2794.4 1912.1,2905.1 1918.3,2999.0 1924.5,3083.7 1930.8,3129.6 1937.0,3192.4 1943.2,3215.2 1949.4,3260.5 1955.6,3273.5 1961.8,3289.7 1968.1,3301.3 1974.3,3318.2 1980.5,3320.3 1986.7,3322.6 1992.9,3323.3 1999.1,3327.8 2005.3,3328.0 2011.6,3329.9 2017.8,3331.5 2024.0,3326.9 2030.2,3327.5 2036.4,3327.1 2042.6,3327.5 2048.9,3331.0 2055.1,3332.8 2061.3,3328.5 2067.5,3329.2 2073.7,3324.9 2079.9,3324.6 2086.2,3327.8 2092.4,3327.5 2098.6,3325.4 2104.8,3325.8 2111.0,3327.1 2117.2,3330.8 2123.5,3332.0 2129.7,3328.5 2135.9,3330.8 2142.1,3327.7 2148.3,3329.6 2154.5,3329.9 2160.8,3328.7 2167.0,3329.5 2173.2,3328.1 2179.4,3326.4 2185.6,3326.2 2191.8,3328.2" fill="none" stroke="#00ffff" stroke-width="4.2" stroke-linejoin="round"/>
<polyline points="1215.9,3360.5 1222.1,3358.7 1228.3,3356.7 1234.5,3355.5 1240.7,3357.5 1247.0,3356.7 1253.2,3354.1 1259.4,3355.9 1265.6,3353.6 1271.8,3353.7 1278.0,3347.6 1284.3,3350.1 1290.5,3344.6 1296.7,3342.9 1302.9,3336.1 1309.1,3336.5 1315.3,3337.3 1321.6,3322.2 1327.8,3323.4 1334.0,3317.6 1340.2,3317.3 1346.4,3320.1 1352.6,3318.4 1358.8,3316.0 1365.1,3306.5 1371.3,3322.3 1377.5,3316.1 1383.7,3325.5 1389.9,3333.0 1396.1,3332.6 1402.4,3337.2 1408.6,3339.1 1414.8,3333.5 1421.0,3340.6 1427.2,3341.2 1433.4,3345.5 1439.7,3348.9 1445.9,3349.0 1452.1,3353.1 1458.3,3352.2 1464.5,3357.7 1470.7,3354.5 1477.0,3359.4 1483.2,3362.7 1489.4,3357.7 1495.6,3354.5 1501.8,3355.5 1508.0,3358.4 1514.3,3356.2 1520.5,3360.1 1526.7,3357.9 1532.9,3356.7 1539.1,3357.3 1545.3,3361.7 1551.6,3352.4 1557.8,3357.7 1564.0,3359.1 1570.2,3361.9 1576.4,3358.7 1582.6,3355.8 1588.9,3358.6 1595.1,3358.5 1601.3,3359.4 1607.5,3357.0 1613.7,3360.0 1619.9,3357.4 1626.2,3359.1 1632.4,3361.8 1638.6,3356.0 1644.8,3357.0 1651.0,3356.7 1657.2,3363.4 1663.5,3359.8 1669.7,3359.5 1675.9,3360.9 1682.1,3361.3 1688.3,3359.1 1694.5,3355.6 1700.7,3357.9 1707.0,3358.2 1713.2,3359.0 1719.4,3358.1 1725.6,3358.1 1731.8,3354.2 1738.0,3357.8 1744.3,3356.5 1750.5,3359.2 1756.7,3356.7 1762.9,3357.1 1769.1,3357.1 1775.3,3355.5 1781.6,3353.4 1787.8,3342.8 1794.0,3337.4 1800.2,3330.8 1806.4,3319.6 1812.6,3295.8 1818.9,3280.0 1825.1,3271.3 1831.3,3220.7 1837.5,3181.2 1843.7,3149.7 1849.9,3115.4 1856.2,3065.4 1862.4,2991.3 1868.6,2913.3 1874.8,2824.3 1881.0,2779.5 1887.2,2746.8 1893.5,2728.4 1899.7,2749.3 1905.9,2792.9 1912.1,2884.6 1918.3,2958.7 1924.5,3005.7 1930.8,3067.3 1937.0,3134.5 1943.2,3162.4 1949.4,3215.5 1955.6,3242.1 1961.8,3264.4 1968.1,3296.1 1974.3,3301.8 1980.5,3320.8 1986.7,3332.5 1992.9,3339.0 1999.1,3351.0 2005.3,3348.5 2011.6,3352.5 2017.8,3357.6 2024.0,3355.7 2030.2,3360.5 2036.4,3362.1 2042.6,3356.9 2048.9,3360.6 2055.1,3358.2 2061.3,3358.9 2067.5,3359.5 2073.7,3360.6 2079.9,3359.8 2086.2,3360.4 2092.4,3361.4 2098.6,3358.9 2104.8,3359.3 2111.0,3359.4 2117.2,3360.6 2123.5,3362.7 2129.7,3362.6 2135.9,3366.3 2142.1,3363.7 2148.3,3358.6 2154.5,3359.7 2160.8,3358.0 2167.0,3357.3 2173.2,3358.0 2179.4,3360.3 2185.6,3360.7 2191.8,3358.1" fill="none" stroke="#00ffff" stroke-width="4.2" stroke-linejoin="round"/>
<polyline points="1215.9,3384.6 1222.1,3387.9 1228.3,3381.9 1234.5,3385.2 1240.7,3381.9 1247.0,3382.8 1253.2,3386.1 1259.4,3386.7 1265.6,3383.0 1271.8,3385.3 1278.0,3377.7 1284.3,3381.7 1290.5,3371.5 1296.7,3374.3 1302.9,3371.1 1309.1,3363.6 1315.3,3360.4 1321.6,3348.3 1327.8,3346.3 1334.0,3339.9 1340.2,3337.0 1346.4,3329.6 1352.6,3346.0 1358.8,3345.5 1365.1,3359.7 1371.3,3358.6 1377.5,3367.0 1383.7,3373.4 1389.9,3377.2 1396.1,3378.2 1402.4,3377.4 1408.6,3383.7 1414.8,3382.4 1421.0,3387.0 1427.2,3385.5 1433.4,3382.3 1439.7,3386.7 1445.9,3387.7 1452.1,3387.1 1458.3,3384.3 1464.5,3381.7 1470.7,3385.9 1477.0,3386.4 1483.2,3385.0 1489.4,3383.6 1495.6,3385.7 1501.8,3383.5 1508.0,3388.2 1514.3,3384.7 1520.5,3383.3 1526.7,3386.3 1532.9,3385.1 1539.1,3386.8 1545.3,3386.1 1551.6,3384.8 1557.8,3386.9 1564.0,3385.0 1570.2,3384.7 1576.4,3386.5 1582.6,3388.1 1588.9,3383.0 1595.1,3388.6 1601.3,3385.0 1607.5,3388.1 1613.7,3385.7 1619.9,3383.5 1626.2,3386.9 1632.4,3384.0 1638.6,3385.9 1644.8,3385.9 1651.0,3386.4 1657.2,3387.4 1663.5,3387.0 1669.7,3384.2 1675.9,3386.0 1682.1,3382.5 1688.3,3386.6 1694.5,3386.1 1700.7,3388.8 1707.0,3386.8 1713.2,3386.7 1719.4,3385.4 1725.6,3384.2 1731.8,3385.4 1738.0,3387.7 1744.3,3386.8 1750.5,3388.4 1756.7,3386.5 1762.9,3387.0 1769.1,3385.7 1775.3,3385.1 1781.6,3384.7 1787.8,3379.3 1794.0,3380.2 1800.2,3371.3 1806.4,3366.5 1812.6,3352.8 1818.9,3344.8 1825.1,3333.4 1831.3,3321.1 1837.5,3291.8 1843.7,3270.0 1849.9,3239.1 1856.2,3190.8 1862.4,3155.7 1868.6,3102.3 1874.8,3046.7 1881.0,2995.6 1887.2,2928.6 1893.5,2891.9 1899.7,2874.7 1905.9,2913.7 1912.1,2987.8 1918.3,3035.4 1924.5,3085.2 1930.8,3130.0 1937.0,3180.6 1943.2,3221.3 1949.4,3257.9 1955.6,3282.3 1961.8,3321.2 1968.1,3333.9 1974.3,3340.9 1980.5,3356.2 1986.7,3367.1 1992.9,3372.4 1999.1,3375.1 2005.3,3386.9 2011.6,3384.3 2017.8,3386.7 2024.0,3385.5 2030.2,3389.1 2036.4,3385.2 2042.6,3388.6 2048.9,3386.7 2055.1,3385.8 2061.3,3384.2 2067.5,3386.9 2073.7,3387.0 2079.9,3385.3 2086.2,3388.2 2092.4,3385.1 2098.6,3386.8 2104.8,3386.6 2111.0,3384.1 2117.2,3386.8 2123.5,3385.5 2129.7,3386.3 2135.9,3383.9 2142.1,3386.9 2148.3,3384.1 2154.5,3384.6 2160.8,3386.9 2167.0,3385.2 2173.2,3387.1 2179.4,3386.0 2185.6,3386.5 2191.8,3386.5" fill="none" stroke="#0000e6" stroke-width="4.2" stroke-linejoin="round"/>
<polyline points="1215.9,3413.3 1222.1,3413.5 1228.3,3410.0 1234.5,3412.8 1240.7,3411.0 1247.0,3411.0 1253.2,3408.5 1259.4,3411.9 1265.6,3413.4 1271.8,3411.0 1278.0,3411.5 1284.3,3407.2 1290.5,3405.8 1296.7,3398.6 1302.9,3400.8 1309.1,3391.8 1315.3,3388.9 1321.6,3378.7 1327.8,3366.8 1334.0,3366.2 1340.2,3349.6 1346.4,3350.1 1352.6,3353.4 1358.8,3359.7 1365.1,3372.0 1371.3,3371.0 1377.5,3384.0 1383.7,3389.1 1389.9,3397.9 1396.1,3401.8 1402.4,3406.1 1408.6,3408.9 1414.8,3410.6 1421.0,3409.9 1427.2,3410.5 1433.4,3411.1 1439.7,3413.0 1445.9,3409.3 1452.1,3411.8 1458.3,3415.7 1464.5,3410.4 1470.7,3408.6 1477.0,3412.1 1483.2,3414.9 1489.4,3409.0 1495.6,3412.7 1501.8,3412.8 1508.0,3410.2 1514.3,3410.6 1520.5,3410.0 1526.7,3410.5 1532.9,3412.4 1539.1,3411.6 1545.3,3413.3 1551.6,3412.1 1557.8,3414.0 1564.0,3411.4 1570.2,3412.3 1576.4,3413.4 1582.6,3412.3 1588.9,3413.1 1595.1,3412.1 1601.3,3413.8 1607.5,3409.5 1613.7,3411.1 1619.9,3411.7 1626.2,3413.3 1632.4,3411.8 1638.6,3414.0 1644.8,3410.9 1651.0,3411.2 1657.2,3413.5 1663.5,3411.4 1669.7,3409.6 1675.9,3411.2 1682.1,3415.4 1688.3,3409.9 1694.5,3410.8 1700.7,3412.9 1707.0,3410.8 1713.2,3414.6 1719.4,3410.4 1725.6,3412.7 1731.8,3411.4 1738.0,3411.0 1744.3,3410.8 1750.5,3413.9 1756.7,3412.1 1762.9,3409.7 1769.1,3413.0 1775.3,3409.5 1781.6,3411.1 1787.8,3405.8 1794.0,3410.9 1800.2,3406.2 1806.4,3398.6 1812.6,3392.1 1818.9,3391.2 1825.1,3381.0 1831.3,3362.9 1837.5,3344.5 1843.7,3317.5 1849.9,3295.9 1856.2,3267.3 1862.4,3210.1 1868.6,3180.0 1874.8,3113.1 1881.0,3054.5 1887.2,3008.3 1893.5,2980.5 1899.7,2954.0 1905.9,2974.4 1912.1,3021.3 1918.3,3069.2 1924.5,3125.2 1930.8,3183.7 1937.0,3231.3 1943.2,3258.6 1949.4,3292.0 1955.6,3323.8 1961.8,3347.2 1968.1,3361.0 1974.3,3374.5 1980.5,3387.2 1986.7,3392.5 1992.9,3398.5 1999.1,3408.0 2005.3,3410.0 2011.6,3409.5 2017.8,3410.8 2024.0,3412.7 2030.2,3411.7 2036.4,3411.4 2042.6,3413.1 2048.9,3411.3 2055.1,3410.9 2061.3,3411.2 2067.5,3410.2 2073.7,3411.9 2079.9,3411.7 2086.2,3412.7 2092.4,3412.1 2098.6,3412.4 2104.8,3412.0 2111.0,3411.6 2117.2,3411.9 2123.5,3412.1 2129.7,3411.5 2135.9,3414.8 2142.1,3412.5 2148.3,3411.8 2154.5,3412.7 2160.8,3413.7 2167.0,3410.9 2173.2,3411.8 2179.4,3411.0 2185.6,3412.4 2191.8,3411.4" fill="none" stroke="#0000a8" stroke-width="4.2" stroke-linejoin="round"/>
<polyline points="1215.9,3435.4 1222.1,3429.3 1228.3,3435.4 1234.5,3435.7 1240.7,3431.8 1247.0,3430.5 1253.2,3431.7 1259.4,3437.4 1265.6,3425.8 1271.8,3419.2 1278.0,3419.9 1284.3,3422.3 1290.5,3412.7 1296.7,3404.2 1302.9,3392.0 1309.1,3387.5 1315.3,3380.3 1321.6,3361.6 1327.8,3368.9 1334.0,3368.9 1340.2,3360.7 1346.4,3357.4 1352.6,3387.6 1358.8,3385.6 1365.1,3395.2 1371.3,3403.0 1377.5,3406.0 1383.7,3407.5 1389.9,3418.2 1396.1,3428.2 1402.4,3428.4 1408.6,3428.0 1414.8,3423.7 1421.0,3431.2 1427.2,3427.3 1433.4,3430.1 1439.7,3434.9 1445.9,3433.9 1452.1,3429.4 1458.3,3426.2 1464.5,3432.1 1470.7,3430.3 1477.0,3433.8 1483.2,3433.0 1489.4,3436.0 1495.6,3431.0 1501.8,3429.4 1508.0,3434.1 1514.3,3428.9 1520.5,3429.4 1526.7,3433.5 1532.9,3435.1 1539.1,3432.1 1545.3,3429.9 1551.6,3428.1 1557.8,3425.8 1564.0,3433.0 1570.2,3430.0 1576.4,3427.9 1582.6,3431.3 1588.9,3428.8 1595.1,3433.4 1601.3,3427.4 1607.5,3435.0 1613.7,3431.3 1619.9,3431.5 1626.2,3432.7 1632.4,3428.5 1638.6,3432.3 1644.8,3431.1 1651.0,3430.4 1657.2,3433.6 1663.5,3430.9 1669.7,3436.2 1675.9,3431.6 1682.1,3433.4 1688.3,3432.6 1694.5,3434.1 1700.7,3433.9 1707.0,3429.4 1713.2,3434.1 1719.4,3432.5 1725.6,3435.1 1731.8,3431.2 1738.0,3435.7 1744.3,3434.9 1750.5,3431.5 1756.7,3431.0 1762.9,3434.8 1769.1,3433.9 1775.3,3431.4 1781.6,3435.6 1787.8,3431.6 1794.0,3428.7 1800.2,3421.7 1806.4,3411.6 1812.6,3400.0 1818.9,3376.1 1825.1,3369.5 1831.3,3347.2 1837.5,3303.6 1843.7,3280.7 1849.9,3232.6 1856.2,3167.9 1862.4,3094.1 1868.6,3020.8 1874.8,2963.9 1881.0,2884.9 1887.2,2829.8 1893.5,2857.6 1899.7,2924.9 1905.9,2962.6 1912.1,3081.6 1918.3,3131.1 1924.5,3209.8 1930.8,3260.0 1937.0,3295.7 1943.2,3338.5 1949.4,3358.3 1955.6,3380.3 1961.8,3395.2 1968.1,3399.9 1974.3,3418.9 1980.5,3424.2 1986.7,3424.0 1992.9,3431.5 1999.1,3429.4 2005.3,3434.5 2011.6,3436.9 2017.8,3435.7 2024.0,3435.3 2030.2,3433.1 2036.4,3437.5 2042.6,3433.8 2048.9,3425.8 2055.1,3431.0 2061.3,3433.9 2067.5,3435.2 2073.7,3433.6 2079.9,3435.2 2086.2,3436.0 2092.4,3427.5 2098.6,3432.3 2104.8,3432.0 2111.0,3429.7 2117.2,3429.0 2123.5,3435.3 2129.7,3433.4 2135.9,3434.5 2142.1,3431.6 2148.3,3434.9 2154.5,3429.9 2160.8,3432.6 2167.0,3427.4 2173.2,3434.6 2179.4,3433.5 2185.6,3433.1 2191.8,3433.1" fill="none" stroke="#000078" stroke-width="4.2" stroke-linejoin="round"/>
<polyline points="1215.9,3465.9 1222.1,3466.7 1228.3,3466.2 1234.5,3466.9 1240.7,3464.8 1247.0,3463.4 1253.2,3462.9 1259.4,3465.7 1265.6,3459.1 1271.8,3464.8 1278.0,3462.1 1284.3,3456.3 1290.5,3459.0 1296.7,3457.8 1302.9,3457.0 1309.1,3456.0 1315.3,3445.9 1321.6,3437.0 1327.8,3443.9 1334.0,3441.3 1340.2,3439.5 1346.4,3429.5 1352.6,3440.3 1358.8,3438.3 1365.1,3436.2 1371.3,3444.0 1377.5,3450.0 1383.7,3443.6 1389.9,3461.7 1396.1,3460.0 1402.4,3463.8 1408.6,3462.8 1414.8,3459.9 1421.0,3465.0 1427.2,3461.5 1433.4,3469.0 1439.7,3465.2 1445.9,3465.7 1452.1,3462.4 1458.3,3466.7 1464.5,3467.2 1470.7,3464.4 1477.0,3464.6 1483.2,3463.0 1489.4,3464.7 1495.6,3464.4 1501.8,3465.7 1508.0,3465.7 1514.3,3467.4 1520.5,3468.0 1526.7,3465.8 1532.9,3463.8 1539.1,3467.5 1545.3,3468.5 1551.6,3466.2 1557.8,3467.0 1564.0,3464.7 1570.2,3468.3 1576.4,3467.8 1582.6,3464.8 1588.9,3466.0 1595.1,3464.5 1601.3,3466.2 1607.5,3466.6 1613.7,3467.8 1619.9,3466.5 1626.2,3466.5 1632.4,3466.8 1638.6,3465.5 1644.8,3465.9 1651.0,3465.5 1657.2,3467.3 1663.5,3466.5 1669.7,3463.8 1675.9,3465.9 1682.1,3466.7 1688.3,3466.3 1694.5,3464.7 1700.7,3464.7 1707.0,3465.3 1713.2,3465.6 1719.4,3466.6 1725.6,3465.5 1731.8,3464.3 1738.0,3466.1 1744.3,3467.2 1750.5,3465.5 1756.7,3468.1 1762.9,3468.1 1769.1,3464.4 1775.3,3466.5 1781.6,3464.7 1787.8,3462.7 1794.0,3463.2 1800.2,3460.6 1806.4,3454.0 1812.6,3457.5 1818.9,3451.0 1825.1,3443.1 1831.3,3436.6 1837.5,3429.7 1843.7,3415.2 1849.9,3398.5 1856.2,3385.8 1862.4,3352.8 1868.6,3346.4 1874.8,3308.1 1881.0,3283.8 1887.2,3241.2 1893.5,3213.3 1899.7,3201.6 1905.9,3198.3 1912.1,3222.4 1918.3,3239.2 1924.5,3257.8 1930.8,3314.4 1937.0,3330.6 1943.2,3365.3 1949.4,3386.2 1955.6,3393.8 1961.8,3409.1 1968.1,3417.3 1974.3,3434.9 1980.5,3436.1 1986.7,3454.1 1992.9,3456.1 1999.1,3459.5 2005.3,3460.5 2011.6,3462.9 2017.8,3463.3 2024.0,3460.2 2030.2,3464.8 2036.4,3465.0 2042.6,3467.0 2048.9,3464.2 2055.1,3466.1 2061.3,3466.7 2067.5,3466.5 2073.7,3464.5 2079.9,3465.2 2086.2,3464.3 2092.4,3465.1 2098.6,3466.1 2104.8,3465.0 2111.0,3465.8 2117.2,3465.8 2123.5,3466.7 2129.7,3466.5 2135.9,3466.5 2142.1,3466.9 2148.3,3465.3 2154.5,3467.0 2160.8,3465.9 2167.0,3467.3 2173.2,3466.0 2179.4,3467.4 2185.6,3466.0 2191.8,3463.9" fill="none" stroke="#800080" stroke-width="4.2" stroke-linejoin="round"/>
<polyline points="1215.9,3491.4 1222.1,3492.4 1228.3,3492.0 1234.5,3492.3 1240.7,3490.5 1247.0,3490.0 1253.2,3486.8 1259.4,3491.1 1265.6,3490.4 1271.8,3489.1 1278.0,3480.8 1284.3,3482.0 1290.5,3480.2 1296.7,3479.6 1302.9,3474.1 1309.1,3481.3 1315.3,3476.1 1321.6,3471.3 1327.8,3469.1 1334.0,3464.2 1340.2,3473.6 1346.4,3472.1 1352.6,3473.6 1358.8,3477.3 1365.1,3473.4 1371.3,3471.8 1377.5,3487.0 1383.7,3481.5 1389.9,3486.4 1396.1,3483.0 1402.4,3489.0 1408.6,3492.5 1414.8,3490.6 1421.0,3487.9 1427.2,3489.9 1433.4,3488.4 1439.7,3491.4 1445.9,3493.5 1452.1,3493.2 1458.3,3491.6 1464.5,3492.7 1470.7,3492.4 1477.0,3490.5 1483.2,3491.3 1489.4,3493.1 1495.6,3495.3 1501.8,3492.7 1508.0,3492.9 1514.3,3491.1 1520.5,3493.7 1526.7,3490.7 1532.9,3493.3 1539.1,3493.6 1545.3,3492.9 1551.6,3492.0 1557.8,3492.0 1564.0,3494.8 1570.2,3494.1 1576.4,3493.3 1582.6,3494.2 1588.9,3492.5 1595.1,3493.0 1601.3,3492.2 1607.5,3492.2 1613.7,3492.7 1619.9,3494.5 1626.2,3492.2 1632.4,3492.5 1638.6,3493.1 1644.8,3494.8 1651.0,3491.9 1657.2,3496.7 1663.5,3493.0 1669.7,3492.7 1675.9,3493.4 1682.1,3492.5 1688.3,3492.7 1694.5,3492.0 1700.7,3495.7 1707.0,3491.8 1713.2,3494.2 1719.4,3494.1 1725.6,3492.8 1731.8,3494.1 1738.0,3494.2 1744.3,3493.8 1750.5,3489.9 1756.7,3493.7 1762.9,3492.7 1769.1,3490.8 1775.3,3488.0 1781.6,3487.1 1787.8,3480.1 1794.0,3486.6 1800.2,3476.3 1806.4,3481.9 1812.6,3475.6 1818.9,3475.3 1825.1,3461.5 1831.3,3457.2 1837.5,3453.4 1843.7,3436.9 1849.9,3433.0 1856.2,3432.2 1862.4,3430.9 1868.6,3400.9 1874.8,3399.9 1881.0,3376.7 1887.2,3367.2 1893.5,3357.3 1899.7,3338.0 1905.9,3330.0 1912.1,3323.5 1918.3,3326.6 1924.5,3339.0 1930.8,3356.5 1937.0,3366.8 1943.2,3384.6 1949.4,3401.4 1955.6,3414.3 1961.8,3433.2 1968.1,3447.8 1974.3,3457.4 1980.5,3455.6 1986.7,3464.7 1992.9,3472.0 1999.1,3478.2 2005.3,3484.8 2011.6,3484.0 2017.8,3484.6 2024.0,3491.7 2030.2,3492.7 2036.4,3491.7 2042.6,3491.9 2048.9,3491.0 2055.1,3492.6 2061.3,3491.4 2067.5,3493.1 2073.7,3493.3 2079.9,3494.0 2086.2,3494.7 2092.4,3492.5 2098.6,3493.4 2104.8,3493.8 2111.0,3495.0 2117.2,3492.6 2123.5,3494.5 2129.7,3494.6 2135.9,3493.3 2142.1,3495.4 2148.3,3492.4 2154.5,3494.2 2160.8,3493.2 2167.0,3493.7 2173.2,3494.1 2179.4,3496.0 2185.6,3491.8 2191.8,3495.6" fill="none" stroke="#ff00ff" stroke-width="4.2" stroke-linejoin="round"/>
<polyline points="1215.9,3515.1 1222.1,3514.2 1228.3,3516.6 1234.5,3515.7 1240.7,3516.7 1247.0,3514.5 1253.2,3515.3 1259.4,3511.7 1265.6,3512.5 1271.8,3510.9 1278.0,3509.5 1284.3,3511.0 1290.5,3514.5 1296.7,3508.7 1302.9,3510.6 1309.1,3507.4 1315.3,3509.7 1321.6,3504.2 1327.8,3508.9 1334.0,3506.1 1340.2,3503.0 1346.4,3503.3 1352.6,3507.9 1358.8,3507.1 1365.1,3504.4 1371.3,3504.9 1377.5,3507.2 1383.7,3507.2 1389.9,3510.3 1396.1,3515.2 1402.4,3512.7 1408.6,3511.3 1414.8,3514.2 1421.0,3513.3 1427.2,3513.5 1433.4,3515.7 1439.7,3512.4 1445.9,3515.0 1452.1,3519.9 1458.3,3515.3 1464.5,3516.9 1470.7,3517.6 1477.0,3516.1 1483.2,3516.5 1489.4,3519.2 1495.6,3517.3 1501.8,3516.7 1508.0,3516.2 1514.3,3518.9 1520.5,3518.7 1526.7,3517.5 1532.9,3518.6 1539.1,3517.5 1545.3,3517.3 1551.6,3516.7 1557.8,3518.5 1564.0,3517.2 1570.2,3517.5 1576.4,3518.5 1582.6,3518.9 1588.9,3516.1 1595.1,3517.9 1601.3,3518.4 1607.5,3518.3 1613.7,3515.8 1619.9,3518.3 1626.2,3517.2 1632.4,3518.7 1638.6,3519.3 1644.8,3517.7 1651.0,3518.5 1657.2,3517.2 1663.5,3518.6 1669.7,3518.5 1675.9,3517.7 1682.1,3518.0 1688.3,3516.7 1694.5,3517.4 1700.7,3515.3 1707.0,3518.2 1713.2,3517.7 1719.4,3515.2 1725.6,3516.6 1731.8,3516.8 1738.0,3518.8 1744.3,3516.6 1750.5,3516.9 1756.7,3516.3 1762.9,3513.3 1769.1,3514.8 1775.3,3515.9 1781.6,3513.8 1787.8,3508.6 1794.0,3507.5 1800.2,3509.0 1806.4,3510.3 1812.6,3500.5 1818.9,3501.0 1825.1,3502.6 1831.3,3495.6 1837.5,3493.0 1843.7,3483.6 1849.9,3478.6 1856.2,3469.2 1862.4,3473.7 1868.6,3466.4 1874.8,3465.0 1881.0,3443.7 1887.2,3448.1 1893.5,3436.0 1899.7,3432.5 1905.9,3420.5 1912.1,3428.2 1918.3,3431.0 1924.5,3442.5 1930.8,3447.3 1937.0,3456.6 1943.2,3462.9 1949.4,3478.3 1955.6,3486.5 1961.8,3489.3 1968.1,3488.3 1974.3,3494.7 1980.5,3499.2 1986.7,3509.1 1992.9,3506.6 1999.1,3511.6 2005.3,3512.6 2011.6,3513.4 2017.8,3514.0 2024.0,3516.1 2030.2,3518.1 2036.4,3517.0 2042.6,3515.4 2048.9,3517.0 2055.1,3518.0 2061.3,3518.2 2067.5,3515.9 2073.7,3517.8 2079.9,3518.3 2086.2,3517.5 2092.4,3516.7 2098.6,3517.2 2104.8,3516.8 2111.0,3517.4 2117.2,3516.7 2123.5,3521.4 2129.7,3516.3 2135.9,3516.4 2142.1,3517.0 2148.3,3517.4 2154.5,3515.9 2160.8,3515.6 2167.0,3517.2 2173.2,3516.1 2179.4,3517.6 2185.6,3516.8 2191.8,3518.0" fill="none" stroke="#ff80ff" stroke-width="4.2" stroke-linejoin="round"/>
<line x1="208.1" y1="2139.0" x2="208.1" y2="3546.9" stroke="#000" stroke-width="4.9"/>
<line x1="2192.5" y1="2139.0" x2="2192.5" y2="3546.9" stroke="#000" stroke-width="4.9"/>
<line x1="208.1" y1="2141.4" x2="1185.0" y2="2141.4" stroke="#000" stroke-width="4.9"/>
<line x1="1216.0" y1="2141.4" x2="2192.5" y2="2141.4" stroke="#000" stroke-width="4.9"/>
<line x1="208.1" y1="3544.5" x2="1185.0" y2="3544.5" stroke="#000" stroke-width="4.9"/>
<line x1="1216.0" y1="3544.5" x2="2192.5" y2="3544.5" stroke="#000" stroke-width="4.9"/>
<line x1="1165.8" y1="3568.6" x2="1200.3" y2="3518.9" stroke="#000" stroke-width="4.6"/>
<line x1="1200.4" y1="3568.2" x2="1234.6" y2="3518.9" stroke="#000" stroke-width="4.6"/>
<line x1="1165.8" y1="2166.9" x2="1200.1" y2="2117.0" stroke="#000" stroke-width="4.6"/>
<line x1="1200.6" y1="2166.4" x2="1233.8" y2="2117.0" stroke="#000" stroke-width="4.6"/>
<line x1="195.1" y1="2166.0" x2="206.2" y2="2166.0" stroke="#000" stroke-width="4.9"/>
<line x1="195.1" y1="2190.6" x2="206.2" y2="2190.6" stroke="#000" stroke-width="4.9"/>
<line x1="195.1" y1="2215.2" x2="206.2" y2="2215.2" stroke="#000" stroke-width="4.9"/>
<line x1="195.1" y1="2239.8" x2="206.2" y2="2239.8" stroke="#000" stroke-width="4.9"/>
<line x1="183.3" y1="2264.4" x2="206.2" y2="2264.4" stroke="#000" stroke-width="4.9"/>
<line x1="195.1" y1="2289.0" x2="206.2" y2="2289.0" stroke="#000" stroke-width="4.9"/>
<line x1="195.1" y1="2313.6" x2="206.2" y2="2313.6" stroke="#000" stroke-width="4.9"/>
<line x1="195.1" y1="2338.2" x2="206.2" y2="2338.2" stroke="#000" stroke-width="4.9"/>
<line x1="195.1" y1="2362.8" x2="206.2" y2="2362.8" stroke="#000" stroke-width="4.9"/>
<line x1="195.1" y1="2387.4" x2="206.2" y2="2387.4" stroke="#000" stroke-width="4.9"/>
<line x1="195.1" y1="2412.0" x2="206.2" y2="2412.0" stroke="#000" stroke-width="4.9"/>
<line x1="195.1" y1="2436.6" x2="206.2" y2="2436.6" stroke="#000" stroke-width="4.9"/>
<line x1="195.1" y1="2461.2" x2="206.2" y2="2461.2" stroke="#000" stroke-width="4.9"/>
<line x1="195.1" y1="2485.8" x2="206.2" y2="2485.8" stroke="#000" stroke-width="4.9"/>
<line x1="183.3" y1="2510.4" x2="206.2" y2="2510.4" stroke="#000" stroke-width="4.9"/>
<line x1="195.1" y1="2535.0" x2="206.2" y2="2535.0" stroke="#000" stroke-width="4.9"/>
<line x1="195.1" y1="2559.6" x2="206.2" y2="2559.6" stroke="#000" stroke-width="4.9"/>
<line x1="195.1" y1="2584.2" x2="206.2" y2="2584.2" stroke="#000" stroke-width="4.9"/>
<line x1="195.1" y1="2608.8" x2="206.2" y2="2608.8" stroke="#000" stroke-width="4.9"/>
<line x1="195.1" y1="2633.4" x2="206.2" y2="2633.4" stroke="#000" stroke-width="4.9"/>
<line x1="195.1" y1="2658.0" x2="206.2" y2="2658.0" stroke="#000" stroke-width="4.9"/>
<line x1="195.1" y1="2682.6" x2="206.2" y2="2682.6" stroke="#000" stroke-width="4.9"/>
<line x1="195.1" y1="2707.2" x2="206.2" y2="2707.2" stroke="#000" stroke-width="4.9"/>
<line x1="195.1" y1="2731.8" x2="206.2" y2="2731.8" stroke="#000" stroke-width="4.9"/>
<line x1="183.3" y1="2756.4" x2="206.2" y2="2756.4" stroke="#000" stroke-width="4.9"/>
<line x1="195.1" y1="2781.0" x2="206.2" y2="2781.0" stroke="#000" stroke-width="4.9"/>
<line x1="195.1" y1="2805.6" x2="206.2" y2="2805.6" stroke="#000" stroke-width="4.9"/>
<line x1="195.1" y1="2830.2" x2="206.2" y2="2830.2" stroke="#000" stroke-width="4.9"/>
<line x1="195.1" y1="2854.8" x2="206.2" y2="2854.8" stroke="#000" stroke-width="4.9"/>
<line x1="195.1" y1="2879.4" x2="206.2" y2="2879.4" stroke="#000" stroke-width="4.9"/>
<line x1="195.1" y1="2904.0" x2="206.2" y2="2904.0" stroke="#000" stroke-width="4.9"/>
<line x1="195.1" y1="2928.6" x2="206.2" y2="2928.6" stroke="#000" stroke-width="4.9"/>
<line x1="195.1" y1="2953.2" x2="206.2" y2="2953.2" stroke="#000" stroke-width="4.9"/>
<line x1="195.1" y1="2977.8" x2="206.2" y2="2977.8" stroke="#000" stroke-width="4.9"/>
<line x1="183.3" y1="3002.4" x2="206.2" y2="3002.4" stroke="#000" stroke-width="4.9"/>
<line x1="195.1" y1="3027.0" x2="206.2" y2="3027.0" stroke="#000" stroke-width="4.9"/>
<line x1="195.1" y1="3051.6" x2="206.2" y2="3051.6" stroke="#000" stroke-width="4.9"/>
<line x1="195.1" y1="3076.2" x2="206.2" y2="3076.2" stroke="#000" stroke-width="4.9"/>
<line x1="195.1" y1="3100.8" x2="206.2" y2="3100.8" stroke="#000" stroke-width="4.9"/>
<line x1="195.1" y1="3125.4" x2="206.2" y2="3125.4" stroke="#000" stroke-width="4.9"/>
<line x1="195.1" y1="3150.0" x2="206.2" y2="3150.0" stroke="#000" stroke-width="4.9"/>
<line x1="195.1" y1="3174.6" x2="206.2" y2="3174.6" stroke="#000" stroke-width="4.9"/>
<line x1="195.1" y1="3199.2" x2="206.2" y2="3199.2" stroke="#000" stroke-width="4.9"/>
<line x1="195.1" y1="3223.8" x2="206.2" y2="3223.8" stroke="#000" stroke-width="4.9"/>
<line x1="183.3" y1="3248.4" x2="206.2" y2="3248.4" stroke="#000" stroke-width="4.9"/>
<line x1="195.1" y1="3273.0" x2="206.2" y2="3273.0" stroke="#000" stroke-width="4.9"/>
<line x1="195.1" y1="3297.6" x2="206.2" y2="3297.6" stroke="#000" stroke-width="4.9"/>
<line x1="195.1" y1="3322.2" x2="206.2" y2="3322.2" stroke="#000" stroke-width="4.9"/>
<line x1="195.1" y1="3346.8" x2="206.2" y2="3346.8" stroke="#000" stroke-width="4.9"/>
<line x1="195.1" y1="3371.4" x2="206.2" y2="3371.4" stroke="#000" stroke-width="4.9"/>
<line x1="195.1" y1="3396.0" x2="206.2" y2="3396.0" stroke="#000" stroke-width="4.9"/>
<line x1="195.1" y1="3420.6" x2="206.2" y2="3420.6" stroke="#000" stroke-width="4.9"/>
<line x1="195.1" y1="3445.2" x2="206.2" y2="3445.2" stroke="#000" stroke-width="4.9"/>
<line x1="195.1" y1="3469.8" x2="206.2" y2="3469.8" stroke="#000" stroke-width="4.9"/>
<line x1="183.3" y1="3494.4" x2="206.2" y2="3494.4" stroke="#000" stroke-width="4.9"/>
<line x1="195.1" y1="3519.0" x2="206.2" y2="3519.0" stroke="#000" stroke-width="4.9"/>
<line x1="195.1" y1="3543.6" x2="206.2" y2="3543.6" stroke="#000" stroke-width="4.9"/>
<line x1="207.9" y1="3546.4" x2="207.9" y2="3557.5" stroke="#000" stroke-width="4.9"/>
<line x1="249.4" y1="3546.4" x2="249.4" y2="3557.5" stroke="#000" stroke-width="4.9"/>
<line x1="290.9" y1="3546.4" x2="290.9" y2="3569.2" stroke="#000" stroke-width="4.9"/>
<line x1="332.3" y1="3546.4" x2="332.3" y2="3557.5" stroke="#000" stroke-width="4.9"/>
<line x1="373.8" y1="3546.4" x2="373.8" y2="3557.5" stroke="#000" stroke-width="4.9"/>
<line x1="415.3" y1="3546.4" x2="415.3" y2="3557.5" stroke="#000" stroke-width="4.9"/>
<line x1="456.8" y1="3546.4" x2="456.8" y2="3569.2" stroke="#000" stroke-width="4.9"/>
<line x1="498.2" y1="3546.4" x2="498.2" y2="3557.5" stroke="#000" stroke-width="4.9"/>
<line x1="539.7" y1="3546.4" x2="539.7" y2="3557.5" stroke="#000" stroke-width="4.9"/>
<line x1="581.2" y1="3546.4" x2="581.2" y2="3557.5" stroke="#000" stroke-width="4.9"/>
<line x1="622.6" y1="3546.4" x2="622.6" y2="3569.2" stroke="#000" stroke-width="4.9"/>
<line x1="664.1" y1="3546.4" x2="664.1" y2="3557.5" stroke="#000" stroke-width="4.9"/>
<line x1="705.6" y1="3546.4" x2="705.6" y2="3557.5" stroke="#000" stroke-width="4.9"/>
<line x1="747.1" y1="3546.4" x2="747.1" y2="3557.5" stroke="#000" stroke-width="4.9"/>
<line x1="788.5" y1="3546.4" x2="788.5" y2="3569.2" stroke="#000" stroke-width="4.9"/>
<line x1="830.0" y1="3546.4" x2="830.0" y2="3557.5" stroke="#000" stroke-width="4.9"/>
<line x1="871.5" y1="3546.4" x2="871.5" y2="3557.5" stroke="#000" stroke-width="4.9"/>
<line x1="913.0" y1="3546.4" x2="913.0" y2="3557.5" stroke="#000" stroke-width="4.9"/>
<line x1="954.5" y1="3546.4" x2="954.5" y2="3569.2" stroke="#000" stroke-width="4.9"/>
<line x1="995.9" y1="3546.4" x2="995.9" y2="3557.5" stroke="#000" stroke-width="4.9"/>
<line x1="1037.4" y1="3546.4" x2="1037.4" y2="3557.5" stroke="#000" stroke-width="4.9"/>
<line x1="1078.9" y1="3546.4" x2="1078.9" y2="3557.5" stroke="#000" stroke-width="4.9"/>
<line x1="1120.4" y1="3546.4" x2="1120.4" y2="3569.2" stroke="#000" stroke-width="4.9"/>
<line x1="1161.8" y1="3546.4" x2="1161.8" y2="3557.5" stroke="#000" stroke-width="4.9"/>
<line x1="1246.9" y1="3546.4" x2="1246.9" y2="3557.5" stroke="#000" stroke-width="4.9"/>
<line x1="1305.9" y1="3546.4" x2="1305.9" y2="3557.5" stroke="#000" stroke-width="4.9"/>
<line x1="1365.0" y1="3546.4" x2="1365.0" y2="3569.2" stroke="#000" stroke-width="4.9"/>
<line x1="1424.1" y1="3546.4" x2="1424.1" y2="3557.5" stroke="#000" stroke-width="4.9"/>
<line x1="1483.1" y1="3546.4" x2="1483.1" y2="3557.5" stroke="#000" stroke-width="4.9"/>
<line x1="1542.2" y1="3546.4" x2="1542.2" y2="3557.5" stroke="#000" stroke-width="4.9"/>
<line x1="1601.2" y1="3546.4" x2="1601.2" y2="3557.5" stroke="#000" stroke-width="4.9"/>
<line x1="1660.3" y1="3546.4" x2="1660.3" y2="3569.2" stroke="#000" stroke-width="4.9"/>
<line x1="1719.4" y1="3546.4" x2="1719.4" y2="3557.5" stroke="#000" stroke-width="4.9"/>
<line x1="1778.4" y1="3546.4" x2="1778.4" y2="3557.5" stroke="#000" stroke-width="4.9"/>
<line x1="1837.5" y1="3546.4" x2="1837.5" y2="3557.5" stroke="#000" stroke-width="4.9"/>
<line x1="1896.5" y1="3546.4" x2="1896.5" y2="3557.5" stroke="#000" stroke-width="4.9"/>
<line x1="1955.6" y1="3546.4" x2="1955.6" y2="3569.2" stroke="#000" stroke-width="4.9"/>
<line x1="2014.7" y1="3546.4" x2="2014.7" y2="3557.5" stroke="#000" stroke-width="4.9"/>
<line x1="2073.7" y1="3546.4" x2="2073.7" y2="3557.5" stroke="#000" stroke-width="4.9"/>
<line x1="2132.8" y1="3546.4" x2="2132.8" y2="3557.5" stroke="#000" stroke-width="4.9"/>
<line x1="2191.8" y1="3546.4" x2="2191.8" y2="3557.5" stroke="#000" stroke-width="4.9"/>
<text x="290.9" y="3626.8" font-size="50.6" font-family='"Liberation Sans", sans-serif' text-anchor="middle">16</text>
<text x="456.8" y="3626.8" font-size="50.6" font-family='"Liberation Sans", sans-serif' text-anchor="middle">18</text>
<text x="622.6" y="3626.8" font-size="50.6" font-family='"Liberation Sans", sans-serif' text-anchor="middle">20</text>
<text x="788.5" y="3626.8" font-size="50.6" font-family='"Liberation Sans", sans-serif' text-anchor="middle">22</text>
<text x="954.5" y="3626.8" font-size="50.6" font-family='"Liberation Sans", sans-serif' text-anchor="middle">24</text>
<text x="1120.4" y="3626.8" font-size="50.6" font-family='"Liberation Sans", sans-serif' text-anchor="middle">26</text>
<text x="1365.0" y="3626.8" font-size="50.6" font-family='"Liberation Sans", sans-serif' text-anchor="middle">27.0</text>
<text x="1660.3" y="3626.8" font-size="50.6" font-family='"Liberation Sans", sans-serif' text-anchor="middle">27.5</text>
<text x="1955.6" y="3626.8" font-size="50.6" font-family='"Liberation Sans", sans-serif' text-anchor="middle">28.0</text>
<text x="205.3" y="2111.6" font-size="65.0" font-family='"Liberation Sans", sans-serif' font-weight="bold">c)</text>
<text x="126.5" y="2945.0" font-size="65.0" font-family='"Liberation Sans", sans-serif' transform="rotate(-90 126.5 2945.0)" textLength="407.5" lengthAdjust="spacingAndGlyphs">Intensity (a.u.)</text>
<text x="1040.6" y="3727.5" font-size="65.3" font-family='"Liberation Sans", sans-serif' textLength="320.8" lengthAdjust="spacingAndGlyphs">°2<tspan font-family='"Liberation Serif", serif' font-size="65.3">θ</tspan> (8 keV)</text>
<line x1="1878.3" y1="2242.9" x2="1878.3" y2="2360.6" stroke="#ff0000" stroke-width="2.0"/>
<path d="M1869.8,2358.6 L1886.8,2358.6 L1878.3,2390.7 Z" fill="#ff0000"/>
<line x1="250.5" y1="2665.6" x2="336.6" y2="2665.6" stroke="#000000" stroke-width="3.0"/>
<text x="342.2" y="2676.4" font-size="28.5" font-family='"Liberation Sans", sans-serif' font-weight="bold" textLength="389.6" lengthAdjust="spacingAndGlyphs">V-Ce2% blade80 RT 1 1.5° 1</text>
<line x1="250.5" y1="2711.7" x2="336.6" y2="2711.7" stroke="#404040" stroke-width="3.0"/>
<text x="342.2" y="2722.5" font-size="28.5" font-family='"Liberation Sans", sans-serif' font-weight="bold" textLength="392.2" lengthAdjust="spacingAndGlyphs">V-Ce2% blade80 60°C 1.5° 1</text>
<line x1="250.5" y1="2757.7" x2="336.6" y2="2757.7" stroke="#808080" stroke-width="3.0"/>
<text x="342.2" y="2768.5" font-size="28.5" font-family='"Liberation Sans", sans-serif' font-weight="bold" textLength="392.2" lengthAdjust="spacingAndGlyphs">V-Ce2% blade80 65°C 1.5° 1</text>
<line x1="250.5" y1="2803.8" x2="336.6" y2="2803.8" stroke="#c0c0c0" stroke-width="3.0"/>
<text x="342.2" y="2814.6" font-size="28.5" font-family='"Liberation Sans", sans-serif' font-weight="bold" textLength="392.2" lengthAdjust="spacingAndGlyphs">V-Ce2% blade80 70°C 1.5° 1</text>
<line x1="250.5" y1="2849.8" x2="336.6" y2="2849.8" stroke="#00ffff" stroke-width="3.0"/>
<text x="342.2" y="2860.6" font-size="28.5" font-family='"Liberation Sans", sans-serif' font-weight="bold" textLength="392.2" lengthAdjust="spacingAndGlyphs">V-Ce2% blade80 75°C 1.5° 1</text>
<line x1="250.5" y1="2895.9" x2="336.6" y2="2895.9" stroke="#00ffff" stroke-width="3.0"/>
<text x="342.2" y="2906.7" font-size="28.5" font-family='"Liberation Sans", sans-serif' font-weight="bold" textLength="392.2" lengthAdjust="spacingAndGlyphs">V-Ce2% blade80 80°C 1.5° 1</text>
<line x1="250.5" y1="2942.0" x2="336.6" y2="2942.0" stroke="#0000e6" stroke-width="3.0"/>
<text x="342.2" y="2952.8" font-size="28.5" font-family='"Liberation Sans", sans-serif' font-weight="bold" textLength="392.2" lengthAdjust="spacingAndGlyphs">V-Ce2% blade80 85°C 1.5° 1</text>
<line x1="250.5" y1="2988.0" x2="336.6" y2="2988.0" stroke="#0000a8" stroke-width="3.0"/>
<text x="342.2" y="2998.8" font-size="28.5" font-family='"Liberation Sans", sans-serif' font-weight="bold" textLength="408.8" lengthAdjust="spacingAndGlyphs">V-Ce2% blade80 90°C   1.5° 1</text>
<line x1="250.5" y1="3034.1" x2="336.6" y2="3034.1" stroke="#000078" stroke-width="3.0"/>
<text x="342.2" y="3044.9" font-size="28.5" font-family='"Liberation Sans", sans-serif' font-weight="bold" textLength="425.4" lengthAdjust="spacingAndGlyphs">V-Ce2% blade80 90°C 2  1.5° 1</text>
<line x1="250.5" y1="3080.1" x2="336.6" y2="3080.1" stroke="#800080" stroke-width="3.0"/>
<text x="342.2" y="3090.9" font-size="28.5" font-family='"Liberation Sans", sans-serif' font-weight="bold" textLength="400.0" lengthAdjust="spacingAndGlyphs">V-Ce2% blade80 95°C  1.5° 1</text>
<line x1="250.5" y1="3126.2" x2="336.6" y2="3126.2" stroke="#ff00ff" stroke-width="3.0"/>
<text x="342.2" y="3137.0" font-size="28.5" font-family='"Liberation Sans", sans-serif' font-weight="bold" textLength="417.6" lengthAdjust="spacingAndGlyphs">V-Ce2% blade80 100°C  1.5° 1</text>
<line x1="250.5" y1="3172.3" x2="336.6" y2="3172.3" stroke="#ff80ff" stroke-width="3.0"/>
<text x="342.2" y="3183.1" font-size="28.5" font-family='"Liberation Sans", sans-serif' font-weight="bold" textLength="417.6" lengthAdjust="spacingAndGlyphs">V-Ce2% blade80 105°C  1.5° 1</text>
<line x1="803.7" y1="2141.4" x2="803.7" y2="2517.4" stroke="#000" stroke-width="4.7"/>
<line x1="208.1" y1="2515.1" x2="803.7" y2="2515.1" stroke="#000" stroke-width="4.7"/>
<rect x="367.3" y="2150.1" width="66.5" height="79.0" fill="#ff9b9b" stroke="#ff2020" stroke-width="1.2"/>
<path d="M246.8,2161.1 L263.4,2177.7 L246.8,2194.3 L230.2,2177.7 Z" fill="#fff" stroke="#0000e6" stroke-width="4.9" stroke-linejoin="miter"/>
<path d="M298.5,2229.1 L315.1,2245.7 L298.5,2262.3 L281.9,2245.7 Z" fill="#fff" stroke="#1e8cff" stroke-width="4.9" stroke-linejoin="miter"/>
<path d="M350.2,2178.7 L366.8,2195.3 L350.2,2211.9 L333.6,2195.3 Z" fill="#fff" stroke="#0000e6" stroke-width="4.9" stroke-linejoin="miter"/>
<path d="M401.8,2170.9 L418.4,2187.5 L401.8,2204.1 L385.2,2187.5 Z" fill="#fff" stroke="#0000e6" stroke-width="4.9" stroke-linejoin="miter"/>
<path d="M453.5,2168.3 L470.1,2184.9 L453.5,2201.5 L436.9,2184.9 Z" fill="#fff" stroke="#0000e6" stroke-width="4.9" stroke-linejoin="miter"/>
<path d="M505.2,2228.6 L521.8,2245.2 L505.2,2261.8 L488.6,2245.2 Z" fill="#fff" stroke="#1e8cff" stroke-width="4.9" stroke-linejoin="miter"/>
<path d="M556.9,2294.0 L573.5,2310.6 L556.9,2327.2 L540.3,2310.6 Z" fill="#fff" stroke="#00ff00" stroke-width="4.9" stroke-linejoin="miter"/>
<path d="M608.6,2293.5 L625.2,2310.1 L608.6,2326.7 L592.0,2310.1 Z" fill="#fff" stroke="#00ff00" stroke-width="4.9" stroke-linejoin="miter"/>
<path d="M660.2,2395.9 L676.8,2412.5 L660.2,2429.1 L643.6,2412.5 Z" fill="#fff" stroke="#ffff00" stroke-width="4.9" stroke-linejoin="miter"/>
<path d="M711.9,2434.3 L728.5,2450.9 L711.9,2467.5 L695.3,2450.9 Z" fill="#fff" stroke="#ff0000" stroke-width="4.9" stroke-linejoin="miter"/>
<path d="M763.6,2463.9 L780.2,2480.5 L763.6,2497.1 L747.0,2480.5 Z" fill="#fff" stroke="#ff0000" stroke-width="4.9" stroke-linejoin="miter"/>
<line x1="805.6" y1="2514.7" x2="810.6" y2="2514.7" stroke="#000" stroke-width="4.6"/>
<text x="816.1" y="2526.1" font-size="40.5" font-family='"Liberation Sans", sans-serif'>0</text>
<line x1="805.6" y1="2446.8" x2="810.6" y2="2446.8" stroke="#000" stroke-width="4.6"/>
<text x="816.1" y="2458.2" font-size="40.5" font-family='"Liberation Sans", sans-serif'>100</text>
<line x1="805.6" y1="2379.0" x2="810.6" y2="2379.0" stroke="#000" stroke-width="4.6"/>
<text x="816.1" y="2390.4" font-size="40.5" font-family='"Liberation Sans", sans-serif'>200</text>
<line x1="805.6" y1="2311.1" x2="810.6" y2="2311.1" stroke="#000" stroke-width="4.6"/>
<text x="816.1" y="2322.5" font-size="40.5" font-family='"Liberation Sans", sans-serif'>300</text>
<line x1="805.6" y1="2243.3" x2="810.6" y2="2243.3" stroke="#000" stroke-width="4.6"/>
<text x="816.1" y="2254.7" font-size="40.5" font-family='"Liberation Sans", sans-serif'>400</text>
<line x1="805.6" y1="2175.4" x2="810.6" y2="2175.4" stroke="#000" stroke-width="4.6"/>
<text x="816.1" y="2186.8" font-size="40.5" font-family='"Liberation Sans", sans-serif'>500</text>
<line x1="805.6" y1="2497.7" x2="808.8" y2="2497.7" stroke="#000" stroke-width="3.6799999999999997"/>
<line x1="805.6" y1="2480.8" x2="808.8" y2="2480.8" stroke="#000" stroke-width="3.6799999999999997"/>
<line x1="805.6" y1="2463.8" x2="808.8" y2="2463.8" stroke="#000" stroke-width="3.6799999999999997"/>
<line x1="805.6" y1="2429.9" x2="808.8" y2="2429.9" stroke="#000" stroke-width="3.6799999999999997"/>
<line x1="805.6" y1="2412.9" x2="808.8" y2="2412.9" stroke="#000" stroke-width="3.6799999999999997"/>
<line x1="805.6" y1="2396.0" x2="808.8" y2="2396.0" stroke="#000" stroke-width="3.6799999999999997"/>
<line x1="805.6" y1="2362.0" x2="808.8" y2="2362.0" stroke="#000" stroke-width="3.6799999999999997"/>
<line x1="805.6" y1="2345.1" x2="808.8" y2="2345.1" stroke="#000" stroke-width="3.6799999999999997"/>
<line x1="805.6" y1="2328.1" x2="808.8" y2="2328.1" stroke="#000" stroke-width="3.6799999999999997"/>
<line x1="805.6" y1="2294.2" x2="808.8" y2="2294.2" stroke="#000" stroke-width="3.6799999999999997"/>
<line x1="805.6" y1="2277.2" x2="808.8" y2="2277.2" stroke="#000" stroke-width="3.6799999999999997"/>
<line x1="805.6" y1="2260.3" x2="808.8" y2="2260.3" stroke="#000" stroke-width="3.6799999999999997"/>
<line x1="805.6" y1="2226.3" x2="808.8" y2="2226.3" stroke="#000" stroke-width="3.6799999999999997"/>
<line x1="805.6" y1="2209.4" x2="808.8" y2="2209.4" stroke="#000" stroke-width="3.6799999999999997"/>
<line x1="805.6" y1="2192.4" x2="808.8" y2="2192.4" stroke="#000" stroke-width="3.6799999999999997"/>
<line x1="805.6" y1="2158.5" x2="808.8" y2="2158.5" stroke="#000" stroke-width="3.6799999999999997"/>
<line x1="298.5" y1="2516.9" x2="298.5" y2="2519.2" stroke="#000" stroke-width="3"/>
<line x1="401.8" y1="2516.9" x2="401.8" y2="2519.2" stroke="#000" stroke-width="3"/>
<line x1="505.2" y1="2516.9" x2="505.2" y2="2519.2" stroke="#000" stroke-width="3"/>
<line x1="608.6" y1="2516.9" x2="608.6" y2="2519.2" stroke="#000" stroke-width="3"/>
<line x1="711.9" y1="2516.9" x2="711.9" y2="2519.2" stroke="#000" stroke-width="3"/>
<line x1="246.8" y1="2516.9" x2="246.8" y2="2522.6" stroke="#000" stroke-width="4.2"/>
<text x="246.8" y="2557.8" font-size="38.9" font-family='"Liberation Sans", sans-serif' font-weight="bold" text-anchor="middle">RT</text>
<line x1="350.2" y1="2516.9" x2="350.2" y2="2522.6" stroke="#000" stroke-width="4.2"/>
<text x="350.2" y="2557.8" font-size="38.9" font-family='"Liberation Sans", sans-serif' font-weight="bold" text-anchor="middle">65</text>
<line x1="453.5" y1="2516.9" x2="453.5" y2="2522.6" stroke="#000" stroke-width="4.2"/>
<text x="453.5" y="2557.8" font-size="38.9" font-family='"Liberation Sans", sans-serif' font-weight="bold" text-anchor="middle">75</text>
<line x1="556.9" y1="2516.9" x2="556.9" y2="2522.6" stroke="#000" stroke-width="4.2"/>
<text x="556.9" y="2557.8" font-size="38.9" font-family='"Liberation Sans", sans-serif' font-weight="bold" text-anchor="middle">85</text>
<line x1="660.2" y1="2516.9" x2="660.2" y2="2522.6" stroke="#000" stroke-width="4.2"/>
<text x="660.2" y="2557.8" font-size="38.9" font-family='"Liberation Sans", sans-serif' font-weight="bold" text-anchor="middle">95</text>
<line x1="763.6" y1="2516.9" x2="763.6" y2="2522.6" stroke="#000" stroke-width="4.2"/>
<text x="763.6" y="2557.8" font-size="38.9" font-family='"Liberation Sans", sans-serif' font-weight="bold" text-anchor="middle">105</text>
<text x="349.6" y="2623.8" font-size="38.9" font-family='"Liberation Sans", sans-serif' font-weight="bold" textLength="311.7" lengthAdjust="spacingAndGlyphs">Temperature / °C</text>
<text x="917.5" y="2463.4" font-size="41.5" font-family='"Liberation Sans", sans-serif' font-weight="bold" transform="rotate(-90 917.5 2463.4)" textLength="270.2" lengthAdjust="spacingAndGlyphs">Intensity / a.u.</text>
<rect x="1239.5" y="2143.0" width="422.1" height="369.7" fill="#ffff78"/>
<line x1="1067.0" y1="2247.1" x2="1663.9" y2="2247.1" stroke="#ff0000" stroke-width="5.0"/>
<line x1="1067.0" y1="2410.2" x2="1663.9" y2="2410.2" stroke="#ff0000" stroke-width="5.0"/>
<defs><pattern id="h3" width="17.5" height="17.5" patternUnits="userSpaceOnUse"><path d="M-4.375,4.375 L4.375,-4.375 M0,17.5 L17.5,0 M13.125,21.875 L21.875,13.125" stroke="#000090" stroke-width="1.0" fill="none"/></pattern></defs>
<defs><linearGradient id="g3_0" x1="0" y1="0" x2="0" y2="1"><stop offset="0" stop-color="#0088ff"/><stop offset="0.8" stop-color="#ffffff"/><stop offset="1" stop-color="#ffffff"/></linearGradient></defs>
<rect x="1086.2" y="2244.6" width="41.5" height="268.1" fill="url(#g3_0)"/>
<rect x="1086.2" y="2244.6" width="41.5" height="268.1" fill="url(#h3)" stroke="#000088" stroke-width="1.3"/>
<defs><linearGradient id="g3_1" x1="0" y1="0" x2="0" y2="1"><stop offset="0" stop-color="#1414f0"/><stop offset="0.8" stop-color="#ffffff"/><stop offset="1" stop-color="#ffffff"/></linearGradient></defs>
<rect x="1137.9" y="2219.7" width="41.5" height="293.0" fill="url(#g3_1)"/>
<rect x="1137.9" y="2219.7" width="41.5" height="293.0" fill="url(#h3)" stroke="#000088" stroke-width="1.3"/>
<defs><linearGradient id="g3_2" x1="0" y1="0" x2="0" y2="1"><stop offset="0" stop-color="#0088ff"/><stop offset="0.8" stop-color="#ffffff"/><stop offset="1" stop-color="#ffffff"/></linearGradient></defs>
<rect x="1189.7" y="2246.3" width="41.5" height="266.4" fill="url(#g3_2)"/>
<rect x="1189.7" y="2246.3" width="41.5" height="266.4" fill="url(#h3)" stroke="#000088" stroke-width="1.3"/>
<defs><linearGradient id="g3_3" x1="0" y1="0" x2="0" y2="1"><stop offset="0" stop-color="#ff0000"/><stop offset="0.8" stop-color="#ffffff"/><stop offset="1" stop-color="#ffffff"/></linearGradient></defs>
<rect x="1241.4" y="2410.0" width="41.5" height="102.7" fill="url(#g3_3)"/>
<rect x="1241.4" y="2410.0" width="41.5" height="102.7" fill="url(#h3)" stroke="#000088" stroke-width="1.3"/>
<defs><linearGradient id="g3_4" x1="0" y1="0" x2="0" y2="1"><stop offset="0" stop-color="#ff0000"/><stop offset="0.8" stop-color="#ffffff"/><stop offset="1" stop-color="#ffffff"/></linearGradient></defs>
<rect x="1293.2" y="2408.4" width="41.5" height="104.3" fill="url(#g3_4)"/>
<rect x="1293.2" y="2408.4" width="41.5" height="104.3" fill="url(#h3)" stroke="#000088" stroke-width="1.3"/>
<defs><linearGradient id="g3_5" x1="0" y1="0" x2="0" y2="1"><stop offset="0" stop-color="#ff0000"/><stop offset="0.8" stop-color="#ffffff"/><stop offset="1" stop-color="#ffffff"/></linearGradient></defs>
<rect x="1344.9" y="2389.7" width="41.5" height="123.0" fill="url(#g3_5)"/>
<rect x="1344.9" y="2389.7" width="41.5" height="123.0" fill="url(#h3)" stroke="#000088" stroke-width="1.3"/>
<defs><linearGradient id="g3_6" x1="0" y1="0" x2="0" y2="1"><stop offset="0" stop-color="#ff8000"/><stop offset="0.8" stop-color="#ffffff"/><stop offset="1" stop-color="#ffffff"/></linearGradient></defs>
<rect x="1396.6" y="2382.6" width="41.5" height="130.1" fill="url(#g3_6)"/>
<rect x="1396.6" y="2382.6" width="41.5" height="130.1" fill="url(#h3)" stroke="#000088" stroke-width="1.3"/>
<defs><linearGradient id="g3_7" x1="0" y1="0" x2="0" y2="1"><stop offset="0" stop-color="#ff8000"/><stop offset="0.8" stop-color="#ffffff"/><stop offset="1" stop-color="#ffffff"/></linearGradient></defs>
<rect x="1448.4" y="2377.2" width="41.5" height="135.5" fill="url(#g3_7)"/>
<rect x="1448.4" y="2377.2" width="41.5" height="135.5" fill="url(#h3)" stroke="#000088" stroke-width="1.3"/>
<defs><linearGradient id="g3_8" x1="0" y1="0" x2="0" y2="1"><stop offset="0" stop-color="#ff8000"/><stop offset="0.8" stop-color="#ffffff"/><stop offset="1" stop-color="#ffffff"/></linearGradient></defs>
<rect x="1500.1" y="2364.3" width="41.5" height="148.4" fill="url(#g3_8)"/>
<rect x="1500.1" y="2364.3" width="41.5" height="148.4" fill="url(#h3)" stroke="#000088" stroke-width="1.3"/>
<defs><linearGradient id="g3_9" x1="0" y1="0" x2="0" y2="1"><stop offset="0" stop-color="#ff8000"/><stop offset="0.8" stop-color="#ffffff"/><stop offset="1" stop-color="#ffffff"/></linearGradient></defs>
<rect x="1551.9" y="2368.5" width="41.5" height="144.2" fill="url(#g3_9)"/>
<rect x="1551.9" y="2368.5" width="41.5" height="144.2" fill="url(#h3)" stroke="#000088" stroke-width="1.3"/>
<defs><linearGradient id="g3_10" x1="0" y1="0" x2="0" y2="1"><stop offset="0" stop-color="#ff8000"/><stop offset="0.8" stop-color="#ffffff"/><stop offset="1" stop-color="#ffffff"/></linearGradient></defs>
<rect x="1603.6" y="2375.1" width="41.5" height="137.6" fill="url(#g3_10)"/>
<rect x="1603.6" y="2375.1" width="41.5" height="137.6" fill="url(#h3)" stroke="#000088" stroke-width="1.3"/>
<line x1="1067.0" y1="2141.4" x2="1067.0" y2="2517.4" stroke="#000" stroke-width="4.7"/>
<line x1="1663.9" y1="2141.4" x2="1663.9" y2="2517.4" stroke="#000" stroke-width="4.7"/>
<line x1="1067.0" y1="2515.1" x2="1663.9" y2="2515.1" stroke="#000" stroke-width="4.7"/>
<line x1="1665.8" y1="2209.5" x2="1670.8" y2="2209.5" stroke="#000" stroke-width="4.6"/>
<text x="1675.2" y="2221.1" font-size="40.5" font-family='"Liberation Sans", sans-serif'>28.00</text>
<line x1="1665.8" y1="2290.3" x2="1670.8" y2="2290.3" stroke="#000" stroke-width="4.6"/>
<text x="1675.2" y="2301.9" font-size="40.5" font-family='"Liberation Sans", sans-serif'>27.95</text>
<line x1="1665.8" y1="2371.1" x2="1670.8" y2="2371.1" stroke="#000" stroke-width="4.6"/>
<text x="1675.2" y="2382.7" font-size="40.5" font-family='"Liberation Sans", sans-serif'>27.90</text>
<line x1="1665.8" y1="2452.0" x2="1670.8" y2="2452.0" stroke="#000" stroke-width="4.6"/>
<text x="1675.2" y="2463.6" font-size="40.5" font-family='"Liberation Sans", sans-serif'>27.85</text>
<line x1="1665.8" y1="2177.2" x2="1669.0" y2="2177.2" stroke="#000" stroke-width="3.2199999999999998"/>
<line x1="1665.8" y1="2193.3" x2="1669.0" y2="2193.3" stroke="#000" stroke-width="3.2199999999999998"/>
<line x1="1665.8" y1="2209.5" x2="1669.0" y2="2209.5" stroke="#000" stroke-width="3.2199999999999998"/>
<line x1="1665.8" y1="2225.7" x2="1669.0" y2="2225.7" stroke="#000" stroke-width="3.2199999999999998"/>
<line x1="1665.8" y1="2241.8" x2="1669.0" y2="2241.8" stroke="#000" stroke-width="3.2199999999999998"/>
<line x1="1665.8" y1="2258.0" x2="1669.0" y2="2258.0" stroke="#000" stroke-width="3.2199999999999998"/>
<line x1="1665.8" y1="2274.1" x2="1669.0" y2="2274.1" stroke="#000" stroke-width="3.2199999999999998"/>
<line x1="1665.8" y1="2290.3" x2="1669.0" y2="2290.3" stroke="#000" stroke-width="3.2199999999999998"/>
<line x1="1665.8" y1="2306.5" x2="1669.0" y2="2306.5" stroke="#000" stroke-width="3.2199999999999998"/>
<line x1="1665.8" y1="2322.6" x2="1669.0" y2="2322.6" stroke="#000" stroke-width="3.2199999999999998"/>
<line x1="1665.8" y1="2338.8" x2="1669.0" y2="2338.8" stroke="#000" stroke-width="3.2199999999999998"/>
<line x1="1665.8" y1="2354.9" x2="1669.0" y2="2354.9" stroke="#000" stroke-width="3.2199999999999998"/>
<line x1="1665.8" y1="2371.1" x2="1669.0" y2="2371.1" stroke="#000" stroke-width="3.2199999999999998"/>
<line x1="1665.8" y1="2387.3" x2="1669.0" y2="2387.3" stroke="#000" stroke-width="3.2199999999999998"/>
<line x1="1665.8" y1="2403.4" x2="1669.0" y2="2403.4" stroke="#000" stroke-width="3.2199999999999998"/>
<line x1="1665.8" y1="2419.6" x2="1669.0" y2="2419.6" stroke="#000" stroke-width="3.2199999999999998"/>
<line x1="1665.8" y1="2435.7" x2="1669.0" y2="2435.7" stroke="#000" stroke-width="3.2199999999999998"/>
<line x1="1665.8" y1="2451.9" x2="1669.0" y2="2451.9" stroke="#000" stroke-width="3.2199999999999998"/>
<line x1="1665.8" y1="2468.1" x2="1669.0" y2="2468.1" stroke="#000" stroke-width="3.2199999999999998"/>
<line x1="1665.8" y1="2484.2" x2="1669.0" y2="2484.2" stroke="#000" stroke-width="3.2199999999999998"/>
<line x1="1665.8" y1="2500.4" x2="1669.0" y2="2500.4" stroke="#000" stroke-width="3.2199999999999998"/>
<line x1="1158.7" y1="2516.9" x2="1158.7" y2="2519.2" stroke="#000" stroke-width="3"/>
<line x1="1262.2" y1="2516.9" x2="1262.2" y2="2519.2" stroke="#000" stroke-width="3"/>
<line x1="1365.7" y1="2516.9" x2="1365.7" y2="2519.2" stroke="#000" stroke-width="3"/>
<line x1="1469.1" y1="2516.9" x2="1469.1" y2="2519.2" stroke="#000" stroke-width="3"/>
<line x1="1572.6" y1="2516.9" x2="1572.6" y2="2519.2" stroke="#000" stroke-width="3"/>
<line x1="1107.0" y1="2516.9" x2="1107.0" y2="2522.6" stroke="#000" stroke-width="4.2"/>
<text x="1107.0" y="2560.0" font-size="38.9" font-family='"Liberation Sans", sans-serif' font-weight="bold" text-anchor="middle">RT</text>
<line x1="1210.4" y1="2516.9" x2="1210.4" y2="2522.6" stroke="#000" stroke-width="4.2"/>
<text x="1210.4" y="2560.0" font-size="38.9" font-family='"Liberation Sans", sans-serif' font-weight="bold" text-anchor="middle">65</text>
<line x1="1313.9" y1="2516.9" x2="1313.9" y2="2522.6" stroke="#000" stroke-width="4.2"/>
<text x="1313.9" y="2560.0" font-size="38.9" font-family='"Liberation Sans", sans-serif' font-weight="bold" text-anchor="middle">75</text>
<line x1="1417.4" y1="2516.9" x2="1417.4" y2="2522.6" stroke="#000" stroke-width="4.2"/>
<text x="1417.4" y="2560.0" font-size="38.9" font-family='"Liberation Sans", sans-serif' font-weight="bold" text-anchor="middle">85</text>
<line x1="1520.9" y1="2516.9" x2="1520.9" y2="2522.6" stroke="#000" stroke-width="4.2"/>
<text x="1520.9" y="2560.0" font-size="38.9" font-family='"Liberation Sans", sans-serif' font-weight="bold" text-anchor="middle">95</text>
<line x1="1624.3" y1="2516.9" x2="1624.3" y2="2522.6" stroke="#000" stroke-width="4.2"/>
<text x="1624.3" y="2560.0" font-size="38.9" font-family='"Liberation Sans", sans-serif' font-weight="bold" text-anchor="middle">105</text>
<text x="1211.4" y="2625.0" font-size="38.9" font-family='"Liberation Sans", sans-serif' font-weight="bold" textLength="309.1" lengthAdjust="spacingAndGlyphs">Temperature / °C</text>
<text x="1819.0" y="2381.0" font-size="41.5" font-family='"Liberation Sans", sans-serif' font-weight="bold" transform="rotate(-90 1819.0 2381.0)" textLength="183.0" lengthAdjust="spacingAndGlyphs">Shift / °2<tspan font-family='"Liberation Serif", serif' font-weight="normal">θ</tspan></text>
<text x="1249.1" y="2201.8" font-size="50.4" font-family='"Liberation Sans", sans-serif' font-weight="bold" textLength="61.5" lengthAdjust="spacingAndGlyphs"><tspan font-family='"Liberation Serif", serif' font-weight="normal">Δ</tspan>T</text>
<text x="1314.3" y="2220.5" font-size="34.3" font-family='"Liberation Sans", sans-serif' font-weight="bold" textLength="94.0" lengthAdjust="spacingAndGlyphs">m→t</text>
<text x="1420.5" y="2201.8" font-size="50.4" font-family='"Liberation Sans", sans-serif' font-weight="bold" textLength="221.5" lengthAdjust="spacingAndGlyphs">(V-Ce2%)</text>
<text x="1345.3" y="2296.2" font-size="50.4" font-family='"Liberation Sans", sans-serif' font-weight="bold" textLength="216.0" lengthAdjust="spacingAndGlyphs">65 - 70°C</text>
<defs><clipPath id="c4"><path d="M1188.5,3062.7 L1188.5,3056.0 L1188.5,3049.4 L1188.5,3042.7 L1188.5,3042.7 L1192.7,3027.4 L1196.9,3025.4 L1197.6,3025.4 L1197.9,3017.4 L1198.3,3009.4 L1198.3,3009.0 L1198.8,3008.2 L1199.2,3007.1 L1199.7,3006.4 L1200.2,3009.4 L1200.7,3007.5 L1201.2,3008.9 L1201.6,3006.3 L1202.1,3009.4 L1202.6,3010.4 L1203.1,3005.3 L1203.6,3013.4 L1204.0,3005.0 L1204.5,3008.7 L1205.0,3008.5 L1205.5,3006.1 L1206.0,3010.5 L1206.4,3006.5 L1206.9,3005.9 L1207.4,3011.3 L1207.9,3011.2 L1208.4,3008.0 L1208.8,3007.5 L1209.3,3008.4 L1209.8,3008.5 L1210.3,3007.1 L1210.8,3006.4 L1211.2,3006.3 L1211.7,3006.4 L1212.2,3005.8 L1212.7,3008.0 L1213.2,3004.4 L1213.6,3008.2 L1214.1,3009.1 L1214.6,3006.4 L1215.1,3006.6 L1215.6,3007.9 L1216.0,3006.6 L1216.5,3010.0 L1217.0,3008.4 L1217.5,3006.2 L1218.0,3005.0 L1218.4,3004.8 L1218.9,3006.8 L1219.4,3006.5 L1219.9,3003.3 L1220.4,3010.2 L1220.8,3009.0 L1221.3,3006.8 L1221.8,3008.6 L1222.3,3005.1 L1222.8,3005.6 L1223.2,3008.0 L1223.7,3002.9 L1224.2,3005.9 L1224.7,3005.8 L1225.2,3003.1 L1225.6,3007.3 L1226.1,3007.6 L1226.6,3000.1 L1227.1,3009.4 L1227.6,3005.0 L1228.0,3005.7 L1228.5,3007.3 L1229.0,3007.4 L1229.5,3006.6 L1229.7,3005.4 L1229.9,2995.6 L1230.0,2985.9 L1230.2,2976.1 L1230.2,2973.8 L1230.6,2977.9 L1231.1,2976.2 L1231.6,2976.6 L1232.1,2973.4 L1232.6,2974.9 L1233.0,2975.7 L1233.5,2976.8 L1234.0,2974.2 L1234.5,2974.2 L1235.0,2974.0 L1235.5,2976.1 L1235.9,2976.7 L1236.4,2977.0 L1236.9,2975.7 L1237.4,2977.4 L1237.9,2974.0 L1238.4,2972.2 L1238.8,2975.8 L1239.3,2977.4 L1239.8,2974.7 L1240.3,2976.0 L1240.8,2975.4 L1241.2,2975.1 L1241.7,2973.4 L1242.2,2974.2 L1242.7,2977.0 L1243.2,2976.4 L1243.7,2972.0 L1244.1,2976.5 L1244.6,2975.8 L1245.1,2976.3 L1245.6,2976.3 L1246.1,2974.6 L1246.6,2972.7 L1247.0,2976.7 L1247.5,2972.3 L1248.0,2974.4 L1248.5,2972.7 L1249.0,2975.6 L1249.5,2975.9 L1249.9,2974.3 L1250.4,2974.9 L1250.9,2974.7 L1251.4,2974.9 L1251.9,2973.8 L1252.3,2977.9 L1252.8,2974.8 L1253.3,2972.9 L1253.8,2974.6 L1254.3,2974.9 L1254.8,2973.3 L1255.2,2974.5 L1255.9,2974.1 L1256.1,2965.9 L1256.4,2957.7 L1256.6,2949.5 L1256.6,2949.2 L1257.1,2947.9 L1257.5,2947.2 L1258.0,2947.6 L1258.5,2949.8 L1259.0,2951.6 L1259.4,2946.9 L1259.9,2950.2 L1260.4,2951.3 L1260.9,2950.6 L1261.3,2951.1 L1261.8,2949.7 L1262.3,2951.1 L1262.8,2948.5 L1263.2,2947.1 L1263.7,2948.4 L1264.2,2950.5 L1264.7,2950.5 L1265.1,2950.2 L1265.6,2949.0 L1266.1,2951.2 L1266.6,2948.2 L1267.0,2950.0 L1267.5,2949.6 L1268.0,2949.6 L1268.5,2946.1 L1268.9,2948.0 L1269.4,2944.3 L1269.9,2949.8 L1270.4,2947.8 L1270.8,2952.8 L1271.3,2948.8 L1271.8,2948.0 L1272.3,2951.4 L1272.7,2951.0 L1273.2,2950.0 L1273.7,2950.4 L1274.2,2945.9 L1274.6,2949.0 L1275.1,2951.3 L1275.6,2948.0 L1276.1,2947.9 L1276.5,2948.0 L1277.0,2947.8 L1277.5,2950.3 L1278.0,2948.6 L1278.4,2947.9 L1278.9,2947.9 L1279.4,2950.0 L1279.9,2947.5 L1280.3,2949.0 L1280.8,2949.4 L1281.3,2950.2 L1281.8,2950.7 L1282.2,2950.8 L1282.7,2952.8 L1283.2,2949.4 L1283.7,2951.9 L1284.1,2949.5 L1284.6,2948.5 L1285.1,2946.0 L1285.6,2949.1 L1286.0,2950.4 L1286.5,2950.8 L1287.0,2950.6 L1287.5,2946.4 L1287.9,2951.3 L1288.4,2948.6 L1288.9,2947.5 L1289.4,2946.4 L1289.8,2946.6 L1290.3,2947.5 L1290.8,2950.3 L1291.3,2947.6 L1291.7,2949.0 L1292.2,2948.3 L1292.7,2950.6 L1293.2,2946.1 L1293.6,2951.0 L1294.1,2948.9 L1294.6,2951.1 L1295.1,2950.0 L1295.5,2947.6 L1296.0,2950.6 L1296.5,2949.5 L1297.0,2948.8 L1297.4,2952.1 L1297.9,2953.6 L1298.4,2948.7 L1298.9,2949.7 L1299.3,2949.3 L1299.8,2949.0 L1300.3,2949.3 L1300.8,2949.2 L1301.2,2950.2 L1301.7,2947.7 L1302.2,2948.2 L1302.7,2948.2 L1303.1,2948.2 L1303.6,2949.2 L1304.1,2951.2 L1304.6,2949.2 L1305.0,2947.9 L1305.5,2948.6 L1306.0,2947.7 L1306.5,2948.4 L1306.9,2947.2 L1307.4,2949.7 L1307.9,2948.8 L1308.4,2947.7 L1308.8,2948.8 L1309.3,2951.9 L1309.8,2947.9 L1310.3,2948.4 L1310.7,2952.0 L1311.2,2950.2 L1311.7,2948.8 L1312.2,2951.2 L1312.6,2949.1 L1313.1,2950.9 L1313.6,2948.8 L1314.1,2949.4 L1314.5,2950.1 L1315.0,2951.1 L1315.5,2948.5 L1316.0,2951.6 L1316.4,2949.3 L1316.9,2952.1 L1317.4,2949.8 L1317.9,2946.5 L1318.3,2949.6 L1318.8,2944.7 L1319.3,2947.6 L1319.8,2948.8 L1320.2,2949.6 L1320.7,2950.7 L1321.2,2951.1 L1321.7,2948.8 L1322.1,2950.3 L1322.6,2951.6 L1323.1,2951.7 L1323.6,2948.8 L1324.0,2947.6 L1324.5,2943.7 L1325.0,2950.7 L1325.5,2946.1 L1325.9,2952.4 L1326.4,2949.4 L1326.9,2948.4 L1327.4,2951.0 L1327.8,2949.2 L1328.3,2949.5 L1328.8,2949.7 L1329.3,2950.5 L1329.7,2949.9 L1330.2,2948.2 L1330.7,2950.6 L1331.2,2949.3 L1331.6,2948.3 L1332.1,2951.3 L1332.6,2949.7 L1333.1,2951.3 L1333.5,2947.2 L1334.0,2946.9 L1334.5,2949.3 L1335.0,2950.3 L1335.4,2952.2 L1335.9,2947.2 L1336.4,2950.1 L1336.9,2951.7 L1337.3,2950.0 L1337.8,2950.5 L1338.3,2948.5 L1338.8,2949.2 L1339.2,2948.8 L1339.7,2947.6 L1340.2,2951.1 L1340.7,2950.2 L1341.3,2949.5 L1341.4,2944.1 L1341.5,2938.8 L1341.5,2938.8 L1341.9,2929.0 L1342.3,2919.3 L1342.7,2909.5 L1342.7,2909.5 L1344.1,2915.2 L1345.4,2920.8 L1345.4,2921.1 L1345.9,2920.8 L1346.4,2919.5 L1346.9,2921.9 L1347.3,2923.2 L1347.8,2918.9 L1348.3,2922.7 L1348.8,2919.2 L1349.3,2922.8 L1349.8,2918.1 L1350.2,2920.3 L1350.7,2921.1 L1351.2,2919.1 L1351.7,2920.3 L1352.2,2920.4 L1352.7,2920.6 L1353.1,2919.6 L1353.6,2920.0 L1354.1,2917.7 L1354.6,2919.3 L1355.1,2920.2 L1355.5,2921.2 L1356.0,2921.9 L1356.5,2922.9 L1357.0,2920.5 L1357.5,2923.1 L1358.0,2920.0 L1358.4,2922.3 L1358.9,2918.2 L1359.4,2922.7 L1359.9,2922.0 L1360.4,2922.1 L1360.9,2920.2 L1361.3,2920.4 L1361.8,2920.4 L1362.3,2922.2 L1362.8,2920.4 L1363.3,2921.8 L1363.7,2919.1 L1364.2,2921.7 L1364.7,2920.9 L1365.2,2919.3 L1365.7,2922.0 L1366.2,2922.1 L1366.6,2920.7 L1367.1,2921.2 L1367.6,2920.7 L1368.1,2919.7 L1368.6,2919.6 L1369.1,2920.4 L1369.5,2918.9 L1370.0,2921.5 L1370.5,2918.8 L1371.2,2920.2 L1371.4,2910.8 L1371.6,2901.5 L1371.9,2892.2 L1371.9,2893.5 L1372.3,2891.5 L1372.8,2893.7 L1373.3,2890.5 L1373.8,2892.0 L1374.2,2890.1 L1374.7,2894.5 L1375.2,2892.2 L1375.7,2891.7 L1376.2,2892.3 L1376.6,2888.8 L1377.1,2894.7 L1377.6,2891.2 L1378.1,2894.1 L1378.5,2892.6 L1379.0,2891.7 L1379.5,2892.1 L1380.0,2895.3 L1380.5,2891.7 L1380.9,2887.1 L1381.4,2888.5 L1381.9,2890.1 L1382.4,2890.3 L1382.8,2890.8 L1383.3,2892.2 L1383.8,2893.4 L1384.3,2891.0 L1384.8,2892.5 L1385.2,2893.0 L1385.7,2894.5 L1386.2,2892.1 L1386.7,2891.0 L1387.1,2893.2 L1387.6,2889.2 L1388.1,2891.9 L1388.6,2891.3 L1389.1,2894.5 L1389.5,2893.4 L1390.0,2889.0 L1390.5,2893.2 L1391.0,2890.1 L1391.4,2889.1 L1391.9,2891.9 L1392.4,2891.0 L1392.9,2891.8 L1393.4,2891.4 L1393.8,2888.1 L1394.3,2891.9 L1394.8,2887.8 L1395.3,2886.7 L1395.7,2890.8 L1396.2,2892.1 L1396.7,2891.9 L1397.2,2890.9 L1397.7,2889.6 L1398.1,2892.9 L1398.6,2894.1 L1399.1,2888.2 L1399.6,2888.5 L1400.0,2890.1 L1400.5,2890.4 L1401.0,2891.9 L1401.5,2890.9 L1401.9,2890.6 L1402.4,2891.0 L1402.9,2891.5 L1403.4,2891.2 L1403.9,2892.4 L1404.3,2891.1 L1404.8,2892.3 L1405.3,2889.1 L1405.8,2888.8 L1406.2,2890.5 L1406.7,2886.4 L1407.2,2890.4 L1407.7,2890.2 L1408.2,2892.4 L1408.6,2890.0 L1409.1,2892.2 L1409.6,2889.7 L1410.1,2891.7 L1410.5,2887.2 L1411.0,2891.1 L1411.5,2893.6 L1412.0,2889.5 L1412.5,2884.2 L1412.9,2888.5 L1413.4,2888.8 L1413.9,2888.8 L1414.6,2890.2 L1414.8,2880.9 L1415.0,2871.5 L1415.2,2862.2 L1415.2,2860.1 L1415.7,2863.0 L1416.2,2862.1 L1416.7,2864.0 L1417.2,2862.1 L1417.7,2861.9 L1418.2,2859.3 L1418.6,2861.0 L1419.1,2861.8 L1419.6,2858.8 L1420.1,2861.3 L1420.6,2857.2 L1421.1,2862.3 L1421.5,2864.9 L1422.0,2863.0 L1422.5,2861.6 L1423.0,2859.3 L1423.5,2860.5 L1424.0,2863.2 L1424.4,2861.9 L1424.9,2862.2 L1425.4,2861.6 L1425.9,2858.4 L1426.4,2861.0 L1426.9,2860.8 L1427.4,2860.5 L1427.8,2861.3 L1428.3,2863.2 L1428.8,2856.5 L1429.3,2862.7 L1429.8,2861.8 L1430.3,2862.7 L1430.7,2860.4 L1431.2,2859.0 L1431.7,2861.2 L1432.2,2858.2 L1432.7,2861.0 L1433.2,2861.7 L1433.7,2861.5 L1434.1,2853.6 L1434.6,2862.6 L1435.1,2862.4 L1435.6,2855.1 L1436.3,2860.9 L1436.4,2853.2 L1436.6,2845.6 L1436.8,2837.9 L1436.9,2830.2 L1436.9,2829.9 L1437.4,2829.2 L1437.9,2831.5 L1438.4,2832.5 L1438.8,2831.9 L1439.3,2830.1 L1439.8,2830.4 L1440.3,2829.3 L1440.7,2828.8 L1441.2,2830.6 L1441.7,2831.2 L1442.2,2831.4 L1442.6,2829.9 L1443.1,2829.8 L1443.6,2829.5 L1444.1,2829.0 L1444.5,2827.4 L1445.0,2829.6 L1445.5,2830.3 L1446.0,2827.4 L1446.4,2829.7 L1446.9,2830.1 L1447.4,2829.2 L1447.9,2829.1 L1448.3,2828.1 L1448.8,2830.6 L1449.3,2829.5 L1449.8,2830.1 L1450.2,2827.3 L1450.7,2828.9 L1451.2,2831.5 L1451.7,2830.4 L1452.1,2827.3 L1452.6,2827.2 L1453.1,2829.2 L1453.6,2828.5 L1454.0,2828.7 L1454.5,2830.0 L1455.0,2827.8 L1455.5,2829.3 L1455.9,2831.8 L1456.4,2831.8 L1456.9,2830.8 L1457.4,2829.6 L1457.8,2828.9 L1458.3,2829.3 L1458.8,2827.8 L1459.3,2829.9 L1459.7,2827.4 L1460.2,2827.3 L1460.7,2830.4 L1461.1,2830.2 L1461.6,2827.1 L1462.1,2825.2 L1462.6,2829.7 L1463.0,2829.2 L1463.5,2830.9 L1464.0,2829.0 L1464.5,2828.3 L1464.9,2827.3 L1465.4,2826.6 L1466.1,2828.9 L1466.3,2819.8 L1466.6,2810.7 L1466.8,2801.6 L1466.8,2802.6 L1467.3,2801.2 L1467.7,2803.7 L1468.2,2802.5 L1468.7,2799.5 L1469.2,2802.5 L1469.6,2803.1 L1470.1,2800.6 L1470.6,2805.2 L1471.1,2800.4 L1471.5,2802.5 L1472.0,2799.2 L1472.5,2803.5 L1473.0,2804.7 L1473.4,2803.1 L1473.9,2801.8 L1474.4,2799.0 L1474.9,2806.3 L1475.3,2799.6 L1475.8,2797.5 L1476.3,2803.7 L1476.8,2803.8 L1477.2,2801.9 L1477.7,2798.7 L1478.2,2800.6 L1478.7,2800.3 L1479.1,2800.4 L1479.6,2800.1 L1480.1,2801.0 L1480.6,2801.3 L1481.0,2803.3 L1481.5,2799.8 L1482.0,2798.2 L1482.5,2802.4 L1483.0,2801.4 L1483.4,2800.8 L1483.9,2804.6 L1484.4,2802.4 L1484.9,2804.7 L1485.3,2806.9 L1485.8,2802.5 L1486.3,2799.5 L1486.8,2803.0 L1487.2,2801.0 L1487.7,2806.1 L1488.2,2801.2 L1488.7,2800.5 L1489.1,2804.6 L1489.6,2798.2 L1490.1,2801.6 L1490.6,2803.5 L1491.0,2800.4 L1491.5,2803.3 L1492.0,2805.1 L1492.5,2799.4 L1492.9,2800.4 L1493.4,2802.5 L1493.9,2800.6 L1494.3,2800.3 L1494.4,2791.0 L1494.6,2781.6 L1494.7,2772.3 L1494.7,2773.6 L1495.2,2770.2 L1495.7,2768.6 L1496.2,2772.5 L1496.6,2768.7 L1497.1,2771.6 L1497.6,2769.4 L1498.1,2770.5 L1498.6,2770.2 L1499.1,2771.8 L1499.5,2770.7 L1500.0,2771.7 L1500.5,2771.3 L1501.0,2771.5 L1501.5,2771.0 L1502.0,2772.0 L1502.4,2769.5 L1502.9,2772.0 L1503.4,2773.1 L1503.9,2770.7 L1504.4,2771.5 L1504.9,2773.6 L1505.3,2768.3 L1505.8,2773.2 L1506.3,2769.6 L1506.8,2768.1 L1507.3,2770.4 L1507.8,2770.2 L1508.2,2771.9 L1508.7,2770.7 L1509.2,2773.0 L1509.7,2765.7 L1510.2,2768.5 L1510.7,2770.1 L1511.1,2768.7 L1511.6,2770.5 L1512.1,2771.6 L1512.6,2770.4 L1513.1,2770.5 L1513.6,2768.7 L1514.0,2770.5 L1514.5,2772.5 L1515.0,2768.2 L1515.5,2769.7 L1516.0,2770.4 L1516.5,2769.2 L1516.9,2772.1 L1517.4,2769.6 L1517.7,2760.1 L1518.0,2750.5 L1518.3,2741.0 L1518.3,2738.4 L1518.8,2739.4 L1519.3,2742.3 L1519.7,2744.3 L1520.2,2736.3 L1520.7,2740.0 L1521.2,2741.5 L1521.6,2741.8 L1522.1,2738.8 L1522.6,2742.2 L1523.1,2737.5 L1523.6,2742.6 L1524.0,2736.4 L1524.5,2747.6 L1525.0,2740.0 L1525.5,2737.8 L1525.9,2740.6 L1526.4,2738.9 L1526.9,2740.1 L1527.4,2737.9 L1527.8,2736.8 L1528.3,2741.7 L1528.8,2737.7 L1529.3,2739.8 L1529.8,2737.0 L1530.2,2736.2 L1530.7,2745.4 L1531.2,2737.0 L1531.7,2738.3 L1532.1,2738.9 L1532.6,2740.1 L1533.1,2736.7 L1533.6,2743.4 L1534.0,2736.5 L1534.5,2736.3 L1535.0,2739.5 L1535.5,2737.1 L1536.0,2738.4 L1536.4,2739.6 L1536.9,2742.4 L1537.4,2740.8 L1537.9,2735.3 L1538.3,2735.6 L1538.8,2737.3 L1539.3,2737.9 L1539.8,2736.7 L1540.3,2736.2 L1540.7,2741.9 L1541.2,2742.6 L1541.7,2737.0 L1542.2,2736.8 L1542.6,2741.3 L1543.1,2739.4 L1543.6,2736.6 L1544.1,2733.2 L1544.7,2739.0 L1545.9,2729.2 L1547.0,2719.5 L1548.1,2709.7 L1548.1,2705.0 L1548.6,2709.4 L1549.1,2706.7 L1549.6,2708.5 L1550.1,2705.8 L1550.5,2705.7 L1551.0,2707.9 L1551.5,2707.1 L1552.0,2709.8 L1552.4,2707.2 L1552.9,2711.3 L1553.4,2709.4 L1553.9,2704.5 L1554.4,2707.1 L1554.8,2710.4 L1555.3,2711.2 L1555.8,2703.7 L1556.3,2707.0 L1556.8,2708.1 L1557.2,2705.3 L1557.7,2709.3 L1558.2,2710.3 L1558.7,2708.0 L1559.1,2710.8 L1559.6,2708.8 L1560.1,2706.1 L1560.6,2709.2 L1561.1,2706.7 L1561.5,2708.0 L1562.0,2706.7 L1562.5,2710.1 L1563.0,2707.2 L1563.5,2711.1 L1563.9,2707.2 L1564.4,2708.9 L1564.8,2708.4 L1564.9,2717.4 L1565.0,2726.4 L1565.1,2735.5 L1565.2,2744.5 L1565.3,2753.5 L1565.4,2762.5 L1565.6,2771.6 L1565.7,2780.6 L1565.8,2789.6 L1565.8,2789.6 L1568.5,2799.6 L1571.2,2800.9 L1571.2,2801.4 L1571.7,2800.8 L1572.2,2802.8 L1572.6,2804.6 L1573.1,2800.6 L1573.6,2798.6 L1574.1,2800.8 L1574.6,2803.1 L1575.1,2800.0 L1575.5,2800.1 L1576.0,2799.0 L1576.5,2802.0 L1577.0,2800.8 L1577.5,2803.8 L1578.0,2801.5 L1578.5,2799.3 L1578.9,2801.3 L1579.4,2799.2 L1579.9,2803.0 L1580.4,2800.6 L1580.9,2800.2 L1581.4,2799.4 L1581.8,2802.9 L1582.3,2804.3 L1582.8,2800.3 L1583.3,2802.2 L1583.8,2799.4 L1584.3,2804.1 L1584.7,2803.8 L1585.2,2802.9 L1585.9,2812.7 L1586.7,2822.4 L1587.5,2832.2 L1588.3,2841.9 L1589.1,2851.7 L1589.9,2861.5 L1590.6,2871.2 L1591.4,2881.0 L1592.2,2890.7 L1593.0,2900.5 L1593.8,2910.2 L1594.6,2920.0 L1595.4,2929.7 L1596.1,2939.5 L1596.9,2949.2 L1597.7,2959.0 L1598.5,2968.7 L1599.3,2978.5 L1600.1,2988.2 L1600.8,2998.0 L1601.6,3007.7 L1602.4,3017.5 L1603.2,3027.2 L1604.0,3037.0 L1604.8,3046.7 L1605.6,3056.5 L1606.3,3066.2 L1607.1,3076.0 L1607.1,3076.0 L1188.5,3076.0 Z"/></clipPath></defs>
<g clip-path="url(#c4)" stroke="#000" stroke-width="1">
<line x1="1133.2" y1="3062.5" x2="1662.8" y2="3062.5"/>
<line x1="1133.2" y1="3049.5" x2="1662.8" y2="3049.5"/>
<line x1="1133.2" y1="3037.5" x2="1662.8" y2="3037.5"/>
<line x1="1133.2" y1="3024.5" x2="1662.8" y2="3024.5"/>
<line x1="1133.2" y1="3011.5" x2="1662.8" y2="3011.5"/>
<line x1="1133.2" y1="2999.5" x2="1662.8" y2="2999.5"/>
<line x1="1133.2" y1="2986.5" x2="1662.8" y2="2986.5"/>
<line x1="1133.2" y1="2974.5" x2="1662.8" y2="2974.5"/>
<line x1="1133.2" y1="2961.5" x2="1662.8" y2="2961.5"/>
<line x1="1133.2" y1="2948.5" x2="1662.8" y2="2948.5"/>
<line x1="1133.2" y1="2936.5" x2="1662.8" y2="2936.5"/>
<line x1="1133.2" y1="2923.5" x2="1662.8" y2="2923.5"/>
<line x1="1133.2" y1="2911.5" x2="1662.8" y2="2911.5"/>
<line x1="1133.2" y1="2898.5" x2="1662.8" y2="2898.5"/>
<line x1="1133.2" y1="2885.5" x2="1662.8" y2="2885.5"/>
<line x1="1133.2" y1="2873.5" x2="1662.8" y2="2873.5"/>
<line x1="1133.2" y1="2860.5" x2="1662.8" y2="2860.5"/>
<line x1="1133.2" y1="2848.5" x2="1662.8" y2="2848.5"/>
<line x1="1133.2" y1="2835.5" x2="1662.8" y2="2835.5"/>
<line x1="1133.2" y1="2822.5" x2="1662.8" y2="2822.5"/>
<line x1="1133.2" y1="2810.5" x2="1662.8" y2="2810.5"/>
<line x1="1133.2" y1="2797.5" x2="1662.8" y2="2797.5"/>
<line x1="1133.2" y1="2785.5" x2="1662.8" y2="2785.5"/>
<line x1="1133.2" y1="2772.5" x2="1662.8" y2="2772.5"/>
<line x1="1133.2" y1="2759.5" x2="1662.8" y2="2759.5"/>
<line x1="1133.2" y1="2747.5" x2="1662.8" y2="2747.5"/>
<line x1="1133.2" y1="2734.5" x2="1662.8" y2="2734.5"/>
<line x1="1133.2" y1="2722.5" x2="1662.8" y2="2722.5"/>
<line x1="1133.2" y1="2709.5" x2="1662.8" y2="2709.5"/>
</g>
<polyline points="1188.5,3062.7 1188.5,3056.0 1188.5,3049.4 1188.5,3042.7 1188.5,3042.7 1192.7,3027.4 1196.9,3025.4 1197.6,3025.4 1197.9,3017.4 1198.3,3009.4 1198.3,3009.0 1198.8,3008.2 1199.2,3007.1 1199.7,3006.4 1200.2,3009.4 1200.7,3007.5 1201.2,3008.9 1201.6,3006.3 1202.1,3009.4 1202.6,3010.4 1203.1,3005.3 1203.6,3013.4 1204.0,3005.0 1204.5,3008.7 1205.0,3008.5 1205.5,3006.1 1206.0,3010.5 1206.4,3006.5 1206.9,3005.9 1207.4,3011.3 1207.9,3011.2 1208.4,3008.0 1208.8,3007.5 1209.3,3008.4 1209.8,3008.5 1210.3,3007.1 1210.8,3006.4 1211.2,3006.3 1211.7,3006.4 1212.2,3005.8 1212.7,3008.0 1213.2,3004.4 1213.6,3008.2 1214.1,3009.1 1214.6,3006.4 1215.1,3006.6 1215.6,3007.9 1216.0,3006.6 1216.5,3010.0 1217.0,3008.4 1217.5,3006.2 1218.0,3005.0 1218.4,3004.8 1218.9,3006.8 1219.4,3006.5 1219.9,3003.3 1220.4,3010.2 1220.8,3009.0 1221.3,3006.8 1221.8,3008.6 1222.3,3005.1 1222.8,3005.6 1223.2,3008.0 1223.7,3002.9 1224.2,3005.9 1224.7,3005.8 1225.2,3003.1 1225.6,3007.3 1226.1,3007.6 1226.6,3000.1 1227.1,3009.4 1227.6,3005.0 1228.0,3005.7 1228.5,3007.3 1229.0,3007.4 1229.5,3006.6 1229.7,3005.4 1229.9,2995.6 1230.0,2985.9 1230.2,2976.1 1230.2,2973.8 1230.6,2977.9 1231.1,2976.2 1231.6,2976.6 1232.1,2973.4 1232.6,2974.9 1233.0,2975.7 1233.5,2976.8 1234.0,2974.2 1234.5,2974.2 1235.0,2974.0 1235.5,2976.1 1235.9,2976.7 1236.4,2977.0 1236.9,2975.7 1237.4,2977.4 1237.9,2974.0 1238.4,2972.2 1238.8,2975.8 1239.3,2977.4 1239.8,2974.7 1240.3,2976.0 1240.8,2975.4 1241.2,2975.1 1241.7,2973.4 1242.2,2974.2 1242.7,2977.0 1243.2,2976.4 1243.7,2972.0 1244.1,2976.5 1244.6,2975.8 1245.1,2976.3 1245.6,2976.3 1246.1,2974.6 1246.6,2972.7 1247.0,2976.7 1247.5,2972.3 1248.0,2974.4 1248.5,2972.7 1249.0,2975.6 1249.5,2975.9 1249.9,2974.3 1250.4,2974.9 1250.9,2974.7 1251.4,2974.9 1251.9,2973.8 1252.3,2977.9 1252.8,2974.8 1253.3,2972.9 1253.8,2974.6 1254.3,2974.9 1254.8,2973.3 1255.2,2974.5 1255.9,2974.1 1256.1,2965.9 1256.4,2957.7 1256.6,2949.5 1256.6,2949.2 1257.1,2947.9 1257.5,2947.2 1258.0,2947.6 1258.5,2949.8 1259.0,2951.6 1259.4,2946.9 1259.9,2950.2 1260.4,2951.3 1260.9,2950.6 1261.3,2951.1 1261.8,2949.7 1262.3,2951.1 1262.8,2948.5 1263.2,2947.1 1263.7,2948.4 1264.2,2950.5 1264.7,2950.5 1265.1,2950.2 1265.6,2949.0 1266.1,2951.2 1266.6,2948.2 1267.0,2950.0 1267.5,2949.6 1268.0,2949.6 1268.5,2946.1 1268.9,2948.0 1269.4,2944.3 1269.9,2949.8 1270.4,2947.8 1270.8,2952.8 1271.3,2948.8 1271.8,2948.0 1272.3,2951.4 1272.7,2951.0 1273.2,2950.0 1273.7,2950.4 1274.2,2945.9 1274.6,2949.0 1275.1,2951.3 1275.6,2948.0 1276.1,2947.9 1276.5,2948.0 1277.0,2947.8 1277.5,2950.3 1278.0,2948.6 1278.4,2947.9 1278.9,2947.9 1279.4,2950.0 1279.9,2947.5 1280.3,2949.0 1280.8,2949.4 1281.3,2950.2 1281.8,2950.7 1282.2,2950.8 1282.7,2952.8 1283.2,2949.4 1283.7,2951.9 1284.1,2949.5 1284.6,2948.5 1285.1,2946.0 1285.6,2949.1 1286.0,2950.4 1286.5,2950.8 1287.0,2950.6 1287.5,2946.4 1287.9,2951.3 1288.4,2948.6 1288.9,2947.5 1289.4,2946.4 1289.8,2946.6 1290.3,2947.5 1290.8,2950.3 1291.3,2947.6 1291.7,2949.0 1292.2,2948.3 1292.7,2950.6 1293.2,2946.1 1293.6,2951.0 1294.1,2948.9 1294.6,2951.1 1295.1,2950.0 1295.5,2947.6 1296.0,2950.6 1296.5,2949.5 1297.0,2948.8 1297.4,2952.1 1297.9,2953.6 1298.4,2948.7 1298.9,2949.7 1299.3,2949.3 1299.8,2949.0 1300.3,2949.3 1300.8,2949.2 1301.2,2950.2 1301.7,2947.7 1302.2,2948.2 1302.7,2948.2 1303.1,2948.2 1303.6,2949.2 1304.1,2951.2 1304.6,2949.2 1305.0,2947.9 1305.5,2948.6 1306.0,2947.7 1306.5,2948.4 1306.9,2947.2 1307.4,2949.7 1307.9,2948.8 1308.4,2947.7 1308.8,2948.8 1309.3,2951.9 1309.8,2947.9 1310.3,2948.4 1310.7,2952.0 1311.2,2950.2 1311.7,2948.8 1312.2,2951.2 1312.6,2949.1 1313.1,2950.9 1313.6,2948.8 1314.1,2949.4 1314.5,2950.1 1315.0,2951.1 1315.5,2948.5 1316.0,2951.6 1316.4,2949.3 1316.9,2952.1 1317.4,2949.8 1317.9,2946.5 1318.3,2949.6 1318.8,2944.7 1319.3,2947.6 1319.8,2948.8 1320.2,2949.6 1320.7,2950.7 1321.2,2951.1 1321.7,2948.8 1322.1,2950.3 1322.6,2951.6 1323.1,2951.7 1323.6,2948.8 1324.0,2947.6 1324.5,2943.7 1325.0,2950.7 1325.5,2946.1 1325.9,2952.4 1326.4,2949.4 1326.9,2948.4 1327.4,2951.0 1327.8,2949.2 1328.3,2949.5 1328.8,2949.7 1329.3,2950.5 1329.7,2949.9 1330.2,2948.2 1330.7,2950.6 1331.2,2949.3 1331.6,2948.3 1332.1,2951.3 1332.6,2949.7 1333.1,2951.3 1333.5,2947.2 1334.0,2946.9 1334.5,2949.3 1335.0,2950.3 1335.4,2952.2 1335.9,2947.2 1336.4,2950.1 1336.9,2951.7 1337.3,2950.0 1337.8,2950.5 1338.3,2948.5 1338.8,2949.2 1339.2,2948.8 1339.7,2947.6 1340.2,2951.1 1340.7,2950.2 1341.3,2949.5 1341.4,2944.1 1341.5,2938.8 1341.5,2938.8 1341.9,2929.0 1342.3,2919.3 1342.7,2909.5 1342.7,2909.5 1344.1,2915.2 1345.4,2920.8 1345.4,2921.1 1345.9,2920.8 1346.4,2919.5 1346.9,2921.9 1347.3,2923.2 1347.8,2918.9 1348.3,2922.7 1348.8,2919.2 1349.3,2922.8 1349.8,2918.1 1350.2,2920.3 1350.7,2921.1 1351.2,2919.1 1351.7,2920.3 1352.2,2920.4 1352.7,2920.6 1353.1,2919.6 1353.6,2920.0 1354.1,2917.7 1354.6,2919.3 1355.1,2920.2 1355.5,2921.2 1356.0,2921.9 1356.5,2922.9 1357.0,2920.5 1357.5,2923.1 1358.0,2920.0 1358.4,2922.3 1358.9,2918.2 1359.4,2922.7 1359.9,2922.0 1360.4,2922.1 1360.9,2920.2 1361.3,2920.4 1361.8,2920.4 1362.3,2922.2 1362.8,2920.4 1363.3,2921.8 1363.7,2919.1 1364.2,2921.7 1364.7,2920.9 1365.2,2919.3 1365.7,2922.0 1366.2,2922.1 1366.6,2920.7 1367.1,2921.2 1367.6,2920.7 1368.1,2919.7 1368.6,2919.6 1369.1,2920.4 1369.5,2918.9 1370.0,2921.5 1370.5,2918.8 1371.2,2920.2 1371.4,2910.8 1371.6,2901.5 1371.9,2892.2 1371.9,2893.5 1372.3,2891.5 1372.8,2893.7 1373.3,2890.5 1373.8,2892.0 1374.2,2890.1 1374.7,2894.5 1375.2,2892.2 1375.7,2891.7 1376.2,2892.3 1376.6,2888.8 1377.1,2894.7 1377.6,2891.2 1378.1,2894.1 1378.5,2892.6 1379.0,2891.7 1379.5,2892.1 1380.0,2895.3 1380.5,2891.7 1380.9,2887.1 1381.4,2888.5 1381.9,2890.1 1382.4,2890.3 1382.8,2890.8 1383.3,2892.2 1383.8,2893.4 1384.3,2891.0 1384.8,2892.5 1385.2,2893.0 1385.7,2894.5 1386.2,2892.1 1386.7,2891.0 1387.1,2893.2 1387.6,2889.2 1388.1,2891.9 1388.6,2891.3 1389.1,2894.5 1389.5,2893.4 1390.0,2889.0 1390.5,2893.2 1391.0,2890.1 1391.4,2889.1 1391.9,2891.9 1392.4,2891.0 1392.9,2891.8 1393.4,2891.4 1393.8,2888.1 1394.3,2891.9 1394.8,2887.8 1395.3,2886.7 1395.7,2890.8 1396.2,2892.1 1396.7,2891.9 1397.2,2890.9 1397.7,2889.6 1398.1,2892.9 1398.6,2894.1 1399.1,2888.2 1399.6,2888.5 1400.0,2890.1 1400.5,2890.4 1401.0,2891.9 1401.5,2890.9 1401.9,2890.6 1402.4,2891.0 1402.9,2891.5 1403.4,2891.2 1403.9,2892.4 1404.3,2891.1 1404.8,2892.3 1405.3,2889.1 1405.8,2888.8 1406.2,2890.5 1406.7,2886.4 1407.2,2890.4 1407.7,2890.2 1408.2,2892.4 1408.6,2890.0 1409.1,2892.2 1409.6,2889.7 1410.1,2891.7 1410.5,2887.2 1411.0,2891.1 1411.5,2893.6 1412.0,2889.5 1412.5,2884.2 1412.9,2888.5 1413.4,2888.8 1413.9,2888.8 1414.6,2890.2 1414.8,2880.9 1415.0,2871.5 1415.2,2862.2 1415.2,2860.1 1415.7,2863.0 1416.2,2862.1 1416.7,2864.0 1417.2,2862.1 1417.7,2861.9 1418.2,2859.3 1418.6,2861.0 1419.1,2861.8 1419.6,2858.8 1420.1,2861.3 1420.6,2857.2 1421.1,2862.3 1421.5,2864.9 1422.0,2863.0 1422.5,2861.6 1423.0,2859.3 1423.5,2860.5 1424.0,2863.2 1424.4,2861.9 1424.9,2862.2 1425.4,2861.6 1425.9,2858.4 1426.4,2861.0 1426.9,2860.8 1427.4,2860.5 1427.8,2861.3 1428.3,2863.2 1428.8,2856.5 1429.3,2862.7 1429.8,2861.8 1430.3,2862.7 1430.7,2860.4 1431.2,2859.0 1431.7,2861.2 1432.2,2858.2 1432.7,2861.0 1433.2,2861.7 1433.7,2861.5 1434.1,2853.6 1434.6,2862.6 1435.1,2862.4 1435.6,2855.1 1436.3,2860.9 1436.4,2853.2 1436.6,2845.6 1436.8,2837.9 1436.9,2830.2 1436.9,2829.9 1437.4,2829.2 1437.9,2831.5 1438.4,2832.5 1438.8,2831.9 1439.3,2830.1 1439.8,2830.4 1440.3,2829.3 1440.7,2828.8 1441.2,2830.6 1441.7,2831.2 1442.2,2831.4 1442.6,2829.9 1443.1,2829.8 1443.6,2829.5 1444.1,2829.0 1444.5,2827.4 1445.0,2829.6 1445.5,2830.3 1446.0,2827.4 1446.4,2829.7 1446.9,2830.1 1447.4,2829.2 1447.9,2829.1 1448.3,2828.1 1448.8,2830.6 1449.3,2829.5 1449.8,2830.1 1450.2,2827.3 1450.7,2828.9 1451.2,2831.5 1451.7,2830.4 1452.1,2827.3 1452.6,2827.2 1453.1,2829.2 1453.6,2828.5 1454.0,2828.7 1454.5,2830.0 1455.0,2827.8 1455.5,2829.3 1455.9,2831.8 1456.4,2831.8 1456.9,2830.8 1457.4,2829.6 1457.8,2828.9 1458.3,2829.3 1458.8,2827.8 1459.3,2829.9 1459.7,2827.4 1460.2,2827.3 1460.7,2830.4 1461.1,2830.2 1461.6,2827.1 1462.1,2825.2 1462.6,2829.7 1463.0,2829.2 1463.5,2830.9 1464.0,2829.0 1464.5,2828.3 1464.9,2827.3 1465.4,2826.6 1466.1,2828.9 1466.3,2819.8 1466.6,2810.7 1466.8,2801.6 1466.8,2802.6 1467.3,2801.2 1467.7,2803.7 1468.2,2802.5 1468.7,2799.5 1469.2,2802.5 1469.6,2803.1 1470.1,2800.6 1470.6,2805.2 1471.1,2800.4 1471.5,2802.5 1472.0,2799.2 1472.5,2803.5 1473.0,2804.7 1473.4,2803.1 1473.9,2801.8 1474.4,2799.0 1474.9,2806.3 1475.3,2799.6 1475.8,2797.5 1476.3,2803.7 1476.8,2803.8 1477.2,2801.9 1477.7,2798.7 1478.2,2800.6 1478.7,2800.3 1479.1,2800.4 1479.6,2800.1 1480.1,2801.0 1480.6,2801.3 1481.0,2803.3 1481.5,2799.8 1482.0,2798.2 1482.5,2802.4 1483.0,2801.4 1483.4,2800.8 1483.9,2804.6 1484.4,2802.4 1484.9,2804.7 1485.3,2806.9 1485.8,2802.5 1486.3,2799.5 1486.8,2803.0 1487.2,2801.0 1487.7,2806.1 1488.2,2801.2 1488.7,2800.5 1489.1,2804.6 1489.6,2798.2 1490.1,2801.6 1490.6,2803.5 1491.0,2800.4 1491.5,2803.3 1492.0,2805.1 1492.5,2799.4 1492.9,2800.4 1493.4,2802.5 1493.9,2800.6 1494.3,2800.3 1494.4,2791.0 1494.6,2781.6 1494.7,2772.3 1494.7,2773.6 1495.2,2770.2 1495.7,2768.6 1496.2,2772.5 1496.6,2768.7 1497.1,2771.6 1497.6,2769.4 1498.1,2770.5 1498.6,2770.2 1499.1,2771.8 1499.5,2770.7 1500.0,2771.7 1500.5,2771.3 1501.0,2771.5 1501.5,2771.0 1502.0,2772.0 1502.4,2769.5 1502.9,2772.0 1503.4,2773.1 1503.9,2770.7 1504.4,2771.5 1504.9,2773.6 1505.3,2768.3 1505.8,2773.2 1506.3,2769.6 1506.8,2768.1 1507.3,2770.4 1507.8,2770.2 1508.2,2771.9 1508.7,2770.7 1509.2,2773.0 1509.7,2765.7 1510.2,2768.5 1510.7,2770.1 1511.1,2768.7 1511.6,2770.5 1512.1,2771.6 1512.6,2770.4 1513.1,2770.5 1513.6,2768.7 1514.0,2770.5 1514.5,2772.5 1515.0,2768.2 1515.5,2769.7 1516.0,2770.4 1516.5,2769.2 1516.9,2772.1 1517.4,2769.6 1517.7,2760.1 1518.0,2750.5 1518.3,2741.0 1518.3,2738.4 1518.8,2739.4 1519.3,2742.3 1519.7,2744.3 1520.2,2736.3 1520.7,2740.0 1521.2,2741.5 1521.6,2741.8 1522.1,2738.8 1522.6,2742.2 1523.1,2737.5 1523.6,2742.6 1524.0,2736.4 1524.5,2747.6 1525.0,2740.0 1525.5,2737.8 1525.9,2740.6 1526.4,2738.9 1526.9,2740.1 1527.4,2737.9 1527.8,2736.8 1528.3,2741.7 1528.8,2737.7 1529.3,2739.8 1529.8,2737.0 1530.2,2736.2 1530.7,2745.4 1531.2,2737.0 1531.7,2738.3 1532.1,2738.9 1532.6,2740.1 1533.1,2736.7 1533.6,2743.4 1534.0,2736.5 1534.5,2736.3 1535.0,2739.5 1535.5,2737.1 1536.0,2738.4 1536.4,2739.6 1536.9,2742.4 1537.4,2740.8 1537.9,2735.3 1538.3,2735.6 1538.8,2737.3 1539.3,2737.9 1539.8,2736.7 1540.3,2736.2 1540.7,2741.9 1541.2,2742.6 1541.7,2737.0 1542.2,2736.8 1542.6,2741.3 1543.1,2739.4 1543.6,2736.6 1544.1,2733.2 1544.7,2739.0 1545.9,2729.2 1547.0,2719.5 1548.1,2709.7 1548.1,2705.0 1548.6,2709.4 1549.1,2706.7 1549.6,2708.5 1550.1,2705.8 1550.5,2705.7 1551.0,2707.9 1551.5,2707.1 1552.0,2709.8 1552.4,2707.2 1552.9,2711.3 1553.4,2709.4 1553.9,2704.5 1554.4,2707.1 1554.8,2710.4 1555.3,2711.2 1555.8,2703.7 1556.3,2707.0 1556.8,2708.1 1557.2,2705.3 1557.7,2709.3 1558.2,2710.3 1558.7,2708.0 1559.1,2710.8 1559.6,2708.8 1560.1,2706.1 1560.6,2709.2 1561.1,2706.7 1561.5,2708.0 1562.0,2706.7 1562.5,2710.1 1563.0,2707.2 1563.5,2711.1 1563.9,2707.2 1564.4,2708.9 1564.8,2708.4 1564.9,2717.4 1565.0,2726.4 1565.1,2735.5 1565.2,2744.5 1565.3,2753.5 1565.4,2762.5 1565.6,2771.6 1565.7,2780.6 1565.8,2789.6 1565.8,2789.6 1568.5,2799.6 1571.2,2800.9 1571.2,2801.4 1571.7,2800.8 1572.2,2802.8 1572.6,2804.6 1573.1,2800.6 1573.6,2798.6 1574.1,2800.8 1574.6,2803.1 1575.1,2800.0 1575.5,2800.1 1576.0,2799.0 1576.5,2802.0 1577.0,2800.8 1577.5,2803.8 1578.0,2801.5 1578.5,2799.3 1578.9,2801.3 1579.4,2799.2 1579.9,2803.0 1580.4,2800.6 1580.9,2800.2 1581.4,2799.4 1581.8,2802.9 1582.3,2804.3 1582.8,2800.3 1583.3,2802.2 1583.8,2799.4 1584.3,2804.1 1584.7,2803.8 1585.2,2802.9 1585.9,2812.7 1586.7,2822.4 1587.5,2832.2 1588.3,2841.9 1589.1,2851.7 1589.9,2861.5 1590.6,2871.2 1591.4,2881.0 1592.2,2890.7 1593.0,2900.5 1593.8,2910.2 1594.6,2920.0 1595.4,2929.7 1596.1,2939.5 1596.9,2949.2 1597.7,2959.0 1598.5,2968.7 1599.3,2978.5 1600.1,2988.2 1600.8,2998.0 1601.6,3007.7 1602.4,3017.5 1603.2,3027.2 1604.0,3037.0 1604.8,3046.7 1605.6,3056.5 1606.3,3066.2 1607.1,3076.0" fill="none" stroke="#000" stroke-width="1.4" stroke-linejoin="miter"/>
<rect x="1133.2" y="2702.9" width="529.6" height="373.1" fill="none" stroke="#000" stroke-width="4.2"/>
<line x1="1126.6" y1="3076.0" x2="1131.6" y2="3076.0" stroke="#000" stroke-width="4.2"/>
<text x="1120.5" y="3087.0" font-size="40.5" font-family='"Liberation Sans", sans-serif' text-anchor="end">50</text>
<line x1="1126.6" y1="3009.4" x2="1131.6" y2="3009.4" stroke="#000" stroke-width="4.2"/>
<text x="1120.5" y="3020.4" font-size="40.5" font-family='"Liberation Sans", sans-serif' text-anchor="end">60</text>
<line x1="1126.6" y1="2942.8" x2="1131.6" y2="2942.8" stroke="#000" stroke-width="4.2"/>
<text x="1120.5" y="2953.8" font-size="40.5" font-family='"Liberation Sans", sans-serif' text-anchor="end">70</text>
<line x1="1126.6" y1="2876.2" x2="1131.6" y2="2876.2" stroke="#000" stroke-width="4.2"/>
<text x="1120.5" y="2887.2" font-size="40.5" font-family='"Liberation Sans", sans-serif' text-anchor="end">80</text>
<line x1="1126.6" y1="2809.6" x2="1131.6" y2="2809.6" stroke="#000" stroke-width="4.2"/>
<text x="1120.5" y="2820.6" font-size="40.5" font-family='"Liberation Sans", sans-serif' text-anchor="end">90</text>
<line x1="1126.6" y1="2743.0" x2="1131.6" y2="2743.0" stroke="#000" stroke-width="4.2"/>
<text x="1120.5" y="2754.0" font-size="40.5" font-family='"Liberation Sans", sans-serif' text-anchor="end">100</text>
<line x1="1129.3" y1="3069.3" x2="1131.6" y2="3069.3" stroke="#000" stroke-width="2.2"/>
<line x1="1129.3" y1="3062.7" x2="1131.6" y2="3062.7" stroke="#000" stroke-width="2.2"/>
<line x1="1129.3" y1="3056.0" x2="1131.6" y2="3056.0" stroke="#000" stroke-width="2.2"/>
<line x1="1129.3" y1="3049.4" x2="1131.6" y2="3049.4" stroke="#000" stroke-width="2.2"/>
<line x1="1129.3" y1="3042.7" x2="1131.6" y2="3042.7" stroke="#000" stroke-width="2.2"/>
<line x1="1129.3" y1="3036.0" x2="1131.6" y2="3036.0" stroke="#000" stroke-width="2.2"/>
<line x1="1129.3" y1="3029.4" x2="1131.6" y2="3029.4" stroke="#000" stroke-width="2.2"/>
<line x1="1129.3" y1="3022.7" x2="1131.6" y2="3022.7" stroke="#000" stroke-width="2.2"/>
<line x1="1129.3" y1="3016.1" x2="1131.6" y2="3016.1" stroke="#000" stroke-width="2.2"/>
<line x1="1129.3" y1="3002.7" x2="1131.6" y2="3002.7" stroke="#000" stroke-width="2.2"/>
<line x1="1129.3" y1="2996.1" x2="1131.6" y2="2996.1" stroke="#000" stroke-width="2.2"/>
<line x1="1129.3" y1="2989.4" x2="1131.6" y2="2989.4" stroke="#000" stroke-width="2.2"/>
<line x1="1129.3" y1="2982.8" x2="1131.6" y2="2982.8" stroke="#000" stroke-width="2.2"/>
<line x1="1129.3" y1="2976.1" x2="1131.6" y2="2976.1" stroke="#000" stroke-width="2.2"/>
<line x1="1129.3" y1="2969.4" x2="1131.6" y2="2969.4" stroke="#000" stroke-width="2.2"/>
<line x1="1129.3" y1="2962.8" x2="1131.6" y2="2962.8" stroke="#000" stroke-width="2.2"/>
<line x1="1129.3" y1="2956.1" x2="1131.6" y2="2956.1" stroke="#000" stroke-width="2.2"/>
<line x1="1129.3" y1="2949.5" x2="1131.6" y2="2949.5" stroke="#000" stroke-width="2.2"/>
<line x1="1129.3" y1="2936.1" x2="1131.6" y2="2936.1" stroke="#000" stroke-width="2.2"/>
<line x1="1129.3" y1="2929.5" x2="1131.6" y2="2929.5" stroke="#000" stroke-width="2.2"/>
<line x1="1129.3" y1="2922.8" x2="1131.6" y2="2922.8" stroke="#000" stroke-width="2.2"/>
<line x1="1129.3" y1="2916.2" x2="1131.6" y2="2916.2" stroke="#000" stroke-width="2.2"/>
<line x1="1129.3" y1="2909.5" x2="1131.6" y2="2909.5" stroke="#000" stroke-width="2.2"/>
<line x1="1129.3" y1="2902.8" x2="1131.6" y2="2902.8" stroke="#000" stroke-width="2.2"/>
<line x1="1129.3" y1="2896.2" x2="1131.6" y2="2896.2" stroke="#000" stroke-width="2.2"/>
<line x1="1129.3" y1="2889.5" x2="1131.6" y2="2889.5" stroke="#000" stroke-width="2.2"/>
<line x1="1129.3" y1="2882.9" x2="1131.6" y2="2882.9" stroke="#000" stroke-width="2.2"/>
<line x1="1129.3" y1="2869.5" x2="1131.6" y2="2869.5" stroke="#000" stroke-width="2.2"/>
<line x1="1129.3" y1="2862.9" x2="1131.6" y2="2862.9" stroke="#000" stroke-width="2.2"/>
<line x1="1129.3" y1="2856.2" x2="1131.6" y2="2856.2" stroke="#000" stroke-width="2.2"/>
<line x1="1129.3" y1="2849.6" x2="1131.6" y2="2849.6" stroke="#000" stroke-width="2.2"/>
<line x1="1129.3" y1="2842.9" x2="1131.6" y2="2842.9" stroke="#000" stroke-width="2.2"/>
<line x1="1129.3" y1="2836.2" x2="1131.6" y2="2836.2" stroke="#000" stroke-width="2.2"/>
<line x1="1129.3" y1="2829.6" x2="1131.6" y2="2829.6" stroke="#000" stroke-width="2.2"/>
<line x1="1129.3" y1="2822.9" x2="1131.6" y2="2822.9" stroke="#000" stroke-width="2.2"/>
<line x1="1129.3" y1="2816.3" x2="1131.6" y2="2816.3" stroke="#000" stroke-width="2.2"/>
<line x1="1129.3" y1="2802.9" x2="1131.6" y2="2802.9" stroke="#000" stroke-width="2.2"/>
<line x1="1129.3" y1="2796.3" x2="1131.6" y2="2796.3" stroke="#000" stroke-width="2.2"/>
<line x1="1129.3" y1="2789.6" x2="1131.6" y2="2789.6" stroke="#000" stroke-width="2.2"/>
<line x1="1129.3" y1="2783.0" x2="1131.6" y2="2783.0" stroke="#000" stroke-width="2.2"/>
<line x1="1129.3" y1="2776.3" x2="1131.6" y2="2776.3" stroke="#000" stroke-width="2.2"/>
<line x1="1129.3" y1="2769.6" x2="1131.6" y2="2769.6" stroke="#000" stroke-width="2.2"/>
<line x1="1129.3" y1="2763.0" x2="1131.6" y2="2763.0" stroke="#000" stroke-width="2.2"/>
<line x1="1129.3" y1="2756.3" x2="1131.6" y2="2756.3" stroke="#000" stroke-width="2.2"/>
<line x1="1129.3" y1="2749.7" x2="1131.6" y2="2749.7" stroke="#000" stroke-width="2.2"/>
<line x1="1129.3" y1="2736.3" x2="1131.6" y2="2736.3" stroke="#000" stroke-width="2.2"/>
<line x1="1129.3" y1="2729.7" x2="1131.6" y2="2729.7" stroke="#000" stroke-width="2.2"/>
<line x1="1129.3" y1="2723.0" x2="1131.6" y2="2723.0" stroke="#000" stroke-width="2.2"/>
<line x1="1129.3" y1="2716.4" x2="1131.6" y2="2716.4" stroke="#000" stroke-width="2.2"/>
<line x1="1129.3" y1="2709.7" x2="1131.6" y2="2709.7" stroke="#000" stroke-width="2.2"/>
<line x1="1133.2" y1="3077.6" x2="1133.2" y2="3082.6" stroke="#000" stroke-width="4.2"/>
<text x="1133.2" y="3122.5" font-size="40.5" font-family='"Liberation Sans", sans-serif' text-anchor="middle">0</text>
<line x1="1268.8" y1="3077.6" x2="1268.8" y2="3082.6" stroke="#000" stroke-width="4.2"/>
<text x="1268.8" y="3122.5" font-size="40.5" font-family='"Liberation Sans", sans-serif' text-anchor="middle">100</text>
<line x1="1404.4" y1="3077.6" x2="1404.4" y2="3082.6" stroke="#000" stroke-width="4.2"/>
<text x="1404.4" y="3122.5" font-size="40.5" font-family='"Liberation Sans", sans-serif' text-anchor="middle">200</text>
<line x1="1540.0" y1="3077.6" x2="1540.0" y2="3082.6" stroke="#000" stroke-width="4.2"/>
<text x="1540.0" y="3122.5" font-size="40.5" font-family='"Liberation Sans", sans-serif' text-anchor="middle">300</text>
<line x1="1146.8" y1="3077.6" x2="1146.8" y2="3079.9" stroke="#000" stroke-width="2.2"/>
<line x1="1160.3" y1="3077.6" x2="1160.3" y2="3079.9" stroke="#000" stroke-width="2.2"/>
<line x1="1173.9" y1="3077.6" x2="1173.9" y2="3079.9" stroke="#000" stroke-width="2.2"/>
<line x1="1187.4" y1="3077.6" x2="1187.4" y2="3079.9" stroke="#000" stroke-width="2.2"/>
<line x1="1201.0" y1="3077.6" x2="1201.0" y2="3079.9" stroke="#000" stroke-width="2.2"/>
<line x1="1214.6" y1="3077.6" x2="1214.6" y2="3079.9" stroke="#000" stroke-width="2.2"/>
<line x1="1228.1" y1="3077.6" x2="1228.1" y2="3079.9" stroke="#000" stroke-width="2.2"/>
<line x1="1241.7" y1="3077.6" x2="1241.7" y2="3079.9" stroke="#000" stroke-width="2.2"/>
<line x1="1255.2" y1="3077.6" x2="1255.2" y2="3079.9" stroke="#000" stroke-width="2.2"/>
<line x1="1282.4" y1="3077.6" x2="1282.4" y2="3079.9" stroke="#000" stroke-width="2.2"/>
<line x1="1295.9" y1="3077.6" x2="1295.9" y2="3079.9" stroke="#000" stroke-width="2.2"/>
<line x1="1309.5" y1="3077.6" x2="1309.5" y2="3079.9" stroke="#000" stroke-width="2.2"/>
<line x1="1323.0" y1="3077.6" x2="1323.0" y2="3079.9" stroke="#000" stroke-width="2.2"/>
<line x1="1336.6" y1="3077.6" x2="1336.6" y2="3079.9" stroke="#000" stroke-width="2.2"/>
<line x1="1350.2" y1="3077.6" x2="1350.2" y2="3079.9" stroke="#000" stroke-width="2.2"/>
<line x1="1363.7" y1="3077.6" x2="1363.7" y2="3079.9" stroke="#000" stroke-width="2.2"/>
<line x1="1377.3" y1="3077.6" x2="1377.3" y2="3079.9" stroke="#000" stroke-width="2.2"/>
<line x1="1390.8" y1="3077.6" x2="1390.8" y2="3079.9" stroke="#000" stroke-width="2.2"/>
<line x1="1418.0" y1="3077.6" x2="1418.0" y2="3079.9" stroke="#000" stroke-width="2.2"/>
<line x1="1431.5" y1="3077.6" x2="1431.5" y2="3079.9" stroke="#000" stroke-width="2.2"/>
<line x1="1445.1" y1="3077.6" x2="1445.1" y2="3079.9" stroke="#000" stroke-width="2.2"/>
<line x1="1458.6" y1="3077.6" x2="1458.6" y2="3079.9" stroke="#000" stroke-width="2.2"/>
<line x1="1472.2" y1="3077.6" x2="1472.2" y2="3079.9" stroke="#000" stroke-width="2.2"/>
<line x1="1485.8" y1="3077.6" x2="1485.8" y2="3079.9" stroke="#000" stroke-width="2.2"/>
<line x1="1499.3" y1="3077.6" x2="1499.3" y2="3079.9" stroke="#000" stroke-width="2.2"/>
<line x1="1512.9" y1="3077.6" x2="1512.9" y2="3079.9" stroke="#000" stroke-width="2.2"/>
<line x1="1526.4" y1="3077.6" x2="1526.4" y2="3079.9" stroke="#000" stroke-width="2.2"/>
<line x1="1553.6" y1="3077.6" x2="1553.6" y2="3079.9" stroke="#000" stroke-width="2.2"/>
<line x1="1567.1" y1="3077.6" x2="1567.1" y2="3079.9" stroke="#000" stroke-width="2.2"/>
<line x1="1580.7" y1="3077.6" x2="1580.7" y2="3079.9" stroke="#000" stroke-width="2.2"/>
<line x1="1594.2" y1="3077.6" x2="1594.2" y2="3079.9" stroke="#000" stroke-width="2.2"/>
<line x1="1607.8" y1="3077.6" x2="1607.8" y2="3079.9" stroke="#000" stroke-width="2.2"/>
<line x1="1621.4" y1="3077.6" x2="1621.4" y2="3079.9" stroke="#000" stroke-width="2.2"/>
<line x1="1634.9" y1="3077.6" x2="1634.9" y2="3079.9" stroke="#000" stroke-width="2.2"/>
<line x1="1648.5" y1="3077.6" x2="1648.5" y2="3079.9" stroke="#000" stroke-width="2.2"/>
<text x="1261.6" y="3161.8" font-size="38.9" font-family='"Liberation Sans", sans-serif' font-weight="bold" textLength="272.9" lengthAdjust="spacingAndGlyphs">Time / minutes</text>
<text x="1053.3" y="3075.5" font-size="41.3" font-family='"Liberation Sans", sans-serif' font-weight="bold" transform="rotate(-90 1053.3 3075.5)" textLength="329.0" lengthAdjust="spacingAndGlyphs">Temperature / °C</text>
</svg>
</body></html>
